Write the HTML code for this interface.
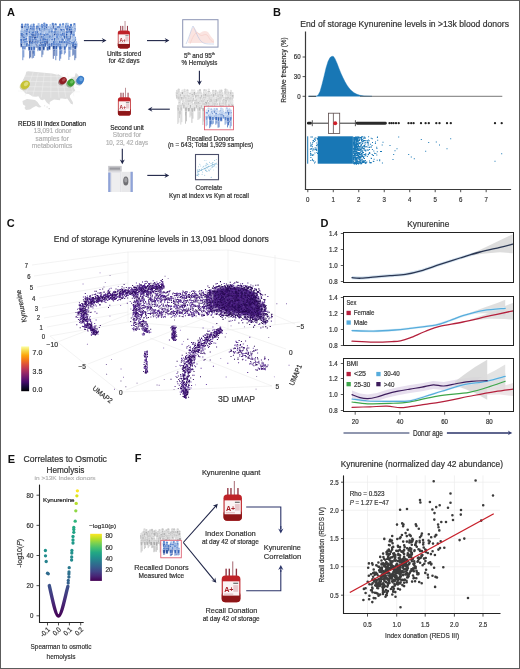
<!DOCTYPE html>
<html><head><meta charset="utf-8"><style>
html,body{margin:0;padding:0;background:#fff;}
svg{display:block;font-family:"Liberation Sans", sans-serif;will-change:transform;}
</style></head><body>
<svg width="520" height="669" viewBox="0 0 520 669">
<rect x="0" y="0" width="520" height="669" fill="#fff"/>
<text x="6.90" y="15.80" font-size="11" fill="#111" font-weight="bold">A</text>
<path d="M20.8 25.8h2.7l-0.3 4.2h-2.1zM24.3 25.8h2.7l-0.3 4.2h-2.1zM32.3 25.8h2.7l-0.3 4.2h-2.1zM51.5 25.1h2.7l-0.3 4.2h-2.1zM73.0 25.2h2.7l-0.3 4.2h-2.1z" fill="#1f4598" stroke="#fff" stroke-width="0.35"/>
<path d="M26.4 25.9h2.7l-0.3 4.2h-2.1zM40.5 26.1h2.7l-0.3 4.2h-2.1zM42.9 24.8h2.7l-0.3 4.2h-2.1zM58.8 25.8h2.7l-0.3 4.2h-2.1zM61.7 25.4h2.7l-0.3 4.2h-2.1z" fill="#2f5fb5" stroke="#fff" stroke-width="0.35"/>
<path d="M30.2 26.0h2.7l-0.3 4.2h-2.1zM37.2 25.2h2.7l-0.3 4.2h-2.1zM49.2 26.1h2.7l-0.3 4.2h-2.1zM64.9 25.0h2.7l-0.3 4.2h-2.1zM66.4 24.9h2.7l-0.3 4.2h-2.1z" fill="#3a68bd" stroke="#fff" stroke-width="0.35"/>
<path d="M45.3 26.1h2.7l-0.3 4.2h-2.1zM54.3 25.6h2.7l-0.3 4.2h-2.1zM69.6 26.1h2.7l-0.3 4.2h-2.1z" fill="#2550a5" stroke="#fff" stroke-width="0.35"/>
<path d="M22.1 24.8h0M25.7 24.8h0M33.6 24.8h0M52.8 24.0h0M74.4 24.1h0" stroke="#fff" stroke-width="2.75" stroke-linecap="round" opacity="0.6"/><path d="M22.1 24.8h0M25.7 24.8h0M33.6 24.8h0M52.8 24.0h0M74.4 24.1h0" stroke="#5b86cf" stroke-width="2.40" stroke-linecap="round"/>
<path d="M27.8 24.8h0M41.9 25.0h0M44.3 23.7h0M60.1 24.8h0M63.1 24.3h0" stroke="#fff" stroke-width="2.75" stroke-linecap="round" opacity="0.6"/><path d="M27.8 24.8h0M41.9 25.0h0M44.3 23.7h0M60.1 24.8h0M63.1 24.3h0" stroke="#6a92d6" stroke-width="2.40" stroke-linecap="round"/>
<path d="M31.5 25.0h0M38.6 24.1h0M50.5 25.1h0M67.7 23.9h0" stroke="#fff" stroke-width="2.75" stroke-linecap="round" opacity="0.6"/><path d="M31.5 25.0h0M38.6 24.1h0M50.5 25.1h0M67.7 23.9h0" stroke="#a9c3ea" stroke-width="2.40" stroke-linecap="round"/>
<path d="M46.6 25.0h0M55.6 24.5h0M71.0 25.0h0" stroke="#fff" stroke-width="2.75" stroke-linecap="round" opacity="0.6"/><path d="M46.6 25.0h0M55.6 24.5h0M71.0 25.0h0" stroke="#4f7cc8" stroke-width="2.40" stroke-linecap="round"/>
<path d="M66.3 24.0h0" stroke="#fff" stroke-width="2.75" stroke-linecap="round" opacity="0.6"/><path d="M66.3 24.0h0" stroke="#8fb0e0" stroke-width="2.40" stroke-linecap="round"/>
<path d="M23.6 27.7h2.7l-0.3 4.2h-2.1zM32.0 28.4h2.7l-0.3 4.2h-2.1zM35.6 27.8h2.7l-0.3 4.2h-2.1zM56.7 28.2h2.7l-0.3 4.2h-2.1zM66.3 27.6h2.7l-0.3 4.2h-2.1z" fill="#1f4598" stroke="#fff" stroke-width="0.35"/>
<path d="M25.6 28.3h2.7l-0.3 4.2h-2.1zM38.5 27.4h2.7l-0.3 4.2h-2.1zM47.2 28.4h2.7l-0.3 4.2h-2.1zM50.2 27.6h2.7l-0.3 4.2h-2.1zM54.1 27.8h2.7l-0.3 4.2h-2.1zM60.0 28.4h2.7l-0.3 4.2h-2.1zM62.3 28.5h2.7l-0.3 4.2h-2.1zM71.1 28.6h2.7l-0.3 4.2h-2.1zM73.1 27.9h2.7l-0.3 4.2h-2.1z" fill="#3a68bd" stroke="#fff" stroke-width="0.35"/>
<path d="M29.3 27.4h2.7l-0.3 4.2h-2.1zM43.4 27.6h2.7l-0.3 4.2h-2.1z" fill="#2f5fb5" stroke="#fff" stroke-width="0.35"/>
<path d="M40.8 28.2h2.7l-0.3 4.2h-2.1zM68.5 28.5h2.7l-0.3 4.2h-2.1z" fill="#2550a5" stroke="#fff" stroke-width="0.35"/>
<path d="M25.0 26.6h0M33.4 27.3h0M36.9 26.8h0M58.1 27.1h0M67.7 26.5h0" stroke="#fff" stroke-width="2.75" stroke-linecap="round" opacity="0.6"/><path d="M25.0 26.6h0M33.4 27.3h0M36.9 26.8h0M58.1 27.1h0M67.7 26.5h0" stroke="#5b86cf" stroke-width="2.40" stroke-linecap="round"/>
<path d="M26.9 27.2h0M72.5 27.6h0" stroke="#fff" stroke-width="2.75" stroke-linecap="round" opacity="0.6"/><path d="M26.9 27.2h0M72.5 27.6h0" stroke="#8fb0e0" stroke-width="2.40" stroke-linecap="round"/>
<path d="M30.7 26.4h0M44.8 26.5h0" stroke="#fff" stroke-width="2.75" stroke-linecap="round" opacity="0.6"/><path d="M30.7 26.4h0M44.8 26.5h0" stroke="#6a92d6" stroke-width="2.40" stroke-linecap="round"/>
<path d="M39.9 26.3h0M48.5 27.3h0M51.5 26.6h0M55.5 26.7h0M61.3 27.3h0M63.6 27.4h0M74.5 26.8h0" stroke="#fff" stroke-width="2.75" stroke-linecap="round" opacity="0.6"/><path d="M39.9 26.3h0M48.5 27.3h0M51.5 26.6h0M55.5 26.7h0M61.3 27.3h0M63.6 27.4h0M74.5 26.8h0" stroke="#a9c3ea" stroke-width="2.40" stroke-linecap="round"/>
<path d="M42.1 27.1h0M69.8 27.5h0" stroke="#fff" stroke-width="2.75" stroke-linecap="round" opacity="0.6"/><path d="M42.1 27.1h0M69.8 27.5h0" stroke="#4f7cc8" stroke-width="2.40" stroke-linecap="round"/>
<path d="M20.6 30.2h2.7l-0.3 4.2h-2.1zM23.4 30.1h2.7l-0.3 4.2h-2.1zM28.2 31.0h2.7l-0.3 4.2h-2.1zM36.0 30.9h2.7l-0.3 4.2h-2.1zM39.8 30.0h2.7l-0.3 4.2h-2.1zM41.8 30.3h2.7l-0.3 4.2h-2.1zM44.8 30.6h2.7l-0.3 4.2h-2.1zM48.1 30.8h2.7l-0.3 4.2h-2.1zM50.7 30.6h2.7l-0.3 4.2h-2.1zM57.1 30.2h2.7l-0.3 4.2h-2.1zM72.1 30.6h2.7l-0.3 4.2h-2.1z" fill="#3a68bd" stroke="#fff" stroke-width="0.35"/>
<path d="M31.5 29.9h2.7l-0.3 4.2h-2.1zM32.3 30.0h2.7l-0.3 4.2h-2.1zM62.6 31.0h2.7l-0.3 4.2h-2.1z" fill="#2f5fb5" stroke="#fff" stroke-width="0.35"/>
<path d="M54.5 30.4h2.7l-0.3 4.2h-2.1zM65.6 30.4h2.7l-0.3 4.2h-2.1z" fill="#2550a5" stroke="#fff" stroke-width="0.35"/>
<path d="M61.8 31.2h2.7l-0.3 4.2h-2.1zM69.8 30.5h2.7l-0.3 4.2h-2.1z" fill="#1f4598" stroke="#fff" stroke-width="0.35"/>
<path d="M21.9 29.1h0M24.8 29.0h0M58.4 29.2h0M73.5 29.6h0" stroke="#fff" stroke-width="2.75" stroke-linecap="round" opacity="0.6"/><path d="M21.9 29.1h0M24.8 29.0h0M58.4 29.2h0M73.5 29.6h0" stroke="#a9c3ea" stroke-width="2.40" stroke-linecap="round"/>
<path d="M29.5 29.9h0M37.3 29.8h0M41.2 28.9h0M43.1 29.2h0M46.1 29.5h0M49.5 29.7h0M52.1 29.5h0" stroke="#fff" stroke-width="2.75" stroke-linecap="round" opacity="0.6"/><path d="M29.5 29.9h0M37.3 29.8h0M41.2 28.9h0M43.1 29.2h0M46.1 29.5h0M49.5 29.7h0M52.1 29.5h0" stroke="#8fb0e0" stroke-width="2.40" stroke-linecap="round"/>
<path d="M32.9 28.8h0M33.7 28.9h0M63.9 29.9h0" stroke="#fff" stroke-width="2.75" stroke-linecap="round" opacity="0.6"/><path d="M32.9 28.8h0M33.7 28.9h0M63.9 29.9h0" stroke="#6a92d6" stroke-width="2.40" stroke-linecap="round"/>
<path d="M55.8 29.3h0M67.0 29.3h0" stroke="#fff" stroke-width="2.75" stroke-linecap="round" opacity="0.6"/><path d="M55.8 29.3h0M67.0 29.3h0" stroke="#4f7cc8" stroke-width="2.40" stroke-linecap="round"/>
<path d="M63.2 30.2h0M71.2 29.4h0" stroke="#fff" stroke-width="2.75" stroke-linecap="round" opacity="0.6"/><path d="M63.2 30.2h0M71.2 29.4h0" stroke="#5b86cf" stroke-width="2.40" stroke-linecap="round"/>
<path d="M20.3 32.5h2.7l-0.3 4.2h-2.1zM22.7 33.3h2.7l-0.3 4.2h-2.1zM29.8 32.8h2.7l-0.3 4.2h-2.1zM38.9 33.2h2.7l-0.3 4.2h-2.1zM42.2 33.6h2.7l-0.3 4.2h-2.1zM44.9 33.1h2.7l-0.3 4.2h-2.1zM46.8 33.1h2.7l-0.3 4.2h-2.1zM56.2 32.8h2.7l-0.3 4.2h-2.1zM59.0 33.3h2.7l-0.3 4.2h-2.1zM61.5 32.4h2.7l-0.3 4.2h-2.1zM72.4 33.6h2.7l-0.3 4.2h-2.1z" fill="#3a68bd" stroke="#fff" stroke-width="0.35"/>
<path d="M25.2 32.6h2.7l-0.3 4.2h-2.1zM34.4 33.0h2.7l-0.3 4.2h-2.1zM67.6 32.9h2.7l-0.3 4.2h-2.1z" fill="#2f5fb5" stroke="#fff" stroke-width="0.35"/>
<path d="M31.5 33.7h2.7l-0.3 4.2h-2.1zM65.4 33.5h2.7l-0.3 4.2h-2.1z" fill="#2550a5" stroke="#fff" stroke-width="0.35"/>
<path d="M50.3 32.6h2.7l-0.3 4.2h-2.1zM53.1 33.2h2.7l-0.3 4.2h-2.1z" fill="#1f4598" stroke="#fff" stroke-width="0.35"/>
<path d="M21.6 31.4h0M24.1 32.3h0M31.2 31.8h0M48.2 32.0h0M57.5 31.7h0M60.3 32.2h0M62.9 31.4h0M73.7 32.5h0" stroke="#fff" stroke-width="2.75" stroke-linecap="round" opacity="0.6"/><path d="M21.6 31.4h0M24.1 32.3h0M31.2 31.8h0M48.2 32.0h0M57.5 31.7h0M60.3 32.2h0M62.9 31.4h0M73.7 32.5h0" stroke="#8fb0e0" stroke-width="2.40" stroke-linecap="round"/>
<path d="M26.6 31.5h0M35.7 31.9h0M68.9 31.8h0" stroke="#fff" stroke-width="2.75" stroke-linecap="round" opacity="0.6"/><path d="M26.6 31.5h0M35.7 31.9h0M68.9 31.8h0" stroke="#6a92d6" stroke-width="2.40" stroke-linecap="round"/>
<path d="M32.8 32.6h0M66.8 32.5h0" stroke="#fff" stroke-width="2.75" stroke-linecap="round" opacity="0.6"/><path d="M32.8 32.6h0M66.8 32.5h0" stroke="#4f7cc8" stroke-width="2.40" stroke-linecap="round"/>
<path d="M40.2 32.1h0M43.5 32.5h0M46.2 32.0h0" stroke="#fff" stroke-width="2.75" stroke-linecap="round" opacity="0.6"/><path d="M40.2 32.1h0M43.5 32.5h0M46.2 32.0h0" stroke="#a9c3ea" stroke-width="2.40" stroke-linecap="round"/>
<path d="M51.7 31.5h0M54.5 32.2h0" stroke="#fff" stroke-width="2.75" stroke-linecap="round" opacity="0.6"/><path d="M51.7 31.5h0M54.5 32.2h0" stroke="#5b86cf" stroke-width="2.40" stroke-linecap="round"/>
<path d="M20.5 35.0h2.7l-0.3 4.2h-2.1zM29.5 35.4h2.7l-0.3 4.2h-2.1zM43.3 36.2h2.7l-0.3 4.2h-2.1zM68.9 35.5h2.7l-0.3 4.2h-2.1z" fill="#2550a5" stroke="#fff" stroke-width="0.35"/>
<path d="M23.7 36.2h2.7l-0.3 4.2h-2.1zM28.3 35.8h2.7l-0.3 4.2h-2.1zM48.7 35.1h2.7l-0.3 4.2h-2.1zM51.1 35.1h2.7l-0.3 4.2h-2.1zM67.5 35.2h2.7l-0.3 4.2h-2.1z" fill="#3a68bd" stroke="#fff" stroke-width="0.35"/>
<path d="M33.7 36.2h2.7l-0.3 4.2h-2.1zM39.3 35.4h2.7l-0.3 4.2h-2.1zM45.9 35.4h2.7l-0.3 4.2h-2.1zM55.7 35.7h2.7l-0.3 4.2h-2.1z" fill="#1f4598" stroke="#fff" stroke-width="0.35"/>
<path d="M36.6 35.1h2.7l-0.3 4.2h-2.1zM56.7 36.2h2.7l-0.3 4.2h-2.1zM59.5 36.1h2.7l-0.3 4.2h-2.1zM62.8 35.1h2.7l-0.3 4.2h-2.1zM72.0 35.9h2.7l-0.3 4.2h-2.1z" fill="#2f5fb5" stroke="#fff" stroke-width="0.35"/>
<path d="M21.8 33.9h0M30.9 34.4h0M44.6 35.1h0M70.2 34.5h0" stroke="#fff" stroke-width="2.75" stroke-linecap="round" opacity="0.6"/><path d="M21.8 33.9h0M30.9 34.4h0M44.6 35.1h0M70.2 34.5h0" stroke="#4f7cc8" stroke-width="2.40" stroke-linecap="round"/>
<path d="M25.1 35.2h0M29.6 34.7h0M52.4 34.0h0" stroke="#fff" stroke-width="2.75" stroke-linecap="round" opacity="0.6"/><path d="M25.1 35.2h0M29.6 34.7h0M52.4 34.0h0" stroke="#8fb0e0" stroke-width="2.40" stroke-linecap="round"/>
<path d="M35.1 35.1h0M40.7 34.3h0M47.2 34.4h0M57.0 34.7h0" stroke="#fff" stroke-width="2.75" stroke-linecap="round" opacity="0.6"/><path d="M35.1 35.1h0M40.7 34.3h0M47.2 34.4h0M57.0 34.7h0" stroke="#5b86cf" stroke-width="2.40" stroke-linecap="round"/>
<path d="M38.0 34.1h0M58.1 35.1h0M60.9 35.0h0M64.2 34.0h0M73.3 34.8h0" stroke="#fff" stroke-width="2.75" stroke-linecap="round" opacity="0.6"/><path d="M38.0 34.1h0M58.1 35.1h0M60.9 35.0h0M64.2 34.0h0M73.3 34.8h0" stroke="#6a92d6" stroke-width="2.40" stroke-linecap="round"/>
<path d="M50.1 34.0h0M68.8 34.1h0" stroke="#fff" stroke-width="2.75" stroke-linecap="round" opacity="0.6"/><path d="M50.1 34.0h0M68.8 34.1h0" stroke="#a9c3ea" stroke-width="2.40" stroke-linecap="round"/>
<path d="M29.6 42.0v16.4M30.6 42.0v15.4" stroke="#1f4598" stroke-width="0.70"/>
<path d="M54.3 41.7v9.0M55.3 41.7v8.0" stroke="#3a68bd" stroke-width="0.70"/>
<path d="M20.0 38.6h2.7l-0.3 4.2h-2.1zM24.7 37.6h2.7l-0.3 4.2h-2.1zM38.1 37.9h2.7l-0.3 4.2h-2.1zM44.4 38.1h2.7l-0.3 4.2h-2.1zM46.6 38.1h2.7l-0.3 4.2h-2.1zM50.3 38.6h2.7l-0.3 4.2h-2.1zM53.4 37.6h2.7l-0.3 4.2h-2.1zM58.0 37.5h2.7l-0.3 4.2h-2.1zM61.4 38.7h2.7l-0.3 4.2h-2.1zM67.4 37.7h2.7l-0.3 4.2h-2.1zM72.1 38.5h2.7l-0.3 4.2h-2.1z" fill="#3a68bd" stroke="#fff" stroke-width="0.35"/>
<path d="M22.4 38.5h2.7l-0.3 4.2h-2.1zM31.0 38.9h2.7l-0.3 4.2h-2.1zM65.3 38.0h2.7l-0.3 4.2h-2.1z" fill="#2550a5" stroke="#fff" stroke-width="0.35"/>
<path d="M28.7 38.0h2.7l-0.3 4.2h-2.1zM35.9 38.6h2.7l-0.3 4.2h-2.1z" fill="#1f4598" stroke="#fff" stroke-width="0.35"/>
<path d="M41.8 38.0h2.7l-0.3 4.2h-2.1zM55.6 38.1h2.7l-0.3 4.2h-2.1zM73.5 38.8h2.7l-0.3 4.2h-2.1z" fill="#2f5fb5" stroke="#fff" stroke-width="0.35"/>
<path d="M21.3 37.6h0M26.1 36.5h0M39.5 36.8h0M45.8 37.1h0M48.0 37.0h0M51.7 37.5h0M59.4 36.5h0M68.8 36.6h0" stroke="#fff" stroke-width="2.75" stroke-linecap="round" opacity="0.6"/><path d="M21.3 37.6h0M26.1 36.5h0M39.5 36.8h0M45.8 37.1h0M48.0 37.0h0M51.7 37.5h0M59.4 36.5h0M68.8 36.6h0" stroke="#8fb0e0" stroke-width="2.40" stroke-linecap="round"/>
<path d="M23.8 37.4h0M32.4 37.8h0M66.6 36.9h0" stroke="#fff" stroke-width="2.75" stroke-linecap="round" opacity="0.6"/><path d="M23.8 37.4h0M32.4 37.8h0M66.6 36.9h0" stroke="#4f7cc8" stroke-width="2.40" stroke-linecap="round"/>
<path d="M30.0 36.9h0M37.3 37.5h0" stroke="#fff" stroke-width="2.75" stroke-linecap="round" opacity="0.6"/><path d="M30.0 36.9h0M37.3 37.5h0" stroke="#5b86cf" stroke-width="2.40" stroke-linecap="round"/>
<path d="M43.2 36.9h0M57.0 37.0h0M74.8 37.7h0" stroke="#fff" stroke-width="2.75" stroke-linecap="round" opacity="0.6"/><path d="M43.2 36.9h0M57.0 37.0h0M74.8 37.7h0" stroke="#6a92d6" stroke-width="2.40" stroke-linecap="round"/>
<path d="M54.8 36.6h0M62.7 37.6h0M73.5 37.4h0" stroke="#fff" stroke-width="2.75" stroke-linecap="round" opacity="0.6"/><path d="M54.8 36.6h0M62.7 37.6h0M73.5 37.4h0" stroke="#a9c3ea" stroke-width="2.40" stroke-linecap="round"/>
<path d="M32.2 44.8v13.6M33.2 44.8v8.9" stroke="#1f4598" stroke-width="0.70"/>
<path d="M37.9 44.1v7.1M38.9 44.1v4.9" stroke="#3a68bd" stroke-width="0.70"/>
<path d="M22.6 41.4h2.7l-0.3 4.2h-2.1zM23.6 40.7h2.7l-0.3 4.2h-2.1zM42.5 40.2h2.7l-0.3 4.2h-2.1zM60.7 40.6h2.7l-0.3 4.2h-2.1z" fill="#2550a5" stroke="#fff" stroke-width="0.35"/>
<path d="M28.6 40.1h2.7l-0.3 4.2h-2.1zM31.3 40.8h2.7l-0.3 4.2h-2.1zM34.2 40.7h2.7l-0.3 4.2h-2.1zM39.3 41.2h2.7l-0.3 4.2h-2.1zM45.9 40.7h2.7l-0.3 4.2h-2.1zM51.0 40.7h2.7l-0.3 4.2h-2.1z" fill="#1f4598" stroke="#fff" stroke-width="0.35"/>
<path d="M37.0 40.1h2.7l-0.3 4.2h-2.1zM47.9 40.9h2.7l-0.3 4.2h-2.1zM55.2 40.9h2.7l-0.3 4.2h-2.1zM58.7 40.4h2.7l-0.3 4.2h-2.1zM64.6 41.0h2.7l-0.3 4.2h-2.1zM70.9 41.3h2.7l-0.3 4.2h-2.1zM72.6 40.3h2.7l-0.3 4.2h-2.1z" fill="#3a68bd" stroke="#fff" stroke-width="0.35"/>
<path d="M66.7 41.0h2.7l-0.3 4.2h-2.1z" fill="#2f5fb5" stroke="#fff" stroke-width="0.35"/>
<path d="M23.9 40.3h0M24.9 39.6h0M43.9 39.1h0M62.1 39.5h0" stroke="#fff" stroke-width="2.75" stroke-linecap="round" opacity="0.6"/><path d="M23.9 40.3h0M24.9 39.6h0M43.9 39.1h0M62.1 39.5h0" stroke="#4f7cc8" stroke-width="2.40" stroke-linecap="round"/>
<path d="M29.9 39.1h0M32.7 39.7h0M35.5 39.6h0M40.6 40.1h0M47.3 39.7h0M52.3 39.6h0" stroke="#fff" stroke-width="2.75" stroke-linecap="round" opacity="0.6"/><path d="M29.9 39.1h0M32.7 39.7h0M35.5 39.6h0M40.6 40.1h0M47.3 39.7h0M52.3 39.6h0" stroke="#5b86cf" stroke-width="2.40" stroke-linecap="round"/>
<path d="M38.3 39.0h0M60.1 39.3h0M72.3 40.2h0M74.0 39.2h0" stroke="#fff" stroke-width="2.75" stroke-linecap="round" opacity="0.6"/><path d="M38.3 39.0h0M60.1 39.3h0M72.3 40.2h0M74.0 39.2h0" stroke="#a9c3ea" stroke-width="2.40" stroke-linecap="round"/>
<path d="M49.3 39.9h0M56.6 39.8h0M65.9 39.9h0" stroke="#fff" stroke-width="2.75" stroke-linecap="round" opacity="0.6"/><path d="M49.3 39.9h0M56.6 39.8h0M65.9 39.9h0" stroke="#8fb0e0" stroke-width="2.40" stroke-linecap="round"/>
<path d="M68.0 40.0h0" stroke="#fff" stroke-width="2.75" stroke-linecap="round" opacity="0.6"/><path d="M68.0 40.0h0" stroke="#6a92d6" stroke-width="2.40" stroke-linecap="round"/>
<path d="M41.9 47.5v9.7M42.9 47.5v7.2M72.8 48.0v7.7M73.8 48.0v6.8" stroke="#2550a5" stroke-width="0.70"/>
<path d="M20.2 43.1h2.7l-0.3 4.2h-2.1zM36.1 43.9h2.7l-0.3 4.2h-2.1z" fill="#1f4598" stroke="#fff" stroke-width="0.35"/>
<path d="M23.4 42.8h2.7l-0.3 4.2h-2.1zM25.3 42.7h2.7l-0.3 4.2h-2.1zM33.1 43.5h2.7l-0.3 4.2h-2.1zM64.7 43.1h2.7l-0.3 4.2h-2.1zM68.5 42.6h2.7l-0.3 4.2h-2.1z" fill="#2f5fb5" stroke="#fff" stroke-width="0.35"/>
<path d="M30.1 43.9h2.7l-0.3 4.2h-2.1zM41.0 43.5h2.7l-0.3 4.2h-2.1zM43.6 42.8h2.7l-0.3 4.2h-2.1zM52.4 43.0h2.7l-0.3 4.2h-2.1zM60.1 43.2h2.7l-0.3 4.2h-2.1zM63.1 43.3h2.7l-0.3 4.2h-2.1zM71.9 43.9h2.7l-0.3 4.2h-2.1z" fill="#2550a5" stroke="#fff" stroke-width="0.35"/>
<path d="M37.8 43.9h2.7l-0.3 4.2h-2.1zM48.2 43.4h2.7l-0.3 4.2h-2.1zM50.4 42.6h2.7l-0.3 4.2h-2.1zM56.4 43.0h2.7l-0.3 4.2h-2.1zM74.8 43.2h2.7l-0.3 4.2h-2.1z" fill="#3a68bd" stroke="#fff" stroke-width="0.35"/>
<path d="M21.5 42.1h0M37.5 42.8h0" stroke="#fff" stroke-width="2.75" stroke-linecap="round" opacity="0.6"/><path d="M21.5 42.1h0M37.5 42.8h0" stroke="#5b86cf" stroke-width="2.40" stroke-linecap="round"/>
<path d="M24.8 41.7h0M26.7 41.6h0M34.4 42.4h0M66.1 42.0h0M69.8 41.5h0" stroke="#fff" stroke-width="2.75" stroke-linecap="round" opacity="0.6"/><path d="M24.8 41.7h0M26.7 41.6h0M34.4 42.4h0M66.1 42.0h0M69.8 41.5h0" stroke="#6a92d6" stroke-width="2.40" stroke-linecap="round"/>
<path d="M31.4 42.8h0M42.4 42.4h0M44.9 41.7h0M53.7 41.9h0M61.4 42.1h0M64.4 42.2h0M73.3 42.9h0" stroke="#fff" stroke-width="2.75" stroke-linecap="round" opacity="0.6"/><path d="M31.4 42.8h0M42.4 42.4h0M44.9 41.7h0M53.7 41.9h0M61.4 42.1h0M64.4 42.2h0M73.3 42.9h0" stroke="#4f7cc8" stroke-width="2.40" stroke-linecap="round"/>
<path d="M39.1 42.8h0M57.7 41.9h0" stroke="#fff" stroke-width="2.75" stroke-linecap="round" opacity="0.6"/><path d="M39.1 42.8h0M57.7 41.9h0" stroke="#8fb0e0" stroke-width="2.40" stroke-linecap="round"/>
<path d="M49.6 42.3h0M51.8 41.5h0M76.1 42.1h0" stroke="#fff" stroke-width="2.75" stroke-linecap="round" opacity="0.6"/><path d="M49.6 42.3h0M51.8 41.5h0M76.1 42.1h0" stroke="#a9c3ea" stroke-width="2.40" stroke-linecap="round"/>
<path d="M22.8 49.6v10.6M23.8 49.6v7.8M33.6 50.1v7.8M34.6 50.1v5.8M60.9 49.5v5.0M61.9 49.5v4.5M64.3 49.9v4.6M65.3 49.9v3.3M68.9 50.2v9.8M69.9 50.2v6.7" stroke="#3a68bd" stroke-width="0.70"/>
<path d="M53.3 49.4v9.4M54.3 49.4v6.5" stroke="#1f4598" stroke-width="0.70"/>
<path d="M55.8 49.3v10.9M56.8 49.3v6.6M59.7 49.9v10.8M60.7 49.9v8.8" stroke="#2f5fb5" stroke-width="0.70"/>
<path d="M74.8 49.5v10.7M75.8 49.5v8.7" stroke="#2550a5" stroke-width="0.70"/>
<path d="M21.9 45.6h2.7l-0.3 4.2h-2.1zM23.2 45.4h2.7l-0.3 4.2h-2.1zM30.2 46.3h2.7l-0.3 4.2h-2.1zM32.7 46.1h2.7l-0.3 4.2h-2.1zM37.4 45.7h2.7l-0.3 4.2h-2.1zM60.0 45.4h2.7l-0.3 4.2h-2.1zM63.4 45.9h2.7l-0.3 4.2h-2.1zM68.0 46.2h2.7l-0.3 4.2h-2.1zM69.0 45.9h2.7l-0.3 4.2h-2.1z" fill="#3a68bd" stroke="#fff" stroke-width="0.35"/>
<path d="M28.0 46.2h2.7l-0.3 4.2h-2.1zM38.5 46.5h2.7l-0.3 4.2h-2.1zM42.3 46.0h2.7l-0.3 4.2h-2.1zM73.9 45.4h2.7l-0.3 4.2h-2.1z" fill="#2550a5" stroke="#fff" stroke-width="0.35"/>
<path d="M46.4 46.2h2.7l-0.3 4.2h-2.1zM54.9 45.3h2.7l-0.3 4.2h-2.1zM58.8 45.8h2.7l-0.3 4.2h-2.1z" fill="#2f5fb5" stroke="#fff" stroke-width="0.35"/>
<path d="M48.0 45.6h2.7l-0.3 4.2h-2.1zM52.4 45.4h2.7l-0.3 4.2h-2.1z" fill="#1f4598" stroke="#fff" stroke-width="0.35"/>
<path d="M23.3 44.5h0M34.1 45.0h0M38.7 44.6h0M64.8 44.8h0M69.3 45.1h0" stroke="#fff" stroke-width="2.75" stroke-linecap="round" opacity="0.6"/><path d="M23.3 44.5h0M34.1 45.0h0M38.7 44.6h0M64.8 44.8h0M69.3 45.1h0" stroke="#a9c3ea" stroke-width="2.40" stroke-linecap="round"/>
<path d="M24.6 44.3h0M31.6 45.2h0M61.4 44.4h0M70.4 44.8h0" stroke="#fff" stroke-width="2.75" stroke-linecap="round" opacity="0.6"/><path d="M24.6 44.3h0M31.6 45.2h0M61.4 44.4h0M70.4 44.8h0" stroke="#8fb0e0" stroke-width="2.40" stroke-linecap="round"/>
<path d="M29.3 45.1h0M39.8 45.4h0M43.7 44.9h0M75.3 44.4h0" stroke="#fff" stroke-width="2.75" stroke-linecap="round" opacity="0.6"/><path d="M29.3 45.1h0M39.8 45.4h0M43.7 44.9h0M75.3 44.4h0" stroke="#4f7cc8" stroke-width="2.40" stroke-linecap="round"/>
<path d="M47.8 45.2h0M56.2 44.2h0M60.1 44.8h0" stroke="#fff" stroke-width="2.75" stroke-linecap="round" opacity="0.6"/><path d="M47.8 45.2h0M56.2 44.2h0M60.1 44.8h0" stroke="#6a92d6" stroke-width="2.40" stroke-linecap="round"/>
<path d="M49.4 44.5h0M53.8 44.3h0" stroke="#fff" stroke-width="2.75" stroke-linecap="round" opacity="0.6"/><path d="M49.4 44.5h0M53.8 44.3h0" stroke="#5b86cf" stroke-width="2.40" stroke-linecap="round"/>
<line x1="83.90" y1="40.60" x2="103.62" y2="40.60" stroke="#1d2346" stroke-width="1.1"/>
<polygon points="106.50,40.60 101.70,43.10 103.38,40.60 101.70,38.10" fill="#1d2346"/>
<rect x="124.63" y="20.99" width="0.80" height="9.77" fill="#b07880"/>
<rect x="120.24" y="25.88" width="0.96" height="4.89" fill="#8c2c3a"/>
<rect x="122.31" y="25.88" width="0.96" height="4.89" fill="#8c2c3a"/>
<rect x="126.95" y="25.88" width="0.96" height="4.89" fill="#8c2c3a"/>
<rect x="117.80" y="30.40" width="12.20" height="18.10" rx="2.44" fill="#bf2228"/>
<rect x="117.80" y="41.26" width="12.20" height="7.24" rx="2.44" fill="#8e1618"/>
<rect x="118.53" y="34.38" width="10.74" height="9.59" fill="#fbf4f4"/>
<text x="119.39" y="41.80" font-size="4.89" font-weight="bold" fill="#a81e26">A+</text>
<rect x="125.36" y="35.29" width="3.17" height="0.91" fill="#777"/>
<rect x="125.36" y="36.92" width="3.17" height="4.53" fill="#e8c8cc"/>
<rect x="119.26" y="42.71" width="6.10" height="0.54" fill="#d8a0a8"/>
<text x="124.10" y="56.20" font-size="6.4" fill="#333" stroke="#333" stroke-width="0.2" text-anchor="middle" textLength="34.40" lengthAdjust="spacingAndGlyphs">Units stored</text>
<text x="124.10" y="63.00" font-size="6.4" fill="#333" stroke="#333" stroke-width="0.2" text-anchor="middle" textLength="30.90" lengthAdjust="spacingAndGlyphs">for 42 days</text>
<line x1="147.00" y1="40.60" x2="166.52" y2="40.60" stroke="#1d2346" stroke-width="1.1"/>
<polygon points="169.40,40.60 164.60,43.10 166.28,40.60 164.60,38.10" fill="#1d2346"/>
<rect x="182.7" y="19.7" width="35.3" height="27.4" fill="#fff" stroke="#8a93b3" stroke-width="1"/>
<path d="M189,38 C191,30 192,28 194,27 C196,30 198,34 200,33 C203,31 205,30 208,32 C210,35 212,38 214,40 L214,43 L188,43 Z" fill="#f4c4bc" opacity="0.45"/>
<path d="M186,44 C189,38 191,30 193,26 C195,29 197,36 200,40 C203,44 206,44 214,44" fill="none" stroke="#b8c2e0" stroke-width="0.6"/>
<path d="M190,44 C193,36 196,30 199,34 C202,38 205,32 208,36 C210,40 212,42 214,42" fill="none" stroke="#f0b8b0" stroke-width="0.5" opacity="0.7"/>
<text x="199.40" y="57.70" font-size="6.4" fill="#333" stroke="#333" stroke-width="0.2" text-anchor="middle">5<tspan font-size="3.6" dy="-2.6">th</tspan><tspan dy="2.6"> and 95</tspan><tspan font-size="3.6" dy="-2.6">th</tspan></text>
<text x="199.40" y="64.90" font-size="6.4" fill="#333" stroke="#333" stroke-width="0.2" text-anchor="middle" textLength="35.80" lengthAdjust="spacingAndGlyphs">% Hemolysis</text>
<line x1="199.40" y1="70.80" x2="199.40" y2="82.32" stroke="#1d2346" stroke-width="1.1"/>
<polygon points="199.40,85.20 196.90,80.40 199.40,82.08 201.90,80.40" fill="#1d2346"/>
<path d="M175.7 92.0h2.7l-0.3 4.2h-2.1zM183.1 91.0h2.7l-0.3 4.2h-2.1zM204.5 91.5h2.7l-0.3 4.2h-2.1z" fill="#bdbdbd" stroke="#fff" stroke-width="0.35"/>
<path d="M177.4 90.8h2.7l-0.3 4.2h-2.1zM203.1 91.3h2.7l-0.3 4.2h-2.1zM211.7 92.1h2.7l-0.3 4.2h-2.1z" fill="#c6c6c6" stroke="#fff" stroke-width="0.35"/>
<path d="M181.2 91.7h2.7l-0.3 4.2h-2.1zM190.7 91.6h2.7l-0.3 4.2h-2.1zM192.8 91.4h2.7l-0.3 4.2h-2.1zM196.9 91.9h2.7l-0.3 4.2h-2.1zM207.4 90.9h2.7l-0.3 4.2h-2.1zM218.4 91.7h2.7l-0.3 4.2h-2.1zM225.9 91.6h2.7l-0.3 4.2h-2.1zM229.6 92.0h2.7l-0.3 4.2h-2.1z" fill="#b2b2b2" stroke="#fff" stroke-width="0.35"/>
<path d="M186.0 91.5h2.7l-0.3 4.2h-2.1zM198.6 91.3h2.7l-0.3 4.2h-2.1zM214.2 92.1h2.7l-0.3 4.2h-2.1zM220.1 91.8h2.7l-0.3 4.2h-2.1zM224.1 90.9h2.7l-0.3 4.2h-2.1z" fill="#c2c2c2" stroke="#fff" stroke-width="0.35"/>
<path d="M177.1 90.9h0M184.5 90.0h0M205.9 90.4h0" stroke="#fff" stroke-width="2.75" stroke-linecap="round" opacity="0.6"/><path d="M177.1 90.9h0M184.5 90.0h0M205.9 90.4h0" stroke="#dcdcdc" stroke-width="2.40" stroke-linecap="round"/>
<path d="M178.7 89.7h0M204.4 90.2h0M213.1 91.0h0" stroke="#fff" stroke-width="2.75" stroke-linecap="round" opacity="0.6"/><path d="M178.7 89.7h0M204.4 90.2h0M213.1 91.0h0" stroke="#d4d4d4" stroke-width="2.40" stroke-linecap="round"/>
<path d="M182.5 90.6h0M192.0 90.5h0M194.2 90.4h0M198.3 90.9h0M208.8 89.8h0M219.7 90.6h0M227.3 90.5h0M230.9 90.9h0" stroke="#fff" stroke-width="2.75" stroke-linecap="round" opacity="0.6"/><path d="M182.5 90.6h0M192.0 90.5h0M194.2 90.4h0M198.3 90.9h0M208.8 89.8h0M219.7 90.6h0M227.3 90.5h0M230.9 90.9h0" stroke="#e4e4e4" stroke-width="2.40" stroke-linecap="round"/>
<path d="M187.4 90.4h0M200.0 90.3h0M215.6 91.0h0M221.4 90.7h0M225.5 89.8h0" stroke="#fff" stroke-width="2.75" stroke-linecap="round" opacity="0.6"/><path d="M187.4 90.4h0M200.0 90.3h0M215.6 91.0h0M221.4 90.7h0M225.5 89.8h0" stroke="#cfcfcf" stroke-width="2.40" stroke-linecap="round"/>
<path d="M175.8 94.6h2.7l-0.3 4.2h-2.1zM188.9 94.7h2.7l-0.3 4.2h-2.1z" fill="#c2c2c2" stroke="#fff" stroke-width="0.35"/>
<path d="M178.5 94.0h2.7l-0.3 4.2h-2.1zM183.1 94.5h2.7l-0.3 4.2h-2.1zM185.3 94.4h2.7l-0.3 4.2h-2.1zM190.7 93.8h2.7l-0.3 4.2h-2.1zM204.0 93.4h2.7l-0.3 4.2h-2.1zM208.9 94.4h2.7l-0.3 4.2h-2.1z" fill="#b2b2b2" stroke="#fff" stroke-width="0.35"/>
<path d="M194.8 94.6h2.7l-0.3 4.2h-2.1zM197.2 94.4h2.7l-0.3 4.2h-2.1zM199.8 94.6h2.7l-0.3 4.2h-2.1zM207.1 94.2h2.7l-0.3 4.2h-2.1zM212.1 93.7h2.7l-0.3 4.2h-2.1zM216.4 93.9h2.7l-0.3 4.2h-2.1zM220.9 94.3h2.7l-0.3 4.2h-2.1zM225.6 93.4h2.7l-0.3 4.2h-2.1zM231.2 94.4h2.7l-0.3 4.2h-2.1z" fill="#bdbdbd" stroke="#fff" stroke-width="0.35"/>
<path d="M218.6 93.4h2.7l-0.3 4.2h-2.1zM227.2 93.9h2.7l-0.3 4.2h-2.1z" fill="#c6c6c6" stroke="#fff" stroke-width="0.35"/>
<path d="M177.2 93.5h0M190.2 93.6h0" stroke="#fff" stroke-width="2.75" stroke-linecap="round" opacity="0.6"/><path d="M177.2 93.5h0M190.2 93.6h0" stroke="#cfcfcf" stroke-width="2.40" stroke-linecap="round"/>
<path d="M179.9 92.9h0M184.4 93.4h0M186.6 93.3h0M192.1 92.7h0M205.4 92.3h0M210.2 93.3h0" stroke="#fff" stroke-width="2.75" stroke-linecap="round" opacity="0.6"/><path d="M179.9 92.9h0M184.4 93.4h0M186.6 93.3h0M192.1 92.7h0M205.4 92.3h0M210.2 93.3h0" stroke="#e4e4e4" stroke-width="2.40" stroke-linecap="round"/>
<path d="M196.1 93.6h0M198.5 93.3h0M201.2 93.5h0M208.5 93.1h0M213.5 92.6h0M217.7 92.8h0M222.3 93.2h0M226.9 92.3h0M232.5 93.3h0" stroke="#fff" stroke-width="2.75" stroke-linecap="round" opacity="0.6"/><path d="M196.1 93.6h0M198.5 93.3h0M201.2 93.5h0M208.5 93.1h0M213.5 92.6h0M217.7 92.8h0M222.3 93.2h0M226.9 92.3h0M232.5 93.3h0" stroke="#dcdcdc" stroke-width="2.40" stroke-linecap="round"/>
<path d="M219.9 92.3h0M228.5 92.8h0" stroke="#fff" stroke-width="2.75" stroke-linecap="round" opacity="0.6"/><path d="M219.9 92.3h0M228.5 92.8h0" stroke="#d4d4d4" stroke-width="2.40" stroke-linecap="round"/>
<path d="M177.3 96.0h2.7l-0.3 4.2h-2.1zM184.5 96.6h2.7l-0.3 4.2h-2.1zM215.5 96.7h2.7l-0.3 4.2h-2.1zM226.4 96.3h2.7l-0.3 4.2h-2.1z" fill="#bdbdbd" stroke="#fff" stroke-width="0.35"/>
<path d="M180.7 96.4h2.7l-0.3 4.2h-2.1zM189.2 96.6h2.7l-0.3 4.2h-2.1zM198.2 96.7h2.7l-0.3 4.2h-2.1zM224.2 96.9h2.7l-0.3 4.2h-2.1z" fill="#b2b2b2" stroke="#fff" stroke-width="0.35"/>
<path d="M187.5 97.2h2.7l-0.3 4.2h-2.1zM191.8 97.2h2.7l-0.3 4.2h-2.1zM205.7 96.9h2.7l-0.3 4.2h-2.1zM207.6 96.9h2.7l-0.3 4.2h-2.1zM210.3 96.2h2.7l-0.3 4.2h-2.1zM219.4 96.1h2.7l-0.3 4.2h-2.1zM229.3 96.2h2.7l-0.3 4.2h-2.1z" fill="#c6c6c6" stroke="#fff" stroke-width="0.35"/>
<path d="M196.7 96.7h2.7l-0.3 4.2h-2.1zM202.4 96.3h2.7l-0.3 4.2h-2.1zM216.7 97.4h2.7l-0.3 4.2h-2.1z" fill="#c2c2c2" stroke="#fff" stroke-width="0.35"/>
<path d="M178.7 95.0h0M185.8 95.5h0M216.9 95.6h0M227.7 95.3h0" stroke="#fff" stroke-width="2.75" stroke-linecap="round" opacity="0.6"/><path d="M178.7 95.0h0M185.8 95.5h0M216.9 95.6h0M227.7 95.3h0" stroke="#dcdcdc" stroke-width="2.40" stroke-linecap="round"/>
<path d="M182.1 95.3h0M190.6 95.6h0M199.6 95.6h0M225.6 95.8h0" stroke="#fff" stroke-width="2.75" stroke-linecap="round" opacity="0.6"/><path d="M182.1 95.3h0M190.6 95.6h0M199.6 95.6h0M225.6 95.8h0" stroke="#e4e4e4" stroke-width="2.40" stroke-linecap="round"/>
<path d="M188.8 96.2h0M193.2 96.1h0M207.0 95.8h0M209.0 95.8h0M211.6 95.1h0M220.8 95.0h0M230.7 95.1h0" stroke="#fff" stroke-width="2.75" stroke-linecap="round" opacity="0.6"/><path d="M188.8 96.2h0M193.2 96.1h0M207.0 95.8h0M209.0 95.8h0M211.6 95.1h0M220.8 95.0h0M230.7 95.1h0" stroke="#d4d4d4" stroke-width="2.40" stroke-linecap="round"/>
<path d="M198.1 95.6h0M203.7 95.3h0M218.1 96.3h0" stroke="#fff" stroke-width="2.75" stroke-linecap="round" opacity="0.6"/><path d="M198.1 95.6h0M203.7 95.3h0M218.1 96.3h0" stroke="#cfcfcf" stroke-width="2.40" stroke-linecap="round"/>
<path d="M179.5 102.9v15.1M180.5 102.9v11.5" stroke="#c6c6c6" stroke-width="0.70"/>
<path d="M206.6 103.5v10.5M207.6 103.5v9.0" stroke="#b2b2b2" stroke-width="0.70"/>
<path d="M225.6 103.3v11.4M226.6 103.3v8.8" stroke="#c2c2c2" stroke-width="0.70"/>
<path d="M178.6 98.9h2.7l-0.3 4.2h-2.1zM182.0 99.4h2.7l-0.3 4.2h-2.1zM218.6 99.1h2.7l-0.3 4.2h-2.1zM230.6 99.8h2.7l-0.3 4.2h-2.1z" fill="#c6c6c6" stroke="#fff" stroke-width="0.35"/>
<path d="M185.4 99.2h2.7l-0.3 4.2h-2.1zM188.6 99.9h2.7l-0.3 4.2h-2.1zM190.3 99.3h2.7l-0.3 4.2h-2.1zM197.3 99.9h2.7l-0.3 4.2h-2.1zM201.0 99.8h2.7l-0.3 4.2h-2.1zM209.7 98.9h2.7l-0.3 4.2h-2.1zM214.9 98.8h2.7l-0.3 4.2h-2.1zM222.4 98.7h2.7l-0.3 4.2h-2.1z" fill="#bdbdbd" stroke="#fff" stroke-width="0.35"/>
<path d="M195.7 99.0h2.7l-0.3 4.2h-2.1zM205.7 99.5h2.7l-0.3 4.2h-2.1zM212.7 99.2h2.7l-0.3 4.2h-2.1z" fill="#b2b2b2" stroke="#fff" stroke-width="0.35"/>
<path d="M204.0 98.7h2.7l-0.3 4.2h-2.1zM224.7 99.3h2.7l-0.3 4.2h-2.1zM228.6 99.8h2.7l-0.3 4.2h-2.1z" fill="#c2c2c2" stroke="#fff" stroke-width="0.35"/>
<path d="M179.9 97.8h0M183.3 98.3h0M220.0 98.0h0M232.0 98.7h0" stroke="#fff" stroke-width="2.75" stroke-linecap="round" opacity="0.6"/><path d="M179.9 97.8h0M183.3 98.3h0M220.0 98.0h0M232.0 98.7h0" stroke="#d4d4d4" stroke-width="2.40" stroke-linecap="round"/>
<path d="M186.7 98.2h0M189.9 98.9h0M191.6 98.2h0M198.7 98.8h0M202.4 98.7h0M211.1 97.9h0M216.3 97.7h0M223.7 97.6h0" stroke="#fff" stroke-width="2.75" stroke-linecap="round" opacity="0.6"/><path d="M186.7 98.2h0M189.9 98.9h0M191.6 98.2h0M198.7 98.8h0M202.4 98.7h0M211.1 97.9h0M216.3 97.7h0M223.7 97.6h0" stroke="#dcdcdc" stroke-width="2.40" stroke-linecap="round"/>
<path d="M197.0 98.0h0M207.0 98.4h0M214.1 98.1h0" stroke="#fff" stroke-width="2.75" stroke-linecap="round" opacity="0.6"/><path d="M197.0 98.0h0M207.0 98.4h0M214.1 98.1h0" stroke="#e4e4e4" stroke-width="2.40" stroke-linecap="round"/>
<path d="M205.3 97.6h0M226.0 98.2h0M230.0 98.8h0" stroke="#fff" stroke-width="2.75" stroke-linecap="round" opacity="0.6"/><path d="M205.3 97.6h0M226.0 98.2h0M230.0 98.8h0" stroke="#cfcfcf" stroke-width="2.40" stroke-linecap="round"/>
<path d="M179.2 105.4v8.3M180.2 105.4v6.5M185.5 106.3v9.2M186.5 106.3v6.2" stroke="#bdbdbd" stroke-width="0.70"/>
<path d="M190.0 105.7v11.7M191.0 105.7v10.0" stroke="#c2c2c2" stroke-width="0.70"/>
<path d="M178.3 101.4h2.7l-0.3 4.2h-2.1zM181.7 102.4h2.7l-0.3 4.2h-2.1zM184.6 102.2h2.7l-0.3 4.2h-2.1zM211.8 102.0h2.7l-0.3 4.2h-2.1zM218.6 102.2h2.7l-0.3 4.2h-2.1zM227.5 102.1h2.7l-0.3 4.2h-2.1z" fill="#bdbdbd" stroke="#fff" stroke-width="0.35"/>
<path d="M187.3 102.2h2.7l-0.3 4.2h-2.1zM189.1 101.7h2.7l-0.3 4.2h-2.1zM193.9 101.6h2.7l-0.3 4.2h-2.1zM198.2 102.1h2.7l-0.3 4.2h-2.1zM208.7 102.6h2.7l-0.3 4.2h-2.1zM221.4 102.0h2.7l-0.3 4.2h-2.1z" fill="#c2c2c2" stroke="#fff" stroke-width="0.35"/>
<path d="M196.9 101.6h2.7l-0.3 4.2h-2.1zM204.6 101.4h2.7l-0.3 4.2h-2.1zM230.3 102.1h2.7l-0.3 4.2h-2.1z" fill="#b2b2b2" stroke="#fff" stroke-width="0.35"/>
<path d="M201.8 102.4h2.7l-0.3 4.2h-2.1zM213.7 102.5h2.7l-0.3 4.2h-2.1zM222.3 102.4h2.7l-0.3 4.2h-2.1z" fill="#c6c6c6" stroke="#fff" stroke-width="0.35"/>
<path d="M179.6 100.3h0M183.1 101.3h0M185.9 101.2h0M213.2 101.0h0M219.9 101.1h0M228.9 101.0h0" stroke="#fff" stroke-width="2.75" stroke-linecap="round" opacity="0.6"/><path d="M179.6 100.3h0M183.1 101.3h0M185.9 101.2h0M213.2 101.0h0M219.9 101.1h0M228.9 101.0h0" stroke="#dcdcdc" stroke-width="2.40" stroke-linecap="round"/>
<path d="M188.7 101.1h0M190.4 100.6h0M195.3 100.6h0M199.6 101.0h0M210.1 101.5h0M222.8 100.9h0" stroke="#fff" stroke-width="2.75" stroke-linecap="round" opacity="0.6"/><path d="M188.7 101.1h0M190.4 100.6h0M195.3 100.6h0M199.6 101.0h0M210.1 101.5h0M222.8 100.9h0" stroke="#cfcfcf" stroke-width="2.40" stroke-linecap="round"/>
<path d="M198.3 100.5h0M206.0 100.3h0M231.7 101.0h0" stroke="#fff" stroke-width="2.75" stroke-linecap="round" opacity="0.6"/><path d="M198.3 100.5h0M206.0 100.3h0M231.7 101.0h0" stroke="#e4e4e4" stroke-width="2.40" stroke-linecap="round"/>
<path d="M203.2 101.3h0M215.0 101.4h0M223.7 101.3h0" stroke="#fff" stroke-width="2.75" stroke-linecap="round" opacity="0.6"/><path d="M203.2 101.3h0M215.0 101.4h0M223.7 101.3h0" stroke="#d4d4d4" stroke-width="2.40" stroke-linecap="round"/>
<path d="M199.3 108.8v9.8M200.3 108.8v9.3" stroke="#c6c6c6" stroke-width="0.70"/>
<path d="M210.7 108.6v12.9M211.7 108.6v9.1" stroke="#b2b2b2" stroke-width="0.70"/>
<path d="M179.1 104.8h2.7l-0.3 4.2h-2.1zM188.8 104.6h2.7l-0.3 4.2h-2.1zM199.8 104.9h2.7l-0.3 4.2h-2.1zM209.8 104.6h2.7l-0.3 4.2h-2.1zM227.7 104.2h2.7l-0.3 4.2h-2.1zM231.0 104.2h2.7l-0.3 4.2h-2.1z" fill="#b2b2b2" stroke="#fff" stroke-width="0.35"/>
<path d="M182.8 104.2h2.7l-0.3 4.2h-2.1zM185.4 105.2h2.7l-0.3 4.2h-2.1zM191.3 105.2h2.7l-0.3 4.2h-2.1zM219.8 104.7h2.7l-0.3 4.2h-2.1z" fill="#bdbdbd" stroke="#fff" stroke-width="0.35"/>
<path d="M195.1 104.4h2.7l-0.3 4.2h-2.1zM203.3 105.3h2.7l-0.3 4.2h-2.1zM207.1 104.2h2.7l-0.3 4.2h-2.1zM213.5 104.8h2.7l-0.3 4.2h-2.1zM224.1 104.0h2.7l-0.3 4.2h-2.1z" fill="#c2c2c2" stroke="#fff" stroke-width="0.35"/>
<path d="M198.4 104.8h2.7l-0.3 4.2h-2.1zM215.9 105.2h2.7l-0.3 4.2h-2.1zM221.9 104.3h2.7l-0.3 4.2h-2.1z" fill="#c6c6c6" stroke="#fff" stroke-width="0.35"/>
<path d="M180.4 103.7h0M190.2 103.5h0M201.1 103.8h0M211.2 103.5h0M229.1 103.1h0M232.3 103.1h0" stroke="#fff" stroke-width="2.75" stroke-linecap="round" opacity="0.6"/><path d="M180.4 103.7h0M190.2 103.5h0M201.1 103.8h0M211.2 103.5h0M229.1 103.1h0M232.3 103.1h0" stroke="#e4e4e4" stroke-width="2.40" stroke-linecap="round"/>
<path d="M184.2 103.1h0M186.8 104.1h0M192.7 104.1h0M221.1 103.6h0" stroke="#fff" stroke-width="2.75" stroke-linecap="round" opacity="0.6"/><path d="M184.2 103.1h0M186.8 104.1h0M192.7 104.1h0M221.1 103.6h0" stroke="#dcdcdc" stroke-width="2.40" stroke-linecap="round"/>
<path d="M196.5 103.3h0M204.7 104.2h0M208.5 103.1h0M214.9 103.8h0M225.4 102.9h0" stroke="#fff" stroke-width="2.75" stroke-linecap="round" opacity="0.6"/><path d="M196.5 103.3h0M204.7 104.2h0M208.5 103.1h0M214.9 103.8h0M225.4 102.9h0" stroke="#cfcfcf" stroke-width="2.40" stroke-linecap="round"/>
<path d="M199.7 103.7h0M217.2 104.1h0M223.2 103.2h0" stroke="#fff" stroke-width="2.75" stroke-linecap="round" opacity="0.6"/><path d="M199.7 103.7h0M217.2 104.1h0M223.2 103.2h0" stroke="#d4d4d4" stroke-width="2.40" stroke-linecap="round"/>
<path d="M177.8 111.0v13.0M178.8 111.0v11.6M180.8 110.9v13.7M181.8 110.9v11.3M197.9 111.3v8.7M198.9 111.3v8.2M206.4 111.0v6.9M207.4 111.0v5.4M211.6 111.1v12.0M212.6 111.1v9.9M230.4 111.8v14.1M231.4 111.8v10.9" stroke="#c6c6c6" stroke-width="0.70"/>
<path d="M185.5 111.2v12.5M186.5 111.2v10.1M191.9 111.8v11.1M192.9 111.8v6.9M202.9 111.7v13.3M203.9 111.7v9.8M209.8 112.0v8.8M210.8 112.0v6.0" stroke="#b2b2b2" stroke-width="0.70"/>
<path d="M217.4 111.7v12.6M218.4 111.7v10.2M224.5 111.8v10.1M225.5 111.8v9.5" stroke="#bdbdbd" stroke-width="0.70"/>
<path d="M228.3 112.0v8.4M229.3 112.0v6.4" stroke="#c2c2c2" stroke-width="0.70"/>
<path d="M176.9 107.0h2.7l-0.3 4.2h-2.1zM179.9 106.8h2.7l-0.3 4.2h-2.1zM197.0 107.2h2.7l-0.3 4.2h-2.1zM205.5 107.0h2.7l-0.3 4.2h-2.1zM210.7 107.1h2.7l-0.3 4.2h-2.1zM215.2 107.4h2.7l-0.3 4.2h-2.1zM229.5 107.8h2.7l-0.3 4.2h-2.1z" fill="#c6c6c6" stroke="#fff" stroke-width="0.35"/>
<path d="M184.6 107.1h2.7l-0.3 4.2h-2.1zM187.4 107.4h2.7l-0.3 4.2h-2.1zM191.0 107.8h2.7l-0.3 4.2h-2.1zM192.9 107.0h2.7l-0.3 4.2h-2.1zM202.0 107.6h2.7l-0.3 4.2h-2.1zM208.9 107.9h2.7l-0.3 4.2h-2.1z" fill="#b2b2b2" stroke="#fff" stroke-width="0.35"/>
<path d="M198.3 106.7h2.7l-0.3 4.2h-2.1zM216.5 107.7h2.7l-0.3 4.2h-2.1zM223.6 107.8h2.7l-0.3 4.2h-2.1z" fill="#bdbdbd" stroke="#fff" stroke-width="0.35"/>
<path d="M221.7 107.1h2.7l-0.3 4.2h-2.1zM227.4 108.0h2.7l-0.3 4.2h-2.1z" fill="#c2c2c2" stroke="#fff" stroke-width="0.35"/>
<path d="M178.2 105.9h0M181.2 105.8h0M198.3 106.2h0M206.9 105.9h0M212.0 106.0h0M216.6 106.4h0M230.8 106.7h0" stroke="#fff" stroke-width="2.75" stroke-linecap="round" opacity="0.6"/><path d="M178.2 105.9h0M181.2 105.8h0M198.3 106.2h0M206.9 105.9h0M212.0 106.0h0M216.6 106.4h0M230.8 106.7h0" stroke="#d4d4d4" stroke-width="2.40" stroke-linecap="round"/>
<path d="M185.9 106.1h0M188.8 106.3h0M192.3 106.7h0M194.3 105.9h0M203.3 106.6h0M210.3 106.9h0" stroke="#fff" stroke-width="2.75" stroke-linecap="round" opacity="0.6"/><path d="M185.9 106.1h0M188.8 106.3h0M192.3 106.7h0M194.3 105.9h0M203.3 106.6h0M210.3 106.9h0" stroke="#e4e4e4" stroke-width="2.40" stroke-linecap="round"/>
<path d="M199.6 105.6h0M217.8 106.6h0M225.0 106.7h0" stroke="#fff" stroke-width="2.75" stroke-linecap="round" opacity="0.6"/><path d="M199.6 105.6h0M217.8 106.6h0M225.0 106.7h0" stroke="#dcdcdc" stroke-width="2.40" stroke-linecap="round"/>
<path d="M223.0 106.1h0M228.7 106.9h0" stroke="#fff" stroke-width="2.75" stroke-linecap="round" opacity="0.6"/><path d="M223.0 106.1h0M228.7 106.9h0" stroke="#cfcfcf" stroke-width="2.40" stroke-linecap="round"/>
<rect x="204.5" y="106.3" width="29" height="23.5" fill="#fff"/>
<path d="M207.2 109.7h2.7l-0.3 4.2h-2.1zM219.8 109.9h2.7l-0.3 4.2h-2.1zM221.1 110.5h2.7l-0.3 4.2h-2.1z" fill="#5a86cf" stroke="#fff" stroke-width="0.35"/>
<path d="M210.0 110.5h2.7l-0.3 4.2h-2.1zM215.5 110.4h2.7l-0.3 4.2h-2.1z" fill="#3a68bd" stroke="#fff" stroke-width="0.35"/>
<path d="M213.2 110.2h2.7l-0.3 4.2h-2.1zM225.5 109.6h2.7l-0.3 4.2h-2.1zM228.0 110.5h2.7l-0.3 4.2h-2.1z" fill="#2f5fb5" stroke="#fff" stroke-width="0.35"/>
<path d="M208.6 108.6h0M221.1 108.8h0M222.5 109.4h0" stroke="#fff" stroke-width="2.75" stroke-linecap="round" opacity="0.6"/><path d="M208.6 108.6h0M221.1 108.8h0M222.5 109.4h0" stroke="#c4d6f0" stroke-width="2.40" stroke-linecap="round"/>
<path d="M211.3 109.4h0M216.8 109.3h0" stroke="#fff" stroke-width="2.75" stroke-linecap="round" opacity="0.6"/><path d="M211.3 109.4h0M216.8 109.3h0" stroke="#a9c3ea" stroke-width="2.40" stroke-linecap="round"/>
<path d="M214.5 109.1h0M226.8 108.5h0M229.4 109.4h0" stroke="#fff" stroke-width="2.75" stroke-linecap="round" opacity="0.6"/><path d="M214.5 109.1h0M226.8 108.5h0M229.4 109.4h0" stroke="#b7cdef" stroke-width="2.40" stroke-linecap="round"/>
<path d="M228.5 115.6v9.2M229.5 115.6v6.8" stroke="#2f5fb5" stroke-width="0.70"/>
<path d="M205.5 111.5h2.7l-0.3 4.2h-2.1zM208.8 112.1h2.7l-0.3 4.2h-2.1zM224.5 111.8h2.7l-0.3 4.2h-2.1z" fill="#7aa0dc" stroke="#fff" stroke-width="0.35"/>
<path d="M211.7 112.6h2.7l-0.3 4.2h-2.1zM227.6 111.5h2.7l-0.3 4.2h-2.1zM229.3 111.7h2.7l-0.3 4.2h-2.1z" fill="#2f5fb5" stroke="#fff" stroke-width="0.35"/>
<path d="M215.0 112.7h2.7l-0.3 4.2h-2.1zM220.8 111.9h2.7l-0.3 4.2h-2.1z" fill="#5a86cf" stroke="#fff" stroke-width="0.35"/>
<path d="M218.1 112.8h2.7l-0.3 4.2h-2.1z" fill="#3a68bd" stroke="#fff" stroke-width="0.35"/>
<path d="M206.8 110.4h0M210.2 111.0h0M225.9 110.7h0" stroke="#fff" stroke-width="2.75" stroke-linecap="round" opacity="0.6"/><path d="M206.8 110.4h0M210.2 111.0h0M225.9 110.7h0" stroke="#dbe6f6" stroke-width="2.40" stroke-linecap="round"/>
<path d="M213.1 111.5h0M229.0 110.5h0M230.7 110.6h0" stroke="#fff" stroke-width="2.75" stroke-linecap="round" opacity="0.6"/><path d="M213.1 111.5h0M229.0 110.5h0M230.7 110.6h0" stroke="#b7cdef" stroke-width="2.40" stroke-linecap="round"/>
<path d="M216.4 111.6h0M222.1 110.8h0" stroke="#fff" stroke-width="2.75" stroke-linecap="round" opacity="0.6"/><path d="M216.4 111.6h0M222.1 110.8h0" stroke="#c4d6f0" stroke-width="2.40" stroke-linecap="round"/>
<path d="M219.4 111.8h0" stroke="#fff" stroke-width="2.75" stroke-linecap="round" opacity="0.6"/><path d="M219.4 111.8h0" stroke="#a9c3ea" stroke-width="2.40" stroke-linecap="round"/>
<path d="M210.5 119.1v5.4M211.5 119.1v5.1" stroke="#5a86cf" stroke-width="0.70"/>
<path d="M207.9 114.2h2.7l-0.3 4.2h-2.1zM212.6 115.1h2.7l-0.3 4.2h-2.1zM217.0 113.8h2.7l-0.3 4.2h-2.1z" fill="#7aa0dc" stroke="#fff" stroke-width="0.35"/>
<path d="M209.6 115.1h2.7l-0.3 4.2h-2.1zM222.6 114.5h2.7l-0.3 4.2h-2.1z" fill="#5a86cf" stroke="#fff" stroke-width="0.35"/>
<path d="M220.1 113.9h2.7l-0.3 4.2h-2.1zM225.3 115.0h2.7l-0.3 4.2h-2.1zM229.4 114.7h2.7l-0.3 4.2h-2.1z" fill="#2f5fb5" stroke="#fff" stroke-width="0.35"/>
<path d="M209.3 113.1h0M213.9 114.0h0M218.4 112.7h0" stroke="#fff" stroke-width="2.75" stroke-linecap="round" opacity="0.6"/><path d="M209.3 113.1h0M213.9 114.0h0M218.4 112.7h0" stroke="#dbe6f6" stroke-width="2.40" stroke-linecap="round"/>
<path d="M210.9 114.0h0M223.9 113.4h0" stroke="#fff" stroke-width="2.75" stroke-linecap="round" opacity="0.6"/><path d="M210.9 114.0h0M223.9 113.4h0" stroke="#c4d6f0" stroke-width="2.40" stroke-linecap="round"/>
<path d="M221.4 112.8h0M226.6 114.0h0M230.7 113.7h0" stroke="#fff" stroke-width="2.75" stroke-linecap="round" opacity="0.6"/><path d="M221.4 112.8h0M226.6 114.0h0M230.7 113.7h0" stroke="#b7cdef" stroke-width="2.40" stroke-linecap="round"/>
<path d="M206.2 120.0v6.3M207.2 120.0v5.2" stroke="#7aa0dc" stroke-width="0.70"/>
<path d="M209.7 120.1v8.1M210.7 120.1v6.6M218.1 120.9v6.8M219.1 120.9v6.4" stroke="#2f5fb5" stroke-width="0.70"/>
<path d="M212.4 120.4v4.0M213.4 120.4v3.3M225.1 120.5v4.3M226.1 120.5v3.1M230.2 120.8v7.6M231.2 120.8v5.4" stroke="#5a86cf" stroke-width="0.70"/>
<path d="M215.8 120.4v4.3M216.8 120.4v3.1M227.5 121.2v6.2M228.5 121.2v4.2" stroke="#3a68bd" stroke-width="0.70"/>
<path d="M205.3 116.0h2.7l-0.3 4.2h-2.1z" fill="#7aa0dc" stroke="#fff" stroke-width="0.35"/>
<path d="M208.8 116.1h2.7l-0.3 4.2h-2.1zM217.2 116.8h2.7l-0.3 4.2h-2.1z" fill="#2f5fb5" stroke="#fff" stroke-width="0.35"/>
<path d="M211.5 116.4h2.7l-0.3 4.2h-2.1zM224.2 116.5h2.7l-0.3 4.2h-2.1zM229.3 116.8h2.7l-0.3 4.2h-2.1z" fill="#5a86cf" stroke="#fff" stroke-width="0.35"/>
<path d="M214.9 116.4h2.7l-0.3 4.2h-2.1zM219.8 117.0h2.7l-0.3 4.2h-2.1zM226.6 117.2h2.7l-0.3 4.2h-2.1z" fill="#3a68bd" stroke="#fff" stroke-width="0.35"/>
<path d="M206.6 114.9h0" stroke="#fff" stroke-width="2.75" stroke-linecap="round" opacity="0.6"/><path d="M206.6 114.9h0" stroke="#dbe6f6" stroke-width="2.40" stroke-linecap="round"/>
<path d="M210.2 115.0h0M218.5 115.8h0" stroke="#fff" stroke-width="2.75" stroke-linecap="round" opacity="0.6"/><path d="M210.2 115.0h0M218.5 115.8h0" stroke="#b7cdef" stroke-width="2.40" stroke-linecap="round"/>
<path d="M212.9 115.3h0M225.5 115.4h0M230.6 115.7h0" stroke="#fff" stroke-width="2.75" stroke-linecap="round" opacity="0.6"/><path d="M212.9 115.3h0M225.5 115.4h0M230.6 115.7h0" stroke="#c4d6f0" stroke-width="2.40" stroke-linecap="round"/>
<path d="M216.2 115.3h0M221.1 115.9h0M228.0 116.1h0" stroke="#fff" stroke-width="2.75" stroke-linecap="round" opacity="0.6"/><path d="M216.2 115.3h0M221.1 115.9h0M228.0 116.1h0" stroke="#a9c3ea" stroke-width="2.40" stroke-linecap="round"/>
<rect x="204.5" y="106.3" width="29" height="23.5" fill="none" stroke="#dc5a6c" stroke-width="0.85"/>
<text x="210.60" y="140.60" font-size="6.4" fill="#333" stroke="#333" stroke-width="0.2" text-anchor="middle" textLength="47.10" lengthAdjust="spacingAndGlyphs">Recalled Donors</text>
<text x="210.60" y="147.30" font-size="6.4" fill="#333" stroke="#333" stroke-width="0.2" text-anchor="middle" textLength="85.20" lengthAdjust="spacingAndGlyphs">(n = 643; Total 1,929 samples)</text>
<line x1="169.80" y1="109.20" x2="150.58" y2="109.20" stroke="#1d2346" stroke-width="1.1"/>
<polygon points="147.70,109.20 152.50,106.70 150.82,109.20 152.50,111.70" fill="#1d2346"/>
<rect x="125.12" y="87.78" width="0.80" height="9.88" fill="#b07880"/>
<rect x="120.48" y="92.72" width="0.96" height="4.94" fill="#8c2c3a"/>
<rect x="122.67" y="92.72" width="0.96" height="4.94" fill="#8c2c3a"/>
<rect x="127.58" y="92.72" width="0.96" height="4.94" fill="#8c2c3a"/>
<rect x="117.90" y="97.30" width="12.90" height="18.30" rx="2.58" fill="#bf2228"/>
<rect x="117.90" y="108.28" width="12.90" height="7.32" rx="2.58" fill="#8e1618"/>
<rect x="118.67" y="101.33" width="11.35" height="9.70" fill="#fbf4f4"/>
<text x="119.58" y="108.83" font-size="4.94" font-weight="bold" fill="#a81e26">A+</text>
<rect x="125.90" y="102.24" width="3.35" height="0.92" fill="#777"/>
<rect x="125.90" y="103.89" width="3.35" height="4.58" fill="#e8c8cc"/>
<rect x="119.45" y="109.74" width="6.45" height="0.55" fill="#d8a0a8"/>
<text x="127.00" y="129.60" font-size="6.4" fill="#222" text-anchor="middle" textLength="33.70" lengthAdjust="spacingAndGlyphs" stroke="#222" stroke-width="0.15">Second unit</text>
<text x="127.00" y="137.30" font-size="6.4" fill="#b2b2b2" stroke="#b2b2b2" stroke-width="0.2" text-anchor="middle" textLength="28.30" lengthAdjust="spacingAndGlyphs">Stored for</text>
<text x="127.00" y="144.50" font-size="6.4" fill="#b2b2b2" stroke="#b2b2b2" stroke-width="0.2" text-anchor="middle" textLength="42.10" lengthAdjust="spacingAndGlyphs">10, 23, 42 days</text>
<line x1="122.30" y1="148.70" x2="122.30" y2="161.32" stroke="#1d2346" stroke-width="1.1"/>
<polygon points="122.30,164.20 119.80,159.40 122.30,161.08 124.80,159.40" fill="#1d2346"/>
<rect x="108.2" y="165.9" width="13.4" height="26.1" fill="#e4e4e8"/>
<rect x="108.2" y="165.9" width="13.4" height="5.5" fill="#c8c8cc"/>
<rect x="109.5" y="167.5" width="10.5" height="2.2" fill="#9a9aa0"/>
<rect x="108.2" y="172.5" width="2.3" height="19.5" fill="#8fa3d8"/>
<rect x="112" y="173" width="8" height="19" fill="#eeeeef"/>
<rect x="121.6" y="171.8" width="11.2" height="20.2" fill="#e8e8ea"/>
<rect x="130.5" y="171.8" width="2.3" height="20.2" fill="#8fa3d8"/>
<ellipse cx="125.8" cy="181" rx="2.6" ry="4.5" fill="#707074"/>
<ellipse cx="125.8" cy="180" rx="1.6" ry="2.5" fill="#a0a0a4"/>
<line x1="147.30" y1="175.40" x2="166.32" y2="175.40" stroke="#1d2346" stroke-width="1.1"/>
<polygon points="169.20,175.40 164.40,177.90 166.08,175.40 164.40,172.90" fill="#1d2346"/>
<rect x="195.5" y="154.5" width="23" height="25.2" fill="#fff" stroke="#4a4e6a" stroke-width="1.1"/>
<circle cx="206.0" cy="160.6" r="0.5" fill="#c0dcec"/><circle cx="206.0" cy="165.1" r="0.5" fill="#a9d0e6"/><circle cx="200.7" cy="166.0" r="0.5" fill="#a9d0e6"/><circle cx="198.9" cy="171.6" r="0.5" fill="#6aa8cc"/><circle cx="199.8" cy="164.3" r="0.5" fill="#8ec0dc"/><circle cx="208.9" cy="164.7" r="0.5" fill="#c0dcec"/><circle cx="216.3" cy="159.6" r="0.5" fill="#a9d0e6"/><circle cx="209.5" cy="162.2" r="0.5" fill="#8ec0dc"/><circle cx="198.2" cy="173.3" r="0.5" fill="#8ec0dc"/><circle cx="212.6" cy="166.9" r="0.5" fill="#6aa8cc"/><circle cx="205.8" cy="170.5" r="0.5" fill="#6aa8cc"/><circle cx="207.0" cy="164.0" r="0.5" fill="#8ec0dc"/><circle cx="206.1" cy="165.8" r="0.5" fill="#8ec0dc"/><circle cx="211.2" cy="177.2" r="0.5" fill="#6aa8cc"/><circle cx="212.2" cy="163.8" r="0.5" fill="#8ec0dc"/><circle cx="205.0" cy="168.5" r="0.5" fill="#6aa8cc"/><circle cx="204.7" cy="175.3" r="0.5" fill="#8ec0dc"/><circle cx="201.3" cy="168.9" r="0.5" fill="#8ec0dc"/><circle cx="206.4" cy="171.3" r="0.5" fill="#8ec0dc"/><circle cx="208.3" cy="166.3" r="0.5" fill="#a9d0e6"/><circle cx="212.6" cy="164.3" r="0.5" fill="#6aa8cc"/><circle cx="197.3" cy="174.3" r="0.5" fill="#c0dcec"/><circle cx="212.2" cy="166.6" r="0.5" fill="#8ec0dc"/><circle cx="197.2" cy="174.7" r="0.5" fill="#c0dcec"/><circle cx="212.9" cy="166.2" r="0.5" fill="#c0dcec"/><circle cx="207.2" cy="171.4" r="0.5" fill="#a9d0e6"/><circle cx="205.4" cy="165.8" r="0.5" fill="#a9d0e6"/><circle cx="197.0" cy="175.3" r="0.5" fill="#6aa8cc"/><circle cx="217.0" cy="164.3" r="0.5" fill="#8ec0dc"/><circle cx="197.8" cy="172.8" r="0.5" fill="#a9d0e6"/><circle cx="201.3" cy="170.3" r="0.5" fill="#6aa8cc"/><circle cx="213.6" cy="169.9" r="0.5" fill="#c0dcec"/><circle cx="198.5" cy="176.1" r="0.5" fill="#a9d0e6"/><circle cx="197.3" cy="175.3" r="0.5" fill="#6aa8cc"/><circle cx="204.4" cy="160.4" r="0.5" fill="#c0dcec"/><circle cx="213.6" cy="166.4" r="0.5" fill="#a9d0e6"/><circle cx="214.3" cy="164.3" r="0.5" fill="#a9d0e6"/><circle cx="213.4" cy="165.9" r="0.5" fill="#a9d0e6"/><circle cx="211.5" cy="167.7" r="0.5" fill="#a9d0e6"/><circle cx="210.7" cy="169.6" r="0.5" fill="#c0dcec"/><circle cx="214.6" cy="160.4" r="0.5" fill="#8ec0dc"/><circle cx="199.2" cy="169.6" r="0.5" fill="#6aa8cc"/><circle cx="201.8" cy="169.6" r="0.5" fill="#c0dcec"/><circle cx="202.9" cy="167.2" r="0.5" fill="#a9d0e6"/><circle cx="215.6" cy="164.6" r="0.5" fill="#c0dcec"/><circle cx="208.2" cy="166.6" r="0.5" fill="#8ec0dc"/><circle cx="202.6" cy="172.0" r="0.5" fill="#8ec0dc"/><circle cx="198.4" cy="171.1" r="0.5" fill="#c0dcec"/><circle cx="205.9" cy="170.1" r="0.5" fill="#6aa8cc"/><circle cx="207.6" cy="168.0" r="0.5" fill="#a9d0e6"/><circle cx="198.8" cy="174.5" r="0.5" fill="#6aa8cc"/><circle cx="210.1" cy="168.7" r="0.5" fill="#a9d0e6"/><circle cx="208.8" cy="170.0" r="0.5" fill="#6aa8cc"/><circle cx="211.0" cy="163.5" r="0.5" fill="#8ec0dc"/><circle cx="197.4" cy="170.1" r="0.5" fill="#6aa8cc"/><circle cx="203.4" cy="166.5" r="0.5" fill="#8ec0dc"/><circle cx="198.5" cy="166.7" r="0.5" fill="#a9d0e6"/><circle cx="212.9" cy="162.6" r="0.5" fill="#6aa8cc"/><circle cx="204.0" cy="166.1" r="0.5" fill="#c0dcec"/><circle cx="197.6" cy="172.1" r="0.5" fill="#c0dcec"/><circle cx="204.6" cy="168.8" r="0.5" fill="#8ec0dc"/><circle cx="209.2" cy="170.7" r="0.5" fill="#6aa8cc"/><circle cx="214.6" cy="165.7" r="0.5" fill="#6aa8cc"/><circle cx="204.8" cy="168.3" r="0.5" fill="#c0dcec"/><circle cx="206.3" cy="163.3" r="0.5" fill="#8ec0dc"/><circle cx="207.4" cy="164.3" r="0.5" fill="#8ec0dc"/><circle cx="206.6" cy="167.4" r="0.5" fill="#a9d0e6"/><circle cx="216.1" cy="167.1" r="0.5" fill="#c0dcec"/><circle cx="202.1" cy="174.2" r="0.5" fill="#8ec0dc"/>
<line x1="197" y1="172" x2="217" y2="163" stroke="#6aa8cc" stroke-width="0.6"/>
<text x="209.00" y="189.80" font-size="6.4" fill="#333" stroke="#333" stroke-width="0.2" text-anchor="middle" textLength="26.90" lengthAdjust="spacingAndGlyphs">Correlate</text>
<text x="209.00" y="197.60" font-size="6.4" fill="#333" stroke="#333" stroke-width="0.2" text-anchor="middle" textLength="79.80" lengthAdjust="spacingAndGlyphs">Kyn at index vs Kyn at recall</text>
<path d="M26.3,71.7 L25.6,74.5 L23.6,78.7 L22.8,80.1 L22.0,82.9 L22.0,86.6 L22.6,90.3 L25.7,93.8 L28.6,94.0 L32.7,96.4 L36.1,96.7 L38.4,96.2 L40.4,99.4 L42.2,100.3 L44.5,99.3 L46.7,102.5 L49.5,104.7 L49.8,102.1 L51.4,101.1 L54.0,99.6 L57.9,100.1 L60.0,100.3 L60.3,98.5 L62.3,98.4 L65.6,99.1 L67.2,98.6 L69.0,101.0 L70.9,103.7 L72.9,104.4 L72.9,102.2 L71.6,100.1 L69.9,97.2 L70.0,95.6 L71.7,93.6 L73.0,92.5 L75.3,90.4 L74.0,88.2 L73.6,86.9 L74.2,85.5 L74.5,83.1 L76.3,82.1 L78.0,81.0 L76.8,79.6 L76.6,78.3 L79.0,76.2 L76.9,73.4 L75.5,73.3 L74.7,76.8 L71.6,77.4 L70.5,78.8 L68.3,80.2 L64.7,82.3 L64.2,77.6 L62.1,76.5 L58.5,74.3 L57.2,74.8 L52.1,73.5 L28.1,71.2 Z" fill="#dddddd"/>
<path d="M33.2,72.1 L25.1,95.8 M38.3,72.8 L32.6,96.8 M44.4,73.3 L41.3,97.5 M51.0,73.5 L50.8,97.8 M56.7,73.4 L59.0,97.7 M61.5,73.1 L65.9,97.2 M67.1,72.5 L74.0,96.3 M24.9,76.2 L74.3,76.9 M22.5,81.3 L76.3,82.1 M20.2,86.5 L78.3,87.3 M18.1,91.0 L80.1,91.9" stroke="#f2f2f2" stroke-width="0.45" fill="none"/>
<path d="M22.5,101 L27,99 L31,99.5 L35,100 L37.5,102 L39.5,105 L41.5,107 L39,107.5 L36,106 L33,107.5 L30,109.5 L26,110 L24.5,108 L25.5,106 L23,104.5 Z" fill="#dddddd"/>
<path d="M44,105.5 h1.2v0.8h-1.2z M46.5,106.5 h1.2v1h-1.2z M48.5,108 h1.5v1.3h-1.5z" fill="#dddddd"/>
<ellipse cx="24.3" cy="86.0" rx="5.0" ry="3.9" fill="#b0ae60" opacity="0.5" transform="rotate(-35 24.3 86.0)"/>
<ellipse cx="25.3" cy="84.8" rx="5.0" ry="3.9" fill="#c6c232" transform="rotate(-35 25.3 84.8)"/>
<ellipse cx="26.1" cy="84.0" rx="2.5" ry="1.8" fill="#dedc78" transform="rotate(-35 26.1 84.0)"/>
<ellipse cx="62.0" cy="81.8" rx="4.0" ry="3.2" fill="#6a3a3a" opacity="0.5" transform="rotate(-35 62.0 81.8)"/>
<ellipse cx="63.0" cy="80.6" rx="4.0" ry="3.2" fill="#8e1c22" transform="rotate(-35 63.0 80.6)"/>
<ellipse cx="63.8" cy="79.8" rx="2.0" ry="1.4" fill="#b04a4e" transform="rotate(-35 63.8 79.8)"/>
<ellipse cx="70.0" cy="83.8" rx="3.8" ry="3.4" fill="#4a7a40" opacity="0.5" transform="rotate(-40 70.0 83.8)"/>
<ellipse cx="71.0" cy="82.6" rx="3.8" ry="3.4" fill="#3c9c30" transform="rotate(-40 71.0 82.6)"/>
<ellipse cx="71.8" cy="81.8" rx="1.9" ry="1.5" fill="#6cc060" transform="rotate(-40 71.8 81.8)"/>
<ellipse cx="79.3" cy="81.2" rx="3.6" ry="4.3" fill="#4a6a90" opacity="0.5" transform="rotate(25 79.3 81.2)"/>
<ellipse cx="80.3" cy="80.0" rx="3.6" ry="4.3" fill="#3a7cc8" transform="rotate(25 80.3 80.0)"/>
<ellipse cx="81.1" cy="79.2" rx="1.8" ry="1.9" fill="#6aa4e0" transform="rotate(25 81.1 79.2)"/>
<text x="52.00" y="126.00" font-size="6.4" fill="#222" stroke="#222" stroke-width="0.2" text-anchor="middle" textLength="67.80" lengthAdjust="spacingAndGlyphs">REDS III Index Donation</text>
<text x="52.50" y="133.40" font-size="6.4" fill="#b2b2b2" stroke="#b2b2b2" stroke-width="0.2" text-anchor="middle" textLength="37.60" lengthAdjust="spacingAndGlyphs">13,091 donor</text>
<text x="52.20" y="140.70" font-size="6.4" fill="#b2b2b2" stroke="#b2b2b2" stroke-width="0.2" text-anchor="middle" textLength="33.20" lengthAdjust="spacingAndGlyphs">samples for</text>
<text x="52.00" y="148.00" font-size="6.4" fill="#b2b2b2" stroke="#b2b2b2" stroke-width="0.2" text-anchor="middle" textLength="40.40" lengthAdjust="spacingAndGlyphs">metabolomics</text>
<text x="273.00" y="16.20" font-size="11" fill="#111" font-weight="bold">B</text>
<text x="300.30" y="26.50" font-size="8.6" fill="#333" stroke="#333" stroke-width="0.2" textLength="208.70" lengthAdjust="spacingAndGlyphs">End of storage Kynurenine levels in &gt;13k blood donors</text>
<line x1="305.50" y1="31.50" x2="305.50" y2="189.90" stroke="#3a3a3a" stroke-width="1.2"/>
<line x1="304.90" y1="189.50" x2="511.10" y2="189.50" stroke="#3a3a3a" stroke-width="1.2"/>
<line x1="302.60" y1="57.00" x2="305.50" y2="57.00" stroke="#3a3a3a" stroke-width="0.9"/>
<text x="300.60" y="59.40" font-size="7.0" fill="#333" stroke="#333" stroke-width="0.2" text-anchor="end" textLength="6.85" lengthAdjust="spacingAndGlyphs">60</text>
<line x1="302.60" y1="76.60" x2="305.50" y2="76.60" stroke="#3a3a3a" stroke-width="0.9"/>
<text x="300.60" y="79.00" font-size="7.0" fill="#333" stroke="#333" stroke-width="0.2" text-anchor="end" textLength="6.85" lengthAdjust="spacingAndGlyphs">30</text>
<line x1="302.60" y1="96.30" x2="305.50" y2="96.30" stroke="#3a3a3a" stroke-width="0.9"/>
<text x="300.60" y="98.70" font-size="7.0" fill="#333" stroke="#333" stroke-width="0.2" text-anchor="end" textLength="3.43" lengthAdjust="spacingAndGlyphs">0</text>
<text x="286.00" y="70.00" font-size="7.2" fill="#333" stroke="#333" stroke-width="0.2" text-anchor="middle" textLength="65.40" lengthAdjust="spacingAndGlyphs" transform="rotate(-90 286.00 70.00)">Relative frequency (%)</text>
<line x1="307.80" y1="189.50" x2="307.80" y2="192.20" stroke="#3a3a3a" stroke-width="0.9"/>
<text x="307.80" y="201.50" font-size="7.0" fill="#333" stroke="#333" stroke-width="0.2" text-anchor="middle" textLength="3.43" lengthAdjust="spacingAndGlyphs">0</text>
<line x1="333.28" y1="189.50" x2="333.28" y2="192.20" stroke="#3a3a3a" stroke-width="0.9"/>
<text x="333.28" y="201.50" font-size="7.0" fill="#333" stroke="#333" stroke-width="0.2" text-anchor="middle" textLength="3.43" lengthAdjust="spacingAndGlyphs">1</text>
<line x1="358.76" y1="189.50" x2="358.76" y2="192.20" stroke="#3a3a3a" stroke-width="0.9"/>
<text x="358.76" y="201.50" font-size="7.0" fill="#333" stroke="#333" stroke-width="0.2" text-anchor="middle" textLength="3.43" lengthAdjust="spacingAndGlyphs">2</text>
<line x1="384.24" y1="189.50" x2="384.24" y2="192.20" stroke="#3a3a3a" stroke-width="0.9"/>
<text x="384.24" y="201.50" font-size="7.0" fill="#333" stroke="#333" stroke-width="0.2" text-anchor="middle" textLength="3.43" lengthAdjust="spacingAndGlyphs">3</text>
<line x1="409.72" y1="189.50" x2="409.72" y2="192.20" stroke="#3a3a3a" stroke-width="0.9"/>
<text x="409.72" y="201.50" font-size="7.0" fill="#333" stroke="#333" stroke-width="0.2" text-anchor="middle" textLength="3.43" lengthAdjust="spacingAndGlyphs">4</text>
<line x1="435.20" y1="189.50" x2="435.20" y2="192.20" stroke="#3a3a3a" stroke-width="0.9"/>
<text x="435.20" y="201.50" font-size="7.0" fill="#333" stroke="#333" stroke-width="0.2" text-anchor="middle" textLength="3.43" lengthAdjust="spacingAndGlyphs">5</text>
<line x1="460.68" y1="189.50" x2="460.68" y2="192.20" stroke="#3a3a3a" stroke-width="0.9"/>
<text x="460.68" y="201.50" font-size="7.0" fill="#333" stroke="#333" stroke-width="0.2" text-anchor="middle" textLength="3.43" lengthAdjust="spacingAndGlyphs">6</text>
<line x1="486.16" y1="189.50" x2="486.16" y2="192.20" stroke="#3a3a3a" stroke-width="0.9"/>
<text x="486.16" y="201.50" font-size="7.0" fill="#333" stroke="#333" stroke-width="0.2" text-anchor="middle" textLength="3.43" lengthAdjust="spacingAndGlyphs">7</text>
<path d="M308.5,96.3 L316,96.3 L318,95.2 L320,91.5 L322,84.5 L324,76.5 L326,68 L328,61.5 L330,57.6 L332,56.2 L333.5,56.5 L335,58.7 L337,63.2 L339,68.5 L341,73.4 L343,77.8 L345,81.8 L347,85.2 L349,88.0 L351,90.3 L354,92.7 L357,94.3 L360,95.3 L364,95.9 L372,96.3 Z" fill="#1877b5" stroke="#1877b5" stroke-width="0.4"/>
<line x1="308.50" y1="96.30" x2="316.00" y2="96.30" stroke="#333" stroke-width="0.9"/>
<line x1="360.00" y1="96.30" x2="502.30" y2="96.30" stroke="#555" stroke-width="0.8"/>
<line x1="312.30" y1="123.20" x2="328.50" y2="123.20" stroke="#333" stroke-width="1.0"/>
<line x1="339.70" y1="123.20" x2="355.40" y2="123.20" stroke="#333" stroke-width="1.0"/>
<line x1="312.30" y1="120.20" x2="312.30" y2="126.20" stroke="#444" stroke-width="0.9"/>
<line x1="355.40" y1="120.20" x2="355.40" y2="126.20" stroke="#444" stroke-width="0.9"/>
<rect x="328.5" y="113.2" width="11.2" height="20.2" fill="#fff" stroke="#5a4a4a" stroke-width="0.8"/>
<line x1="333.40" y1="113.20" x2="333.40" y2="133.40" stroke="#5a4a4a" stroke-width="0.8"/>
<circle cx="335.2" cy="123.2" r="2.0" fill="#d0202a"/>
<rect x="307" y="121.8" width="4.8" height="2.8" rx="1.3" fill="#222"/>
<rect x="355.8" y="121.7" width="31" height="3.0" rx="1.4" fill="#2a2a2a"/>
<circle cx="389.5" cy="123.2" r="1.15" fill="#222"/><circle cx="391.5" cy="123.2" r="1.15" fill="#222"/><circle cx="393.5" cy="123.2" r="1.15" fill="#222"/><circle cx="396" cy="123.2" r="1.15" fill="#222"/><circle cx="398.7" cy="123.2" r="1.15" fill="#222"/><circle cx="408.5" cy="123.2" r="1.15" fill="#222"/><circle cx="411.2" cy="123.2" r="1.15" fill="#222"/><circle cx="413.6" cy="123.2" r="1.15" fill="#222"/><circle cx="421" cy="123.2" r="1.15" fill="#222"/><circle cx="425.6" cy="123.2" r="1.15" fill="#222"/><circle cx="428.8" cy="123.2" r="1.15" fill="#222"/><circle cx="436.3" cy="123.2" r="1.15" fill="#222"/><circle cx="439.5" cy="123.2" r="1.15" fill="#222"/><circle cx="447" cy="123.2" r="1.15" fill="#222"/><circle cx="450.8" cy="123.2" r="1.15" fill="#222"/><circle cx="495" cy="123.2" r="1.15" fill="#222"/><circle cx="501.7" cy="123.2" r="1.15" fill="#222"/>
<rect x="307.2" y="136.3" width="1.0" height="27.4" fill="#1877b5"/>
<rect x="317.7" y="136.3" width="35.2" height="27.4" fill="#1877b5"/>
<path d="M359.2 156.6h1v1h-1zM363.2 162.1h1v1h-1zM361.7 161.6h1v1h-1zM353.1 149.1h1v1h-1zM371.6 154.1h1v1h-1zM367.9 139.4h1v1h-1zM357.0 143.1h1v1h-1zM358.0 152.0h1v1h-1zM353.0 142.2h1v1h-1zM355.0 161.4h1v1h-1zM362.3 140.7h1v1h-1zM363.3 140.1h1v1h-1zM359.1 139.8h1v1h-1zM352.9 160.2h1v1h-1zM354.4 142.2h1v1h-1zM379.2 160.2h1v1h-1zM355.1 162.6h1v1h-1zM357.9 154.9h1v1h-1zM354.4 162.1h1v1h-1zM360.5 162.8h1v1h-1zM367.5 144.5h1v1h-1zM355.8 140.8h1v1h-1zM353.9 138.1h1v1h-1zM355.2 152.8h1v1h-1zM352.9 154.9h1v1h-1zM355.6 144.8h1v1h-1zM364.0 149.5h1v1h-1zM355.4 149.5h1v1h-1zM360.8 137.9h1v1h-1zM376.9 136.9h1v1h-1zM361.9 159.4h1v1h-1zM353.0 157.9h1v1h-1zM355.9 152.2h1v1h-1zM353.0 137.6h1v1h-1zM354.2 162.5h1v1h-1zM354.3 157.0h1v1h-1zM370.2 162.1h1v1h-1zM355.6 146.0h1v1h-1zM357.7 157.6h1v1h-1zM353.6 156.8h1v1h-1zM363.3 159.9h1v1h-1zM353.1 162.2h1v1h-1zM353.5 145.6h1v1h-1zM359.0 161.5h1v1h-1zM355.6 161.6h1v1h-1zM358.0 144.9h1v1h-1zM355.4 141.2h1v1h-1zM353.4 140.4h1v1h-1zM360.5 163.6h1v1h-1zM354.0 137.6h1v1h-1zM381.0 150.9h1v1h-1zM356.3 142.8h1v1h-1zM358.8 158.9h1v1h-1zM356.9 147.9h1v1h-1zM353.3 161.4h1v1h-1zM353.1 149.8h1v1h-1zM364.7 139.9h1v1h-1zM361.5 162.3h1v1h-1zM359.4 157.9h1v1h-1zM353.6 148.2h1v1h-1zM354.0 159.4h1v1h-1zM355.2 148.7h1v1h-1zM365.3 163.0h1v1h-1zM356.8 149.7h1v1h-1zM361.4 149.4h1v1h-1zM355.1 147.4h1v1h-1zM353.9 146.6h1v1h-1zM381.9 162.6h1v1h-1zM359.3 150.0h1v1h-1zM355.6 138.7h1v1h-1zM355.0 157.7h1v1h-1zM366.0 146.2h1v1h-1zM362.9 157.5h1v1h-1zM360.6 154.5h1v1h-1zM362.2 146.3h1v1h-1zM360.8 144.0h1v1h-1zM357.2 157.4h1v1h-1zM360.5 144.4h1v1h-1zM371.8 154.1h1v1h-1zM358.5 136.6h1v1h-1zM358.0 143.2h1v1h-1zM360.1 149.0h1v1h-1zM363.9 154.0h1v1h-1zM363.3 145.8h1v1h-1zM359.6 156.5h1v1h-1zM364.3 145.9h1v1h-1zM364.9 160.1h1v1h-1zM360.5 163.0h1v1h-1zM373.3 150.5h1v1h-1zM357.8 140.9h1v1h-1zM364.7 162.0h1v1h-1zM357.1 155.2h1v1h-1zM361.2 156.3h1v1h-1zM354.1 157.7h1v1h-1zM358.6 154.5h1v1h-1zM356.4 153.4h1v1h-1zM362.6 153.8h1v1h-1zM361.2 137.1h1v1h-1zM354.0 148.4h1v1h-1zM359.7 142.3h1v1h-1zM360.4 153.6h1v1h-1zM353.2 149.2h1v1h-1zM354.6 137.8h1v1h-1zM353.8 145.0h1v1h-1zM354.2 141.6h1v1h-1zM353.1 149.1h1v1h-1zM356.0 153.1h1v1h-1zM358.7 142.8h1v1h-1zM368.1 136.3h1v1h-1zM356.3 143.9h1v1h-1zM356.3 139.5h1v1h-1zM364.5 146.5h1v1h-1zM353.1 153.1h1v1h-1zM353.5 151.2h1v1h-1zM355.6 152.2h1v1h-1zM373.6 158.7h1v1h-1zM356.4 158.6h1v1h-1zM359.6 146.4h1v1h-1zM353.9 152.6h1v1h-1zM358.3 162.5h1v1h-1zM375.3 153.0h1v1h-1zM355.7 160.8h1v1h-1zM352.9 139.3h1v1h-1zM358.3 153.2h1v1h-1zM353.9 153.5h1v1h-1zM367.3 146.6h1v1h-1zM356.6 142.5h1v1h-1zM355.1 162.9h1v1h-1zM356.0 162.6h1v1h-1zM368.8 152.6h1v1h-1zM354.9 163.2h1v1h-1zM357.4 147.7h1v1h-1zM355.4 163.3h1v1h-1zM357.3 144.1h1v1h-1zM357.1 139.6h1v1h-1zM359.2 148.5h1v1h-1zM355.2 157.7h1v1h-1zM364.3 136.7h1v1h-1zM357.8 143.8h1v1h-1zM370.7 157.7h1v1h-1zM354.7 143.6h1v1h-1zM354.0 163.4h1v1h-1zM355.2 153.0h1v1h-1zM357.1 154.0h1v1h-1zM358.9 156.7h1v1h-1zM353.7 157.1h1v1h-1zM355.2 150.9h1v1h-1zM355.6 144.4h1v1h-1zM357.8 149.0h1v1h-1zM355.8 156.7h1v1h-1zM358.7 137.3h1v1h-1zM354.8 148.8h1v1h-1zM369.0 160.6h1v1h-1zM358.0 136.7h1v1h-1zM362.7 148.0h1v1h-1zM358.5 155.7h1v1h-1zM359.4 149.5h1v1h-1zM368.7 146.9h1v1h-1zM356.1 159.6h1v1h-1zM354.3 144.4h1v1h-1zM364.4 138.1h1v1h-1zM364.7 155.3h1v1h-1zM356.6 144.1h1v1h-1zM362.8 161.3h1v1h-1zM353.9 149.4h1v1h-1zM358.1 149.9h1v1h-1zM355.5 140.5h1v1h-1zM358.6 158.5h1v1h-1zM353.4 142.6h1v1h-1zM364.0 158.0h1v1h-1zM360.0 137.0h1v1h-1zM361.2 163.1h1v1h-1zM360.8 137.6h1v1h-1zM364.9 142.3h1v1h-1zM359.6 162.4h1v1h-1zM361.0 140.0h1v1h-1zM355.1 161.5h1v1h-1zM354.0 153.0h1v1h-1zM356.4 140.7h1v1h-1zM359.2 137.5h1v1h-1zM353.6 146.7h1v1h-1zM353.4 137.9h1v1h-1zM358.5 156.6h1v1h-1zM366.6 140.0h1v1h-1zM356.6 144.9h1v1h-1zM358.9 149.7h1v1h-1zM371.0 146.6h1v1h-1zM353.3 155.4h1v1h-1zM354.0 153.6h1v1h-1zM357.5 161.2h1v1h-1zM358.2 153.3h1v1h-1zM354.9 151.4h1v1h-1zM354.8 156.9h1v1h-1zM357.6 140.0h1v1h-1zM354.6 146.5h1v1h-1zM361.6 141.2h1v1h-1zM361.0 154.2h1v1h-1zM353.5 154.6h1v1h-1zM353.5 139.7h1v1h-1zM358.8 142.8h1v1h-1zM366.5 149.5h1v1h-1zM355.4 158.1h1v1h-1zM353.1 156.2h1v1h-1zM353.3 140.4h1v1h-1zM372.6 155.0h1v1h-1zM354.5 139.5h1v1h-1zM376.3 154.5h1v1h-1zM364.1 140.1h1v1h-1zM359.3 146.0h1v1h-1zM354.6 145.4h1v1h-1zM359.1 145.9h1v1h-1zM356.1 140.0h1v1h-1zM364.5 154.1h1v1h-1zM363.5 148.2h1v1h-1zM365.3 150.5h1v1h-1zM358.7 152.0h1v1h-1zM361.7 147.1h1v1h-1zM353.6 137.2h1v1h-1zM354.4 137.4h1v1h-1zM367.2 149.5h1v1h-1zM362.2 136.3h1v1h-1zM357.0 160.7h1v1h-1zM359.2 148.0h1v1h-1zM357.0 139.0h1v1h-1zM354.0 140.7h1v1h-1zM356.0 146.9h1v1h-1zM366.7 140.5h1v1h-1zM354.8 143.9h1v1h-1zM354.0 144.2h1v1h-1zM354.6 149.5h1v1h-1zM353.1 161.6h1v1h-1zM355.9 162.0h1v1h-1zM360.5 154.8h1v1h-1zM357.0 162.2h1v1h-1zM353.7 154.6h1v1h-1zM355.1 154.8h1v1h-1zM361.4 140.8h1v1h-1zM354.4 137.0h1v1h-1zM354.6 138.4h1v1h-1zM356.2 163.0h1v1h-1zM355.8 144.8h1v1h-1zM357.0 144.1h1v1h-1zM361.5 156.0h1v1h-1zM354.1 142.9h1v1h-1zM360.1 162.1h1v1h-1zM359.6 148.1h1v1h-1zM377.0 136.5h1v1h-1zM353.3 157.7h1v1h-1zM356.3 137.5h1v1h-1zM358.1 163.4h1v1h-1zM357.7 145.9h1v1h-1zM353.5 138.3h1v1h-1zM367.8 149.8h1v1h-1zM370.7 137.8h1v1h-1zM354.7 137.7h1v1h-1zM356.2 137.9h1v1h-1zM354.8 147.5h1v1h-1zM355.3 137.7h1v1h-1zM353.1 162.9h1v1h-1zM354.2 150.2h1v1h-1zM356.2 150.9h1v1h-1zM353.5 144.9h1v1h-1zM353.6 151.1h1v1h-1zM369.4 152.7h1v1h-1zM365.5 142.2h1v1h-1zM353.0 151.1h1v1h-1zM357.2 152.0h1v1h-1zM356.0 153.4h1v1h-1zM361.3 161.3h1v1h-1zM355.3 148.6h1v1h-1zM364.3 142.4h1v1h-1zM353.7 144.8h1v1h-1zM353.5 157.5h1v1h-1zM364.0 144.9h1v1h-1zM353.8 138.5h1v1h-1zM354.7 138.6h1v1h-1zM356.5 152.1h1v1h-1zM354.7 138.0h1v1h-1zM360.7 137.6h1v1h-1zM354.3 144.1h1v1h-1zM355.9 139.0h1v1h-1zM356.4 144.9h1v1h-1zM362.0 151.5h1v1h-1zM367.6 154.2h1v1h-1zM362.2 152.0h1v1h-1zM356.7 158.7h1v1h-1zM359.8 162.5h1v1h-1zM361.4 155.5h1v1h-1zM354.9 158.6h1v1h-1zM356.0 139.9h1v1h-1zM353.3 140.9h1v1h-1zM354.9 154.8h1v1h-1zM355.1 138.0h1v1h-1zM362.3 151.6h1v1h-1zM353.1 137.7h1v1h-1zM353.8 146.1h1v1h-1zM365.7 162.3h1v1h-1zM359.1 142.6h1v1h-1zM356.5 146.2h1v1h-1zM355.5 136.6h1v1h-1zM358.6 159.0h1v1h-1zM361.3 138.9h1v1h-1zM357.8 141.0h1v1h-1zM360.9 148.5h1v1h-1zM371.0 158.1h1v1h-1zM353.7 145.0h1v1h-1zM368.9 148.9h1v1h-1zM356.6 148.4h1v1h-1zM362.4 162.0h1v1h-1zM357.8 162.9h1v1h-1zM358.8 139.1h1v1h-1zM363.8 147.8h1v1h-1zM353.2 163.1h1v1h-1zM353.1 152.1h1v1h-1zM357.2 160.5h1v1h-1zM356.1 142.2h1v1h-1zM355.0 141.8h1v1h-1zM358.3 146.1h1v1h-1zM361.9 142.9h1v1h-1zM355.7 143.1h1v1h-1zM379.2 159.3h1v1h-1zM365.2 153.2h1v1h-1zM356.2 140.2h1v1h-1zM364.5 149.7h1v1h-1zM353.2 140.9h1v1h-1zM353.6 156.0h1v1h-1zM367.9 141.8h1v1h-1zM363.3 145.2h1v1h-1zM360.4 159.9h1v1h-1zM359.2 158.2h1v1h-1zM356.0 136.6h1v1h-1zM357.6 152.4h1v1h-1zM354.2 147.0h1v1h-1zM355.4 137.0h1v1h-1zM355.3 146.8h1v1h-1zM357.1 155.6h1v1h-1zM356.2 163.2h1v1h-1zM363.9 161.6h1v1h-1zM360.6 154.7h1v1h-1zM357.9 158.2h1v1h-1zM355.8 152.6h1v1h-1zM360.3 150.6h1v1h-1zM355.1 138.4h1v1h-1zM353.5 146.1h1v1h-1zM358.5 157.1h1v1h-1zM361.0 144.7h1v1h-1zM370.1 143.8h1v1h-1zM361.1 138.3h1v1h-1zM362.0 154.7h1v1h-1zM373.3 160.9h1v1h-1zM360.5 159.3h1v1h-1zM361.6 153.0h1v1h-1zM354.4 150.5h1v1h-1zM367.6 142.9h1v1h-1zM376.8 151.2h1v1h-1zM356.1 136.4h1v1h-1zM356.1 141.2h1v1h-1zM359.8 160.9h1v1h-1zM368.6 153.1h1v1h-1zM356.1 139.3h1v1h-1zM360.5 151.5h1v1h-1zM361.1 146.5h1v1h-1zM367.1 142.1h1v1h-1zM355.3 143.6h1v1h-1zM359.2 160.9h1v1h-1zM354.1 153.6h1v1h-1zM362.4 142.5h1v1h-1zM353.3 151.8h1v1h-1zM364.4 160.4h1v1h-1zM361.4 147.7h1v1h-1zM356.5 150.8h1v1h-1zM368.2 144.6h1v1h-1zM355.0 152.9h1v1h-1zM375.0 141.4h1v1h-1zM353.1 139.5h1v1h-1zM358.3 152.8h1v1h-1zM354.2 141.5h1v1h-1zM358.8 154.0h1v1h-1zM360.5 156.3h1v1h-1zM353.3 149.6h1v1h-1zM364.6 162.5h1v1h-1zM355.4 159.6h1v1h-1zM359.6 161.7h1v1h-1zM354.6 155.4h1v1h-1zM364.8 149.4h1v1h-1zM353.6 141.6h1v1h-1zM354.0 138.8h1v1h-1zM354.0 153.2h1v1h-1zM353.6 157.1h1v1h-1zM361.6 158.7h1v1h-1zM363.5 155.8h1v1h-1zM369.7 162.5h1v1h-1zM359.3 162.7h1v1h-1zM353.6 139.1h1v1h-1zM353.3 142.0h1v1h-1zM355.9 148.9h1v1h-1zM360.3 156.7h1v1h-1zM353.5 147.3h1v1h-1zM358.0 146.6h1v1h-1zM353.7 152.7h1v1h-1zM355.9 155.0h1v1h-1zM357.3 162.7h1v1h-1zM371.8 138.3h1v1h-1zM362.2 156.1h1v1h-1zM355.2 139.5h1v1h-1zM357.1 146.0h1v1h-1zM361.6 161.5h1v1h-1zM356.0 144.3h1v1h-1zM357.4 155.4h1v1h-1zM363.0 152.1h1v1h-1zM355.2 145.5h1v1h-1zM365.1 150.5h1v1h-1zM353.2 147.8h1v1h-1zM354.7 154.6h1v1h-1zM353.4 143.7h1v1h-1zM353.6 149.4h1v1h-1zM380.0 151.1h1v1h-1zM356.1 161.9h1v1h-1zM353.5 146.0h1v1h-1zM363.7 136.4h1v1h-1zM362.3 146.2h1v1h-1zM353.0 143.2h1v1h-1zM356.9 146.8h1v1h-1zM357.6 137.8h1v1h-1zM354.5 163.0h1v1h-1zM356.7 149.2h1v1h-1zM353.5 143.9h1v1h-1zM373.0 155.1h1v1h-1zM357.5 137.8h1v1h-1zM356.1 157.6h1v1h-1zM356.6 152.6h1v1h-1zM368.0 154.0h1v1h-1zM359.5 137.3h1v1h-1zM353.1 157.4h1v1h-1zM356.4 160.3h1v1h-1zM364.3 161.4h1v1h-1zM356.0 163.7h1v1h-1zM362.1 160.7h1v1h-1zM353.9 157.7h1v1h-1zM356.5 162.9h1v1h-1zM354.5 147.8h1v1h-1zM355.0 149.2h1v1h-1zM355.1 154.6h1v1h-1zM353.8 140.9h1v1h-1zM356.9 138.3h1v1h-1zM356.0 160.9h1v1h-1zM367.0 141.7h1v1h-1zM353.0 159.0h1v1h-1zM374.0 152.7h1v1h-1zM353.9 142.8h1v1h-1zM369.3 162.0h1v1h-1zM353.1 141.4h1v1h-1zM356.5 143.6h1v1h-1zM362.0 146.5h1v1h-1zM362.6 140.5h1v1h-1zM357.6 163.0h1v1h-1zM360.8 138.8h1v1h-1zM353.7 153.9h1v1h-1zM356.0 146.4h1v1h-1zM357.1 152.2h1v1h-1zM374.9 142.9h1v1h-1zM358.4 143.5h1v1h-1zM358.0 156.3h1v1h-1zM353.8 149.5h1v1h-1zM360.9 136.5h1v1h-1zM362.5 147.8h1v1h-1zM357.5 153.0h1v1h-1zM363.1 137.8h1v1h-1zM357.4 137.3h1v1h-1zM356.1 145.8h1v1h-1zM353.0 144.5h1v1h-1zM356.8 154.2h1v1h-1zM369.7 146.5h1v1h-1zM357.8 155.8h1v1h-1zM370.9 162.3h1v1h-1zM381.7 144.6h1v1h-1zM354.1 161.8h1v1h-1zM353.4 148.6h1v1h-1zM361.6 150.8h1v1h-1zM356.1 161.6h1v1h-1zM355.2 151.4h1v1h-1zM364.4 140.1h1v1h-1zM355.7 149.8h1v1h-1zM358.3 142.0h1v1h-1zM356.8 137.9h1v1h-1zM353.5 145.7h1v1h-1zM353.9 162.8h1v1h-1zM354.9 143.9h1v1h-1zM362.9 156.6h1v1h-1zM354.9 159.0h1v1h-1zM359.3 146.9h1v1h-1zM359.3 143.0h1v1h-1zM354.9 160.3h1v1h-1zM356.7 160.9h1v1h-1zM354.2 140.1h1v1h-1zM353.2 156.6h1v1h-1zM358.3 136.6h1v1h-1zM353.2 158.9h1v1h-1zM357.3 160.2h1v1h-1zM353.2 152.4h1v1h-1zM353.7 156.1h1v1h-1zM359.0 153.1h1v1h-1zM354.5 162.3h1v1h-1zM353.7 138.1h1v1h-1zM360.4 138.8h1v1h-1zM353.3 148.9h1v1h-1zM359.7 160.7h1v1h-1zM361.2 138.2h1v1h-1zM359.6 159.4h1v1h-1zM353.7 157.0h1v1h-1zM354.8 144.5h1v1h-1zM352.9 157.1h1v1h-1zM357.6 161.0h1v1h-1zM357.0 140.6h1v1h-1zM354.5 143.5h1v1h-1zM372.0 141.9h1v1h-1zM353.5 146.0h1v1h-1zM353.4 148.0h1v1h-1zM359.2 154.1h1v1h-1zM354.1 140.1h1v1h-1zM357.3 155.1h1v1h-1zM356.8 152.0h1v1h-1zM368.7 140.3h1v1h-1zM354.9 149.8h1v1h-1zM357.9 161.0h1v1h-1zM358.2 154.4h1v1h-1zM356.4 157.8h1v1h-1zM364.6 144.3h1v1h-1zM353.6 143.4h1v1h-1zM355.8 160.7h1v1h-1zM354.9 153.5h1v1h-1zM359.6 162.5h1v1h-1zM353.7 157.4h1v1h-1zM355.6 139.1h1v1h-1zM359.4 159.4h1v1h-1zM358.6 137.7h1v1h-1zM376.2 146.8h1v1h-1zM359.5 156.1h1v1h-1zM354.9 147.5h1v1h-1zM355.5 138.9h1v1h-1zM353.3 155.9h1v1h-1zM356.3 160.1h1v1h-1zM353.3 144.6h1v1h-1zM354.2 162.1h1v1h-1zM363.1 160.9h1v1h-1zM357.5 139.2h1v1h-1zM356.4 142.5h1v1h-1zM353.1 151.8h1v1h-1zM355.1 139.3h1v1h-1zM357.6 161.9h1v1h-1zM371.9 149.1h1v1h-1zM353.6 157.4h1v1h-1zM353.7 151.0h1v1h-1zM353.5 163.3h1v1h-1zM358.0 148.3h1v1h-1zM355.0 151.4h1v1h-1zM376.4 148.0h1v1h-1zM354.4 150.4h1v1h-1zM369.2 146.8h1v1h-1zM359.4 161.5h1v1h-1zM355.5 158.5h1v1h-1zM357.8 140.1h1v1h-1zM353.3 162.0h1v1h-1zM357.0 148.4h1v1h-1zM369.1 152.0h1v1h-1zM357.4 144.1h1v1h-1zM361.8 143.3h1v1h-1zM357.0 157.1h1v1h-1zM358.9 140.0h1v1h-1zM354.4 155.3h1v1h-1zM361.4 139.1h1v1h-1zM353.8 140.9h1v1h-1zM353.5 148.5h1v1h-1zM359.2 159.8h1v1h-1zM354.1 155.4h1v1h-1zM353.6 152.2h1v1h-1zM354.8 146.1h1v1h-1zM353.3 156.0h1v1h-1zM353.7 157.2h1v1h-1zM355.6 152.5h1v1h-1zM359.5 149.7h1v1h-1zM366.3 161.5h1v1h-1zM355.1 145.4h1v1h-1zM366.5 139.9h1v1h-1zM356.4 147.7h1v1h-1zM377.2 139.8h1v1h-1zM359.8 157.0h1v1h-1zM361.4 136.3h1v1h-1zM371.6 144.9h1v1h-1zM365.4 154.4h1v1h-1zM356.4 159.3h1v1h-1zM360.2 145.6h1v1h-1zM361.5 150.1h1v1h-1zM361.0 153.1h1v1h-1zM363.2 140.7h1v1h-1zM357.3 136.3h1v1h-1zM363.1 157.4h1v1h-1zM364.7 137.5h1v1h-1zM357.9 149.4h1v1h-1zM353.7 141.9h1v1h-1zM376.7 159.7h1v1h-1zM354.7 159.0h1v1h-1zM359.7 146.8h1v1h-1zM359.6 142.6h1v1h-1zM355.0 136.6h1v1h-1zM359.8 152.2h1v1h-1zM361.7 150.1h1v1h-1zM356.6 144.7h1v1h-1zM361.5 146.5h1v1h-1zM358.8 157.1h1v1h-1zM356.7 155.1h1v1h-1zM353.3 143.4h1v1h-1zM364.8 140.3h1v1h-1zM353.3 136.7h1v1h-1zM362.3 139.2h1v1h-1zM356.9 148.3h1v1h-1zM363.5 149.4h1v1h-1zM357.7 137.0h1v1h-1zM363.2 157.3h1v1h-1zM359.2 159.2h1v1h-1zM359.1 155.9h1v1h-1zM365.3 153.2h1v1h-1zM353.0 160.5h1v1h-1zM382.5 141.8h1v1h-1zM353.3 145.6h1v1h-1zM353.6 146.4h1v1h-1zM353.5 142.3h1v1h-1zM352.9 148.0h1v1h-1zM355.2 156.3h1v1h-1zM356.1 140.8h1v1h-1zM372.8 160.8h1v1h-1zM360.5 142.2h1v1h-1zM356.2 148.7h1v1h-1zM356.3 137.0h1v1h-1zM356.9 157.3h1v1h-1zM360.6 159.9h1v1h-1zM360.4 157.2h1v1h-1zM366.2 161.4h1v1h-1zM363.1 147.7h1v1h-1zM359.9 154.3h1v1h-1zM366.8 155.9h1v1h-1zM356.7 141.5h1v1h-1zM355.5 143.2h1v1h-1zM360.3 157.4h1v1h-1zM354.3 150.9h1v1h-1zM364.8 146.3h1v1h-1zM310.3 152.9h1v1h-1zM312.5 140.2h1v1h-1zM311.9 136.5h1v1h-1zM310.7 148.0h1v1h-1zM310.4 136.5h1v1h-1zM314.0 162.5h1v1h-1zM316.3 145.2h1v1h-1zM317.1 138.5h1v1h-1zM310.7 136.5h1v1h-1zM310.0 152.8h1v1h-1zM315.7 149.4h1v1h-1zM316.1 148.7h1v1h-1zM317.0 153.0h1v1h-1zM313.9 141.0h1v1h-1zM313.0 148.4h1v1h-1zM316.2 142.6h1v1h-1zM311.9 158.7h1v1h-1zM310.1 151.0h1v1h-1zM311.3 154.5h1v1h-1zM314.4 138.9h1v1h-1zM315.5 147.5h1v1h-1zM312.1 159.8h1v1h-1zM315.9 144.8h1v1h-1zM315.1 139.7h1v1h-1zM313.8 138.6h1v1h-1zM314.8 161.4h1v1h-1zM314.7 137.4h1v1h-1zM313.7 149.2h1v1h-1zM313.1 140.4h1v1h-1zM311.8 148.6h1v1h-1zM310.1 154.8h1v1h-1zM311.5 144.3h1v1h-1zM310.2 144.6h1v1h-1zM317.1 144.3h1v1h-1zM310.3 145.8h1v1h-1zM317.2 138.7h1v1h-1zM312.3 142.0h1v1h-1zM315.1 148.9h1v1h-1zM310.3 159.9h1v1h-1zM312.2 155.1h1v1h-1zM313.2 160.2h1v1h-1zM310.0 142.5h1v1h-1zM311.8 143.5h1v1h-1zM316.2 150.1h1v1h-1zM312.3 150.2h1v1h-1zM316.4 151.9h1v1h-1zM313.2 154.3h1v1h-1zM314.5 147.4h1v1h-1zM313.0 139.9h1v1h-1zM313.1 160.4h1v1h-1zM312.0 146.3h1v1h-1zM314.4 152.5h1v1h-1zM310.9 148.5h1v1h-1zM315.5 137.4h1v1h-1zM310.4 157.0h1v1h-1zM316.9 138.1h1v1h-1zM310.2 153.5h1v1h-1zM311.8 154.3h1v1h-1zM309.8 148.8h1v1h-1zM310.8 145.4h1v1h-1zM398.2 136.5h1v1h-1zM389.5 145.0h1v1h-1zM396.5 148.2h1v1h-1zM394.5 150.2h1v1h-1zM393.2 154.0h1v1h-1zM392.5 159.0h1v1h-1zM408.2 154.0h1v1h-1zM410.8 156.5h1v1h-1zM413.8 158.2h1v1h-1zM420.8 139.0h1v1h-1zM425.2 150.8h1v1h-1zM428.2 142.0h1v1h-1zM435.8 141.5h1v1h-1zM439.0 144.5h1v1h-1zM446.5 148.2h1v1h-1zM450.2 138.2h1v1h-1zM494.5 160.8h1v1h-1zM501.2 153.2h1v1h-1z" fill="#1877b5"/>
<text x="6.70" y="227.30" font-size="11" fill="#111" font-weight="bold">C</text>
<text x="53.80" y="242.20" font-size="8.6" fill="#333" stroke="#333" stroke-width="0.2" textLength="215.00" lengthAdjust="spacingAndGlyphs">End of storage Kynurenine levels in 13,091 blood donors</text>
<line x1="32.00" y1="265.00" x2="128.00" y2="252.00" stroke="#e6e6e6" stroke-width="0.5"/>
<line x1="34.00" y1="276.00" x2="128.00" y2="262.00" stroke="#e6e6e6" stroke-width="0.5"/>
<line x1="37.00" y1="287.00" x2="128.00" y2="272.00" stroke="#e6e6e6" stroke-width="0.5"/>
<line x1="39.00" y1="298.00" x2="128.00" y2="283.00" stroke="#e6e6e6" stroke-width="0.5"/>
<line x1="42.00" y1="308.00" x2="128.00" y2="293.00" stroke="#e6e6e6" stroke-width="0.5"/>
<line x1="44.00" y1="318.00" x2="128.00" y2="303.00" stroke="#e6e6e6" stroke-width="0.5"/>
<line x1="47.00" y1="327.00" x2="128.00" y2="312.00" stroke="#e6e6e6" stroke-width="0.5"/>
<line x1="50.00" y1="336.00" x2="128.00" y2="322.00" stroke="#e6e6e6" stroke-width="0.5"/>
<line x1="128.00" y1="252.00" x2="228.00" y2="250.00" stroke="#e6e6e6" stroke-width="0.5"/>
<line x1="128.00" y1="322.00" x2="228.00" y2="330.00" stroke="#e6e6e6" stroke-width="0.5"/>
<line x1="228.00" y1="250.00" x2="300.00" y2="262.00" stroke="#e6e6e6" stroke-width="0.5"/>
<line x1="228.00" y1="330.00" x2="300.00" y2="322.00" stroke="#e6e6e6" stroke-width="0.5"/>
<line x1="128.00" y1="252.00" x2="128.00" y2="322.00" stroke="#e6e6e6" stroke-width="0.5"/>
<line x1="228.00" y1="250.00" x2="228.00" y2="330.00" stroke="#e6e6e6" stroke-width="0.5"/>
<line x1="275.00" y1="255.00" x2="275.00" y2="325.00" stroke="#e6e6e6" stroke-width="0.5"/>
<line x1="50.00" y1="336.00" x2="120.00" y2="392.00" stroke="#e6e6e6" stroke-width="0.5"/>
<line x1="55.00" y1="343.00" x2="165.00" y2="300.00" stroke="#e6e6e6" stroke-width="0.5"/>
<line x1="88.00" y1="364.00" x2="205.00" y2="318.00" stroke="#e6e6e6" stroke-width="0.5"/>
<line x1="126.00" y1="390.00" x2="245.00" y2="343.00" stroke="#e6e6e6" stroke-width="0.5"/>
<line x1="160.00" y1="305.00" x2="286.00" y2="349.00" stroke="#e6e6e6" stroke-width="0.5"/>
<line x1="150.00" y1="338.00" x2="272.00" y2="386.00" stroke="#e6e6e6" stroke-width="0.5"/>
<line x1="230.00" y1="296.00" x2="295.00" y2="324.00" stroke="#e6e6e6" stroke-width="0.5"/>
<line x1="120.00" y1="392.00" x2="272.00" y2="386.00" stroke="#e6e6e6" stroke-width="0.5"/>
<text x="26.40" y="268.10" font-size="6.6" fill="#333" stroke="#333" stroke-width="0.2" text-anchor="middle" textLength="3.30" lengthAdjust="spacingAndGlyphs">7</text>
<text x="28.80" y="278.80" font-size="6.6" fill="#333" stroke="#333" stroke-width="0.2" text-anchor="middle" textLength="3.30" lengthAdjust="spacingAndGlyphs">6</text>
<text x="31.30" y="289.60" font-size="6.6" fill="#333" stroke="#333" stroke-width="0.2" text-anchor="middle" textLength="3.30" lengthAdjust="spacingAndGlyphs">5</text>
<text x="33.70" y="300.60" font-size="6.6" fill="#333" stroke="#333" stroke-width="0.2" text-anchor="middle" textLength="3.30" lengthAdjust="spacingAndGlyphs">4</text>
<text x="36.40" y="310.90" font-size="6.6" fill="#333" stroke="#333" stroke-width="0.2" text-anchor="middle" textLength="3.30" lengthAdjust="spacingAndGlyphs">3</text>
<text x="38.50" y="320.30" font-size="6.6" fill="#333" stroke="#333" stroke-width="0.2" text-anchor="middle" textLength="3.30" lengthAdjust="spacingAndGlyphs">2</text>
<text x="41.20" y="330.00" font-size="6.6" fill="#333" stroke="#333" stroke-width="0.2" text-anchor="middle" textLength="3.30" lengthAdjust="spacingAndGlyphs">1</text>
<text x="43.40" y="338.70" font-size="6.6" fill="#333" stroke="#333" stroke-width="0.2" text-anchor="middle" textLength="3.30" lengthAdjust="spacingAndGlyphs">0</text>
<text x="23.60" y="305.50" font-size="7.0" fill="#333" stroke="#333" stroke-width="0.2" text-anchor="middle" textLength="33.00" lengthAdjust="spacingAndGlyphs" transform="rotate(-101 23.60 305.50)">Kynurenine</text>
<path d="M82.0 320.1h1v1h-1zM134.0 291.3h1v1h-1zM124.7 291.0h1v1h-1zM87.5 321.0h1v1h-1zM83.9 309.9h1v1h-1zM93.7 298.2h1v1h-1zM114.2 290.7h1v1h-1zM134.0 292.1h1v1h-1zM153.8 286.5h1v1h-1zM120.4 292.9h1v1h-1zM97.5 295.3h1v1h-1zM127.4 294.4h1v1h-1zM152.7 280.2h1v1h-1zM141.3 289.6h1v1h-1zM85.1 318.9h1v1h-1zM138.6 286.2h1v1h-1zM105.4 296.8h1v1h-1zM117.0 289.4h1v1h-1zM86.9 295.5h1v1h-1zM148.6 288.5h1v1h-1zM125.3 292.5h1v1h-1zM89.7 315.9h1v1h-1zM131.9 291.1h1v1h-1zM85.6 320.8h1v1h-1zM95.6 319.6h1v1h-1zM110.8 297.4h1v1h-1zM84.0 309.8h1v1h-1zM98.1 295.8h1v1h-1zM94.9 328.4h1v1h-1zM156.0 284.2h1v1h-1zM85.6 312.0h1v1h-1zM155.4 284.5h1v1h-1zM142.7 285.5h1v1h-1zM145.1 291.7h1v1h-1zM97.3 292.4h1v1h-1zM92.7 332.3h1v1h-1zM81.6 321.7h1v1h-1zM106.1 294.1h1v1h-1zM86.5 321.0h1v1h-1zM81.4 318.2h1v1h-1zM82.2 304.7h1v1h-1zM83.6 311.5h1v1h-1zM88.8 326.8h1v1h-1zM114.5 295.3h1v1h-1zM95.9 300.6h1v1h-1zM138.1 288.1h1v1h-1zM90.1 295.5h1v1h-1zM141.8 291.0h1v1h-1zM85.4 299.7h1v1h-1zM159.0 285.9h1v1h-1zM93.1 329.4h1v1h-1zM92.0 302.9h1v1h-1zM161.1 285.5h1v1h-1zM142.3 287.0h1v1h-1zM105.0 293.7h1v1h-1zM108.8 296.0h1v1h-1zM140.3 292.3h1v1h-1zM106.6 296.6h1v1h-1zM125.0 290.9h1v1h-1zM90.5 328.4h1v1h-1zM139.0 288.6h1v1h-1zM81.6 322.0h1v1h-1zM162.5 286.0h1v1h-1zM119.1 293.6h1v1h-1zM149.2 288.8h1v1h-1zM80.1 304.1h1v1h-1zM154.9 288.6h1v1h-1zM82.8 320.2h1v1h-1zM88.2 318.4h1v1h-1zM87.7 314.3h1v1h-1zM94.3 330.0h1v1h-1zM102.1 300.2h1v1h-1zM81.8 308.3h1v1h-1zM79.8 306.5h1v1h-1zM152.6 284.6h1v1h-1zM122.5 293.3h1v1h-1zM128.7 291.5h1v1h-1zM112.2 298.7h1v1h-1zM110.9 295.5h1v1h-1zM99.4 297.3h1v1h-1zM93.0 332.3h1v1h-1zM91.7 331.3h1v1h-1zM123.2 290.6h1v1h-1zM143.5 289.3h1v1h-1zM79.3 307.3h1v1h-1zM150.8 287.6h1v1h-1zM84.3 306.0h1v1h-1zM114.7 294.4h1v1h-1zM105.9 295.6h1v1h-1zM137.4 286.5h1v1h-1zM93.8 298.0h1v1h-1zM96.3 330.6h1v1h-1zM139.0 287.4h1v1h-1zM87.4 308.7h1v1h-1zM162.1 287.8h1v1h-1zM79.6 319.5h1v1h-1zM125.6 292.0h1v1h-1zM86.8 309.8h1v1h-1zM137.5 285.0h1v1h-1zM84.1 314.2h1v1h-1zM101.3 296.0h1v1h-1zM91.9 327.7h1v1h-1zM83.1 310.7h1v1h-1zM150.0 289.3h1v1h-1zM90.5 324.8h1v1h-1zM124.5 289.8h1v1h-1zM157.0 286.3h1v1h-1zM142.8 291.6h1v1h-1zM159.7 291.7h1v1h-1zM97.3 331.4h1v1h-1zM138.1 290.9h1v1h-1zM78.2 312.2h1v1h-1zM129.3 291.5h1v1h-1zM98.1 300.1h1v1h-1zM126.9 295.1h1v1h-1zM95.2 301.6h1v1h-1zM92.5 307.6h1v1h-1zM95.9 333.3h1v1h-1zM82.1 316.5h1v1h-1zM103.3 300.8h1v1h-1zM90.9 334.9h1v1h-1zM148.2 284.9h1v1h-1zM139.8 289.6h1v1h-1zM109.8 294.5h1v1h-1zM87.6 328.1h1v1h-1zM148.5 287.2h1v1h-1zM121.9 290.2h1v1h-1zM90.6 329.6h1v1h-1zM130.6 292.4h1v1h-1zM95.5 325.2h1v1h-1zM138.9 283.3h1v1h-1zM99.8 298.5h1v1h-1zM115.9 294.7h1v1h-1zM110.1 293.7h1v1h-1zM77.5 312.9h1v1h-1zM84.6 326.8h1v1h-1zM91.4 303.0h1v1h-1zM144.1 292.2h1v1h-1zM90.2 298.1h1v1h-1zM103.8 298.5h1v1h-1zM144.9 290.1h1v1h-1zM161.8 287.7h1v1h-1zM96.4 299.5h1v1h-1zM140.4 285.7h1v1h-1zM87.1 323.1h1v1h-1zM93.6 302.2h1v1h-1zM79.3 307.7h1v1h-1zM134.1 290.9h1v1h-1zM79.4 304.0h1v1h-1zM82.7 317.1h1v1h-1zM80.7 308.3h1v1h-1zM137.2 289.1h1v1h-1zM93.0 330.7h1v1h-1zM119.1 294.7h1v1h-1zM135.9 282.4h1v1h-1zM80.9 315.1h1v1h-1zM90.9 300.6h1v1h-1zM96.5 328.4h1v1h-1zM150.7 290.4h1v1h-1zM135.7 289.3h1v1h-1zM81.7 306.4h1v1h-1zM91.0 324.8h1v1h-1zM91.3 325.6h1v1h-1zM104.1 299.2h1v1h-1zM128.6 293.0h1v1h-1zM78.9 304.8h1v1h-1zM84.3 323.7h1v1h-1zM100.1 294.5h1v1h-1zM154.5 286.9h1v1h-1zM148.5 290.5h1v1h-1zM129.7 301.1h1v1h-1zM84.6 308.1h1v1h-1zM114.2 293.5h1v1h-1zM143.4 286.4h1v1h-1zM83.8 317.3h1v1h-1zM130.1 292.6h1v1h-1zM83.9 301.0h1v1h-1zM107.9 296.0h1v1h-1zM84.9 320.7h1v1h-1zM161.0 283.6h1v1h-1zM89.2 323.6h1v1h-1zM160.4 283.8h1v1h-1zM91.4 330.2h1v1h-1zM162.3 284.6h1v1h-1zM162.5 283.7h1v1h-1zM156.2 286.0h1v1h-1zM97.3 298.9h1v1h-1zM134.9 289.1h1v1h-1zM121.6 296.6h1v1h-1zM141.7 291.7h1v1h-1zM116.1 296.3h1v1h-1zM135.7 285.4h1v1h-1zM89.6 319.2h1v1h-1zM108.9 288.6h1v1h-1zM109.5 295.2h1v1h-1zM145.9 287.3h1v1h-1zM126.9 291.4h1v1h-1zM90.5 305.5h1v1h-1zM97.9 298.8h1v1h-1zM108.7 294.8h1v1h-1zM84.7 296.5h1v1h-1z" fill="#6a40a8"/>
<path d="M158.5 290.0h1v1h-1zM90.0 299.4h1v1h-1zM89.0 298.1h1v1h-1zM84.5 319.5h1v1h-1zM134.5 293.2h1v1h-1zM89.7 302.7h1v1h-1zM119.9 293.8h1v1h-1zM84.5 303.8h1v1h-1zM87.2 299.0h1v1h-1zM147.1 285.3h1v1h-1zM89.4 301.9h1v1h-1zM154.5 282.5h1v1h-1zM79.3 312.3h1v1h-1zM96.2 300.1h1v1h-1zM86.2 318.4h1v1h-1zM134.5 287.1h1v1h-1zM104.9 298.4h1v1h-1zM91.8 297.0h1v1h-1zM150.2 288.3h1v1h-1zM136.2 289.5h1v1h-1zM85.4 302.8h1v1h-1zM119.2 292.4h1v1h-1zM131.8 297.7h1v1h-1zM83.4 310.2h1v1h-1zM123.6 284.1h1v1h-1zM146.2 287.2h1v1h-1zM144.7 287.0h1v1h-1zM94.5 298.1h1v1h-1zM86.6 316.3h1v1h-1zM145.4 289.7h1v1h-1zM120.0 289.1h1v1h-1zM89.1 298.9h1v1h-1zM86.5 319.1h1v1h-1zM111.2 298.8h1v1h-1zM97.0 297.7h1v1h-1zM111.9 294.8h1v1h-1zM135.4 287.8h1v1h-1zM85.7 303.0h1v1h-1zM90.1 319.4h1v1h-1zM114.5 297.4h1v1h-1zM87.1 321.4h1v1h-1zM86.2 298.7h1v1h-1zM79.8 316.7h1v1h-1zM99.6 296.6h1v1h-1zM135.4 290.6h1v1h-1zM150.6 287.4h1v1h-1zM84.9 324.6h1v1h-1zM163.2 285.8h1v1h-1zM114.9 295.0h1v1h-1zM144.4 290.6h1v1h-1zM107.2 296.7h1v1h-1zM145.4 286.1h1v1h-1zM119.2 296.8h1v1h-1zM80.4 308.6h1v1h-1zM82.2 304.0h1v1h-1zM114.1 297.4h1v1h-1zM95.4 328.3h1v1h-1zM93.7 333.2h1v1h-1zM83.2 319.2h1v1h-1zM138.4 290.9h1v1h-1zM156.9 288.7h1v1h-1zM98.7 298.8h1v1h-1zM155.7 285.5h1v1h-1zM151.5 284.8h1v1h-1zM114.8 294.3h1v1h-1zM83.4 315.8h1v1h-1zM91.1 324.8h1v1h-1zM121.6 286.2h1v1h-1zM90.4 300.9h1v1h-1zM83.3 305.2h1v1h-1zM147.0 281.5h1v1h-1zM120.2 294.2h1v1h-1zM148.6 286.9h1v1h-1zM91.0 323.2h1v1h-1zM98.0 301.1h1v1h-1zM131.9 293.0h1v1h-1zM115.6 294.5h1v1h-1zM107.4 290.7h1v1h-1zM81.6 311.3h1v1h-1zM163.3 287.7h1v1h-1zM143.8 286.3h1v1h-1zM94.1 300.4h1v1h-1zM91.4 326.9h1v1h-1zM92.4 299.3h1v1h-1zM87.5 327.4h1v1h-1zM153.7 283.4h1v1h-1zM92.7 329.2h1v1h-1zM84.8 298.9h1v1h-1zM152.7 283.2h1v1h-1zM99.1 297.2h1v1h-1zM104.0 297.4h1v1h-1zM113.6 293.7h1v1h-1zM83.6 319.2h1v1h-1zM115.2 298.5h1v1h-1zM137.1 285.5h1v1h-1zM122.3 292.8h1v1h-1zM87.5 330.6h1v1h-1zM91.2 301.2h1v1h-1zM114.9 295.0h1v1h-1zM88.1 324.7h1v1h-1zM84.8 301.2h1v1h-1zM116.7 291.6h1v1h-1zM121.7 292.3h1v1h-1zM141.3 288.9h1v1h-1zM93.2 330.8h1v1h-1zM102.4 296.0h1v1h-1zM127.7 290.0h1v1h-1zM107.7 295.4h1v1h-1zM146.3 291.0h1v1h-1zM145.7 286.7h1v1h-1zM129.5 292.7h1v1h-1zM133.0 290.9h1v1h-1zM163.1 286.5h1v1h-1zM157.5 287.3h1v1h-1zM126.7 293.0h1v1h-1zM97.7 298.2h1v1h-1zM119.4 293.5h1v1h-1zM96.5 333.4h1v1h-1zM88.2 302.6h1v1h-1zM114.9 292.0h1v1h-1zM87.7 307.2h1v1h-1zM98.5 298.1h1v1h-1zM141.7 291.2h1v1h-1zM103.5 291.8h1v1h-1zM77.7 312.3h1v1h-1zM85.7 314.5h1v1h-1zM93.1 300.3h1v1h-1zM87.3 311.4h1v1h-1zM150.2 285.1h1v1h-1zM124.2 298.1h1v1h-1zM129.7 293.8h1v1h-1zM132.7 292.1h1v1h-1zM81.3 309.0h1v1h-1zM82.5 304.1h1v1h-1zM107.4 295.2h1v1h-1zM156.0 291.1h1v1h-1zM135.7 291.6h1v1h-1zM113.1 297.0h1v1h-1zM88.7 327.4h1v1h-1zM125.8 287.1h1v1h-1zM90.4 305.3h1v1h-1zM114.3 299.0h1v1h-1zM134.9 294.1h1v1h-1zM107.8 295.9h1v1h-1zM145.7 290.3h1v1h-1zM126.1 294.9h1v1h-1zM80.7 318.3h1v1h-1zM140.9 284.5h1v1h-1zM152.2 288.1h1v1h-1zM121.9 297.9h1v1h-1zM85.9 301.3h1v1h-1zM96.3 333.0h1v1h-1zM121.2 288.6h1v1h-1zM161.3 287.0h1v1h-1zM150.9 288.1h1v1h-1zM95.7 299.2h1v1h-1zM104.3 299.6h1v1h-1zM134.1 288.7h1v1h-1zM143.3 292.8h1v1h-1zM133.9 294.7h1v1h-1zM98.1 297.0h1v1h-1zM117.3 291.0h1v1h-1zM81.8 320.6h1v1h-1zM156.3 288.0h1v1h-1zM94.3 298.8h1v1h-1zM94.3 300.6h1v1h-1zM83.6 310.3h1v1h-1zM82.7 315.4h1v1h-1zM145.1 288.0h1v1h-1zM81.3 302.9h1v1h-1zM101.1 294.6h1v1h-1zM96.0 297.5h1v1h-1zM147.3 289.6h1v1h-1zM84.9 311.5h1v1h-1zM89.7 326.2h1v1h-1zM158.6 287.3h1v1h-1zM84.1 324.7h1v1h-1zM144.3 290.6h1v1h-1zM152.7 284.9h1v1h-1zM160.3 287.6h1v1h-1zM91.2 321.7h1v1h-1zM108.1 296.9h1v1h-1zM84.7 311.5h1v1h-1zM162.3 281.2h1v1h-1zM92.8 304.5h1v1h-1zM151.4 287.6h1v1h-1zM132.7 290.5h1v1h-1zM94.0 333.5h1v1h-1zM86.7 323.7h1v1h-1zM98.4 299.0h1v1h-1zM85.7 326.3h1v1h-1zM130.0 291.4h1v1h-1zM108.2 291.7h1v1h-1zM112.7 298.2h1v1h-1zM127.2 297.4h1v1h-1zM84.6 298.0h1v1h-1zM87.4 297.9h1v1h-1zM148.8 284.3h1v1h-1z" fill="#2e0a5e"/>
<path d="M98.4 299.4h1v1h-1zM95.8 305.6h1v1h-1zM124.1 291.3h1v1h-1zM84.2 323.5h1v1h-1zM86.7 324.6h1v1h-1zM121.3 292.9h1v1h-1zM94.2 323.0h1v1h-1zM131.7 295.0h1v1h-1zM79.2 322.0h1v1h-1zM81.7 314.2h1v1h-1zM133.4 293.3h1v1h-1zM93.3 330.5h1v1h-1zM94.8 330.1h1v1h-1zM163.4 285.3h1v1h-1zM148.6 284.1h1v1h-1zM154.5 286.1h1v1h-1zM113.2 293.9h1v1h-1zM142.6 285.6h1v1h-1zM140.0 288.1h1v1h-1zM159.0 288.8h1v1h-1zM151.5 286.2h1v1h-1zM94.5 311.2h1v1h-1zM107.4 298.2h1v1h-1zM127.7 291.7h1v1h-1zM113.3 291.4h1v1h-1zM85.7 305.7h1v1h-1zM100.0 295.7h1v1h-1zM110.3 294.3h1v1h-1zM156.0 286.6h1v1h-1zM107.3 299.9h1v1h-1zM144.6 280.9h1v1h-1zM93.3 330.6h1v1h-1zM90.0 329.3h1v1h-1zM118.7 298.8h1v1h-1zM122.2 293.7h1v1h-1zM104.1 301.3h1v1h-1zM133.1 293.9h1v1h-1zM89.8 321.3h1v1h-1zM101.8 297.1h1v1h-1zM84.4 304.2h1v1h-1zM87.3 296.9h1v1h-1zM120.0 295.6h1v1h-1zM89.8 328.1h1v1h-1zM149.0 288.2h1v1h-1zM78.3 311.6h1v1h-1zM80.9 305.6h1v1h-1zM87.5 325.1h1v1h-1zM81.9 325.8h1v1h-1zM134.1 289.7h1v1h-1zM133.5 292.0h1v1h-1zM144.6 289.1h1v1h-1zM95.9 330.6h1v1h-1zM143.9 284.9h1v1h-1zM104.2 294.9h1v1h-1zM138.1 291.2h1v1h-1zM122.0 296.4h1v1h-1zM137.7 293.8h1v1h-1zM141.7 286.1h1v1h-1zM94.5 331.6h1v1h-1zM124.5 294.5h1v1h-1zM142.2 293.3h1v1h-1zM82.9 296.5h1v1h-1zM89.6 327.5h1v1h-1zM109.7 297.3h1v1h-1zM111.7 296.9h1v1h-1zM84.5 312.1h1v1h-1zM91.4 327.8h1v1h-1zM97.7 296.6h1v1h-1zM139.3 286.5h1v1h-1zM122.5 294.3h1v1h-1zM93.7 332.8h1v1h-1zM148.1 291.4h1v1h-1zM98.6 300.5h1v1h-1zM99.6 298.0h1v1h-1zM92.4 328.5h1v1h-1zM144.4 289.2h1v1h-1zM92.2 300.6h1v1h-1zM91.1 326.3h1v1h-1zM88.4 326.9h1v1h-1zM91.7 300.6h1v1h-1zM128.7 291.5h1v1h-1zM77.1 308.8h1v1h-1zM106.6 299.8h1v1h-1zM110.0 297.8h1v1h-1zM134.3 291.8h1v1h-1zM90.3 325.0h1v1h-1zM100.6 294.3h1v1h-1zM85.0 301.7h1v1h-1zM87.3 315.6h1v1h-1zM91.4 323.7h1v1h-1zM157.3 286.0h1v1h-1zM101.3 301.3h1v1h-1zM115.4 296.8h1v1h-1zM124.4 289.7h1v1h-1zM123.7 290.4h1v1h-1zM142.6 286.3h1v1h-1zM158.5 288.6h1v1h-1zM86.8 297.5h1v1h-1zM81.2 310.6h1v1h-1zM94.1 333.3h1v1h-1zM90.3 327.5h1v1h-1zM123.2 296.3h1v1h-1zM161.5 285.1h1v1h-1zM138.2 286.9h1v1h-1zM127.3 291.3h1v1h-1zM87.6 298.0h1v1h-1zM94.8 298.4h1v1h-1zM130.7 290.8h1v1h-1zM144.1 284.3h1v1h-1zM126.2 294.8h1v1h-1zM96.8 332.5h1v1h-1zM86.2 302.2h1v1h-1zM120.1 294.1h1v1h-1zM84.4 318.7h1v1h-1zM90.5 299.9h1v1h-1zM94.8 295.7h1v1h-1zM152.6 286.3h1v1h-1zM90.4 299.7h1v1h-1zM91.4 298.4h1v1h-1zM82.8 310.3h1v1h-1zM82.1 317.8h1v1h-1zM82.4 322.3h1v1h-1zM107.3 295.0h1v1h-1zM85.3 304.2h1v1h-1zM109.1 297.7h1v1h-1zM135.0 291.5h1v1h-1zM88.8 327.7h1v1h-1zM90.5 299.5h1v1h-1zM85.4 325.0h1v1h-1zM91.5 297.3h1v1h-1zM156.4 281.6h1v1h-1zM119.4 294.2h1v1h-1zM126.1 292.8h1v1h-1zM94.8 304.2h1v1h-1zM127.8 287.7h1v1h-1zM93.9 331.0h1v1h-1zM86.0 326.9h1v1h-1zM153.7 285.7h1v1h-1zM89.8 304.3h1v1h-1zM134.2 288.7h1v1h-1zM162.0 283.8h1v1h-1zM118.5 299.0h1v1h-1zM116.7 296.4h1v1h-1zM162.1 291.7h1v1h-1zM82.3 305.6h1v1h-1zM79.8 312.9h1v1h-1zM111.2 298.4h1v1h-1zM125.1 290.0h1v1h-1zM123.1 292.7h1v1h-1zM145.6 291.1h1v1h-1zM97.8 298.5h1v1h-1zM121.4 293.9h1v1h-1zM97.3 332.0h1v1h-1zM140.8 292.8h1v1h-1zM90.4 323.6h1v1h-1zM116.6 294.2h1v1h-1zM119.7 296.7h1v1h-1zM98.9 298.2h1v1h-1zM131.9 291.5h1v1h-1zM90.0 321.0h1v1h-1zM88.2 299.3h1v1h-1zM91.3 327.4h1v1h-1zM112.1 295.9h1v1h-1zM152.6 287.8h1v1h-1zM103.1 296.0h1v1h-1zM87.2 304.2h1v1h-1zM110.0 298.0h1v1h-1zM143.4 287.3h1v1h-1zM120.0 296.7h1v1h-1zM79.7 314.8h1v1h-1zM143.6 286.2h1v1h-1zM156.2 285.5h1v1h-1zM121.9 291.9h1v1h-1zM114.5 294.4h1v1h-1zM91.3 298.1h1v1h-1zM86.7 304.8h1v1h-1zM147.8 290.6h1v1h-1zM139.9 288.6h1v1h-1zM140.2 287.1h1v1h-1zM131.3 288.2h1v1h-1zM100.1 292.1h1v1h-1zM94.1 331.0h1v1h-1zM89.3 327.2h1v1h-1zM160.3 290.7h1v1h-1zM104.8 300.3h1v1h-1zM139.0 288.9h1v1h-1zM148.7 283.1h1v1h-1zM77.3 316.9h1v1h-1zM91.1 299.2h1v1h-1zM80.0 319.0h1v1h-1zM143.2 291.9h1v1h-1zM152.6 287.3h1v1h-1zM117.4 289.7h1v1h-1zM83.0 311.1h1v1h-1zM148.7 286.5h1v1h-1zM108.8 298.0h1v1h-1zM148.1 287.8h1v1h-1zM120.1 289.1h1v1h-1zM134.8 290.7h1v1h-1zM133.0 286.8h1v1h-1zM129.0 287.7h1v1h-1zM93.1 332.3h1v1h-1zM144.3 291.8h1v1h-1zM85.2 312.5h1v1h-1zM101.2 298.4h1v1h-1zM92.9 330.3h1v1h-1zM93.1 333.5h1v1h-1zM146.1 290.3h1v1h-1zM90.2 321.0h1v1h-1zM96.4 301.3h1v1h-1zM102.5 296.4h1v1h-1zM154.5 290.2h1v1h-1zM161.0 290.4h1v1h-1zM143.0 288.9h1v1h-1zM100.2 299.4h1v1h-1zM142.2 292.5h1v1h-1zM88.4 323.9h1v1h-1zM135.3 291.8h1v1h-1zM159.6 286.8h1v1h-1zM84.4 313.0h1v1h-1zM93.1 297.0h1v1h-1zM140.0 288.1h1v1h-1zM88.3 300.8h1v1h-1z" fill="#5a2c98"/>
<path d="M93.1 332.7h1v1h-1zM132.7 289.3h1v1h-1zM111.3 294.7h1v1h-1zM110.6 294.6h1v1h-1zM76.3 324.2h1v1h-1zM95.2 293.9h1v1h-1zM79.1 311.4h1v1h-1zM82.3 303.5h1v1h-1zM162.6 286.4h1v1h-1zM159.2 288.0h1v1h-1zM114.3 293.7h1v1h-1zM107.5 292.9h1v1h-1zM124.9 292.7h1v1h-1zM93.9 328.7h1v1h-1zM86.8 297.5h1v1h-1zM135.9 290.2h1v1h-1zM153.1 290.9h1v1h-1zM82.0 320.2h1v1h-1zM149.3 283.6h1v1h-1zM134.3 291.3h1v1h-1zM88.0 304.4h1v1h-1zM141.8 289.8h1v1h-1zM95.4 330.5h1v1h-1zM83.3 311.0h1v1h-1zM91.7 300.5h1v1h-1zM139.7 284.6h1v1h-1zM104.4 296.9h1v1h-1zM92.3 299.8h1v1h-1zM96.2 295.3h1v1h-1zM119.1 291.9h1v1h-1zM94.5 326.2h1v1h-1zM103.1 299.0h1v1h-1zM119.7 291.2h1v1h-1zM101.9 296.7h1v1h-1zM123.3 294.0h1v1h-1zM131.1 289.2h1v1h-1zM99.1 304.3h1v1h-1zM99.5 297.5h1v1h-1zM154.7 284.2h1v1h-1zM77.6 311.4h1v1h-1zM91.3 301.8h1v1h-1zM128.7 292.9h1v1h-1zM82.1 305.3h1v1h-1zM75.8 316.3h1v1h-1zM136.7 288.7h1v1h-1zM85.9 306.3h1v1h-1zM99.0 299.4h1v1h-1zM90.7 325.2h1v1h-1zM102.1 299.5h1v1h-1zM143.9 289.4h1v1h-1zM85.2 303.9h1v1h-1zM89.1 317.6h1v1h-1zM146.2 287.1h1v1h-1zM115.2 294.8h1v1h-1zM149.0 291.6h1v1h-1zM96.3 301.5h1v1h-1zM85.2 311.9h1v1h-1zM102.2 297.1h1v1h-1zM85.0 296.4h1v1h-1zM92.2 303.7h1v1h-1zM84.7 324.4h1v1h-1zM114.6 291.4h1v1h-1zM92.2 301.1h1v1h-1zM112.0 294.2h1v1h-1zM131.7 292.7h1v1h-1zM106.0 295.5h1v1h-1zM86.2 309.5h1v1h-1zM80.7 315.7h1v1h-1zM122.1 289.9h1v1h-1zM134.7 292.7h1v1h-1zM137.0 289.8h1v1h-1zM80.9 318.4h1v1h-1zM83.4 325.9h1v1h-1zM92.1 297.1h1v1h-1zM119.8 291.6h1v1h-1zM80.0 309.2h1v1h-1zM99.4 304.6h1v1h-1zM152.2 290.5h1v1h-1zM136.0 294.6h1v1h-1zM155.0 286.0h1v1h-1zM90.3 324.8h1v1h-1zM95.9 332.6h1v1h-1zM96.4 301.8h1v1h-1zM139.2 287.0h1v1h-1zM96.0 332.7h1v1h-1zM121.5 297.3h1v1h-1zM82.8 315.4h1v1h-1zM137.5 288.8h1v1h-1zM91.3 301.5h1v1h-1zM90.8 333.8h1v1h-1zM96.0 331.5h1v1h-1zM92.3 298.3h1v1h-1zM85.8 299.8h1v1h-1zM112.3 298.8h1v1h-1zM82.5 312.1h1v1h-1zM113.8 298.7h1v1h-1zM83.4 313.6h1v1h-1zM116.9 293.2h1v1h-1zM114.3 295.4h1v1h-1zM155.4 287.3h1v1h-1zM91.8 294.4h1v1h-1zM162.0 281.5h1v1h-1zM117.6 293.3h1v1h-1zM88.8 327.4h1v1h-1zM102.4 297.0h1v1h-1zM147.4 284.9h1v1h-1zM94.7 334.6h1v1h-1zM160.4 289.0h1v1h-1zM79.6 321.4h1v1h-1zM111.4 297.5h1v1h-1zM86.9 325.0h1v1h-1zM123.5 287.5h1v1h-1zM91.0 302.6h1v1h-1zM92.8 332.2h1v1h-1zM93.6 301.0h1v1h-1zM94.6 326.7h1v1h-1zM136.1 289.5h1v1h-1zM123.2 291.2h1v1h-1zM91.7 328.8h1v1h-1zM83.9 322.6h1v1h-1zM109.2 299.0h1v1h-1zM95.7 332.3h1v1h-1zM88.3 323.5h1v1h-1zM141.9 287.9h1v1h-1zM82.7 317.2h1v1h-1zM112.7 298.4h1v1h-1zM83.4 309.2h1v1h-1zM90.2 302.7h1v1h-1zM108.2 298.8h1v1h-1zM157.3 291.3h1v1h-1zM98.5 299.2h1v1h-1zM125.2 289.2h1v1h-1zM130.2 289.3h1v1h-1zM97.8 302.6h1v1h-1zM87.6 323.1h1v1h-1zM85.1 329.1h1v1h-1zM150.9 289.3h1v1h-1zM85.7 324.8h1v1h-1zM115.8 297.9h1v1h-1zM90.7 301.3h1v1h-1zM149.2 286.1h1v1h-1zM151.2 288.9h1v1h-1zM123.0 291.1h1v1h-1zM140.3 287.9h1v1h-1zM97.0 332.1h1v1h-1zM134.4 295.5h1v1h-1zM84.5 327.0h1v1h-1zM79.6 307.9h1v1h-1zM151.0 287.9h1v1h-1zM119.3 295.2h1v1h-1zM103.6 291.4h1v1h-1zM89.5 327.2h1v1h-1zM86.5 301.1h1v1h-1zM78.4 313.8h1v1h-1zM94.1 327.6h1v1h-1zM101.1 296.4h1v1h-1zM99.0 299.2h1v1h-1zM80.9 313.5h1v1h-1zM103.9 296.8h1v1h-1zM80.6 308.7h1v1h-1zM112.6 299.9h1v1h-1zM91.7 306.2h1v1h-1zM159.4 282.1h1v1h-1zM99.6 293.1h1v1h-1zM162.8 284.4h1v1h-1zM75.5 311.9h1v1h-1zM107.5 295.3h1v1h-1zM103.5 294.3h1v1h-1zM100.8 300.6h1v1h-1zM85.0 319.9h1v1h-1zM153.6 287.6h1v1h-1zM127.8 289.2h1v1h-1zM107.0 296.2h1v1h-1zM106.3 296.4h1v1h-1zM120.7 298.3h1v1h-1zM82.9 308.2h1v1h-1zM90.6 329.7h1v1h-1zM100.8 296.6h1v1h-1zM91.7 326.6h1v1h-1zM97.6 298.0h1v1h-1zM88.0 302.5h1v1h-1zM141.7 288.6h1v1h-1zM112.5 292.7h1v1h-1zM147.7 288.3h1v1h-1zM93.7 331.9h1v1h-1zM111.4 293.9h1v1h-1zM114.2 295.4h1v1h-1zM87.0 322.4h1v1h-1zM123.9 291.5h1v1h-1zM94.4 290.8h1v1h-1zM139.5 292.6h1v1h-1zM135.0 291.7h1v1h-1zM111.8 293.3h1v1h-1zM138.9 284.6h1v1h-1zM78.2 311.7h1v1h-1zM146.9 290.8h1v1h-1zM84.8 324.4h1v1h-1zM86.1 327.1h1v1h-1zM151.3 286.2h1v1h-1zM88.4 326.0h1v1h-1zM110.1 294.4h1v1h-1zM158.0 284.5h1v1h-1zM82.2 303.0h1v1h-1zM112.3 294.6h1v1h-1zM140.1 294.6h1v1h-1zM132.8 294.4h1v1h-1zM136.2 287.6h1v1h-1zM81.8 321.5h1v1h-1zM87.7 305.8h1v1h-1zM140.5 288.1h1v1h-1zM100.1 299.9h1v1h-1zM83.6 315.0h1v1h-1zM160.7 280.3h1v1h-1zM151.7 285.3h1v1h-1zM90.9 325.6h1v1h-1zM82.2 303.7h1v1h-1zM81.4 315.4h1v1h-1zM84.8 293.0h1v1h-1zM84.6 303.8h1v1h-1zM132.0 288.8h1v1h-1zM93.3 330.4h1v1h-1zM86.1 324.9h1v1h-1zM120.7 291.2h1v1h-1zM86.9 304.0h1v1h-1z" fill="#3c1273"/>
<path d="M90.1 326.2h1v1h-1zM93.2 330.8h1v1h-1zM140.0 295.8h1v1h-1zM121.4 288.6h1v1h-1zM150.0 289.0h1v1h-1zM96.8 300.6h1v1h-1zM158.2 287.0h1v1h-1zM101.3 301.3h1v1h-1zM118.9 296.3h1v1h-1zM130.0 293.9h1v1h-1zM91.0 329.6h1v1h-1zM84.5 319.2h1v1h-1zM140.4 289.6h1v1h-1zM160.9 283.4h1v1h-1zM114.4 298.7h1v1h-1zM81.6 309.0h1v1h-1zM89.5 295.9h1v1h-1zM124.1 290.9h1v1h-1zM86.4 321.1h1v1h-1zM143.0 289.5h1v1h-1zM146.5 285.9h1v1h-1zM92.7 299.0h1v1h-1zM131.4 293.9h1v1h-1zM120.8 292.5h1v1h-1zM89.7 305.5h1v1h-1zM140.9 291.2h1v1h-1zM131.3 290.3h1v1h-1zM103.5 297.0h1v1h-1zM146.1 293.1h1v1h-1zM146.2 291.1h1v1h-1zM119.5 296.3h1v1h-1zM146.7 292.5h1v1h-1zM81.2 311.2h1v1h-1zM156.0 288.5h1v1h-1zM87.6 319.6h1v1h-1zM135.2 291.2h1v1h-1zM95.0 334.2h1v1h-1zM88.4 319.5h1v1h-1zM144.2 284.6h1v1h-1zM141.2 290.5h1v1h-1zM90.8 301.8h1v1h-1zM110.0 295.1h1v1h-1zM136.1 295.7h1v1h-1zM89.6 295.0h1v1h-1zM90.4 327.1h1v1h-1zM145.6 283.1h1v1h-1zM147.9 295.2h1v1h-1zM136.0 287.3h1v1h-1zM119.9 291.5h1v1h-1zM82.3 318.4h1v1h-1zM126.0 295.3h1v1h-1zM79.6 310.3h1v1h-1zM140.0 290.1h1v1h-1zM91.9 332.8h1v1h-1zM140.5 287.2h1v1h-1zM82.9 315.2h1v1h-1zM81.1 313.0h1v1h-1zM85.5 326.7h1v1h-1zM85.1 309.3h1v1h-1zM156.6 290.3h1v1h-1zM85.4 310.8h1v1h-1zM131.5 291.3h1v1h-1zM122.1 290.4h1v1h-1zM80.4 309.0h1v1h-1zM120.3 293.0h1v1h-1zM105.6 297.9h1v1h-1zM84.6 318.5h1v1h-1zM90.5 299.0h1v1h-1zM158.2 284.4h1v1h-1zM144.9 286.3h1v1h-1zM158.6 286.1h1v1h-1zM81.0 316.0h1v1h-1zM90.9 328.3h1v1h-1zM85.5 303.0h1v1h-1zM128.5 286.9h1v1h-1zM151.4 288.6h1v1h-1zM135.0 288.9h1v1h-1zM161.9 288.4h1v1h-1zM94.4 325.5h1v1h-1zM104.4 294.6h1v1h-1zM95.3 332.1h1v1h-1zM136.9 294.6h1v1h-1zM119.3 293.1h1v1h-1zM75.6 316.4h1v1h-1zM88.5 301.5h1v1h-1zM79.6 305.1h1v1h-1zM163.9 286.5h1v1h-1zM83.1 326.2h1v1h-1zM159.7 287.4h1v1h-1zM150.2 290.8h1v1h-1zM89.0 324.2h1v1h-1zM124.9 289.8h1v1h-1zM146.4 288.4h1v1h-1zM110.6 297.0h1v1h-1zM89.1 323.4h1v1h-1zM92.2 330.2h1v1h-1zM160.5 280.0h1v1h-1zM123.9 294.8h1v1h-1zM142.0 281.5h1v1h-1zM144.3 286.8h1v1h-1zM154.0 287.8h1v1h-1zM99.2 299.7h1v1h-1zM108.4 295.7h1v1h-1zM148.3 283.0h1v1h-1zM143.4 290.7h1v1h-1zM107.7 297.1h1v1h-1zM92.4 300.4h1v1h-1zM91.8 330.1h1v1h-1zM128.2 291.7h1v1h-1zM107.6 293.6h1v1h-1zM85.8 310.9h1v1h-1zM84.9 308.4h1v1h-1zM105.4 302.1h1v1h-1zM157.8 287.6h1v1h-1zM136.5 289.8h1v1h-1zM86.2 324.9h1v1h-1zM79.4 312.6h1v1h-1zM108.7 291.6h1v1h-1zM158.0 290.8h1v1h-1zM93.0 298.3h1v1h-1zM130.6 292.4h1v1h-1zM97.2 301.5h1v1h-1zM83.2 320.7h1v1h-1zM93.6 302.8h1v1h-1zM98.7 297.8h1v1h-1zM86.6 301.4h1v1h-1zM97.7 296.9h1v1h-1zM89.7 296.7h1v1h-1zM125.7 292.8h1v1h-1zM78.6 304.4h1v1h-1zM86.4 303.8h1v1h-1zM114.0 291.7h1v1h-1zM142.7 291.4h1v1h-1zM142.9 285.1h1v1h-1zM84.4 300.7h1v1h-1zM150.9 289.6h1v1h-1zM92.6 299.4h1v1h-1zM83.1 311.3h1v1h-1zM76.8 314.6h1v1h-1zM82.2 316.4h1v1h-1zM102.1 298.1h1v1h-1zM126.1 289.4h1v1h-1zM88.0 303.0h1v1h-1zM144.9 286.8h1v1h-1zM78.9 302.2h1v1h-1zM117.3 300.0h1v1h-1zM89.8 299.6h1v1h-1zM153.9 281.9h1v1h-1zM122.4 291.3h1v1h-1zM151.8 289.4h1v1h-1zM142.7 288.4h1v1h-1zM160.8 286.8h1v1h-1zM85.9 319.7h1v1h-1zM128.9 291.0h1v1h-1zM86.6 316.1h1v1h-1zM102.9 295.5h1v1h-1zM89.6 324.8h1v1h-1zM141.4 285.1h1v1h-1zM150.3 287.1h1v1h-1zM161.3 286.4h1v1h-1zM150.3 285.4h1v1h-1zM138.7 287.7h1v1h-1zM119.7 294.6h1v1h-1zM93.3 305.3h1v1h-1zM157.2 288.1h1v1h-1zM77.3 312.2h1v1h-1zM82.6 313.9h1v1h-1zM84.2 311.9h1v1h-1zM146.3 287.5h1v1h-1zM80.6 322.7h1v1h-1zM90.5 306.5h1v1h-1zM85.3 303.1h1v1h-1zM86.6 313.5h1v1h-1zM85.0 313.0h1v1h-1zM162.9 285.5h1v1h-1zM84.7 313.8h1v1h-1zM86.5 323.4h1v1h-1zM161.6 284.7h1v1h-1zM94.0 331.2h1v1h-1zM125.6 291.9h1v1h-1zM94.1 329.6h1v1h-1zM107.9 289.8h1v1h-1zM132.8 289.8h1v1h-1zM82.7 306.6h1v1h-1zM141.9 289.9h1v1h-1zM135.9 292.2h1v1h-1zM86.8 318.2h1v1h-1zM106.2 296.1h1v1h-1zM80.0 304.9h1v1h-1zM111.7 294.9h1v1h-1zM160.0 289.6h1v1h-1zM126.9 292.6h1v1h-1zM140.7 291.4h1v1h-1zM90.3 330.3h1v1h-1zM92.2 299.4h1v1h-1zM82.8 307.6h1v1h-1zM120.5 290.7h1v1h-1zM145.7 280.8h1v1h-1zM77.9 319.1h1v1h-1zM111.9 298.1h1v1h-1zM144.7 287.0h1v1h-1zM156.4 286.3h1v1h-1zM98.0 296.3h1v1h-1zM155.5 285.9h1v1h-1zM84.7 319.6h1v1h-1zM143.3 288.1h1v1h-1zM81.6 310.0h1v1h-1zM82.6 313.1h1v1h-1z" fill="#3a1070"/>
<path d="M93.1 301.9h1v1h-1zM116.4 293.7h1v1h-1zM139.9 290.2h1v1h-1zM154.7 292.9h1v1h-1zM139.3 291.2h1v1h-1zM130.5 287.0h1v1h-1zM154.9 283.4h1v1h-1zM123.4 289.2h1v1h-1zM87.1 326.5h1v1h-1zM78.2 314.6h1v1h-1zM105.0 295.5h1v1h-1zM80.9 309.8h1v1h-1zM93.4 329.3h1v1h-1zM117.6 296.1h1v1h-1zM122.5 293.1h1v1h-1zM104.5 295.0h1v1h-1zM133.8 288.9h1v1h-1zM85.1 306.5h1v1h-1zM151.3 288.9h1v1h-1zM158.3 283.6h1v1h-1zM82.3 326.0h1v1h-1zM155.3 288.3h1v1h-1zM83.7 320.2h1v1h-1zM125.5 296.1h1v1h-1zM122.9 297.2h1v1h-1zM137.2 288.7h1v1h-1zM86.1 324.8h1v1h-1zM87.1 321.8h1v1h-1zM143.8 285.7h1v1h-1zM81.5 310.3h1v1h-1zM83.8 303.2h1v1h-1zM161.3 280.9h1v1h-1zM99.8 300.7h1v1h-1zM139.6 290.3h1v1h-1zM154.9 287.6h1v1h-1zM158.5 287.4h1v1h-1zM133.6 288.5h1v1h-1zM123.1 292.0h1v1h-1zM138.9 290.4h1v1h-1zM85.6 316.9h1v1h-1zM125.6 290.1h1v1h-1zM87.0 326.4h1v1h-1zM84.5 315.8h1v1h-1zM162.6 282.7h1v1h-1zM80.2 310.5h1v1h-1zM106.8 295.5h1v1h-1zM84.6 315.4h1v1h-1zM126.7 293.8h1v1h-1zM114.5 296.1h1v1h-1zM87.0 329.5h1v1h-1zM86.6 320.8h1v1h-1zM84.7 302.0h1v1h-1zM103.7 298.9h1v1h-1zM83.7 306.0h1v1h-1zM158.3 283.0h1v1h-1zM87.3 324.9h1v1h-1zM92.6 303.6h1v1h-1zM124.5 291.3h1v1h-1zM112.1 298.6h1v1h-1zM159.1 286.7h1v1h-1zM140.7 288.5h1v1h-1zM108.7 293.1h1v1h-1zM92.6 297.6h1v1h-1zM82.3 305.8h1v1h-1zM109.1 295.2h1v1h-1zM158.3 285.1h1v1h-1zM116.9 296.5h1v1h-1zM85.7 326.1h1v1h-1zM125.4 291.1h1v1h-1zM84.3 326.1h1v1h-1zM144.1 290.4h1v1h-1zM140.4 295.7h1v1h-1zM112.5 295.2h1v1h-1zM91.1 332.0h1v1h-1zM78.6 308.1h1v1h-1zM113.6 296.7h1v1h-1zM91.5 329.4h1v1h-1zM86.0 312.7h1v1h-1zM95.1 293.4h1v1h-1zM117.8 289.7h1v1h-1zM88.7 302.9h1v1h-1zM111.0 295.7h1v1h-1zM118.8 296.6h1v1h-1zM151.5 286.1h1v1h-1zM121.6 295.0h1v1h-1zM158.9 284.9h1v1h-1zM115.0 298.2h1v1h-1zM86.5 320.2h1v1h-1zM106.8 295.5h1v1h-1zM156.5 284.6h1v1h-1zM134.6 292.5h1v1h-1zM127.9 294.7h1v1h-1zM119.6 289.3h1v1h-1zM135.1 291.8h1v1h-1zM88.8 304.5h1v1h-1zM89.7 311.9h1v1h-1zM153.7 290.0h1v1h-1zM145.0 285.7h1v1h-1zM94.8 330.4h1v1h-1zM147.0 285.2h1v1h-1zM116.7 294.1h1v1h-1zM161.3 287.2h1v1h-1zM84.6 317.1h1v1h-1zM97.3 296.1h1v1h-1zM88.1 300.7h1v1h-1zM135.1 286.7h1v1h-1zM91.1 302.9h1v1h-1zM91.4 325.5h1v1h-1zM89.7 324.2h1v1h-1zM91.6 298.6h1v1h-1zM114.7 295.9h1v1h-1zM88.9 298.2h1v1h-1zM97.4 301.2h1v1h-1zM80.7 307.5h1v1h-1zM87.8 311.4h1v1h-1zM98.7 300.7h1v1h-1zM85.1 317.1h1v1h-1zM132.1 290.3h1v1h-1zM129.3 294.1h1v1h-1zM152.1 284.9h1v1h-1zM81.0 311.1h1v1h-1zM109.9 297.4h1v1h-1zM147.2 291.8h1v1h-1zM92.0 328.4h1v1h-1zM137.7 292.0h1v1h-1zM118.5 297.1h1v1h-1zM94.7 301.1h1v1h-1zM96.0 301.9h1v1h-1zM137.7 291.7h1v1h-1zM81.1 316.6h1v1h-1zM82.7 322.2h1v1h-1zM140.5 289.0h1v1h-1zM83.1 311.5h1v1h-1zM92.9 328.3h1v1h-1zM84.3 328.8h1v1h-1zM82.0 317.7h1v1h-1zM152.0 288.7h1v1h-1zM86.5 320.0h1v1h-1zM88.8 297.9h1v1h-1zM89.9 328.7h1v1h-1zM156.7 284.3h1v1h-1zM134.8 292.9h1v1h-1zM152.5 286.8h1v1h-1zM88.0 300.8h1v1h-1zM148.4 289.1h1v1h-1zM109.3 304.7h1v1h-1zM155.5 285.2h1v1h-1zM79.8 317.6h1v1h-1zM133.2 289.4h1v1h-1zM110.2 297.6h1v1h-1zM114.8 294.4h1v1h-1zM86.7 317.4h1v1h-1zM128.3 289.8h1v1h-1zM161.8 282.5h1v1h-1zM89.2 319.6h1v1h-1zM157.1 283.0h1v1h-1zM153.7 288.1h1v1h-1zM97.3 331.6h1v1h-1zM160.6 284.1h1v1h-1zM92.2 302.3h1v1h-1zM89.8 300.6h1v1h-1zM161.5 288.3h1v1h-1zM103.0 295.2h1v1h-1zM113.1 300.4h1v1h-1zM82.0 308.0h1v1h-1zM92.3 333.9h1v1h-1zM85.6 301.7h1v1h-1zM87.1 300.1h1v1h-1zM119.2 296.8h1v1h-1zM80.7 305.4h1v1h-1zM152.3 287.7h1v1h-1zM112.9 291.6h1v1h-1zM89.3 328.1h1v1h-1zM100.5 298.2h1v1h-1zM82.2 315.0h1v1h-1zM109.3 292.8h1v1h-1zM143.9 290.1h1v1h-1zM140.7 284.6h1v1h-1zM141.2 286.8h1v1h-1zM84.9 298.0h1v1h-1zM141.0 286.8h1v1h-1zM85.6 309.1h1v1h-1zM85.5 324.3h1v1h-1zM111.9 292.7h1v1h-1zM135.9 287.9h1v1h-1zM159.0 285.6h1v1h-1zM129.5 289.9h1v1h-1zM125.4 294.0h1v1h-1zM107.9 290.3h1v1h-1zM108.4 292.7h1v1h-1zM94.9 332.3h1v1h-1zM83.3 316.4h1v1h-1zM153.7 285.4h1v1h-1zM134.8 292.9h1v1h-1zM107.9 292.9h1v1h-1zM158.6 287.3h1v1h-1zM137.7 300.7h1v1h-1zM137.8 291.4h1v1h-1zM131.2 288.3h1v1h-1zM114.4 298.1h1v1h-1zM118.5 291.5h1v1h-1zM80.9 313.9h1v1h-1zM93.3 326.5h1v1h-1zM110.6 287.7h1v1h-1zM113.3 297.3h1v1h-1zM80.3 320.9h1v1h-1zM83.1 318.4h1v1h-1zM94.9 296.0h1v1h-1zM138.8 289.0h1v1h-1zM160.2 289.5h1v1h-1zM126.7 293.0h1v1h-1zM94.8 297.9h1v1h-1zM158.2 286.3h1v1h-1zM79.1 311.3h1v1h-1zM126.8 302.7h1v1h-1zM99.5 289.0h1v1h-1zM155.7 285.7h1v1h-1zM155.8 286.2h1v1h-1zM98.8 327.1h1v1h-1zM85.9 315.5h1v1h-1zM96.8 299.7h1v1h-1zM82.4 305.4h1v1h-1zM129.2 291.2h1v1h-1zM147.3 284.9h1v1h-1zM151.9 290.4h1v1h-1zM98.1 299.8h1v1h-1zM81.8 309.3h1v1h-1zM89.7 325.7h1v1h-1zM140.7 288.0h1v1h-1zM89.7 319.6h1v1h-1zM144.6 283.1h1v1h-1zM110.6 295.3h1v1h-1zM83.9 318.5h1v1h-1zM136.0 293.0h1v1h-1zM155.8 283.7h1v1h-1zM148.7 284.2h1v1h-1zM157.0 284.6h1v1h-1zM96.4 312.8h1v1h-1z" fill="#4a1b86"/>
<path d="M151.8 291.3h1v1h-1zM126.6 292.1h1v1h-1zM104.8 296.3h1v1h-1zM92.9 296.9h1v1h-1zM87.3 325.6h1v1h-1zM88.3 310.6h1v1h-1zM86.2 318.9h1v1h-1zM140.9 288.9h1v1h-1zM94.5 330.7h1v1h-1zM83.3 318.4h1v1h-1zM121.9 294.5h1v1h-1zM90.6 311.7h1v1h-1zM138.2 289.8h1v1h-1zM91.1 301.3h1v1h-1zM149.7 285.8h1v1h-1zM122.0 288.9h1v1h-1zM134.8 287.0h1v1h-1zM113.3 291.8h1v1h-1zM141.8 297.3h1v1h-1zM93.4 333.8h1v1h-1zM150.4 282.7h1v1h-1zM99.8 295.6h1v1h-1zM101.4 297.1h1v1h-1zM143.7 290.8h1v1h-1zM83.4 314.1h1v1h-1zM98.7 292.5h1v1h-1zM82.9 299.3h1v1h-1zM83.3 318.2h1v1h-1zM84.4 302.4h1v1h-1zM102.4 297.9h1v1h-1zM99.6 304.2h1v1h-1zM83.8 318.8h1v1h-1zM130.9 293.1h1v1h-1zM126.1 292.4h1v1h-1zM90.3 326.5h1v1h-1zM86.1 313.6h1v1h-1zM133.8 287.1h1v1h-1zM82.6 310.7h1v1h-1zM113.4 294.8h1v1h-1zM160.7 286.1h1v1h-1zM95.2 296.9h1v1h-1zM99.8 325.1h1v1h-1zM97.4 299.0h1v1h-1zM87.3 323.9h1v1h-1zM104.8 296.7h1v1h-1zM142.0 286.6h1v1h-1zM142.9 291.4h1v1h-1zM143.5 294.7h1v1h-1zM108.0 307.0h1v1h-1zM160.6 288.3h1v1h-1zM78.0 312.7h1v1h-1zM83.0 314.0h1v1h-1zM140.9 289.5h1v1h-1zM109.8 293.3h1v1h-1zM93.4 329.1h1v1h-1zM90.2 301.8h1v1h-1zM92.6 297.8h1v1h-1zM148.3 291.4h1v1h-1zM131.8 292.1h1v1h-1zM159.7 287.0h1v1h-1zM83.2 320.9h1v1h-1zM127.6 291.5h1v1h-1zM85.2 309.7h1v1h-1zM153.1 287.4h1v1h-1zM107.2 293.9h1v1h-1zM141.3 287.4h1v1h-1zM101.3 300.1h1v1h-1zM140.7 288.9h1v1h-1zM122.5 292.0h1v1h-1zM94.9 334.1h1v1h-1zM83.9 313.1h1v1h-1zM91.7 329.9h1v1h-1zM127.1 289.7h1v1h-1zM133.6 286.3h1v1h-1zM136.4 287.6h1v1h-1zM139.1 297.5h1v1h-1zM133.9 291.5h1v1h-1zM132.1 285.1h1v1h-1zM115.9 294.3h1v1h-1zM147.0 286.0h1v1h-1zM151.0 288.1h1v1h-1zM101.2 292.6h1v1h-1zM91.5 330.2h1v1h-1zM88.9 323.8h1v1h-1zM92.6 329.1h1v1h-1zM110.0 297.3h1v1h-1zM90.9 325.3h1v1h-1zM102.4 298.2h1v1h-1zM96.9 300.6h1v1h-1zM115.4 292.2h1v1h-1zM79.9 309.6h1v1h-1zM104.7 294.2h1v1h-1zM154.7 290.8h1v1h-1zM106.8 292.6h1v1h-1zM79.3 309.1h1v1h-1zM93.5 301.3h1v1h-1zM127.8 290.9h1v1h-1zM93.9 301.9h1v1h-1zM84.0 309.7h1v1h-1zM86.5 314.1h1v1h-1zM91.8 329.2h1v1h-1zM119.9 290.7h1v1h-1zM96.6 328.4h1v1h-1zM161.1 284.7h1v1h-1zM89.2 296.2h1v1h-1zM147.0 289.7h1v1h-1zM82.7 318.9h1v1h-1zM95.6 297.8h1v1h-1zM82.4 311.4h1v1h-1zM85.2 302.1h1v1h-1zM116.0 297.7h1v1h-1zM96.0 331.5h1v1h-1zM158.7 285.0h1v1h-1zM86.0 297.5h1v1h-1zM155.7 288.8h1v1h-1zM90.2 324.0h1v1h-1zM121.4 290.0h1v1h-1zM152.2 285.3h1v1h-1zM90.4 302.5h1v1h-1zM82.4 307.7h1v1h-1zM84.3 328.7h1v1h-1zM102.2 288.5h1v1h-1zM95.8 290.8h1v1h-1zM92.5 329.3h1v1h-1zM81.7 321.5h1v1h-1zM138.8 285.7h1v1h-1zM148.1 288.4h1v1h-1zM85.2 304.3h1v1h-1zM84.3 308.0h1v1h-1zM86.2 305.0h1v1h-1zM144.4 291.6h1v1h-1zM148.3 286.3h1v1h-1zM156.6 287.8h1v1h-1zM85.2 301.1h1v1h-1zM120.0 299.2h1v1h-1zM90.8 304.0h1v1h-1zM97.0 295.0h1v1h-1zM109.4 290.7h1v1h-1zM97.3 297.5h1v1h-1zM84.6 307.1h1v1h-1zM97.9 330.8h1v1h-1zM160.8 286.6h1v1h-1zM157.6 288.7h1v1h-1zM162.1 284.4h1v1h-1zM159.5 286.4h1v1h-1zM80.1 311.1h1v1h-1zM83.5 300.8h1v1h-1zM125.2 296.2h1v1h-1zM152.4 287.2h1v1h-1zM96.3 331.7h1v1h-1zM90.0 327.7h1v1h-1zM112.2 295.8h1v1h-1zM147.9 288.8h1v1h-1zM93.7 294.1h1v1h-1zM101.9 297.0h1v1h-1zM119.0 293.5h1v1h-1zM134.1 292.3h1v1h-1zM112.5 296.5h1v1h-1zM121.1 297.6h1v1h-1zM101.3 301.3h1v1h-1zM115.5 288.4h1v1h-1zM113.9 297.0h1v1h-1zM83.3 318.8h1v1h-1zM156.2 287.1h1v1h-1zM100.6 295.8h1v1h-1zM160.4 286.0h1v1h-1zM84.0 305.9h1v1h-1zM79.7 327.3h1v1h-1zM83.0 316.7h1v1h-1zM83.8 317.9h1v1h-1zM95.4 333.7h1v1h-1zM118.8 289.6h1v1h-1zM155.1 288.9h1v1h-1zM86.7 322.8h1v1h-1zM144.9 290.0h1v1h-1zM79.2 319.7h1v1h-1zM122.3 291.5h1v1h-1zM84.8 309.7h1v1h-1zM112.2 294.8h1v1h-1zM108.9 292.1h1v1h-1zM140.8 289.7h1v1h-1zM86.9 317.2h1v1h-1zM79.4 305.6h1v1h-1zM88.2 307.4h1v1h-1zM106.0 298.8h1v1h-1zM132.4 293.5h1v1h-1zM82.5 310.1h1v1h-1zM81.5 312.2h1v1h-1zM118.6 295.1h1v1h-1zM159.0 290.4h1v1h-1zM143.4 287.8h1v1h-1zM104.3 298.1h1v1h-1zM142.7 292.8h1v1h-1zM159.5 286.2h1v1h-1zM123.9 290.2h1v1h-1zM95.5 332.2h1v1h-1zM115.2 291.1h1v1h-1zM83.5 305.9h1v1h-1zM150.1 291.9h1v1h-1zM139.8 284.6h1v1h-1zM161.9 278.9h1v1h-1zM93.1 332.1h1v1h-1zM144.5 290.4h1v1h-1zM92.4 298.0h1v1h-1zM156.4 286.0h1v1h-1zM152.1 288.4h1v1h-1zM134.7 289.5h1v1h-1zM156.8 286.4h1v1h-1z" fill="#2a0852"/>
<path d="M208.7 293.8h1v1h-1zM153.9 301.2h1v1h-1zM194.1 304.7h1v1h-1zM157.7 316.0h1v1h-1zM173.0 301.1h1v1h-1zM162.7 305.4h1v1h-1zM142.6 312.7h1v1h-1zM174.4 316.5h1v1h-1zM200.8 291.4h1v1h-1zM203.3 292.9h1v1h-1zM205.2 301.6h1v1h-1zM150.2 307.7h1v1h-1zM149.4 303.8h1v1h-1zM170.6 298.0h1v1h-1zM178.6 299.7h1v1h-1zM206.2 313.3h1v1h-1zM211.4 312.1h1v1h-1zM185.0 311.8h1v1h-1zM143.6 316.9h1v1h-1zM186.9 304.3h1v1h-1zM141.8 293.6h1v1h-1zM173.0 299.8h1v1h-1zM136.9 294.0h1v1h-1zM158.3 310.2h1v1h-1zM146.0 293.9h1v1h-1zM203.8 306.2h1v1h-1zM195.6 311.0h1v1h-1zM168.5 302.1h1v1h-1zM135.9 303.8h1v1h-1zM182.9 304.8h1v1h-1zM177.2 309.9h1v1h-1zM163.5 292.1h1v1h-1zM176.6 302.3h1v1h-1zM171.0 302.1h1v1h-1zM191.1 296.3h1v1h-1zM165.8 298.2h1v1h-1zM173.8 313.0h1v1h-1zM169.3 300.0h1v1h-1zM155.7 312.2h1v1h-1zM158.8 292.2h1v1h-1zM182.3 304.9h1v1h-1zM168.0 305.0h1v1h-1zM203.2 310.9h1v1h-1zM186.0 296.9h1v1h-1zM147.2 293.9h1v1h-1zM193.9 295.7h1v1h-1zM182.0 302.1h1v1h-1zM205.6 308.5h1v1h-1zM140.8 315.0h1v1h-1zM160.2 293.9h1v1h-1zM184.9 315.3h1v1h-1zM197.8 312.5h1v1h-1zM179.8 292.9h1v1h-1zM156.6 294.0h1v1h-1zM194.9 295.3h1v1h-1zM160.2 296.2h1v1h-1zM136.2 308.9h1v1h-1zM201.6 310.3h1v1h-1zM167.2 294.8h1v1h-1zM171.7 312.4h1v1h-1zM155.4 295.6h1v1h-1zM184.2 305.9h1v1h-1zM139.3 300.4h1v1h-1zM196.8 295.3h1v1h-1zM171.3 301.7h1v1h-1zM191.1 312.5h1v1h-1zM153.6 311.5h1v1h-1zM178.3 300.1h1v1h-1zM185.8 292.9h1v1h-1zM150.4 313.1h1v1h-1zM165.5 309.2h1v1h-1zM207.4 300.4h1v1h-1zM141.1 307.9h1v1h-1zM167.0 312.8h1v1h-1zM194.9 305.9h1v1h-1zM175.9 310.4h1v1h-1zM152.5 314.8h1v1h-1zM173.7 306.6h1v1h-1zM185.8 300.2h1v1h-1zM180.0 293.8h1v1h-1zM185.3 292.5h1v1h-1zM168.3 293.6h1v1h-1zM165.4 304.6h1v1h-1zM209.5 305.2h1v1h-1zM134.8 309.7h1v1h-1zM136.5 306.1h1v1h-1zM150.2 295.2h1v1h-1zM136.4 312.3h1v1h-1zM139.7 310.8h1v1h-1zM136.1 316.9h1v1h-1zM158.7 311.5h1v1h-1zM137.4 315.7h1v1h-1zM174.7 297.5h1v1h-1zM167.6 307.4h1v1h-1zM204.6 305.8h1v1h-1zM186.7 300.6h1v1h-1zM144.9 312.7h1v1h-1zM145.9 294.2h1v1h-1zM193.9 310.8h1v1h-1zM147.0 290.8h1v1h-1zM190.7 295.6h1v1h-1zM174.3 311.3h1v1h-1zM200.2 309.7h1v1h-1zM155.6 298.1h1v1h-1zM183.7 298.7h1v1h-1zM133.4 297.3h1v1h-1zM195.4 301.0h1v1h-1zM181.2 311.9h1v1h-1zM141.0 299.4h1v1h-1zM180.6 309.0h1v1h-1zM168.2 313.3h1v1h-1zM198.5 291.2h1v1h-1zM208.3 311.1h1v1h-1zM186.2 310.7h1v1h-1zM160.9 316.8h1v1h-1zM208.4 312.5h1v1h-1zM168.6 313.5h1v1h-1zM206.5 312.8h1v1h-1zM194.2 295.6h1v1h-1zM175.4 308.1h1v1h-1zM210.4 302.1h1v1h-1zM148.8 313.0h1v1h-1zM192.3 316.0h1v1h-1zM171.5 311.5h1v1h-1zM154.3 296.6h1v1h-1zM167.5 299.0h1v1h-1zM184.6 301.5h1v1h-1zM178.7 300.6h1v1h-1zM190.7 314.0h1v1h-1zM192.9 300.6h1v1h-1zM175.5 292.9h1v1h-1zM191.3 294.0h1v1h-1zM151.4 300.4h1v1h-1zM189.2 303.5h1v1h-1zM201.8 306.3h1v1h-1zM170.7 298.1h1v1h-1zM192.9 308.3h1v1h-1zM164.4 299.2h1v1h-1zM143.4 306.9h1v1h-1zM208.7 307.9h1v1h-1zM156.9 304.8h1v1h-1zM139.8 300.5h1v1h-1zM151.6 305.5h1v1h-1zM182.7 316.2h1v1h-1zM134.0 306.3h1v1h-1zM149.6 305.9h1v1h-1zM158.7 294.6h1v1h-1zM183.9 295.4h1v1h-1zM208.2 305.0h1v1h-1zM137.5 316.0h1v1h-1zM178.4 311.7h1v1h-1zM149.9 292.8h1v1h-1zM137.6 305.3h1v1h-1zM147.1 306.1h1v1h-1zM157.5 297.8h1v1h-1zM199.1 297.9h1v1h-1zM138.7 310.3h1v1h-1zM147.6 307.5h1v1h-1zM134.5 301.7h1v1h-1zM152.6 301.1h1v1h-1zM176.9 298.8h1v1h-1zM204.6 300.3h1v1h-1zM152.4 298.7h1v1h-1zM191.3 314.5h1v1h-1zM200.5 299.7h1v1h-1zM167.7 297.8h1v1h-1zM141.7 314.3h1v1h-1zM178.4 300.9h1v1h-1zM154.2 311.3h1v1h-1zM141.1 316.0h1v1h-1zM191.8 306.6h1v1h-1zM198.0 296.4h1v1h-1zM208.9 310.8h1v1h-1zM139.2 291.0h1v1h-1zM151.8 296.2h1v1h-1zM156.3 297.7h1v1h-1zM198.0 306.2h1v1h-1zM186.6 309.8h1v1h-1zM174.0 301.4h1v1h-1zM150.7 292.2h1v1h-1zM204.8 311.3h1v1h-1zM193.2 311.6h1v1h-1zM153.9 309.8h1v1h-1zM176.9 299.0h1v1h-1zM173.1 303.0h1v1h-1z" fill="#3a1070"/>
<path d="M142.5 300.1h1v1h-1zM173.7 305.5h1v1h-1zM160.8 298.3h1v1h-1zM200.1 300.0h1v1h-1zM185.6 308.7h1v1h-1zM133.0 295.6h1v1h-1zM133.3 296.1h1v1h-1zM200.3 300.0h1v1h-1zM142.1 311.1h1v1h-1zM192.1 307.7h1v1h-1zM176.5 307.4h1v1h-1zM164.3 307.8h1v1h-1zM180.2 297.0h1v1h-1zM135.2 296.7h1v1h-1zM147.4 293.8h1v1h-1zM170.8 300.0h1v1h-1zM143.5 298.5h1v1h-1zM158.4 297.4h1v1h-1zM136.6 296.3h1v1h-1zM157.2 300.6h1v1h-1zM193.6 296.9h1v1h-1zM152.2 304.0h1v1h-1zM192.4 309.9h1v1h-1zM171.2 311.1h1v1h-1zM161.2 307.4h1v1h-1zM136.0 299.5h1v1h-1zM156.1 294.9h1v1h-1zM190.8 296.6h1v1h-1zM210.1 309.7h1v1h-1zM167.3 309.3h1v1h-1zM172.8 292.4h1v1h-1zM143.5 302.7h1v1h-1zM143.3 295.0h1v1h-1zM153.8 306.0h1v1h-1zM149.2 301.5h1v1h-1zM145.3 315.8h1v1h-1zM192.3 303.9h1v1h-1zM196.7 299.8h1v1h-1zM174.4 304.0h1v1h-1zM184.8 299.9h1v1h-1zM151.6 308.2h1v1h-1zM146.5 306.3h1v1h-1zM161.7 314.2h1v1h-1zM183.3 300.4h1v1h-1zM179.7 305.9h1v1h-1zM183.0 294.7h1v1h-1zM182.4 290.5h1v1h-1zM135.2 293.8h1v1h-1zM181.6 312.0h1v1h-1zM193.2 291.0h1v1h-1zM188.2 307.8h1v1h-1zM135.5 316.1h1v1h-1zM177.4 295.0h1v1h-1zM145.0 311.4h1v1h-1zM134.4 307.3h1v1h-1zM149.9 291.5h1v1h-1zM145.8 296.1h1v1h-1zM182.2 306.0h1v1h-1zM202.3 292.0h1v1h-1zM190.2 297.7h1v1h-1zM157.2 296.8h1v1h-1zM198.8 296.3h1v1h-1zM205.0 294.0h1v1h-1zM136.9 312.3h1v1h-1zM210.7 307.4h1v1h-1zM198.1 308.0h1v1h-1zM148.0 301.5h1v1h-1zM167.9 306.0h1v1h-1zM198.6 302.7h1v1h-1zM153.2 313.5h1v1h-1zM159.3 312.2h1v1h-1zM190.4 305.9h1v1h-1zM146.3 317.6h1v1h-1zM146.4 291.9h1v1h-1zM181.8 310.1h1v1h-1zM203.2 315.0h1v1h-1zM149.5 308.5h1v1h-1zM183.2 301.3h1v1h-1zM195.4 305.3h1v1h-1zM173.2 311.6h1v1h-1zM197.4 296.8h1v1h-1zM184.6 294.7h1v1h-1zM158.0 314.8h1v1h-1zM176.0 300.6h1v1h-1zM135.5 309.2h1v1h-1zM182.2 310.8h1v1h-1zM194.4 296.3h1v1h-1zM191.1 304.2h1v1h-1zM135.9 312.9h1v1h-1zM163.4 292.2h1v1h-1zM138.0 297.8h1v1h-1zM165.1 305.3h1v1h-1zM163.6 310.5h1v1h-1zM164.3 296.3h1v1h-1zM168.6 290.8h1v1h-1zM136.3 299.7h1v1h-1zM157.9 310.3h1v1h-1zM136.6 299.6h1v1h-1zM206.2 306.0h1v1h-1zM198.4 302.5h1v1h-1zM206.1 298.8h1v1h-1zM203.9 293.9h1v1h-1zM160.9 292.4h1v1h-1zM194.4 305.5h1v1h-1zM208.5 311.3h1v1h-1zM147.7 292.6h1v1h-1zM194.1 314.5h1v1h-1zM208.8 294.8h1v1h-1zM140.2 313.9h1v1h-1zM165.2 295.7h1v1h-1zM136.7 312.6h1v1h-1zM176.0 311.9h1v1h-1zM174.9 301.5h1v1h-1zM146.7 306.0h1v1h-1zM145.3 301.7h1v1h-1zM205.4 294.1h1v1h-1zM170.2 309.0h1v1h-1zM202.8 306.8h1v1h-1zM145.3 312.3h1v1h-1zM205.3 298.9h1v1h-1zM154.6 300.0h1v1h-1zM159.2 315.3h1v1h-1zM153.2 300.9h1v1h-1zM154.1 297.5h1v1h-1zM182.4 296.7h1v1h-1zM176.7 293.6h1v1h-1zM204.2 307.7h1v1h-1zM211.9 310.6h1v1h-1zM157.8 310.0h1v1h-1zM152.9 316.2h1v1h-1zM207.1 313.1h1v1h-1zM176.4 293.1h1v1h-1zM202.7 315.3h1v1h-1zM193.0 295.9h1v1h-1zM185.1 303.6h1v1h-1zM155.7 305.5h1v1h-1zM203.3 303.7h1v1h-1zM187.8 314.9h1v1h-1zM160.1 313.5h1v1h-1zM196.6 294.5h1v1h-1zM193.8 314.8h1v1h-1zM192.3 313.7h1v1h-1zM143.5 292.5h1v1h-1zM159.6 307.8h1v1h-1zM196.6 297.5h1v1h-1zM145.3 313.4h1v1h-1zM150.0 296.8h1v1h-1zM161.1 311.3h1v1h-1zM136.9 299.6h1v1h-1zM199.3 290.2h1v1h-1zM183.8 296.9h1v1h-1zM186.2 291.2h1v1h-1zM173.1 313.0h1v1h-1zM194.0 292.3h1v1h-1zM161.9 295.1h1v1h-1zM170.4 305.5h1v1h-1zM170.7 296.7h1v1h-1zM211.0 302.2h1v1h-1zM153.3 292.2h1v1h-1zM134.1 308.6h1v1h-1zM188.0 294.1h1v1h-1zM179.5 311.8h1v1h-1zM149.9 307.4h1v1h-1zM205.1 294.0h1v1h-1zM136.3 297.6h1v1h-1zM168.5 310.2h1v1h-1zM162.6 305.5h1v1h-1zM185.0 309.7h1v1h-1zM167.2 291.8h1v1h-1zM177.7 296.4h1v1h-1zM193.7 290.6h1v1h-1zM179.3 315.4h1v1h-1zM139.1 298.6h1v1h-1z" fill="#2e0a5e"/>
<path d="M151.3 299.2h1v1h-1zM188.9 293.9h1v1h-1zM194.7 296.8h1v1h-1zM151.9 312.7h1v1h-1zM160.9 312.3h1v1h-1zM153.5 300.2h1v1h-1zM147.3 294.6h1v1h-1zM170.1 308.4h1v1h-1zM177.7 307.7h1v1h-1zM209.7 307.9h1v1h-1zM174.5 311.1h1v1h-1zM145.1 314.0h1v1h-1zM197.2 301.5h1v1h-1zM208.8 293.8h1v1h-1zM142.0 312.4h1v1h-1zM196.0 294.3h1v1h-1zM133.7 308.0h1v1h-1zM200.8 294.9h1v1h-1zM196.4 295.2h1v1h-1zM185.0 305.0h1v1h-1zM204.0 303.4h1v1h-1zM137.4 297.3h1v1h-1zM162.6 303.4h1v1h-1zM141.9 308.5h1v1h-1zM190.5 308.5h1v1h-1zM161.5 314.5h1v1h-1zM186.3 311.2h1v1h-1zM195.0 294.4h1v1h-1zM178.5 309.8h1v1h-1zM166.1 312.3h1v1h-1zM163.2 311.0h1v1h-1zM204.4 295.6h1v1h-1zM135.6 311.9h1v1h-1zM159.0 294.4h1v1h-1zM197.8 312.6h1v1h-1zM201.2 293.4h1v1h-1zM181.7 306.9h1v1h-1zM179.4 307.2h1v1h-1zM133.1 303.9h1v1h-1zM199.2 308.9h1v1h-1zM184.3 309.3h1v1h-1zM144.1 291.4h1v1h-1zM141.2 293.8h1v1h-1zM143.6 311.2h1v1h-1zM191.7 303.3h1v1h-1zM135.0 292.8h1v1h-1zM168.1 297.4h1v1h-1zM202.7 293.3h1v1h-1zM170.8 308.3h1v1h-1zM137.9 308.9h1v1h-1zM133.3 305.1h1v1h-1zM165.4 292.8h1v1h-1zM196.4 306.0h1v1h-1zM201.5 296.5h1v1h-1zM184.4 303.2h1v1h-1zM162.4 308.0h1v1h-1zM178.1 302.8h1v1h-1zM176.7 304.4h1v1h-1zM178.3 298.9h1v1h-1zM160.5 299.6h1v1h-1zM181.8 313.3h1v1h-1zM182.0 297.0h1v1h-1zM189.4 296.8h1v1h-1zM184.6 297.4h1v1h-1zM139.9 312.1h1v1h-1zM140.1 300.3h1v1h-1zM152.0 294.7h1v1h-1zM170.5 311.8h1v1h-1zM180.5 304.4h1v1h-1zM135.3 296.2h1v1h-1zM203.1 294.9h1v1h-1zM180.8 296.3h1v1h-1zM165.9 298.5h1v1h-1zM161.3 314.8h1v1h-1zM182.4 304.4h1v1h-1zM158.1 295.9h1v1h-1zM175.3 304.1h1v1h-1zM137.5 313.8h1v1h-1zM137.7 303.5h1v1h-1zM199.7 302.8h1v1h-1zM148.4 303.4h1v1h-1zM155.8 314.5h1v1h-1zM185.8 298.1h1v1h-1zM136.7 309.7h1v1h-1zM201.2 314.8h1v1h-1zM151.7 300.9h1v1h-1zM204.8 296.1h1v1h-1zM204.5 302.5h1v1h-1zM199.3 309.8h1v1h-1zM204.7 296.6h1v1h-1zM137.6 314.4h1v1h-1zM177.0 311.6h1v1h-1zM151.0 307.0h1v1h-1zM159.2 311.9h1v1h-1zM185.5 293.6h1v1h-1zM181.7 316.0h1v1h-1zM185.8 302.0h1v1h-1zM184.1 305.4h1v1h-1zM193.3 313.6h1v1h-1zM155.4 303.8h1v1h-1zM195.2 309.2h1v1h-1zM165.1 312.3h1v1h-1zM137.1 292.0h1v1h-1zM158.4 309.4h1v1h-1zM194.0 314.9h1v1h-1zM167.0 291.3h1v1h-1zM193.7 295.5h1v1h-1zM166.2 295.5h1v1h-1zM202.1 306.1h1v1h-1zM162.6 295.1h1v1h-1zM185.9 296.1h1v1h-1zM169.0 305.4h1v1h-1zM148.9 303.4h1v1h-1zM172.4 297.6h1v1h-1zM188.9 295.8h1v1h-1zM189.2 314.6h1v1h-1zM183.8 310.5h1v1h-1zM169.3 299.1h1v1h-1zM134.7 308.9h1v1h-1zM143.3 317.6h1v1h-1zM206.5 312.4h1v1h-1zM144.7 305.7h1v1h-1zM201.6 299.9h1v1h-1zM187.0 299.8h1v1h-1zM196.8 310.9h1v1h-1zM170.7 316.7h1v1h-1zM205.7 311.9h1v1h-1zM165.3 298.8h1v1h-1zM195.4 309.7h1v1h-1zM204.0 301.2h1v1h-1zM157.3 292.9h1v1h-1zM147.8 293.6h1v1h-1zM188.5 313.8h1v1h-1zM210.6 291.8h1v1h-1zM134.3 301.2h1v1h-1zM198.5 313.4h1v1h-1zM185.1 291.3h1v1h-1zM136.1 307.9h1v1h-1zM204.0 314.9h1v1h-1zM142.4 297.6h1v1h-1zM206.8 314.4h1v1h-1zM138.7 297.7h1v1h-1zM169.5 290.3h1v1h-1zM203.0 309.8h1v1h-1zM187.7 308.9h1v1h-1zM193.4 293.2h1v1h-1zM146.8 307.7h1v1h-1zM147.5 296.8h1v1h-1zM143.3 306.8h1v1h-1zM168.0 310.8h1v1h-1zM182.0 293.4h1v1h-1zM163.4 290.9h1v1h-1zM198.2 314.0h1v1h-1zM156.3 295.3h1v1h-1zM193.5 300.7h1v1h-1zM209.1 299.2h1v1h-1zM171.3 296.0h1v1h-1zM194.6 298.2h1v1h-1zM142.8 296.4h1v1h-1zM164.2 296.3h1v1h-1zM153.8 303.9h1v1h-1zM148.7 298.9h1v1h-1zM202.9 307.9h1v1h-1zM141.4 314.3h1v1h-1zM148.0 317.0h1v1h-1zM183.7 304.8h1v1h-1zM208.5 305.7h1v1h-1zM164.5 299.1h1v1h-1zM151.1 299.6h1v1h-1zM149.6 307.1h1v1h-1zM188.7 299.8h1v1h-1zM138.4 299.0h1v1h-1zM169.4 313.2h1v1h-1zM164.8 316.6h1v1h-1zM134.0 297.8h1v1h-1zM176.5 299.1h1v1h-1zM197.7 309.6h1v1h-1zM189.0 297.0h1v1h-1zM178.7 313.0h1v1h-1zM148.7 297.4h1v1h-1zM182.1 304.5h1v1h-1z" fill="#2a0852"/>
<path d="M147.2 310.4h1v1h-1zM158.8 298.4h1v1h-1zM206.0 305.2h1v1h-1zM179.0 312.2h1v1h-1zM140.0 300.4h1v1h-1zM184.8 297.9h1v1h-1zM160.7 296.1h1v1h-1zM148.0 292.4h1v1h-1zM172.9 314.4h1v1h-1zM159.6 300.4h1v1h-1zM156.0 299.1h1v1h-1zM160.7 315.2h1v1h-1zM189.8 310.7h1v1h-1zM141.8 314.3h1v1h-1zM137.4 313.0h1v1h-1zM209.8 310.4h1v1h-1zM181.1 305.0h1v1h-1zM180.1 300.6h1v1h-1zM190.1 299.8h1v1h-1zM212.0 305.3h1v1h-1zM162.8 296.3h1v1h-1zM175.0 313.9h1v1h-1zM140.0 299.6h1v1h-1zM159.9 297.5h1v1h-1zM183.1 291.2h1v1h-1zM162.4 295.1h1v1h-1zM209.5 302.3h1v1h-1zM204.1 310.3h1v1h-1zM164.2 295.9h1v1h-1zM142.1 299.4h1v1h-1zM157.7 316.7h1v1h-1zM170.7 296.5h1v1h-1zM191.5 290.7h1v1h-1zM134.3 314.8h1v1h-1zM199.1 293.4h1v1h-1zM196.1 297.0h1v1h-1zM202.4 307.1h1v1h-1zM146.2 290.8h1v1h-1zM142.6 301.5h1v1h-1zM158.9 313.3h1v1h-1zM189.4 292.2h1v1h-1zM209.8 293.9h1v1h-1zM160.3 295.7h1v1h-1zM170.3 296.4h1v1h-1zM180.0 299.2h1v1h-1zM184.5 299.9h1v1h-1zM158.9 305.7h1v1h-1zM191.0 294.4h1v1h-1zM187.9 294.6h1v1h-1zM137.9 313.6h1v1h-1zM156.5 298.3h1v1h-1zM147.8 307.1h1v1h-1zM160.0 305.3h1v1h-1zM192.8 304.5h1v1h-1zM194.2 296.2h1v1h-1zM133.6 309.4h1v1h-1zM174.1 293.0h1v1h-1zM205.3 305.3h1v1h-1zM157.3 310.4h1v1h-1zM160.5 301.0h1v1h-1zM135.8 310.5h1v1h-1zM150.1 297.8h1v1h-1zM183.2 302.5h1v1h-1zM171.1 305.9h1v1h-1zM147.1 295.3h1v1h-1zM143.8 305.1h1v1h-1zM187.0 291.5h1v1h-1zM206.6 307.9h1v1h-1zM151.6 311.7h1v1h-1zM149.1 304.1h1v1h-1zM161.4 309.2h1v1h-1zM143.8 298.8h1v1h-1zM185.3 305.7h1v1h-1zM179.3 306.2h1v1h-1zM135.9 310.8h1v1h-1zM180.4 301.7h1v1h-1zM211.6 313.4h1v1h-1zM155.0 311.9h1v1h-1zM154.5 309.4h1v1h-1zM158.1 311.0h1v1h-1zM137.4 315.2h1v1h-1zM183.4 309.4h1v1h-1zM184.0 313.1h1v1h-1zM157.4 314.4h1v1h-1zM150.0 308.8h1v1h-1zM161.0 313.6h1v1h-1zM164.1 294.9h1v1h-1zM140.9 316.6h1v1h-1zM136.2 298.7h1v1h-1zM175.6 294.3h1v1h-1zM145.9 294.2h1v1h-1zM181.4 306.3h1v1h-1zM201.7 295.0h1v1h-1zM141.3 312.4h1v1h-1zM199.8 308.1h1v1h-1zM193.5 306.2h1v1h-1zM162.1 312.1h1v1h-1zM189.9 309.0h1v1h-1zM200.6 308.5h1v1h-1zM186.9 312.6h1v1h-1zM185.3 305.7h1v1h-1zM134.6 304.4h1v1h-1zM138.6 308.9h1v1h-1zM170.9 298.8h1v1h-1zM188.4 314.5h1v1h-1zM183.0 302.7h1v1h-1zM152.5 311.6h1v1h-1zM187.0 305.1h1v1h-1zM146.5 308.8h1v1h-1zM187.2 304.4h1v1h-1zM146.4 303.3h1v1h-1zM160.5 296.7h1v1h-1zM199.8 306.3h1v1h-1zM181.9 292.2h1v1h-1zM198.4 306.7h1v1h-1zM195.6 295.1h1v1h-1zM185.2 292.4h1v1h-1zM153.5 312.2h1v1h-1zM166.9 311.1h1v1h-1zM141.3 305.3h1v1h-1zM206.5 302.3h1v1h-1zM155.4 310.2h1v1h-1zM164.8 314.3h1v1h-1zM166.0 306.3h1v1h-1zM206.2 296.1h1v1h-1zM209.0 299.5h1v1h-1zM151.7 299.3h1v1h-1zM175.7 305.7h1v1h-1zM195.4 299.0h1v1h-1zM190.4 299.5h1v1h-1zM210.7 302.6h1v1h-1zM179.9 296.1h1v1h-1zM179.2 312.7h1v1h-1zM156.0 298.0h1v1h-1zM149.6 298.6h1v1h-1zM141.7 295.8h1v1h-1zM210.9 308.8h1v1h-1zM211.1 295.2h1v1h-1zM198.9 297.1h1v1h-1zM154.8 303.8h1v1h-1zM207.1 314.0h1v1h-1zM136.0 305.4h1v1h-1zM177.4 294.0h1v1h-1zM151.3 308.3h1v1h-1zM198.2 312.5h1v1h-1zM207.4 314.2h1v1h-1zM140.7 300.2h1v1h-1zM203.5 306.1h1v1h-1zM203.5 294.1h1v1h-1zM139.3 307.5h1v1h-1zM153.6 299.9h1v1h-1zM179.7 311.3h1v1h-1zM178.8 315.6h1v1h-1zM162.3 293.5h1v1h-1zM206.8 298.6h1v1h-1zM208.9 293.7h1v1h-1zM193.3 315.2h1v1h-1zM156.6 299.8h1v1h-1zM175.9 315.6h1v1h-1zM193.5 313.6h1v1h-1zM180.2 312.7h1v1h-1zM177.4 308.7h1v1h-1zM163.0 316.8h1v1h-1zM185.4 293.8h1v1h-1zM210.0 297.4h1v1h-1zM142.5 313.0h1v1h-1zM158.9 297.8h1v1h-1zM167.6 314.2h1v1h-1zM206.0 295.1h1v1h-1zM162.7 310.4h1v1h-1zM201.5 300.4h1v1h-1zM172.1 315.8h1v1h-1zM188.8 309.7h1v1h-1zM184.3 312.8h1v1h-1zM162.3 297.2h1v1h-1zM156.4 306.1h1v1h-1zM143.5 308.1h1v1h-1zM180.0 294.1h1v1h-1zM140.6 312.4h1v1h-1zM158.1 300.3h1v1h-1zM177.0 307.0h1v1h-1zM195.7 312.4h1v1h-1zM135.3 295.2h1v1h-1zM137.5 293.2h1v1h-1zM170.8 305.4h1v1h-1zM164.7 299.9h1v1h-1zM203.8 306.5h1v1h-1zM161.6 299.2h1v1h-1zM173.3 306.3h1v1h-1zM144.1 311.3h1v1h-1zM139.5 302.7h1v1h-1zM191.1 290.9h1v1h-1zM203.9 307.0h1v1h-1z" fill="#5a2c98"/>
<path d="M160.1 301.7h1v1h-1zM155.1 309.3h1v1h-1zM183.6 307.1h1v1h-1zM200.0 294.6h1v1h-1zM138.1 315.7h1v1h-1zM178.4 304.7h1v1h-1zM196.3 298.2h1v1h-1zM175.7 306.8h1v1h-1zM160.2 294.4h1v1h-1zM181.4 294.5h1v1h-1zM155.1 300.1h1v1h-1zM144.2 302.9h1v1h-1zM141.8 306.9h1v1h-1zM166.9 299.5h1v1h-1zM206.6 292.5h1v1h-1zM161.0 303.8h1v1h-1zM149.8 294.4h1v1h-1zM158.7 305.4h1v1h-1zM141.6 310.4h1v1h-1zM139.1 314.1h1v1h-1zM159.5 312.9h1v1h-1zM151.3 292.2h1v1h-1zM154.6 297.3h1v1h-1zM164.8 297.0h1v1h-1zM142.8 301.2h1v1h-1zM145.3 311.6h1v1h-1zM183.6 303.5h1v1h-1zM190.9 312.4h1v1h-1zM201.0 289.9h1v1h-1zM140.5 293.6h1v1h-1zM174.4 299.5h1v1h-1zM142.0 291.4h1v1h-1zM168.5 291.0h1v1h-1zM150.8 292.8h1v1h-1zM184.0 292.4h1v1h-1zM173.9 311.2h1v1h-1zM161.6 295.5h1v1h-1zM161.1 295.0h1v1h-1zM185.3 311.4h1v1h-1zM143.6 311.6h1v1h-1zM164.1 300.4h1v1h-1zM153.8 302.5h1v1h-1zM176.5 292.4h1v1h-1zM178.8 301.3h1v1h-1zM210.7 314.9h1v1h-1zM161.3 313.2h1v1h-1zM147.7 296.5h1v1h-1zM167.2 302.1h1v1h-1zM154.7 305.3h1v1h-1zM149.5 305.4h1v1h-1zM158.2 306.7h1v1h-1zM194.8 299.9h1v1h-1zM173.5 300.9h1v1h-1zM137.9 312.7h1v1h-1zM177.2 310.1h1v1h-1zM190.3 311.6h1v1h-1zM207.8 306.9h1v1h-1zM210.5 309.8h1v1h-1zM198.7 306.7h1v1h-1zM207.7 299.4h1v1h-1zM164.5 297.7h1v1h-1zM203.9 296.5h1v1h-1zM179.5 297.1h1v1h-1zM202.7 314.5h1v1h-1zM176.7 311.0h1v1h-1zM201.8 299.5h1v1h-1zM149.5 298.5h1v1h-1zM136.1 311.4h1v1h-1zM180.7 312.9h1v1h-1zM200.0 299.4h1v1h-1zM150.2 298.9h1v1h-1zM161.6 308.9h1v1h-1zM165.7 299.0h1v1h-1zM201.5 315.8h1v1h-1zM206.3 301.8h1v1h-1zM203.0 292.2h1v1h-1zM160.3 295.9h1v1h-1zM182.0 294.8h1v1h-1zM172.9 311.4h1v1h-1zM142.1 295.9h1v1h-1zM165.2 308.4h1v1h-1zM141.0 313.9h1v1h-1zM173.8 295.3h1v1h-1zM203.6 313.8h1v1h-1zM155.0 301.3h1v1h-1zM149.5 298.2h1v1h-1zM186.2 300.4h1v1h-1zM156.5 311.9h1v1h-1zM153.1 292.1h1v1h-1zM135.3 306.8h1v1h-1zM150.2 311.5h1v1h-1zM161.1 300.1h1v1h-1zM179.3 308.5h1v1h-1zM199.1 292.9h1v1h-1zM163.0 304.6h1v1h-1zM191.0 300.3h1v1h-1zM174.4 310.9h1v1h-1zM136.9 296.9h1v1h-1zM135.8 311.6h1v1h-1zM197.1 311.5h1v1h-1zM150.0 292.5h1v1h-1zM177.8 301.5h1v1h-1zM167.0 303.8h1v1h-1zM208.7 310.5h1v1h-1zM178.7 311.3h1v1h-1zM146.3 317.6h1v1h-1zM195.6 315.4h1v1h-1zM194.7 301.6h1v1h-1zM182.6 297.8h1v1h-1zM135.8 301.0h1v1h-1zM159.9 298.7h1v1h-1zM153.4 309.6h1v1h-1zM184.0 304.8h1v1h-1zM134.9 314.1h1v1h-1zM175.5 299.3h1v1h-1zM143.3 294.1h1v1h-1zM209.7 306.6h1v1h-1zM144.5 306.6h1v1h-1zM140.0 293.6h1v1h-1zM195.2 293.1h1v1h-1zM134.4 305.7h1v1h-1zM156.4 314.4h1v1h-1zM197.4 305.1h1v1h-1zM173.9 295.0h1v1h-1zM137.3 304.2h1v1h-1zM170.1 296.1h1v1h-1zM207.8 310.9h1v1h-1zM138.8 308.8h1v1h-1zM209.0 300.2h1v1h-1zM148.2 302.8h1v1h-1zM161.4 316.3h1v1h-1zM186.9 311.0h1v1h-1zM159.5 312.7h1v1h-1zM149.7 313.2h1v1h-1zM191.6 297.0h1v1h-1zM133.5 295.6h1v1h-1zM203.3 299.1h1v1h-1zM167.3 309.3h1v1h-1zM157.8 315.8h1v1h-1zM154.6 315.4h1v1h-1zM195.7 300.3h1v1h-1zM205.2 294.8h1v1h-1zM167.9 294.5h1v1h-1zM145.3 291.3h1v1h-1zM190.1 302.2h1v1h-1zM192.9 305.4h1v1h-1zM182.3 309.8h1v1h-1zM148.0 312.9h1v1h-1zM148.8 293.4h1v1h-1zM163.9 292.1h1v1h-1zM193.8 294.8h1v1h-1zM169.0 291.3h1v1h-1zM142.1 304.9h1v1h-1zM138.7 317.8h1v1h-1zM140.4 301.3h1v1h-1zM203.7 299.3h1v1h-1zM180.4 301.4h1v1h-1zM208.1 313.9h1v1h-1zM192.6 303.7h1v1h-1zM148.6 293.0h1v1h-1zM133.2 313.4h1v1h-1zM205.2 305.8h1v1h-1zM150.4 316.5h1v1h-1zM201.9 300.1h1v1h-1zM169.2 297.8h1v1h-1zM134.8 294.2h1v1h-1zM144.5 306.8h1v1h-1zM150.8 309.7h1v1h-1zM192.5 311.9h1v1h-1zM186.5 296.4h1v1h-1zM145.0 301.1h1v1h-1zM170.1 313.6h1v1h-1zM136.7 312.2h1v1h-1zM199.2 292.7h1v1h-1z" fill="#4a1b86"/>
<path d="M148.1 300.6h1v1h-1zM188.3 297.0h1v1h-1zM192.3 302.1h1v1h-1zM209.7 308.5h1v1h-1zM159.2 311.7h1v1h-1zM157.5 294.9h1v1h-1zM162.8 295.9h1v1h-1zM143.0 310.0h1v1h-1zM162.0 309.3h1v1h-1zM198.5 305.6h1v1h-1zM164.0 295.7h1v1h-1zM192.3 300.1h1v1h-1zM201.6 312.3h1v1h-1zM163.2 311.5h1v1h-1zM145.2 306.6h1v1h-1zM142.9 305.1h1v1h-1zM183.4 309.0h1v1h-1zM171.4 313.4h1v1h-1zM206.6 295.3h1v1h-1zM148.1 299.5h1v1h-1zM167.2 297.6h1v1h-1zM152.5 309.9h1v1h-1zM188.2 294.6h1v1h-1zM139.1 306.3h1v1h-1zM142.3 311.7h1v1h-1zM139.6 308.6h1v1h-1zM166.6 291.5h1v1h-1zM166.3 305.3h1v1h-1zM138.1 304.4h1v1h-1zM155.5 293.3h1v1h-1zM148.7 309.6h1v1h-1zM173.7 315.3h1v1h-1zM190.0 308.8h1v1h-1zM133.2 302.0h1v1h-1zM159.1 313.2h1v1h-1zM133.0 311.7h1v1h-1zM148.0 307.6h1v1h-1zM183.4 309.8h1v1h-1zM167.0 301.4h1v1h-1zM195.3 311.4h1v1h-1zM205.9 299.9h1v1h-1zM210.2 304.6h1v1h-1zM163.4 298.7h1v1h-1zM197.5 294.7h1v1h-1zM201.5 314.1h1v1h-1zM179.7 306.5h1v1h-1zM188.2 295.9h1v1h-1zM191.8 315.4h1v1h-1zM140.8 311.5h1v1h-1zM157.1 304.6h1v1h-1zM201.8 302.5h1v1h-1zM148.2 306.5h1v1h-1zM210.1 311.0h1v1h-1zM137.3 296.0h1v1h-1zM175.3 294.9h1v1h-1zM167.7 305.1h1v1h-1zM179.3 293.2h1v1h-1zM179.4 312.1h1v1h-1zM150.1 300.0h1v1h-1zM147.2 307.6h1v1h-1zM135.0 301.5h1v1h-1zM176.0 295.3h1v1h-1zM145.8 315.0h1v1h-1zM186.8 310.3h1v1h-1zM163.1 296.8h1v1h-1zM202.2 297.6h1v1h-1zM172.6 298.1h1v1h-1zM169.4 298.2h1v1h-1zM195.9 298.3h1v1h-1zM159.7 311.6h1v1h-1zM160.2 291.3h1v1h-1zM142.3 298.2h1v1h-1zM209.2 298.8h1v1h-1zM165.5 311.6h1v1h-1zM189.7 295.1h1v1h-1zM192.4 309.3h1v1h-1zM190.0 311.3h1v1h-1zM162.2 299.5h1v1h-1zM163.7 316.1h1v1h-1zM208.9 312.3h1v1h-1zM135.1 305.5h1v1h-1zM166.3 297.8h1v1h-1zM180.9 296.0h1v1h-1zM179.7 293.5h1v1h-1zM168.1 299.3h1v1h-1zM160.8 301.6h1v1h-1zM210.3 306.3h1v1h-1zM198.0 312.6h1v1h-1zM210.6 300.2h1v1h-1zM170.1 312.4h1v1h-1zM182.9 308.4h1v1h-1zM203.7 300.8h1v1h-1zM176.8 301.3h1v1h-1zM148.3 291.6h1v1h-1zM172.1 293.5h1v1h-1zM153.5 311.3h1v1h-1zM141.3 297.7h1v1h-1zM165.6 291.9h1v1h-1zM207.3 294.7h1v1h-1zM150.4 312.9h1v1h-1zM180.3 299.9h1v1h-1zM166.8 310.2h1v1h-1zM161.4 295.3h1v1h-1zM143.0 301.5h1v1h-1zM150.0 298.3h1v1h-1zM189.6 305.0h1v1h-1zM173.4 301.5h1v1h-1zM150.4 293.7h1v1h-1zM174.5 292.9h1v1h-1zM197.8 299.7h1v1h-1zM180.8 300.5h1v1h-1zM162.8 295.1h1v1h-1zM154.7 300.3h1v1h-1zM151.7 291.2h1v1h-1zM139.6 307.0h1v1h-1zM152.5 309.1h1v1h-1zM150.0 313.8h1v1h-1zM206.7 299.4h1v1h-1zM209.6 302.0h1v1h-1zM199.0 304.6h1v1h-1zM189.3 298.9h1v1h-1zM175.2 314.2h1v1h-1zM138.8 311.0h1v1h-1zM204.7 305.8h1v1h-1zM182.2 307.2h1v1h-1zM209.0 289.9h1v1h-1zM178.0 304.7h1v1h-1zM176.9 312.4h1v1h-1zM155.0 291.2h1v1h-1zM134.3 300.2h1v1h-1zM165.3 296.6h1v1h-1zM154.5 301.2h1v1h-1zM151.7 300.7h1v1h-1zM135.3 291.8h1v1h-1zM133.8 315.8h1v1h-1zM181.5 298.2h1v1h-1zM208.3 302.0h1v1h-1zM141.0 293.6h1v1h-1zM174.4 302.9h1v1h-1zM206.0 307.4h1v1h-1zM176.3 294.3h1v1h-1zM186.6 296.5h1v1h-1zM193.6 301.4h1v1h-1zM192.0 293.1h1v1h-1zM187.2 312.7h1v1h-1zM210.6 309.0h1v1h-1zM201.1 310.9h1v1h-1zM188.2 301.7h1v1h-1zM187.9 310.2h1v1h-1zM139.8 295.7h1v1h-1zM153.5 313.0h1v1h-1zM191.7 295.0h1v1h-1zM163.4 308.5h1v1h-1zM207.4 306.3h1v1h-1zM151.5 302.3h1v1h-1zM183.7 291.9h1v1h-1zM196.2 310.0h1v1h-1zM155.1 312.8h1v1h-1zM199.0 306.7h1v1h-1zM173.0 300.3h1v1h-1zM156.0 293.7h1v1h-1zM201.3 303.1h1v1h-1zM154.0 298.7h1v1h-1z" fill="#3c1273"/>
<path d="M198.9 314.2h1v1h-1zM193.5 312.6h1v1h-1zM185.2 312.9h1v1h-1zM137.0 301.7h1v1h-1zM207.9 310.7h1v1h-1zM207.0 311.4h1v1h-1zM150.2 300.3h1v1h-1zM175.6 313.1h1v1h-1zM142.9 295.1h1v1h-1zM157.0 300.2h1v1h-1zM177.0 297.1h1v1h-1zM172.6 310.7h1v1h-1zM208.2 292.0h1v1h-1zM212.0 312.5h1v1h-1zM192.6 296.4h1v1h-1zM155.2 302.2h1v1h-1zM155.7 295.2h1v1h-1zM191.8 316.2h1v1h-1zM146.7 308.3h1v1h-1zM191.4 315.8h1v1h-1zM191.0 304.7h1v1h-1zM182.9 300.4h1v1h-1zM199.3 313.4h1v1h-1zM164.0 301.4h1v1h-1zM183.4 296.8h1v1h-1zM172.2 311.5h1v1h-1zM174.0 315.0h1v1h-1zM177.4 307.5h1v1h-1zM210.8 314.0h1v1h-1zM134.5 306.5h1v1h-1zM188.1 314.0h1v1h-1zM158.7 310.5h1v1h-1zM143.3 299.2h1v1h-1zM193.3 313.6h1v1h-1zM194.1 293.2h1v1h-1zM183.8 297.8h1v1h-1zM147.2 292.6h1v1h-1zM193.3 312.6h1v1h-1zM171.3 308.3h1v1h-1zM207.2 308.1h1v1h-1zM178.0 300.2h1v1h-1zM139.9 303.8h1v1h-1zM190.6 304.7h1v1h-1zM136.5 293.0h1v1h-1zM176.5 305.9h1v1h-1zM195.2 291.3h1v1h-1zM182.1 296.4h1v1h-1zM168.1 306.1h1v1h-1zM194.5 304.5h1v1h-1zM147.3 312.9h1v1h-1zM151.2 296.5h1v1h-1zM154.9 293.6h1v1h-1zM203.4 308.6h1v1h-1zM167.1 311.2h1v1h-1zM184.1 297.2h1v1h-1zM201.3 296.9h1v1h-1zM177.1 313.8h1v1h-1zM147.1 306.2h1v1h-1zM143.2 298.9h1v1h-1zM191.1 304.1h1v1h-1zM211.3 300.4h1v1h-1zM159.8 293.3h1v1h-1zM143.1 304.3h1v1h-1zM201.3 306.8h1v1h-1zM169.0 298.5h1v1h-1zM206.9 293.8h1v1h-1zM176.1 305.1h1v1h-1zM177.6 302.1h1v1h-1zM146.5 304.3h1v1h-1zM192.0 296.6h1v1h-1zM140.2 308.5h1v1h-1zM211.1 301.2h1v1h-1zM157.0 313.0h1v1h-1zM157.7 295.1h1v1h-1zM144.2 292.1h1v1h-1zM199.0 306.7h1v1h-1zM177.9 293.1h1v1h-1zM207.3 301.8h1v1h-1zM186.8 294.7h1v1h-1zM164.3 301.7h1v1h-1zM145.1 306.8h1v1h-1zM170.5 298.0h1v1h-1zM138.8 304.9h1v1h-1zM155.9 317.2h1v1h-1zM157.3 309.9h1v1h-1zM174.7 305.2h1v1h-1zM190.7 302.1h1v1h-1zM141.3 297.5h1v1h-1zM147.9 305.4h1v1h-1zM163.5 305.7h1v1h-1zM188.7 313.4h1v1h-1zM134.4 306.5h1v1h-1zM150.8 298.0h1v1h-1zM200.8 296.9h1v1h-1zM199.6 299.7h1v1h-1zM158.3 302.5h1v1h-1zM200.5 296.0h1v1h-1zM159.9 291.5h1v1h-1zM199.8 300.6h1v1h-1zM150.3 305.7h1v1h-1zM209.6 294.7h1v1h-1zM150.9 303.5h1v1h-1zM163.1 294.9h1v1h-1zM206.0 309.3h1v1h-1zM190.6 302.3h1v1h-1zM186.3 307.7h1v1h-1zM171.1 297.8h1v1h-1zM175.6 308.7h1v1h-1zM185.6 294.9h1v1h-1zM196.2 296.8h1v1h-1zM157.1 310.9h1v1h-1zM176.5 313.1h1v1h-1zM152.4 300.9h1v1h-1zM170.0 306.4h1v1h-1zM164.7 309.4h1v1h-1zM209.8 306.7h1v1h-1zM210.5 304.8h1v1h-1zM144.9 295.8h1v1h-1zM166.6 310.3h1v1h-1zM205.2 291.5h1v1h-1zM190.4 307.2h1v1h-1zM204.5 303.7h1v1h-1zM203.0 304.8h1v1h-1zM164.5 309.3h1v1h-1zM190.2 306.2h1v1h-1zM142.9 312.6h1v1h-1zM148.0 299.9h1v1h-1zM160.9 311.2h1v1h-1zM189.3 315.1h1v1h-1zM156.6 293.7h1v1h-1zM160.2 296.2h1v1h-1zM175.4 305.5h1v1h-1zM207.7 290.2h1v1h-1zM209.5 297.0h1v1h-1zM210.9 289.5h1v1h-1zM197.2 306.6h1v1h-1zM156.4 298.5h1v1h-1zM184.2 295.6h1v1h-1zM183.0 314.2h1v1h-1zM179.4 292.8h1v1h-1zM177.2 305.4h1v1h-1zM206.4 307.3h1v1h-1zM207.0 312.4h1v1h-1zM178.7 299.8h1v1h-1zM160.2 296.3h1v1h-1zM140.4 312.1h1v1h-1zM192.6 290.1h1v1h-1zM195.7 301.5h1v1h-1zM203.7 306.6h1v1h-1zM172.9 310.0h1v1h-1zM209.5 301.9h1v1h-1zM207.1 306.5h1v1h-1zM138.2 301.4h1v1h-1zM174.0 306.4h1v1h-1zM162.4 313.4h1v1h-1zM134.5 298.3h1v1h-1zM195.7 293.6h1v1h-1zM195.6 312.2h1v1h-1zM202.7 291.3h1v1h-1zM206.7 290.5h1v1h-1zM137.7 294.7h1v1h-1zM141.3 293.1h1v1h-1zM158.6 313.2h1v1h-1zM164.5 315.9h1v1h-1zM155.7 295.0h1v1h-1zM180.9 306.1h1v1h-1zM191.1 301.7h1v1h-1zM205.8 301.3h1v1h-1zM155.0 312.1h1v1h-1zM210.4 295.1h1v1h-1zM191.7 312.4h1v1h-1zM181.6 310.8h1v1h-1zM143.9 300.0h1v1h-1zM209.9 293.6h1v1h-1zM198.3 304.5h1v1h-1zM138.4 299.8h1v1h-1zM139.9 308.4h1v1h-1zM193.3 295.1h1v1h-1zM202.9 292.4h1v1h-1zM170.1 306.1h1v1h-1zM179.1 294.9h1v1h-1z" fill="#6a40a8"/>
<path d="M131.9 328.3h1v1h-1zM136.6 315.0h1v1h-1zM138.5 311.0h1v1h-1zM135.0 315.4h1v1h-1zM137.7 304.0h1v1h-1zM136.3 309.0h1v1h-1zM136.9 305.8h1v1h-1zM137.4 310.0h1v1h-1zM133.0 306.0h1v1h-1zM137.5 317.4h1v1h-1zM133.0 324.8h1v1h-1zM138.4 328.4h1v1h-1zM133.0 313.7h1v1h-1zM133.2 319.1h1v1h-1zM135.4 314.2h1v1h-1zM132.8 305.0h1v1h-1zM134.6 303.5h1v1h-1zM135.2 314.4h1v1h-1zM135.4 324.1h1v1h-1zM135.6 302.3h1v1h-1zM138.6 323.3h1v1h-1zM135.1 320.2h1v1h-1zM139.6 318.6h1v1h-1zM135.4 306.0h1v1h-1z" fill="#5a2c98"/>
<path d="M134.1 312.0h1v1h-1zM139.2 308.0h1v1h-1zM133.5 325.0h1v1h-1zM139.0 322.2h1v1h-1zM133.6 322.2h1v1h-1zM136.5 316.9h1v1h-1zM134.5 313.0h1v1h-1zM135.2 306.1h1v1h-1zM137.1 318.4h1v1h-1zM138.1 309.0h1v1h-1zM132.2 314.5h1v1h-1zM136.5 300.3h1v1h-1zM139.9 318.9h1v1h-1zM137.2 305.2h1v1h-1zM132.3 310.0h1v1h-1zM140.4 305.4h1v1h-1zM131.3 325.0h1v1h-1zM135.4 312.6h1v1h-1z" fill="#4a1b86"/>
<path d="M136.1 313.5h1v1h-1zM134.3 305.4h1v1h-1zM137.6 302.5h1v1h-1zM136.3 326.5h1v1h-1zM138.1 323.3h1v1h-1zM137.8 326.4h1v1h-1zM137.5 300.7h1v1h-1zM136.4 312.9h1v1h-1zM134.1 318.2h1v1h-1zM133.3 311.6h1v1h-1zM139.0 303.5h1v1h-1zM131.1 302.8h1v1h-1zM132.6 304.2h1v1h-1zM138.6 318.5h1v1h-1zM134.6 313.3h1v1h-1zM130.2 321.1h1v1h-1zM140.5 303.3h1v1h-1zM136.0 319.4h1v1h-1zM135.3 329.0h1v1h-1zM135.3 326.0h1v1h-1zM140.5 321.6h1v1h-1zM139.7 315.0h1v1h-1z" fill="#3a1070"/>
<path d="M132.8 310.1h1v1h-1zM133.1 317.7h1v1h-1zM133.9 322.3h1v1h-1zM135.6 330.0h1v1h-1zM135.3 324.0h1v1h-1zM134.2 318.4h1v1h-1zM136.2 323.4h1v1h-1zM136.5 317.9h1v1h-1zM135.8 309.7h1v1h-1zM136.1 327.8h1v1h-1zM137.1 328.4h1v1h-1zM134.8 328.4h1v1h-1zM135.1 313.8h1v1h-1zM137.1 303.1h1v1h-1zM135.6 314.2h1v1h-1z" fill="#2a0852"/>
<path d="M137.7 305.8h1v1h-1zM133.2 327.3h1v1h-1zM137.1 300.8h1v1h-1zM137.8 313.4h1v1h-1zM133.4 330.3h1v1h-1zM136.9 327.5h1v1h-1zM133.0 307.7h1v1h-1zM138.3 320.4h1v1h-1zM135.7 319.8h1v1h-1zM133.3 306.7h1v1h-1zM133.4 312.6h1v1h-1zM135.7 329.3h1v1h-1zM135.5 317.3h1v1h-1zM134.9 311.9h1v1h-1zM138.6 323.0h1v1h-1zM138.5 319.8h1v1h-1zM132.2 316.6h1v1h-1zM137.3 308.1h1v1h-1zM139.1 316.3h1v1h-1zM138.4 302.1h1v1h-1zM133.9 309.7h1v1h-1zM138.1 307.2h1v1h-1zM136.6 301.7h1v1h-1z" fill="#6a40a8"/>
<path d="M135.8 318.9h1v1h-1zM134.7 315.9h1v1h-1zM133.6 307.5h1v1h-1zM135.2 305.0h1v1h-1zM137.5 303.4h1v1h-1zM133.7 322.4h1v1h-1zM135.1 306.9h1v1h-1zM132.7 318.9h1v1h-1zM133.7 300.7h1v1h-1zM133.1 329.0h1v1h-1zM137.7 306.8h1v1h-1zM135.8 316.5h1v1h-1zM138.8 304.6h1v1h-1zM140.2 300.9h1v1h-1zM134.6 307.7h1v1h-1zM133.1 323.4h1v1h-1zM135.0 322.2h1v1h-1zM134.7 311.0h1v1h-1zM134.0 320.5h1v1h-1zM135.3 328.6h1v1h-1zM132.9 309.1h1v1h-1zM138.4 325.7h1v1h-1zM140.3 317.2h1v1h-1z" fill="#3c1273"/>
<path d="M140.4 310.5h1v1h-1zM134.7 328.9h1v1h-1zM136.4 299.9h1v1h-1zM133.4 327.8h1v1h-1zM137.7 324.5h1v1h-1zM135.3 321.9h1v1h-1zM134.6 329.0h1v1h-1zM130.8 317.6h1v1h-1zM138.9 328.7h1v1h-1zM138.7 304.6h1v1h-1zM135.8 312.2h1v1h-1zM135.5 312.7h1v1h-1zM134.1 325.2h1v1h-1zM133.2 320.2h1v1h-1zM132.5 312.5h1v1h-1z" fill="#2e0a5e"/>
<path d="M144.4 329.8h1v1h-1zM144.8 328.0h1v1h-1zM139.0 322.0h1v1h-1zM146.4 331.8h1v1h-1zM145.9 330.2h1v1h-1zM142.5 322.7h1v1h-1zM141.6 327.7h1v1h-1zM141.3 323.9h1v1h-1zM143.2 327.7h1v1h-1zM148.7 332.3h1v1h-1zM144.8 327.4h1v1h-1zM145.0 328.5h1v1h-1zM141.5 328.1h1v1h-1zM142.1 325.5h1v1h-1zM145.5 330.1h1v1h-1z" fill="#3a1070"/>
<path d="M144.6 327.1h1v1h-1zM146.2 330.0h1v1h-1zM137.5 322.8h1v1h-1zM142.9 320.4h1v1h-1zM140.6 321.1h1v1h-1zM147.5 331.0h1v1h-1zM143.0 332.6h1v1h-1zM145.2 328.0h1v1h-1zM140.0 321.4h1v1h-1zM145.9 327.9h1v1h-1zM145.2 327.4h1v1h-1zM143.3 326.5h1v1h-1zM145.7 329.0h1v1h-1zM146.5 325.7h1v1h-1zM144.0 329.2h1v1h-1zM144.1 325.0h1v1h-1zM143.6 333.7h1v1h-1zM144.9 330.8h1v1h-1zM145.8 329.8h1v1h-1zM150.3 331.8h1v1h-1zM142.3 334.4h1v1h-1zM139.9 322.0h1v1h-1z" fill="#6a40a8"/>
<path d="M146.3 331.4h1v1h-1zM146.4 331.3h1v1h-1zM142.6 320.5h1v1h-1zM146.8 324.0h1v1h-1zM145.5 324.4h1v1h-1zM142.4 329.7h1v1h-1zM138.6 321.7h1v1h-1zM144.8 329.6h1v1h-1zM143.4 322.2h1v1h-1zM141.5 323.8h1v1h-1zM145.6 331.6h1v1h-1zM146.0 328.8h1v1h-1zM143.7 320.7h1v1h-1zM147.6 329.8h1v1h-1zM141.8 333.4h1v1h-1zM139.6 322.9h1v1h-1zM143.8 326.2h1v1h-1zM147.4 331.1h1v1h-1zM144.1 329.4h1v1h-1zM141.7 328.7h1v1h-1z" fill="#4a1b86"/>
<path d="M143.5 328.2h1v1h-1zM141.9 323.3h1v1h-1zM139.6 323.6h1v1h-1zM142.7 326.3h1v1h-1zM140.6 323.5h1v1h-1zM144.8 321.4h1v1h-1zM146.6 323.6h1v1h-1zM141.9 323.5h1v1h-1z" fill="#2a0852"/>
<path d="M145.6 329.6h1v1h-1zM143.1 329.5h1v1h-1zM145.6 322.0h1v1h-1zM144.1 331.0h1v1h-1zM147.4 326.6h1v1h-1zM146.7 325.5h1v1h-1zM142.0 321.1h1v1h-1zM143.7 330.7h1v1h-1zM144.1 322.8h1v1h-1z" fill="#5a2c98"/>
<path d="M138.4 320.7h1v1h-1zM145.6 323.0h1v1h-1zM142.7 321.1h1v1h-1zM140.5 326.0h1v1h-1zM150.2 328.7h1v1h-1zM142.3 319.5h1v1h-1zM146.5 328.7h1v1h-1zM142.1 325.6h1v1h-1zM143.8 333.5h1v1h-1zM143.8 329.5h1v1h-1zM145.1 329.7h1v1h-1zM145.0 330.3h1v1h-1zM141.4 321.3h1v1h-1zM141.1 325.4h1v1h-1zM141.8 323.9h1v1h-1zM141.7 324.7h1v1h-1zM145.8 327.8h1v1h-1z" fill="#2e0a5e"/>
<path d="M143.4 332.9h1v1h-1zM146.5 330.3h1v1h-1zM147.2 331.9h1v1h-1zM146.5 330.2h1v1h-1zM148.6 330.0h1v1h-1zM145.4 324.6h1v1h-1zM145.5 321.1h1v1h-1zM147.1 327.9h1v1h-1zM144.8 330.6h1v1h-1zM139.6 325.0h1v1h-1zM147.4 325.4h1v1h-1zM147.2 331.9h1v1h-1zM143.4 334.6h1v1h-1zM145.9 330.6h1v1h-1zM143.0 320.0h1v1h-1zM142.8 324.2h1v1h-1zM143.4 321.0h1v1h-1zM149.0 331.4h1v1h-1zM141.5 321.0h1v1h-1z" fill="#3c1273"/>
<path d="M209,292 L216,288 L230,286.5 L244,287.5 L253,291 L259,297 L263,306 L265,316 L263,321 L254,319 L240,315 L226,314 L214,311 L208,305 L207,297 Z" fill="#4a1a84" opacity="0.5"/>
<path d="M214,291 L228,287.5 L245,288.5 L254,293 L258,303 L262,315 L252,316 L238,312 L222,310 L213,305 Z" fill="#3a0e70" opacity="0.85"/>
<path d="M242.4 286.0h1.1v1.1h-1.1zM208.5 302.0h1.1v1.1h-1.1zM224.7 286.5h1.1v1.1h-1.1zM210.5 309.7h1.1v1.1h-1.1zM265.1 310.8h1.1v1.1h-1.1zM223.7 283.0h1.1v1.1h-1.1zM216.8 288.8h1.1v1.1h-1.1zM271.1 315.8h1.1v1.1h-1.1zM224.9 290.6h1.1v1.1h-1.1zM210.3 293.2h1.1v1.1h-1.1zM226.3 287.6h1.1v1.1h-1.1zM221.2 295.0h1.1v1.1h-1.1zM237.9 316.1h1.1v1.1h-1.1zM209.1 294.7h1.1v1.1h-1.1zM261.4 305.1h1.1v1.1h-1.1zM237.9 290.8h1.1v1.1h-1.1zM234.0 312.2h1.1v1.1h-1.1zM219.0 308.4h1.1v1.1h-1.1zM250.4 287.2h1.1v1.1h-1.1zM253.9 289.5h1.1v1.1h-1.1zM233.3 285.7h1.1v1.1h-1.1zM255.0 292.8h1.1v1.1h-1.1zM232.6 289.9h1.1v1.1h-1.1zM220.5 288.7h1.1v1.1h-1.1zM230.9 309.9h1.1v1.1h-1.1zM249.5 308.4h1.1v1.1h-1.1zM240.9 302.6h1.1v1.1h-1.1zM210.5 310.4h1.1v1.1h-1.1zM228.3 307.9h1.1v1.1h-1.1zM251.2 320.3h1.1v1.1h-1.1zM242.9 297.5h1.1v1.1h-1.1zM206.9 299.3h1.1v1.1h-1.1zM206.5 296.8h1.1v1.1h-1.1zM233.9 289.7h1.1v1.1h-1.1zM248.9 319.8h1.1v1.1h-1.1zM247.8 314.7h1.1v1.1h-1.1zM249.9 301.5h1.1v1.1h-1.1zM238.4 294.0h1.1v1.1h-1.1zM208.9 296.8h1.1v1.1h-1.1zM208.0 290.0h1.1v1.1h-1.1zM210.2 291.8h1.1v1.1h-1.1zM226.1 290.5h1.1v1.1h-1.1zM233.1 287.0h1.1v1.1h-1.1zM250.4 308.8h1.1v1.1h-1.1zM255.2 322.0h1.1v1.1h-1.1zM229.1 314.6h1.1v1.1h-1.1zM260.2 301.4h1.1v1.1h-1.1zM268.1 315.7h1.1v1.1h-1.1zM220.9 314.9h1.1v1.1h-1.1zM263.2 316.6h1.1v1.1h-1.1zM220.4 311.6h1.1v1.1h-1.1zM256.3 308.1h1.1v1.1h-1.1zM247.4 287.1h1.1v1.1h-1.1zM225.8 292.7h1.1v1.1h-1.1zM219.1 298.1h1.1v1.1h-1.1zM213.9 311.1h1.1v1.1h-1.1zM230.3 301.6h1.1v1.1h-1.1zM206.4 294.4h1.1v1.1h-1.1zM255.0 292.5h1.1v1.1h-1.1zM260.1 304.5h1.1v1.1h-1.1zM243.7 293.5h1.1v1.1h-1.1zM215.9 304.3h1.1v1.1h-1.1zM236.5 302.0h1.1v1.1h-1.1zM219.8 313.8h1.1v1.1h-1.1zM208.5 295.0h1.1v1.1h-1.1zM214.8 304.4h1.1v1.1h-1.1zM249.4 295.4h1.1v1.1h-1.1zM256.5 296.7h1.1v1.1h-1.1zM238.2 287.4h1.1v1.1h-1.1zM256.9 291.7h1.1v1.1h-1.1zM210.5 309.8h1.1v1.1h-1.1zM241.6 303.6h1.1v1.1h-1.1zM254.7 302.0h1.1v1.1h-1.1zM259.1 300.9h1.1v1.1h-1.1zM229.0 311.4h1.1v1.1h-1.1zM209.2 297.4h1.1v1.1h-1.1zM218.7 308.2h1.1v1.1h-1.1zM262.6 306.3h1.1v1.1h-1.1zM258.0 314.9h1.1v1.1h-1.1zM228.3 302.9h1.1v1.1h-1.1zM229.4 311.3h1.1v1.1h-1.1zM264.1 304.8h1.1v1.1h-1.1zM243.0 293.6h1.1v1.1h-1.1zM230.3 320.4h1.1v1.1h-1.1zM230.6 296.9h1.1v1.1h-1.1zM228.0 314.9h1.1v1.1h-1.1zM265.3 321.5h1.1v1.1h-1.1zM226.9 311.6h1.1v1.1h-1.1zM223.9 293.7h1.1v1.1h-1.1zM211.5 306.2h1.1v1.1h-1.1zM222.0 297.3h1.1v1.1h-1.1zM220.3 297.1h1.1v1.1h-1.1zM242.3 309.4h1.1v1.1h-1.1zM255.4 317.9h1.1v1.1h-1.1zM252.9 296.1h1.1v1.1h-1.1zM224.7 285.3h1.1v1.1h-1.1zM237.5 284.8h1.1v1.1h-1.1zM245.6 294.1h1.1v1.1h-1.1zM262.2 317.9h1.1v1.1h-1.1zM239.8 289.7h1.1v1.1h-1.1zM259.5 290.5h1.1v1.1h-1.1zM227.0 307.6h1.1v1.1h-1.1zM252.6 311.2h1.1v1.1h-1.1zM208.6 307.0h1.1v1.1h-1.1zM263.9 300.6h1.1v1.1h-1.1zM261.1 310.7h1.1v1.1h-1.1zM256.5 293.5h1.1v1.1h-1.1zM223.3 304.1h1.1v1.1h-1.1zM260.6 306.8h1.1v1.1h-1.1zM248.1 290.1h1.1v1.1h-1.1zM230.8 299.6h1.1v1.1h-1.1zM258.3 323.9h1.1v1.1h-1.1zM253.3 315.7h1.1v1.1h-1.1zM236.2 289.6h1.1v1.1h-1.1zM214.2 300.1h1.1v1.1h-1.1zM246.9 291.8h1.1v1.1h-1.1zM262.2 320.8h1.1v1.1h-1.1zM250.5 319.9h1.1v1.1h-1.1zM239.7 294.0h1.1v1.1h-1.1zM211.2 299.0h1.1v1.1h-1.1zM240.2 288.4h1.1v1.1h-1.1zM228.6 306.3h1.1v1.1h-1.1zM256.4 302.2h1.1v1.1h-1.1zM245.6 290.5h1.1v1.1h-1.1zM213.0 292.4h1.1v1.1h-1.1zM244.5 293.5h1.1v1.1h-1.1zM218.6 289.0h1.1v1.1h-1.1zM250.4 321.9h1.1v1.1h-1.1zM234.9 317.2h1.1v1.1h-1.1zM251.3 291.6h1.1v1.1h-1.1zM239.2 295.1h1.1v1.1h-1.1zM208.3 304.1h1.1v1.1h-1.1zM233.3 304.7h1.1v1.1h-1.1zM255.3 318.0h1.1v1.1h-1.1zM224.9 306.6h1.1v1.1h-1.1zM214.3 292.0h1.1v1.1h-1.1zM245.9 319.0h1.1v1.1h-1.1zM237.6 313.7h1.1v1.1h-1.1zM230.6 297.1h1.1v1.1h-1.1zM249.6 287.5h1.1v1.1h-1.1zM252.0 296.1h1.1v1.1h-1.1zM259.2 316.0h1.1v1.1h-1.1zM239.1 315.6h1.1v1.1h-1.1zM209.1 304.0h1.1v1.1h-1.1zM259.2 292.3h1.1v1.1h-1.1zM258.3 306.2h1.1v1.1h-1.1zM213.4 290.8h1.1v1.1h-1.1zM241.1 319.8h1.1v1.1h-1.1zM222.8 314.8h1.1v1.1h-1.1zM213.5 302.1h1.1v1.1h-1.1zM233.9 306.5h1.1v1.1h-1.1zM230.3 299.0h1.1v1.1h-1.1zM225.2 299.8h1.1v1.1h-1.1zM244.3 315.4h1.1v1.1h-1.1zM251.4 315.9h1.1v1.1h-1.1zM224.1 308.5h1.1v1.1h-1.1zM239.6 313.4h1.1v1.1h-1.1zM233.0 306.2h1.1v1.1h-1.1zM235.6 314.5h1.1v1.1h-1.1zM243.6 308.7h1.1v1.1h-1.1zM213.8 302.4h1.1v1.1h-1.1zM235.0 289.3h1.1v1.1h-1.1zM213.7 292.8h1.1v1.1h-1.1zM232.1 289.2h1.1v1.1h-1.1zM247.6 296.6h1.1v1.1h-1.1zM239.8 298.2h1.1v1.1h-1.1zM215.2 306.6h1.1v1.1h-1.1zM221.0 315.5h1.1v1.1h-1.1zM262.3 311.4h1.1v1.1h-1.1zM223.5 300.0h1.1v1.1h-1.1zM236.5 299.6h1.1v1.1h-1.1zM217.5 289.2h1.1v1.1h-1.1zM223.2 289.8h1.1v1.1h-1.1zM249.4 310.5h1.1v1.1h-1.1zM247.4 307.0h1.1v1.1h-1.1zM223.3 307.8h1.1v1.1h-1.1zM205.7 301.7h1.1v1.1h-1.1zM263.6 309.4h1.1v1.1h-1.1zM263.2 323.5h1.1v1.1h-1.1zM265.9 310.7h1.1v1.1h-1.1zM211.1 308.5h1.1v1.1h-1.1zM207.7 297.3h1.1v1.1h-1.1zM233.2 312.3h1.1v1.1h-1.1zM224.5 310.2h1.1v1.1h-1.1zM253.0 304.6h1.1v1.1h-1.1zM254.2 306.0h1.1v1.1h-1.1zM214.4 305.0h1.1v1.1h-1.1zM248.2 297.5h1.1v1.1h-1.1zM245.7 312.5h1.1v1.1h-1.1z" fill="#5a2c98"/>
<path d="M213.6 287.7h1.1v1.1h-1.1zM249.1 301.5h1.1v1.1h-1.1zM250.8 310.6h1.1v1.1h-1.1zM258.8 289.7h1.1v1.1h-1.1zM263.3 306.2h1.1v1.1h-1.1zM249.4 320.4h1.1v1.1h-1.1zM238.5 300.7h1.1v1.1h-1.1zM247.4 295.1h1.1v1.1h-1.1zM260.2 294.3h1.1v1.1h-1.1zM256.4 301.1h1.1v1.1h-1.1zM248.0 292.6h1.1v1.1h-1.1zM250.7 306.7h1.1v1.1h-1.1zM257.3 298.1h1.1v1.1h-1.1zM233.8 296.7h1.1v1.1h-1.1zM226.7 291.2h1.1v1.1h-1.1zM255.4 288.6h1.1v1.1h-1.1zM217.1 289.6h1.1v1.1h-1.1zM222.8 287.7h1.1v1.1h-1.1zM239.1 308.3h1.1v1.1h-1.1zM225.8 308.6h1.1v1.1h-1.1zM237.5 285.1h1.1v1.1h-1.1zM248.4 303.0h1.1v1.1h-1.1zM227.6 310.9h1.1v1.1h-1.1zM244.5 289.2h1.1v1.1h-1.1zM212.5 291.2h1.1v1.1h-1.1zM254.1 324.8h1.1v1.1h-1.1zM258.5 316.9h1.1v1.1h-1.1zM214.0 287.1h1.1v1.1h-1.1zM254.3 315.7h1.1v1.1h-1.1zM256.3 319.9h1.1v1.1h-1.1zM248.9 298.0h1.1v1.1h-1.1zM222.5 297.6h1.1v1.1h-1.1zM216.7 282.9h1.1v1.1h-1.1zM243.1 311.0h1.1v1.1h-1.1zM220.6 296.9h1.1v1.1h-1.1zM264.4 307.9h1.1v1.1h-1.1zM235.4 295.2h1.1v1.1h-1.1zM217.2 294.7h1.1v1.1h-1.1zM224.0 312.0h1.1v1.1h-1.1zM249.8 300.7h1.1v1.1h-1.1zM264.3 299.3h1.1v1.1h-1.1zM264.3 306.6h1.1v1.1h-1.1zM256.7 309.0h1.1v1.1h-1.1zM260.8 293.9h1.1v1.1h-1.1zM232.4 317.0h1.1v1.1h-1.1zM208.6 308.1h1.1v1.1h-1.1zM220.2 292.7h1.1v1.1h-1.1zM244.6 297.2h1.1v1.1h-1.1zM229.1 309.1h1.1v1.1h-1.1zM256.7 302.0h1.1v1.1h-1.1zM238.3 293.9h1.1v1.1h-1.1zM242.5 305.5h1.1v1.1h-1.1zM260.6 314.5h1.1v1.1h-1.1zM215.4 304.6h1.1v1.1h-1.1zM215.4 283.5h1.1v1.1h-1.1zM215.9 313.2h1.1v1.1h-1.1zM234.2 282.3h1.1v1.1h-1.1zM220.9 296.8h1.1v1.1h-1.1zM250.7 301.6h1.1v1.1h-1.1zM244.8 294.7h1.1v1.1h-1.1zM230.7 290.7h1.1v1.1h-1.1zM237.4 311.8h1.1v1.1h-1.1zM216.5 299.2h1.1v1.1h-1.1zM245.3 318.3h1.1v1.1h-1.1zM243.3 288.5h1.1v1.1h-1.1zM235.8 295.6h1.1v1.1h-1.1zM255.1 306.7h1.1v1.1h-1.1zM232.9 314.4h1.1v1.1h-1.1zM247.5 299.9h1.1v1.1h-1.1zM255.0 317.5h1.1v1.1h-1.1zM235.6 306.8h1.1v1.1h-1.1zM265.4 308.4h1.1v1.1h-1.1zM255.6 297.1h1.1v1.1h-1.1zM213.4 309.9h1.1v1.1h-1.1zM218.3 301.8h1.1v1.1h-1.1zM260.6 308.9h1.1v1.1h-1.1zM251.6 298.4h1.1v1.1h-1.1zM223.7 293.8h1.1v1.1h-1.1zM258.9 312.0h1.1v1.1h-1.1zM218.3 288.3h1.1v1.1h-1.1zM251.7 313.8h1.1v1.1h-1.1zM225.0 293.2h1.1v1.1h-1.1zM227.7 303.0h1.1v1.1h-1.1zM212.9 291.4h1.1v1.1h-1.1zM258.8 308.4h1.1v1.1h-1.1zM248.7 286.6h1.1v1.1h-1.1zM222.4 302.6h1.1v1.1h-1.1zM234.3 314.3h1.1v1.1h-1.1zM243.8 287.3h1.1v1.1h-1.1zM225.6 296.7h1.1v1.1h-1.1zM249.3 300.8h1.1v1.1h-1.1zM229.5 286.6h1.1v1.1h-1.1zM215.0 294.5h1.1v1.1h-1.1zM224.9 293.4h1.1v1.1h-1.1zM217.9 286.0h1.1v1.1h-1.1zM259.2 323.3h1.1v1.1h-1.1zM213.1 297.5h1.1v1.1h-1.1zM214.6 309.6h1.1v1.1h-1.1zM238.2 307.1h1.1v1.1h-1.1zM227.1 298.7h1.1v1.1h-1.1zM253.5 302.6h1.1v1.1h-1.1zM239.6 292.5h1.1v1.1h-1.1zM257.6 291.7h1.1v1.1h-1.1zM239.6 315.8h1.1v1.1h-1.1zM240.6 292.3h1.1v1.1h-1.1zM227.2 300.0h1.1v1.1h-1.1zM223.3 301.4h1.1v1.1h-1.1zM261.2 306.0h1.1v1.1h-1.1zM230.9 293.2h1.1v1.1h-1.1zM218.7 309.2h1.1v1.1h-1.1zM211.6 292.4h1.1v1.1h-1.1zM248.7 310.6h1.1v1.1h-1.1zM216.6 294.1h1.1v1.1h-1.1zM234.3 319.6h1.1v1.1h-1.1zM230.2 306.1h1.1v1.1h-1.1zM231.7 314.7h1.1v1.1h-1.1zM209.6 292.4h1.1v1.1h-1.1zM253.5 309.0h1.1v1.1h-1.1zM229.1 302.3h1.1v1.1h-1.1zM246.6 285.6h1.1v1.1h-1.1zM218.2 292.9h1.1v1.1h-1.1zM222.3 308.9h1.1v1.1h-1.1zM230.8 305.3h1.1v1.1h-1.1zM248.1 286.3h1.1v1.1h-1.1zM215.8 304.3h1.1v1.1h-1.1zM248.1 319.4h1.1v1.1h-1.1zM238.6 288.4h1.1v1.1h-1.1zM240.9 305.2h1.1v1.1h-1.1zM236.3 304.3h1.1v1.1h-1.1zM219.5 310.8h1.1v1.1h-1.1zM231.3 286.2h1.1v1.1h-1.1zM267.3 312.2h1.1v1.1h-1.1zM264.1 310.1h1.1v1.1h-1.1zM252.9 315.7h1.1v1.1h-1.1zM236.3 294.1h1.1v1.1h-1.1zM228.4 314.0h1.1v1.1h-1.1zM236.5 313.7h1.1v1.1h-1.1zM219.1 290.7h1.1v1.1h-1.1zM257.6 300.5h1.1v1.1h-1.1zM206.2 295.1h1.1v1.1h-1.1zM221.5 286.7h1.1v1.1h-1.1zM255.3 296.2h1.1v1.1h-1.1zM209.4 304.6h1.1v1.1h-1.1zM238.2 285.1h1.1v1.1h-1.1zM228.4 296.0h1.1v1.1h-1.1zM229.7 285.2h1.1v1.1h-1.1zM247.4 302.9h1.1v1.1h-1.1zM249.3 312.8h1.1v1.1h-1.1zM210.7 310.5h1.1v1.1h-1.1zM241.3 308.2h1.1v1.1h-1.1zM241.0 286.0h1.1v1.1h-1.1zM227.0 309.9h1.1v1.1h-1.1zM240.7 306.3h1.1v1.1h-1.1zM243.4 285.0h1.1v1.1h-1.1zM256.9 309.2h1.1v1.1h-1.1zM232.3 302.7h1.1v1.1h-1.1zM254.2 296.5h1.1v1.1h-1.1zM263.2 302.3h1.1v1.1h-1.1zM215.9 313.6h1.1v1.1h-1.1zM238.9 294.9h1.1v1.1h-1.1zM251.9 309.0h1.1v1.1h-1.1zM258.1 315.6h1.1v1.1h-1.1zM225.1 309.9h1.1v1.1h-1.1zM260.0 293.0h1.1v1.1h-1.1zM264.7 309.2h1.1v1.1h-1.1zM248.0 319.5h1.1v1.1h-1.1zM224.0 313.1h1.1v1.1h-1.1zM264.3 310.8h1.1v1.1h-1.1zM256.8 315.3h1.1v1.1h-1.1zM265.7 313.7h1.1v1.1h-1.1zM246.0 289.3h1.1v1.1h-1.1zM246.9 317.5h1.1v1.1h-1.1zM214.9 306.7h1.1v1.1h-1.1zM220.2 297.6h1.1v1.1h-1.1zM217.7 301.7h1.1v1.1h-1.1zM242.4 309.7h1.1v1.1h-1.1zM211.4 306.1h1.1v1.1h-1.1zM258.7 316.7h1.1v1.1h-1.1zM213.2 306.8h1.1v1.1h-1.1zM239.3 285.4h1.1v1.1h-1.1zM248.2 294.0h1.1v1.1h-1.1zM221.2 299.4h1.1v1.1h-1.1zM218.5 306.4h1.1v1.1h-1.1zM229.3 298.6h1.1v1.1h-1.1zM220.0 300.4h1.1v1.1h-1.1zM244.1 317.2h1.1v1.1h-1.1zM251.4 310.9h1.1v1.1h-1.1zM261.1 297.8h1.1v1.1h-1.1zM207.3 285.4h1.1v1.1h-1.1zM224.5 301.1h1.1v1.1h-1.1zM268.2 318.4h1.1v1.1h-1.1zM256.8 293.7h1.1v1.1h-1.1zM241.7 298.1h1.1v1.1h-1.1zM220.2 300.9h1.1v1.1h-1.1zM270.6 317.2h1.1v1.1h-1.1zM218.5 298.8h1.1v1.1h-1.1zM222.6 288.2h1.1v1.1h-1.1zM242.2 302.0h1.1v1.1h-1.1z" fill="#3c1273"/>
<path d="M262.0 301.5h1.1v1.1h-1.1zM212.0 307.4h1.1v1.1h-1.1zM226.6 297.4h1.1v1.1h-1.1zM238.1 293.3h1.1v1.1h-1.1zM242.9 306.0h1.1v1.1h-1.1zM250.3 284.4h1.1v1.1h-1.1zM236.1 314.8h1.1v1.1h-1.1zM264.4 322.2h1.1v1.1h-1.1zM239.5 295.4h1.1v1.1h-1.1zM246.6 303.5h1.1v1.1h-1.1zM227.3 294.6h1.1v1.1h-1.1zM253.9 295.5h1.1v1.1h-1.1zM239.0 288.6h1.1v1.1h-1.1zM264.7 317.5h1.1v1.1h-1.1zM237.9 287.3h1.1v1.1h-1.1zM227.8 287.0h1.1v1.1h-1.1zM231.8 286.0h1.1v1.1h-1.1zM247.3 313.2h1.1v1.1h-1.1zM231.1 303.1h1.1v1.1h-1.1zM211.8 290.4h1.1v1.1h-1.1zM200.5 297.2h1.1v1.1h-1.1zM254.2 288.1h1.1v1.1h-1.1zM240.4 310.3h1.1v1.1h-1.1zM219.6 305.7h1.1v1.1h-1.1zM252.1 308.5h1.1v1.1h-1.1zM231.7 314.6h1.1v1.1h-1.1zM202.1 300.6h1.1v1.1h-1.1zM233.3 300.0h1.1v1.1h-1.1zM221.3 294.0h1.1v1.1h-1.1zM244.9 299.4h1.1v1.1h-1.1zM226.1 308.1h1.1v1.1h-1.1zM231.6 284.0h1.1v1.1h-1.1zM212.5 311.7h1.1v1.1h-1.1zM245.8 302.8h1.1v1.1h-1.1zM252.3 305.0h1.1v1.1h-1.1zM222.8 286.4h1.1v1.1h-1.1zM256.7 291.8h1.1v1.1h-1.1zM230.2 316.1h1.1v1.1h-1.1zM242.0 283.1h1.1v1.1h-1.1zM266.1 320.2h1.1v1.1h-1.1zM218.2 294.3h1.1v1.1h-1.1zM216.6 310.6h1.1v1.1h-1.1zM258.2 310.3h1.1v1.1h-1.1zM224.9 317.5h1.1v1.1h-1.1zM229.1 305.0h1.1v1.1h-1.1zM243.3 292.0h1.1v1.1h-1.1zM263.3 320.8h1.1v1.1h-1.1zM206.2 300.0h1.1v1.1h-1.1zM216.4 292.8h1.1v1.1h-1.1zM210.0 295.1h1.1v1.1h-1.1zM252.9 296.5h1.1v1.1h-1.1zM215.6 300.6h1.1v1.1h-1.1zM214.9 297.6h1.1v1.1h-1.1zM235.6 285.7h1.1v1.1h-1.1zM246.7 313.9h1.1v1.1h-1.1zM243.3 299.7h1.1v1.1h-1.1zM226.1 315.1h1.1v1.1h-1.1zM225.8 300.8h1.1v1.1h-1.1zM241.5 311.6h1.1v1.1h-1.1zM253.1 290.6h1.1v1.1h-1.1zM261.5 303.6h1.1v1.1h-1.1zM218.5 314.1h1.1v1.1h-1.1zM253.2 306.3h1.1v1.1h-1.1zM243.2 292.2h1.1v1.1h-1.1zM241.4 290.0h1.1v1.1h-1.1zM215.2 302.0h1.1v1.1h-1.1zM228.5 306.4h1.1v1.1h-1.1zM264.5 319.1h1.1v1.1h-1.1zM247.3 282.5h1.1v1.1h-1.1zM256.7 314.2h1.1v1.1h-1.1zM252.2 304.9h1.1v1.1h-1.1zM245.9 286.5h1.1v1.1h-1.1zM211.1 304.0h1.1v1.1h-1.1zM246.4 317.5h1.1v1.1h-1.1zM264.9 323.4h1.1v1.1h-1.1zM240.3 315.2h1.1v1.1h-1.1zM217.8 292.7h1.1v1.1h-1.1zM247.0 302.4h1.1v1.1h-1.1zM259.3 307.5h1.1v1.1h-1.1zM226.6 284.5h1.1v1.1h-1.1zM239.0 295.5h1.1v1.1h-1.1zM266.7 315.7h1.1v1.1h-1.1zM251.3 300.6h1.1v1.1h-1.1zM217.4 309.8h1.1v1.1h-1.1zM206.4 304.3h1.1v1.1h-1.1zM256.2 318.4h1.1v1.1h-1.1zM209.4 302.5h1.1v1.1h-1.1zM218.2 295.4h1.1v1.1h-1.1zM215.0 305.2h1.1v1.1h-1.1zM238.8 305.4h1.1v1.1h-1.1zM238.1 303.5h1.1v1.1h-1.1zM229.8 291.8h1.1v1.1h-1.1zM259.3 316.1h1.1v1.1h-1.1zM247.7 292.6h1.1v1.1h-1.1zM230.4 315.9h1.1v1.1h-1.1zM248.9 313.7h1.1v1.1h-1.1zM207.3 296.2h1.1v1.1h-1.1zM258.1 300.8h1.1v1.1h-1.1zM222.7 311.0h1.1v1.1h-1.1zM252.3 297.1h1.1v1.1h-1.1zM223.8 296.8h1.1v1.1h-1.1zM262.5 314.8h1.1v1.1h-1.1zM229.2 305.2h1.1v1.1h-1.1zM213.9 306.5h1.1v1.1h-1.1zM234.5 291.4h1.1v1.1h-1.1zM239.1 292.2h1.1v1.1h-1.1zM241.4 294.7h1.1v1.1h-1.1zM260.3 327.3h1.1v1.1h-1.1zM220.5 295.9h1.1v1.1h-1.1zM228.7 304.1h1.1v1.1h-1.1zM222.6 286.1h1.1v1.1h-1.1zM214.0 296.5h1.1v1.1h-1.1zM256.3 292.5h1.1v1.1h-1.1zM212.2 300.8h1.1v1.1h-1.1zM234.2 288.1h1.1v1.1h-1.1zM218.2 300.0h1.1v1.1h-1.1zM254.6 292.8h1.1v1.1h-1.1zM257.4 292.0h1.1v1.1h-1.1zM231.6 309.9h1.1v1.1h-1.1zM250.7 309.9h1.1v1.1h-1.1zM243.1 301.7h1.1v1.1h-1.1zM250.1 294.4h1.1v1.1h-1.1zM252.7 317.0h1.1v1.1h-1.1zM226.3 296.3h1.1v1.1h-1.1zM233.5 305.9h1.1v1.1h-1.1zM252.6 321.6h1.1v1.1h-1.1zM239.7 296.9h1.1v1.1h-1.1zM227.3 313.3h1.1v1.1h-1.1zM236.1 298.0h1.1v1.1h-1.1zM249.1 298.7h1.1v1.1h-1.1zM249.3 315.0h1.1v1.1h-1.1zM265.4 322.2h1.1v1.1h-1.1zM209.1 307.7h1.1v1.1h-1.1zM246.0 289.2h1.1v1.1h-1.1zM239.5 290.3h1.1v1.1h-1.1zM231.1 284.8h1.1v1.1h-1.1zM241.3 314.3h1.1v1.1h-1.1zM264.5 306.1h1.1v1.1h-1.1zM239.2 308.9h1.1v1.1h-1.1zM209.7 292.9h1.1v1.1h-1.1zM260.7 295.9h1.1v1.1h-1.1zM224.7 300.0h1.1v1.1h-1.1zM228.3 312.1h1.1v1.1h-1.1zM230.9 284.9h1.1v1.1h-1.1zM262.3 303.3h1.1v1.1h-1.1zM232.0 298.8h1.1v1.1h-1.1zM249.2 313.9h1.1v1.1h-1.1zM228.5 288.9h1.1v1.1h-1.1zM214.1 311.4h1.1v1.1h-1.1zM245.8 318.7h1.1v1.1h-1.1zM239.0 317.5h1.1v1.1h-1.1zM228.2 290.9h1.1v1.1h-1.1zM248.1 295.3h1.1v1.1h-1.1zM253.9 305.9h1.1v1.1h-1.1zM242.4 292.3h1.1v1.1h-1.1zM206.3 296.0h1.1v1.1h-1.1zM214.5 304.8h1.1v1.1h-1.1zM250.7 320.5h1.1v1.1h-1.1zM270.8 320.6h1.1v1.1h-1.1zM247.4 287.5h1.1v1.1h-1.1zM232.3 295.1h1.1v1.1h-1.1zM234.5 316.3h1.1v1.1h-1.1zM243.3 291.0h1.1v1.1h-1.1zM229.1 311.7h1.1v1.1h-1.1zM247.9 297.2h1.1v1.1h-1.1zM237.3 306.8h1.1v1.1h-1.1zM256.2 307.3h1.1v1.1h-1.1zM240.0 307.4h1.1v1.1h-1.1zM245.1 297.7h1.1v1.1h-1.1zM230.5 300.9h1.1v1.1h-1.1zM251.9 291.8h1.1v1.1h-1.1zM227.1 310.0h1.1v1.1h-1.1zM237.4 295.3h1.1v1.1h-1.1zM216.1 296.0h1.1v1.1h-1.1zM221.9 287.9h1.1v1.1h-1.1zM221.5 291.9h1.1v1.1h-1.1zM233.1 285.1h1.1v1.1h-1.1zM261.9 308.6h1.1v1.1h-1.1zM234.3 312.1h1.1v1.1h-1.1zM260.1 312.9h1.1v1.1h-1.1zM220.2 296.5h1.1v1.1h-1.1zM214.8 288.1h1.1v1.1h-1.1zM217.9 302.6h1.1v1.1h-1.1zM259.0 306.8h1.1v1.1h-1.1zM261.9 302.8h1.1v1.1h-1.1zM229.4 296.6h1.1v1.1h-1.1zM221.4 306.1h1.1v1.1h-1.1zM235.7 301.4h1.1v1.1h-1.1zM205.8 297.5h1.1v1.1h-1.1zM245.4 308.7h1.1v1.1h-1.1zM265.3 322.7h1.1v1.1h-1.1zM242.7 313.9h1.1v1.1h-1.1zM206.7 304.7h1.1v1.1h-1.1zM241.7 288.0h1.1v1.1h-1.1zM247.0 305.1h1.1v1.1h-1.1zM256.2 303.3h1.1v1.1h-1.1zM243.2 291.4h1.1v1.1h-1.1zM241.9 302.3h1.1v1.1h-1.1zM254.8 299.2h1.1v1.1h-1.1zM213.9 311.4h1.1v1.1h-1.1z" fill="#5a3a90"/>
<path d="M209.0 291.2h1.1v1.1h-1.1zM228.4 295.0h1.1v1.1h-1.1zM240.7 304.9h1.1v1.1h-1.1zM240.1 283.4h1.1v1.1h-1.1zM241.2 313.0h1.1v1.1h-1.1zM209.9 308.3h1.1v1.1h-1.1zM238.4 317.1h1.1v1.1h-1.1zM215.4 291.8h1.1v1.1h-1.1zM228.5 312.2h1.1v1.1h-1.1zM259.1 313.6h1.1v1.1h-1.1zM229.8 284.1h1.1v1.1h-1.1zM216.3 296.5h1.1v1.1h-1.1zM238.4 292.8h1.1v1.1h-1.1zM238.0 311.9h1.1v1.1h-1.1zM253.4 319.2h1.1v1.1h-1.1zM214.2 294.2h1.1v1.1h-1.1zM253.4 301.2h1.1v1.1h-1.1zM231.5 296.5h1.1v1.1h-1.1zM231.3 302.2h1.1v1.1h-1.1zM254.7 320.2h1.1v1.1h-1.1zM245.2 285.1h1.1v1.1h-1.1zM256.5 319.7h1.1v1.1h-1.1zM250.4 309.7h1.1v1.1h-1.1zM266.2 314.4h1.1v1.1h-1.1zM214.6 313.4h1.1v1.1h-1.1zM235.9 287.3h1.1v1.1h-1.1zM263.9 312.8h1.1v1.1h-1.1zM233.2 283.2h1.1v1.1h-1.1zM240.8 285.1h1.1v1.1h-1.1zM225.7 291.9h1.1v1.1h-1.1zM232.9 293.0h1.1v1.1h-1.1zM251.6 302.7h1.1v1.1h-1.1zM251.9 317.6h1.1v1.1h-1.1zM221.4 311.6h1.1v1.1h-1.1zM221.0 313.6h1.1v1.1h-1.1zM232.6 310.8h1.1v1.1h-1.1zM259.1 312.2h1.1v1.1h-1.1zM240.1 296.5h1.1v1.1h-1.1zM217.9 293.4h1.1v1.1h-1.1zM218.3 308.2h1.1v1.1h-1.1zM263.2 304.1h1.1v1.1h-1.1zM260.4 310.4h1.1v1.1h-1.1zM222.1 286.4h1.1v1.1h-1.1zM266.7 320.3h1.1v1.1h-1.1zM239.4 287.3h1.1v1.1h-1.1zM236.2 295.8h1.1v1.1h-1.1zM257.0 294.6h1.1v1.1h-1.1zM249.6 318.1h1.1v1.1h-1.1zM240.7 310.6h1.1v1.1h-1.1zM209.7 306.2h1.1v1.1h-1.1zM255.2 313.3h1.1v1.1h-1.1zM219.3 301.1h1.1v1.1h-1.1zM216.4 298.1h1.1v1.1h-1.1zM215.1 297.4h1.1v1.1h-1.1zM258.1 296.3h1.1v1.1h-1.1zM259.7 315.5h1.1v1.1h-1.1zM250.7 293.4h1.1v1.1h-1.1zM245.8 310.8h1.1v1.1h-1.1zM219.4 287.3h1.1v1.1h-1.1zM250.5 293.1h1.1v1.1h-1.1zM227.5 286.1h1.1v1.1h-1.1zM253.5 312.6h1.1v1.1h-1.1zM249.4 307.2h1.1v1.1h-1.1zM262.3 302.3h1.1v1.1h-1.1zM238.0 310.8h1.1v1.1h-1.1zM250.7 298.3h1.1v1.1h-1.1zM241.8 312.6h1.1v1.1h-1.1zM211.4 309.5h1.1v1.1h-1.1zM207.3 296.6h1.1v1.1h-1.1zM233.2 313.3h1.1v1.1h-1.1zM244.6 316.5h1.1v1.1h-1.1zM219.4 300.9h1.1v1.1h-1.1zM249.9 316.3h1.1v1.1h-1.1zM235.7 301.5h1.1v1.1h-1.1zM254.5 300.5h1.1v1.1h-1.1zM256.6 303.9h1.1v1.1h-1.1zM214.8 287.3h1.1v1.1h-1.1zM221.6 294.4h1.1v1.1h-1.1zM215.2 286.6h1.1v1.1h-1.1zM267.2 320.7h1.1v1.1h-1.1zM232.9 292.8h1.1v1.1h-1.1zM235.9 297.2h1.1v1.1h-1.1zM231.5 285.2h1.1v1.1h-1.1zM239.2 296.5h1.1v1.1h-1.1zM218.5 285.6h1.1v1.1h-1.1zM238.4 310.2h1.1v1.1h-1.1zM243.4 295.8h1.1v1.1h-1.1zM227.8 298.5h1.1v1.1h-1.1zM247.9 295.5h1.1v1.1h-1.1zM219.8 295.8h1.1v1.1h-1.1zM234.2 294.0h1.1v1.1h-1.1zM247.7 309.4h1.1v1.1h-1.1zM252.1 303.3h1.1v1.1h-1.1zM252.3 316.3h1.1v1.1h-1.1zM264.9 310.3h1.1v1.1h-1.1zM238.8 300.7h1.1v1.1h-1.1zM211.0 305.1h1.1v1.1h-1.1zM255.1 318.8h1.1v1.1h-1.1zM251.7 297.4h1.1v1.1h-1.1zM210.1 291.0h1.1v1.1h-1.1zM210.2 292.6h1.1v1.1h-1.1zM238.1 297.3h1.1v1.1h-1.1zM242.8 313.3h1.1v1.1h-1.1zM240.7 290.5h1.1v1.1h-1.1zM224.4 306.6h1.1v1.1h-1.1zM257.3 307.7h1.1v1.1h-1.1zM227.2 310.4h1.1v1.1h-1.1zM256.4 314.5h1.1v1.1h-1.1zM241.2 291.6h1.1v1.1h-1.1zM243.4 318.8h1.1v1.1h-1.1zM222.3 313.7h1.1v1.1h-1.1zM217.6 291.8h1.1v1.1h-1.1zM233.8 304.1h1.1v1.1h-1.1zM244.2 302.3h1.1v1.1h-1.1zM234.3 304.3h1.1v1.1h-1.1zM257.8 312.4h1.1v1.1h-1.1zM267.3 310.7h1.1v1.1h-1.1zM240.0 314.3h1.1v1.1h-1.1zM226.7 291.3h1.1v1.1h-1.1zM262.9 317.0h1.1v1.1h-1.1zM228.0 287.6h1.1v1.1h-1.1zM256.9 305.6h1.1v1.1h-1.1zM208.9 300.0h1.1v1.1h-1.1zM253.7 317.5h1.1v1.1h-1.1zM227.9 312.4h1.1v1.1h-1.1zM246.7 308.7h1.1v1.1h-1.1zM226.1 303.7h1.1v1.1h-1.1zM248.1 294.7h1.1v1.1h-1.1zM215.4 296.7h1.1v1.1h-1.1zM237.2 309.8h1.1v1.1h-1.1zM265.3 313.0h1.1v1.1h-1.1zM232.5 312.3h1.1v1.1h-1.1zM238.6 314.3h1.1v1.1h-1.1zM253.0 295.8h1.1v1.1h-1.1zM244.0 313.7h1.1v1.1h-1.1zM229.1 313.4h1.1v1.1h-1.1zM209.8 297.8h1.1v1.1h-1.1zM264.1 301.7h1.1v1.1h-1.1zM252.0 293.0h1.1v1.1h-1.1zM245.0 298.5h1.1v1.1h-1.1zM244.7 316.8h1.1v1.1h-1.1zM225.4 288.9h1.1v1.1h-1.1zM238.2 316.0h1.1v1.1h-1.1zM235.7 299.7h1.1v1.1h-1.1zM234.1 310.8h1.1v1.1h-1.1zM252.8 295.8h1.1v1.1h-1.1zM244.8 300.1h1.1v1.1h-1.1zM216.4 286.1h1.1v1.1h-1.1zM243.8 310.6h1.1v1.1h-1.1zM267.3 295.9h1.1v1.1h-1.1zM210.0 290.2h1.1v1.1h-1.1zM209.4 301.8h1.1v1.1h-1.1zM232.9 316.0h1.1v1.1h-1.1zM216.7 312.8h1.1v1.1h-1.1zM260.9 304.2h1.1v1.1h-1.1zM246.7 303.3h1.1v1.1h-1.1zM246.4 312.7h1.1v1.1h-1.1zM260.4 316.1h1.1v1.1h-1.1zM241.3 285.5h1.1v1.1h-1.1zM252.4 285.5h1.1v1.1h-1.1zM239.4 306.2h1.1v1.1h-1.1zM210.5 303.0h1.1v1.1h-1.1z" fill="#4a1b86"/>
<path d="M265.7 307.5h1.1v1.1h-1.1zM234.6 288.6h1.1v1.1h-1.1zM256.9 291.1h1.1v1.1h-1.1zM208.6 286.9h1.1v1.1h-1.1zM247.4 287.8h1.1v1.1h-1.1zM222.7 307.0h1.1v1.1h-1.1zM231.2 308.4h1.1v1.1h-1.1zM234.8 295.4h1.1v1.1h-1.1zM244.2 314.0h1.1v1.1h-1.1zM250.7 296.5h1.1v1.1h-1.1zM246.2 304.4h1.1v1.1h-1.1zM223.7 300.4h1.1v1.1h-1.1zM230.5 300.0h1.1v1.1h-1.1zM227.0 286.1h1.1v1.1h-1.1zM208.9 290.5h1.1v1.1h-1.1zM222.6 292.0h1.1v1.1h-1.1zM241.3 292.7h1.1v1.1h-1.1zM258.2 313.4h1.1v1.1h-1.1zM247.3 294.6h1.1v1.1h-1.1zM216.1 311.1h1.1v1.1h-1.1zM228.0 295.1h1.1v1.1h-1.1zM226.2 310.0h1.1v1.1h-1.1zM258.3 288.3h1.1v1.1h-1.1zM242.5 302.7h1.1v1.1h-1.1zM262.5 326.5h1.1v1.1h-1.1zM265.6 318.3h1.1v1.1h-1.1zM216.7 305.1h1.1v1.1h-1.1zM268.7 311.7h1.1v1.1h-1.1zM230.5 313.3h1.1v1.1h-1.1zM246.4 300.0h1.1v1.1h-1.1zM256.3 314.3h1.1v1.1h-1.1zM225.3 286.8h1.1v1.1h-1.1zM239.8 316.6h1.1v1.1h-1.1zM255.3 297.2h1.1v1.1h-1.1zM247.1 315.9h1.1v1.1h-1.1zM219.8 301.2h1.1v1.1h-1.1zM247.9 316.7h1.1v1.1h-1.1zM263.4 318.1h1.1v1.1h-1.1zM228.6 314.2h1.1v1.1h-1.1zM250.4 320.5h1.1v1.1h-1.1zM226.2 306.0h1.1v1.1h-1.1zM252.5 293.5h1.1v1.1h-1.1zM227.6 307.4h1.1v1.1h-1.1zM263.0 319.4h1.1v1.1h-1.1zM221.9 291.1h1.1v1.1h-1.1zM220.6 301.8h1.1v1.1h-1.1zM243.8 308.9h1.1v1.1h-1.1zM265.2 326.1h1.1v1.1h-1.1zM229.3 313.1h1.1v1.1h-1.1zM218.5 285.6h1.1v1.1h-1.1zM226.7 294.4h1.1v1.1h-1.1zM263.3 303.7h1.1v1.1h-1.1zM251.9 319.0h1.1v1.1h-1.1zM253.3 296.2h1.1v1.1h-1.1zM226.8 304.4h1.1v1.1h-1.1zM210.8 306.0h1.1v1.1h-1.1zM252.1 294.7h1.1v1.1h-1.1zM253.5 290.1h1.1v1.1h-1.1zM213.0 291.1h1.1v1.1h-1.1zM212.7 287.7h1.1v1.1h-1.1zM209.8 300.5h1.1v1.1h-1.1zM212.9 285.6h1.1v1.1h-1.1zM225.5 290.0h1.1v1.1h-1.1zM221.6 317.0h1.1v1.1h-1.1zM225.8 310.4h1.1v1.1h-1.1zM237.9 310.6h1.1v1.1h-1.1zM264.7 313.4h1.1v1.1h-1.1zM253.7 303.4h1.1v1.1h-1.1zM254.0 300.9h1.1v1.1h-1.1zM226.9 289.2h1.1v1.1h-1.1zM251.4 317.2h1.1v1.1h-1.1zM264.4 321.1h1.1v1.1h-1.1zM227.3 288.8h1.1v1.1h-1.1zM256.5 308.0h1.1v1.1h-1.1zM257.2 304.5h1.1v1.1h-1.1zM254.5 301.9h1.1v1.1h-1.1zM220.8 286.2h1.1v1.1h-1.1zM228.7 301.8h1.1v1.1h-1.1zM246.7 289.5h1.1v1.1h-1.1zM216.6 303.9h1.1v1.1h-1.1zM265.2 314.2h1.1v1.1h-1.1zM210.2 309.1h1.1v1.1h-1.1zM249.7 315.4h1.1v1.1h-1.1zM251.7 287.4h1.1v1.1h-1.1zM234.7 299.5h1.1v1.1h-1.1zM242.8 289.6h1.1v1.1h-1.1zM237.7 294.7h1.1v1.1h-1.1zM243.5 287.1h1.1v1.1h-1.1zM255.7 294.9h1.1v1.1h-1.1zM255.2 295.7h1.1v1.1h-1.1zM260.8 319.9h1.1v1.1h-1.1zM244.6 304.4h1.1v1.1h-1.1zM260.9 322.2h1.1v1.1h-1.1zM245.0 293.2h1.1v1.1h-1.1zM249.5 288.9h1.1v1.1h-1.1zM238.1 313.1h1.1v1.1h-1.1zM222.0 307.1h1.1v1.1h-1.1zM234.1 287.0h1.1v1.1h-1.1zM225.7 314.5h1.1v1.1h-1.1zM262.6 314.4h1.1v1.1h-1.1zM257.8 291.0h1.1v1.1h-1.1zM243.3 311.1h1.1v1.1h-1.1zM210.4 305.9h1.1v1.1h-1.1zM245.2 310.1h1.1v1.1h-1.1zM216.9 303.7h1.1v1.1h-1.1zM247.5 301.5h1.1v1.1h-1.1zM263.6 304.3h1.1v1.1h-1.1zM269.7 326.0h1.1v1.1h-1.1zM250.4 313.5h1.1v1.1h-1.1zM210.3 293.6h1.1v1.1h-1.1zM207.6 299.0h1.1v1.1h-1.1zM222.7 296.7h1.1v1.1h-1.1zM229.9 301.4h1.1v1.1h-1.1zM209.4 303.9h1.1v1.1h-1.1zM219.4 299.0h1.1v1.1h-1.1zM258.3 308.4h1.1v1.1h-1.1zM236.1 299.6h1.1v1.1h-1.1zM236.2 291.8h1.1v1.1h-1.1zM236.1 297.0h1.1v1.1h-1.1zM251.0 311.7h1.1v1.1h-1.1zM255.9 300.4h1.1v1.1h-1.1zM240.5 295.1h1.1v1.1h-1.1zM271.6 316.1h1.1v1.1h-1.1zM260.6 309.0h1.1v1.1h-1.1zM255.7 293.1h1.1v1.1h-1.1zM230.3 311.8h1.1v1.1h-1.1zM231.4 285.6h1.1v1.1h-1.1zM220.4 313.0h1.1v1.1h-1.1zM210.5 295.4h1.1v1.1h-1.1zM231.8 299.9h1.1v1.1h-1.1zM222.0 306.7h1.1v1.1h-1.1zM235.3 317.2h1.1v1.1h-1.1zM226.8 314.9h1.1v1.1h-1.1zM248.8 295.8h1.1v1.1h-1.1zM244.0 311.0h1.1v1.1h-1.1zM229.1 285.8h1.1v1.1h-1.1zM253.1 296.8h1.1v1.1h-1.1zM230.6 300.6h1.1v1.1h-1.1zM257.3 312.5h1.1v1.1h-1.1zM249.5 285.9h1.1v1.1h-1.1zM257.0 306.1h1.1v1.1h-1.1zM244.9 311.2h1.1v1.1h-1.1zM236.1 291.4h1.1v1.1h-1.1zM258.1 302.7h1.1v1.1h-1.1zM239.8 311.6h1.1v1.1h-1.1zM216.3 314.0h1.1v1.1h-1.1zM221.0 310.2h1.1v1.1h-1.1zM234.0 306.4h1.1v1.1h-1.1zM258.1 313.4h1.1v1.1h-1.1zM223.9 307.8h1.1v1.1h-1.1zM237.7 299.3h1.1v1.1h-1.1zM250.8 320.4h1.1v1.1h-1.1zM209.5 302.2h1.1v1.1h-1.1zM245.5 286.2h1.1v1.1h-1.1zM250.5 295.0h1.1v1.1h-1.1zM251.0 289.5h1.1v1.1h-1.1zM254.1 299.5h1.1v1.1h-1.1zM231.9 313.5h1.1v1.1h-1.1zM219.7 313.5h1.1v1.1h-1.1zM223.8 312.7h1.1v1.1h-1.1zM222.6 304.0h1.1v1.1h-1.1zM212.6 300.3h1.1v1.1h-1.1zM257.6 292.0h1.1v1.1h-1.1zM223.8 307.0h1.1v1.1h-1.1zM241.2 311.4h1.1v1.1h-1.1zM238.2 290.3h1.1v1.1h-1.1zM236.7 309.7h1.1v1.1h-1.1zM225.5 311.9h1.1v1.1h-1.1zM244.2 303.9h1.1v1.1h-1.1zM253.8 318.5h1.1v1.1h-1.1zM238.8 310.1h1.1v1.1h-1.1zM215.5 309.6h1.1v1.1h-1.1zM231.0 315.6h1.1v1.1h-1.1zM265.0 306.1h1.1v1.1h-1.1zM237.5 303.6h1.1v1.1h-1.1zM212.5 316.7h1.1v1.1h-1.1zM214.7 299.3h1.1v1.1h-1.1zM244.1 287.2h1.1v1.1h-1.1zM244.5 304.7h1.1v1.1h-1.1zM240.8 316.7h1.1v1.1h-1.1zM254.0 303.7h1.1v1.1h-1.1zM238.4 299.8h1.1v1.1h-1.1zM228.2 305.5h1.1v1.1h-1.1zM218.2 296.4h1.1v1.1h-1.1zM226.7 315.6h1.1v1.1h-1.1zM258.8 307.2h1.1v1.1h-1.1zM215.3 293.0h1.1v1.1h-1.1zM245.9 301.9h1.1v1.1h-1.1zM253.2 299.4h1.1v1.1h-1.1zM255.8 307.6h1.1v1.1h-1.1zM253.0 319.0h1.1v1.1h-1.1zM262.5 313.1h1.1v1.1h-1.1zM224.3 293.0h1.1v1.1h-1.1zM249.5 303.0h1.1v1.1h-1.1zM231.5 306.2h1.1v1.1h-1.1zM245.1 310.8h1.1v1.1h-1.1zM248.4 311.6h1.1v1.1h-1.1zM257.7 307.8h1.1v1.1h-1.1zM221.6 304.8h1.1v1.1h-1.1z" fill="#2a0852"/>
<path d="M237.1 315.6h1.1v1.1h-1.1zM220.4 293.1h1.1v1.1h-1.1zM217.0 301.6h1.1v1.1h-1.1zM224.8 302.8h1.1v1.1h-1.1zM256.4 295.2h1.1v1.1h-1.1zM264.3 306.3h1.1v1.1h-1.1zM228.5 289.9h1.1v1.1h-1.1zM248.0 310.3h1.1v1.1h-1.1zM234.9 308.9h1.1v1.1h-1.1zM260.6 297.5h1.1v1.1h-1.1zM215.3 304.3h1.1v1.1h-1.1zM220.5 298.0h1.1v1.1h-1.1zM231.6 305.2h1.1v1.1h-1.1zM214.8 301.8h1.1v1.1h-1.1zM234.2 302.8h1.1v1.1h-1.1zM229.4 306.1h1.1v1.1h-1.1zM217.3 301.4h1.1v1.1h-1.1zM245.8 308.3h1.1v1.1h-1.1zM213.3 304.9h1.1v1.1h-1.1zM229.7 281.7h1.1v1.1h-1.1zM229.2 286.4h1.1v1.1h-1.1zM220.2 309.9h1.1v1.1h-1.1zM259.5 303.5h1.1v1.1h-1.1zM247.7 306.5h1.1v1.1h-1.1zM234.2 300.4h1.1v1.1h-1.1zM215.5 306.7h1.1v1.1h-1.1zM255.6 305.1h1.1v1.1h-1.1zM233.3 293.0h1.1v1.1h-1.1zM208.4 308.3h1.1v1.1h-1.1zM260.6 311.0h1.1v1.1h-1.1zM225.1 305.2h1.1v1.1h-1.1zM251.5 307.2h1.1v1.1h-1.1zM221.6 304.6h1.1v1.1h-1.1zM263.5 321.9h1.1v1.1h-1.1zM207.2 293.3h1.1v1.1h-1.1zM240.9 296.7h1.1v1.1h-1.1zM245.9 286.5h1.1v1.1h-1.1zM254.0 310.8h1.1v1.1h-1.1zM260.5 316.1h1.1v1.1h-1.1zM257.5 315.2h1.1v1.1h-1.1zM250.1 299.0h1.1v1.1h-1.1zM227.7 304.6h1.1v1.1h-1.1zM236.3 295.9h1.1v1.1h-1.1zM228.9 303.5h1.1v1.1h-1.1zM251.0 287.7h1.1v1.1h-1.1zM251.9 288.1h1.1v1.1h-1.1zM249.6 317.2h1.1v1.1h-1.1zM257.9 307.4h1.1v1.1h-1.1zM271.3 313.8h1.1v1.1h-1.1zM208.9 304.7h1.1v1.1h-1.1zM215.6 306.0h1.1v1.1h-1.1zM209.1 301.6h1.1v1.1h-1.1zM221.0 301.9h1.1v1.1h-1.1zM217.6 303.8h1.1v1.1h-1.1zM212.2 307.9h1.1v1.1h-1.1zM207.3 309.7h1.1v1.1h-1.1zM240.7 309.0h1.1v1.1h-1.1zM255.9 297.1h1.1v1.1h-1.1zM221.0 295.1h1.1v1.1h-1.1zM234.2 302.8h1.1v1.1h-1.1zM222.1 314.9h1.1v1.1h-1.1zM248.2 321.2h1.1v1.1h-1.1zM245.7 288.8h1.1v1.1h-1.1zM239.8 296.7h1.1v1.1h-1.1zM229.0 290.6h1.1v1.1h-1.1zM247.0 287.7h1.1v1.1h-1.1zM250.4 289.2h1.1v1.1h-1.1zM238.8 316.9h1.1v1.1h-1.1zM232.0 288.4h1.1v1.1h-1.1zM214.3 310.2h1.1v1.1h-1.1zM246.9 300.7h1.1v1.1h-1.1zM223.0 293.6h1.1v1.1h-1.1zM258.0 298.1h1.1v1.1h-1.1zM256.8 316.7h1.1v1.1h-1.1zM254.8 297.3h1.1v1.1h-1.1zM233.5 306.2h1.1v1.1h-1.1zM242.2 318.1h1.1v1.1h-1.1zM226.4 291.7h1.1v1.1h-1.1zM219.0 314.4h1.1v1.1h-1.1zM250.5 306.9h1.1v1.1h-1.1zM245.6 290.0h1.1v1.1h-1.1zM262.1 294.4h1.1v1.1h-1.1zM209.0 307.6h1.1v1.1h-1.1zM229.6 301.2h1.1v1.1h-1.1zM236.9 286.6h1.1v1.1h-1.1zM239.3 306.4h1.1v1.1h-1.1zM240.5 286.2h1.1v1.1h-1.1zM226.8 290.3h1.1v1.1h-1.1zM246.4 310.2h1.1v1.1h-1.1zM214.0 295.4h1.1v1.1h-1.1zM233.5 303.2h1.1v1.1h-1.1zM222.0 292.5h1.1v1.1h-1.1zM252.0 317.3h1.1v1.1h-1.1zM228.9 298.9h1.1v1.1h-1.1zM207.6 302.0h1.1v1.1h-1.1zM238.1 299.8h1.1v1.1h-1.1zM211.7 299.7h1.1v1.1h-1.1zM264.1 310.3h1.1v1.1h-1.1zM222.4 296.3h1.1v1.1h-1.1zM225.9 302.0h1.1v1.1h-1.1zM216.9 286.2h1.1v1.1h-1.1zM234.8 307.6h1.1v1.1h-1.1zM242.2 287.8h1.1v1.1h-1.1zM245.1 294.9h1.1v1.1h-1.1zM236.0 292.7h1.1v1.1h-1.1zM244.0 303.6h1.1v1.1h-1.1zM212.3 309.4h1.1v1.1h-1.1zM260.9 297.2h1.1v1.1h-1.1zM229.3 303.0h1.1v1.1h-1.1zM233.6 287.4h1.1v1.1h-1.1zM234.4 311.3h1.1v1.1h-1.1zM233.2 295.1h1.1v1.1h-1.1zM237.5 308.1h1.1v1.1h-1.1zM227.4 289.1h1.1v1.1h-1.1zM218.0 294.1h1.1v1.1h-1.1zM249.6 292.5h1.1v1.1h-1.1zM230.2 288.2h1.1v1.1h-1.1zM264.8 321.1h1.1v1.1h-1.1zM231.6 303.9h1.1v1.1h-1.1zM250.4 317.5h1.1v1.1h-1.1zM224.7 286.0h1.1v1.1h-1.1zM261.7 304.3h1.1v1.1h-1.1zM236.6 311.9h1.1v1.1h-1.1zM206.7 300.6h1.1v1.1h-1.1zM264.5 304.7h1.1v1.1h-1.1zM250.9 322.0h1.1v1.1h-1.1zM250.6 302.2h1.1v1.1h-1.1zM262.6 311.1h1.1v1.1h-1.1zM242.2 322.2h1.1v1.1h-1.1zM200.4 293.6h1.1v1.1h-1.1zM244.2 304.9h1.1v1.1h-1.1zM251.2 321.7h1.1v1.1h-1.1zM227.3 293.9h1.1v1.1h-1.1zM229.3 292.5h1.1v1.1h-1.1zM242.8 298.0h1.1v1.1h-1.1zM227.7 314.5h1.1v1.1h-1.1zM241.3 291.3h1.1v1.1h-1.1zM221.8 293.3h1.1v1.1h-1.1zM237.3 281.8h1.1v1.1h-1.1zM212.7 310.5h1.1v1.1h-1.1zM255.9 315.6h1.1v1.1h-1.1zM219.7 293.8h1.1v1.1h-1.1zM224.5 290.6h1.1v1.1h-1.1zM260.0 293.1h1.1v1.1h-1.1zM238.0 306.4h1.1v1.1h-1.1zM247.9 297.9h1.1v1.1h-1.1zM241.7 304.7h1.1v1.1h-1.1zM245.9 304.6h1.1v1.1h-1.1zM235.4 289.1h1.1v1.1h-1.1zM229.0 301.8h1.1v1.1h-1.1zM207.4 304.9h1.1v1.1h-1.1zM249.1 299.0h1.1v1.1h-1.1zM251.3 316.7h1.1v1.1h-1.1zM247.0 301.4h1.1v1.1h-1.1zM250.3 300.3h1.1v1.1h-1.1zM234.1 307.2h1.1v1.1h-1.1zM245.5 306.6h1.1v1.1h-1.1zM224.5 314.8h1.1v1.1h-1.1zM245.9 308.3h1.1v1.1h-1.1zM235.8 312.2h1.1v1.1h-1.1zM215.8 286.7h1.1v1.1h-1.1zM219.2 309.7h1.1v1.1h-1.1zM228.6 304.8h1.1v1.1h-1.1zM253.0 291.5h1.1v1.1h-1.1zM217.6 311.3h1.1v1.1h-1.1zM237.3 293.2h1.1v1.1h-1.1zM227.6 287.8h1.1v1.1h-1.1z" fill="#2e0a5e"/>
<path d="M248.3 308.7h1.1v1.1h-1.1zM221.1 302.1h1.1v1.1h-1.1zM253.7 315.1h1.1v1.1h-1.1zM251.5 299.2h1.1v1.1h-1.1zM224.7 300.4h1.1v1.1h-1.1zM253.0 326.6h1.1v1.1h-1.1zM247.6 287.6h1.1v1.1h-1.1zM230.3 312.3h1.1v1.1h-1.1zM255.2 284.7h1.1v1.1h-1.1zM224.5 287.2h1.1v1.1h-1.1zM238.8 304.8h1.1v1.1h-1.1zM227.3 307.5h1.1v1.1h-1.1zM255.0 312.0h1.1v1.1h-1.1zM259.3 318.0h1.1v1.1h-1.1zM223.9 285.3h1.1v1.1h-1.1zM251.8 302.2h1.1v1.1h-1.1zM243.1 303.4h1.1v1.1h-1.1zM232.1 304.8h1.1v1.1h-1.1zM228.6 320.7h1.1v1.1h-1.1zM220.5 290.6h1.1v1.1h-1.1zM262.0 322.9h1.1v1.1h-1.1zM216.2 291.7h1.1v1.1h-1.1zM254.8 296.5h1.1v1.1h-1.1zM228.4 290.5h1.1v1.1h-1.1zM226.8 299.7h1.1v1.1h-1.1zM258.2 301.1h1.1v1.1h-1.1zM233.7 288.3h1.1v1.1h-1.1zM246.0 310.9h1.1v1.1h-1.1zM248.3 295.1h1.1v1.1h-1.1zM246.6 322.4h1.1v1.1h-1.1zM228.2 293.5h1.1v1.1h-1.1zM209.1 289.7h1.1v1.1h-1.1zM221.8 285.9h1.1v1.1h-1.1zM255.7 289.6h1.1v1.1h-1.1zM236.3 294.5h1.1v1.1h-1.1zM250.1 297.7h1.1v1.1h-1.1zM242.6 310.2h1.1v1.1h-1.1zM238.4 290.1h1.1v1.1h-1.1zM222.5 318.8h1.1v1.1h-1.1zM259.5 306.0h1.1v1.1h-1.1zM249.6 309.6h1.1v1.1h-1.1zM251.0 297.7h1.1v1.1h-1.1zM207.2 303.1h1.1v1.1h-1.1zM264.2 314.7h1.1v1.1h-1.1zM243.9 293.4h1.1v1.1h-1.1zM235.3 290.5h1.1v1.1h-1.1zM211.8 301.3h1.1v1.1h-1.1zM253.1 302.8h1.1v1.1h-1.1zM224.3 306.4h1.1v1.1h-1.1zM220.2 287.3h1.1v1.1h-1.1zM234.8 291.3h1.1v1.1h-1.1zM256.8 300.6h1.1v1.1h-1.1zM265.6 313.0h1.1v1.1h-1.1zM221.1 297.2h1.1v1.1h-1.1zM246.8 296.8h1.1v1.1h-1.1zM235.1 292.6h1.1v1.1h-1.1zM250.3 289.1h1.1v1.1h-1.1zM236.9 300.0h1.1v1.1h-1.1zM253.9 292.5h1.1v1.1h-1.1zM244.2 311.2h1.1v1.1h-1.1zM225.4 291.2h1.1v1.1h-1.1zM230.7 295.2h1.1v1.1h-1.1zM232.0 314.9h1.1v1.1h-1.1zM228.7 311.1h1.1v1.1h-1.1zM244.3 304.2h1.1v1.1h-1.1zM238.0 306.6h1.1v1.1h-1.1zM261.4 308.1h1.1v1.1h-1.1zM270.9 314.5h1.1v1.1h-1.1zM238.5 306.6h1.1v1.1h-1.1zM246.9 299.3h1.1v1.1h-1.1zM263.3 319.2h1.1v1.1h-1.1zM245.2 314.1h1.1v1.1h-1.1zM256.3 322.2h1.1v1.1h-1.1zM244.4 316.3h1.1v1.1h-1.1zM223.9 294.1h1.1v1.1h-1.1zM246.9 314.0h1.1v1.1h-1.1zM255.4 299.9h1.1v1.1h-1.1zM248.7 304.5h1.1v1.1h-1.1zM264.7 294.2h1.1v1.1h-1.1zM249.6 305.3h1.1v1.1h-1.1zM237.4 295.7h1.1v1.1h-1.1zM266.5 321.7h1.1v1.1h-1.1zM228.4 316.4h1.1v1.1h-1.1zM234.9 305.6h1.1v1.1h-1.1zM249.8 316.8h1.1v1.1h-1.1zM216.7 290.9h1.1v1.1h-1.1zM249.6 303.9h1.1v1.1h-1.1zM219.9 299.3h1.1v1.1h-1.1zM234.2 309.9h1.1v1.1h-1.1zM243.5 299.3h1.1v1.1h-1.1zM238.4 309.1h1.1v1.1h-1.1zM211.5 310.9h1.1v1.1h-1.1zM252.7 313.4h1.1v1.1h-1.1zM227.3 309.5h1.1v1.1h-1.1zM259.9 300.4h1.1v1.1h-1.1zM251.0 297.7h1.1v1.1h-1.1zM258.7 303.0h1.1v1.1h-1.1zM238.5 305.1h1.1v1.1h-1.1zM250.7 303.3h1.1v1.1h-1.1zM246.8 308.0h1.1v1.1h-1.1zM231.9 295.6h1.1v1.1h-1.1zM206.2 298.4h1.1v1.1h-1.1zM226.6 295.9h1.1v1.1h-1.1zM219.9 281.1h1.1v1.1h-1.1zM215.1 295.2h1.1v1.1h-1.1zM218.1 301.1h1.1v1.1h-1.1zM222.7 293.6h1.1v1.1h-1.1zM243.7 316.4h1.1v1.1h-1.1zM225.5 314.7h1.1v1.1h-1.1zM238.3 314.5h1.1v1.1h-1.1zM233.3 297.7h1.1v1.1h-1.1zM254.5 319.5h1.1v1.1h-1.1zM247.0 304.7h1.1v1.1h-1.1zM232.2 311.2h1.1v1.1h-1.1zM256.2 310.3h1.1v1.1h-1.1zM230.7 314.3h1.1v1.1h-1.1zM252.0 298.3h1.1v1.1h-1.1zM257.8 318.4h1.1v1.1h-1.1zM207.6 292.0h1.1v1.1h-1.1zM235.0 314.8h1.1v1.1h-1.1zM225.7 288.8h1.1v1.1h-1.1zM263.3 299.0h1.1v1.1h-1.1zM262.9 304.7h1.1v1.1h-1.1zM260.2 305.3h1.1v1.1h-1.1zM234.3 299.4h1.1v1.1h-1.1zM238.0 292.8h1.1v1.1h-1.1zM228.4 314.1h1.1v1.1h-1.1zM219.0 304.9h1.1v1.1h-1.1zM251.2 294.7h1.1v1.1h-1.1zM251.2 287.1h1.1v1.1h-1.1zM241.7 310.7h1.1v1.1h-1.1zM263.7 307.0h1.1v1.1h-1.1zM253.8 294.7h1.1v1.1h-1.1zM220.0 315.9h1.1v1.1h-1.1zM232.3 301.3h1.1v1.1h-1.1zM214.7 301.9h1.1v1.1h-1.1zM241.0 308.2h1.1v1.1h-1.1zM249.8 291.9h1.1v1.1h-1.1zM230.2 288.1h1.1v1.1h-1.1zM240.7 303.9h1.1v1.1h-1.1zM250.4 286.8h1.1v1.1h-1.1zM259.7 293.1h1.1v1.1h-1.1zM219.6 285.5h1.1v1.1h-1.1zM238.0 295.5h1.1v1.1h-1.1zM234.6 300.8h1.1v1.1h-1.1zM244.3 292.0h1.1v1.1h-1.1zM246.2 292.5h1.1v1.1h-1.1zM203.6 306.2h1.1v1.1h-1.1zM255.9 318.7h1.1v1.1h-1.1zM214.0 291.3h1.1v1.1h-1.1zM251.7 320.7h1.1v1.1h-1.1zM214.3 291.4h1.1v1.1h-1.1zM212.2 302.2h1.1v1.1h-1.1zM239.4 305.7h1.1v1.1h-1.1zM230.4 284.9h1.1v1.1h-1.1zM215.9 297.9h1.1v1.1h-1.1zM266.5 319.9h1.1v1.1h-1.1zM250.2 287.2h1.1v1.1h-1.1zM237.3 307.1h1.1v1.1h-1.1zM210.5 306.9h1.1v1.1h-1.1zM225.9 310.6h1.1v1.1h-1.1zM225.3 296.6h1.1v1.1h-1.1zM244.3 286.7h1.1v1.1h-1.1zM246.7 312.2h1.1v1.1h-1.1zM252.0 301.4h1.1v1.1h-1.1zM244.6 295.1h1.1v1.1h-1.1zM257.7 314.4h1.1v1.1h-1.1zM257.5 284.6h1.1v1.1h-1.1zM225.3 309.8h1.1v1.1h-1.1zM266.8 316.4h1.1v1.1h-1.1zM226.4 287.6h1.1v1.1h-1.1zM238.8 306.8h1.1v1.1h-1.1zM256.1 293.5h1.1v1.1h-1.1zM238.0 289.8h1.1v1.1h-1.1zM260.2 317.4h1.1v1.1h-1.1zM233.2 306.5h1.1v1.1h-1.1zM221.3 296.3h1.1v1.1h-1.1zM238.3 322.5h1.1v1.1h-1.1zM228.7 286.6h1.1v1.1h-1.1zM237.2 295.2h1.1v1.1h-1.1zM209.8 301.6h1.1v1.1h-1.1zM241.4 294.2h1.1v1.1h-1.1zM211.9 287.6h1.1v1.1h-1.1zM235.9 281.4h1.1v1.1h-1.1zM251.8 308.8h1.1v1.1h-1.1zM242.2 311.6h1.1v1.1h-1.1zM255.6 301.0h1.1v1.1h-1.1zM240.3 284.9h1.1v1.1h-1.1zM266.8 314.1h1.1v1.1h-1.1zM244.9 316.3h1.1v1.1h-1.1zM217.0 290.9h1.1v1.1h-1.1zM223.9 298.5h1.1v1.1h-1.1zM253.4 290.5h1.1v1.1h-1.1zM258.6 306.4h1.1v1.1h-1.1zM237.0 315.1h1.1v1.1h-1.1z" fill="#24084f"/>
<path d="M225.9 283.4h1.1v1.1h-1.1zM209.5 289.3h1.1v1.1h-1.1zM218.5 295.1h1.1v1.1h-1.1zM228.3 284.4h1.1v1.1h-1.1zM229.2 306.4h1.1v1.1h-1.1zM257.0 312.7h1.1v1.1h-1.1zM260.3 318.6h1.1v1.1h-1.1zM220.8 307.3h1.1v1.1h-1.1zM247.2 287.7h1.1v1.1h-1.1zM253.4 292.1h1.1v1.1h-1.1zM221.4 299.8h1.1v1.1h-1.1zM257.5 315.5h1.1v1.1h-1.1zM241.0 300.1h1.1v1.1h-1.1zM223.5 305.7h1.1v1.1h-1.1zM246.0 304.1h1.1v1.1h-1.1zM204.9 289.0h1.1v1.1h-1.1zM255.8 304.6h1.1v1.1h-1.1zM263.3 319.2h1.1v1.1h-1.1zM231.9 291.3h1.1v1.1h-1.1zM254.3 320.7h1.1v1.1h-1.1zM240.0 306.3h1.1v1.1h-1.1zM261.5 309.2h1.1v1.1h-1.1zM260.4 313.7h1.1v1.1h-1.1zM245.6 309.9h1.1v1.1h-1.1zM266.8 327.4h1.1v1.1h-1.1zM241.1 296.0h1.1v1.1h-1.1zM221.6 296.9h1.1v1.1h-1.1zM217.7 296.8h1.1v1.1h-1.1zM252.3 311.8h1.1v1.1h-1.1zM263.2 313.6h1.1v1.1h-1.1zM257.8 309.9h1.1v1.1h-1.1zM235.7 308.8h1.1v1.1h-1.1zM218.5 308.6h1.1v1.1h-1.1zM227.2 288.4h1.1v1.1h-1.1zM243.3 301.4h1.1v1.1h-1.1zM244.5 289.0h1.1v1.1h-1.1zM241.4 292.2h1.1v1.1h-1.1zM268.7 317.5h1.1v1.1h-1.1zM234.4 287.6h1.1v1.1h-1.1zM252.0 308.7h1.1v1.1h-1.1zM226.8 285.0h1.1v1.1h-1.1zM213.2 305.7h1.1v1.1h-1.1zM237.8 304.5h1.1v1.1h-1.1zM208.9 293.6h1.1v1.1h-1.1zM220.8 290.9h1.1v1.1h-1.1zM259.1 301.2h1.1v1.1h-1.1zM264.4 308.7h1.1v1.1h-1.1zM247.9 286.8h1.1v1.1h-1.1zM206.5 303.0h1.1v1.1h-1.1zM216.8 303.9h1.1v1.1h-1.1zM250.0 309.9h1.1v1.1h-1.1zM260.9 316.1h1.1v1.1h-1.1zM217.4 286.1h1.1v1.1h-1.1zM248.5 302.2h1.1v1.1h-1.1zM207.8 295.7h1.1v1.1h-1.1zM267.1 315.8h1.1v1.1h-1.1zM232.7 307.0h1.1v1.1h-1.1zM238.7 314.4h1.1v1.1h-1.1zM216.1 309.3h1.1v1.1h-1.1zM250.9 314.9h1.1v1.1h-1.1zM231.7 309.2h1.1v1.1h-1.1zM208.8 292.2h1.1v1.1h-1.1zM210.2 302.3h1.1v1.1h-1.1zM245.5 317.2h1.1v1.1h-1.1zM249.1 323.9h1.1v1.1h-1.1zM265.5 305.0h1.1v1.1h-1.1zM247.8 311.7h1.1v1.1h-1.1zM238.3 287.2h1.1v1.1h-1.1zM239.7 305.9h1.1v1.1h-1.1zM245.0 296.6h1.1v1.1h-1.1zM222.5 299.1h1.1v1.1h-1.1zM251.0 290.5h1.1v1.1h-1.1zM210.9 298.2h1.1v1.1h-1.1zM212.3 292.7h1.1v1.1h-1.1zM241.9 287.9h1.1v1.1h-1.1zM234.5 316.2h1.1v1.1h-1.1zM209.7 291.8h1.1v1.1h-1.1zM257.6 318.9h1.1v1.1h-1.1zM260.4 305.7h1.1v1.1h-1.1zM213.5 290.2h1.1v1.1h-1.1zM260.9 316.2h1.1v1.1h-1.1zM249.0 301.5h1.1v1.1h-1.1zM257.2 303.3h1.1v1.1h-1.1zM256.9 310.2h1.1v1.1h-1.1zM228.1 303.1h1.1v1.1h-1.1zM217.1 309.3h1.1v1.1h-1.1zM264.2 308.9h1.1v1.1h-1.1zM223.6 298.0h1.1v1.1h-1.1zM245.1 303.3h1.1v1.1h-1.1zM246.3 287.7h1.1v1.1h-1.1zM256.8 310.2h1.1v1.1h-1.1zM254.9 296.1h1.1v1.1h-1.1zM263.5 320.7h1.1v1.1h-1.1zM230.9 286.2h1.1v1.1h-1.1zM241.2 297.2h1.1v1.1h-1.1zM249.9 318.6h1.1v1.1h-1.1zM262.5 321.5h1.1v1.1h-1.1zM235.8 291.1h1.1v1.1h-1.1zM255.8 289.3h1.1v1.1h-1.1zM220.2 288.2h1.1v1.1h-1.1zM246.8 309.5h1.1v1.1h-1.1zM227.5 299.8h1.1v1.1h-1.1zM245.0 306.3h1.1v1.1h-1.1zM264.9 320.4h1.1v1.1h-1.1zM225.1 312.3h1.1v1.1h-1.1zM224.8 309.4h1.1v1.1h-1.1zM236.5 292.7h1.1v1.1h-1.1zM226.4 312.7h1.1v1.1h-1.1zM252.0 308.2h1.1v1.1h-1.1zM259.3 315.9h1.1v1.1h-1.1zM242.8 300.9h1.1v1.1h-1.1zM243.7 294.7h1.1v1.1h-1.1zM221.3 289.0h1.1v1.1h-1.1zM245.9 301.7h1.1v1.1h-1.1zM207.0 304.8h1.1v1.1h-1.1zM263.0 305.4h1.1v1.1h-1.1zM246.8 319.1h1.1v1.1h-1.1zM206.3 303.3h1.1v1.1h-1.1zM259.5 317.0h1.1v1.1h-1.1zM262.5 316.8h1.1v1.1h-1.1zM207.5 296.5h1.1v1.1h-1.1zM254.6 299.5h1.1v1.1h-1.1zM245.3 285.9h1.1v1.1h-1.1zM238.3 302.3h1.1v1.1h-1.1zM257.7 302.3h1.1v1.1h-1.1zM260.7 309.8h1.1v1.1h-1.1zM221.0 307.8h1.1v1.1h-1.1zM256.6 310.8h1.1v1.1h-1.1zM237.1 305.4h1.1v1.1h-1.1zM202.5 301.9h1.1v1.1h-1.1zM252.5 298.3h1.1v1.1h-1.1zM226.7 285.1h1.1v1.1h-1.1zM254.4 296.7h1.1v1.1h-1.1zM211.9 290.7h1.1v1.1h-1.1zM260.7 308.1h1.1v1.1h-1.1zM231.6 298.4h1.1v1.1h-1.1zM255.7 288.9h1.1v1.1h-1.1zM240.7 291.7h1.1v1.1h-1.1zM205.9 296.7h1.1v1.1h-1.1zM237.4 298.9h1.1v1.1h-1.1zM218.5 285.5h1.1v1.1h-1.1zM265.1 322.0h1.1v1.1h-1.1zM222.6 314.7h1.1v1.1h-1.1zM211.3 297.5h1.1v1.1h-1.1zM242.9 314.0h1.1v1.1h-1.1zM249.3 292.1h1.1v1.1h-1.1zM253.9 308.6h1.1v1.1h-1.1zM238.9 311.9h1.1v1.1h-1.1zM217.3 292.3h1.1v1.1h-1.1zM233.6 313.7h1.1v1.1h-1.1zM242.0 292.9h1.1v1.1h-1.1zM222.7 315.5h1.1v1.1h-1.1zM211.9 307.7h1.1v1.1h-1.1zM241.3 294.3h1.1v1.1h-1.1zM246.0 290.3h1.1v1.1h-1.1zM226.0 308.8h1.1v1.1h-1.1zM228.5 303.5h1.1v1.1h-1.1zM221.3 291.9h1.1v1.1h-1.1zM235.0 297.4h1.1v1.1h-1.1zM234.1 307.8h1.1v1.1h-1.1zM258.3 305.3h1.1v1.1h-1.1zM249.1 303.6h1.1v1.1h-1.1zM241.1 303.8h1.1v1.1h-1.1zM241.0 287.6h1.1v1.1h-1.1zM206.3 300.4h1.1v1.1h-1.1zM256.4 320.7h1.1v1.1h-1.1zM239.9 289.6h1.1v1.1h-1.1zM213.2 295.5h1.1v1.1h-1.1zM259.1 304.5h1.1v1.1h-1.1zM240.5 308.2h1.1v1.1h-1.1zM222.8 289.5h1.1v1.1h-1.1zM212.6 293.6h1.1v1.1h-1.1zM248.9 311.5h1.1v1.1h-1.1zM221.0 311.5h1.1v1.1h-1.1zM230.0 313.7h1.1v1.1h-1.1zM214.5 290.4h1.1v1.1h-1.1zM259.7 299.6h1.1v1.1h-1.1zM227.5 285.6h1.1v1.1h-1.1zM229.0 294.7h1.1v1.1h-1.1zM255.5 320.0h1.1v1.1h-1.1zM229.4 294.7h1.1v1.1h-1.1zM263.9 309.4h1.1v1.1h-1.1zM257.4 315.1h1.1v1.1h-1.1zM223.1 303.8h1.1v1.1h-1.1zM221.0 284.2h1.1v1.1h-1.1zM210.9 311.0h1.1v1.1h-1.1zM236.3 297.9h1.1v1.1h-1.1zM264.2 299.2h1.1v1.1h-1.1zM232.1 306.0h1.1v1.1h-1.1zM227.4 290.5h1.1v1.1h-1.1z" fill="#2a0d58"/>
<path d="M173.1 335.1h1v1h-1zM174.3 330.6h1v1h-1zM174.7 328.1h1v1h-1zM173.0 336.1h1v1h-1zM172.0 329.0h1v1h-1zM172.6 336.8h1v1h-1zM171.9 335.6h1v1h-1zM172.8 330.3h1v1h-1zM171.8 326.8h1v1h-1zM174.0 332.5h1v1h-1zM174.6 333.2h1v1h-1zM175.4 330.6h1v1h-1zM173.2 331.7h1v1h-1z" fill="#6a40a8"/>
<path d="M172.8 334.5h1v1h-1zM171.6 334.9h1v1h-1zM173.5 329.7h1v1h-1zM174.4 325.5h1v1h-1zM173.6 327.9h1v1h-1zM173.4 338.8h1v1h-1zM172.8 325.6h1v1h-1zM173.0 337.5h1v1h-1zM174.5 328.5h1v1h-1zM171.9 336.4h1v1h-1zM174.2 329.1h1v1h-1zM174.7 332.5h1v1h-1zM173.9 334.0h1v1h-1zM174.9 326.9h1v1h-1zM174.5 339.0h1v1h-1zM172.9 330.9h1v1h-1zM173.8 328.1h1v1h-1zM173.0 329.6h1v1h-1z" fill="#5a2c98"/>
<path d="M171.3 329.6h1v1h-1zM173.7 333.6h1v1h-1zM175.8 326.8h1v1h-1zM174.4 330.7h1v1h-1zM174.7 332.8h1v1h-1zM172.1 337.8h1v1h-1zM173.6 327.9h1v1h-1zM172.1 337.8h1v1h-1zM173.9 336.4h1v1h-1zM172.7 338.1h1v1h-1zM171.3 332.7h1v1h-1z" fill="#2a0852"/>
<path d="M174.3 337.6h1v1h-1zM172.8 338.7h1v1h-1zM173.6 326.8h1v1h-1zM172.3 334.3h1v1h-1zM172.5 326.6h1v1h-1zM173.9 334.4h1v1h-1zM174.8 328.2h1v1h-1zM173.7 332.0h1v1h-1zM173.2 335.1h1v1h-1zM171.2 336.5h1v1h-1zM171.3 326.3h1v1h-1zM174.0 333.5h1v1h-1zM175.2 340.1h1v1h-1zM173.8 336.0h1v1h-1zM174.5 337.7h1v1h-1zM172.7 332.1h1v1h-1zM174.4 333.4h1v1h-1zM172.8 329.7h1v1h-1zM174.5 339.9h1v1h-1zM173.2 339.8h1v1h-1z" fill="#3a1070"/>
<path d="M173.2 335.5h1v1h-1zM172.1 332.6h1v1h-1zM174.4 337.4h1v1h-1zM173.8 336.7h1v1h-1zM172.1 333.2h1v1h-1zM172.5 328.7h1v1h-1zM173.1 329.9h1v1h-1zM171.3 328.6h1v1h-1zM172.5 336.3h1v1h-1zM171.6 337.0h1v1h-1zM173.0 327.4h1v1h-1zM173.6 331.5h1v1h-1zM172.7 337.3h1v1h-1z" fill="#4a1b86"/>
<path d="M172.9 333.3h1v1h-1zM168.9 339.4h1v1h-1zM174.5 327.4h1v1h-1zM175.5 332.0h1v1h-1zM173.7 331.9h1v1h-1zM174.9 335.5h1v1h-1zM172.0 333.9h1v1h-1zM175.7 339.1h1v1h-1zM173.3 331.7h1v1h-1zM172.6 332.4h1v1h-1zM172.3 327.5h1v1h-1zM171.8 325.7h1v1h-1zM174.9 335.5h1v1h-1zM172.0 338.5h1v1h-1zM176.2 336.1h1v1h-1zM173.4 327.1h1v1h-1zM174.5 336.4h1v1h-1z" fill="#3c1273"/>
<path d="M170.7 327.3h1v1h-1zM171.2 337.6h1v1h-1zM172.5 327.7h1v1h-1zM172.0 328.1h1v1h-1zM173.3 339.8h1v1h-1zM174.1 336.7h1v1h-1zM171.2 334.2h1v1h-1zM174.1 336.3h1v1h-1zM174.3 333.7h1v1h-1zM175.8 334.4h1v1h-1zM174.6 331.0h1v1h-1zM174.8 335.4h1v1h-1zM170.3 327.3h1v1h-1zM172.5 330.9h1v1h-1zM172.5 330.3h1v1h-1zM173.6 335.1h1v1h-1zM172.6 336.8h1v1h-1zM176.1 334.6h1v1h-1z" fill="#2e0a5e"/>
<path d="M145.1 353.7h1v1h-1zM144.2 359.5h1v1h-1zM146.5 371.6h1v1h-1zM145.5 362.4h1v1h-1zM144.9 354.3h1v1h-1zM146.9 369.7h1v1h-1zM146.8 351.9h1v1h-1zM146.0 368.7h1v1h-1zM146.8 366.7h1v1h-1zM145.5 351.5h1v1h-1zM146.6 367.8h1v1h-1z" fill="#5a2c98"/>
<path d="M145.1 368.5h1v1h-1zM146.9 364.5h1v1h-1zM143.6 366.8h1v1h-1zM146.5 369.8h1v1h-1zM146.0 359.3h1v1h-1zM145.6 361.1h1v1h-1zM145.4 371.5h1v1h-1zM145.1 356.2h1v1h-1zM144.0 366.2h1v1h-1zM147.2 371.5h1v1h-1zM145.7 372.7h1v1h-1zM145.2 365.9h1v1h-1z" fill="#3c1273"/>
<path d="M145.3 370.3h1v1h-1zM146.2 362.9h1v1h-1zM145.5 371.8h1v1h-1zM144.6 366.0h1v1h-1zM147.0 354.1h1v1h-1zM143.1 370.9h1v1h-1zM145.0 365.3h1v1h-1zM145.0 365.4h1v1h-1zM145.2 370.8h1v1h-1zM146.6 354.0h1v1h-1zM144.0 352.8h1v1h-1zM147.0 356.0h1v1h-1z" fill="#2e0a5e"/>
<path d="M145.9 360.0h1v1h-1zM146.4 363.1h1v1h-1zM145.0 359.7h1v1h-1zM145.0 360.3h1v1h-1zM145.5 369.5h1v1h-1zM145.1 370.8h1v1h-1zM144.6 356.5h1v1h-1zM144.6 367.6h1v1h-1zM145.5 353.0h1v1h-1zM146.9 366.5h1v1h-1zM143.6 354.8h1v1h-1zM144.5 359.8h1v1h-1zM145.8 372.1h1v1h-1zM143.8 367.9h1v1h-1zM144.6 367.7h1v1h-1zM145.9 351.8h1v1h-1zM144.3 353.4h1v1h-1zM144.5 353.5h1v1h-1z" fill="#6a40a8"/>
<path d="M144.2 353.6h1v1h-1zM144.5 351.3h1v1h-1zM145.1 372.4h1v1h-1zM144.3 351.4h1v1h-1zM143.4 363.9h1v1h-1zM145.6 358.5h1v1h-1zM146.5 362.0h1v1h-1zM143.9 355.6h1v1h-1zM146.0 357.5h1v1h-1zM147.0 353.6h1v1h-1zM145.9 363.2h1v1h-1zM146.3 355.5h1v1h-1zM144.8 367.6h1v1h-1zM145.5 366.4h1v1h-1zM146.7 356.5h1v1h-1zM145.4 357.2h1v1h-1zM146.6 360.9h1v1h-1zM145.7 360.4h1v1h-1z" fill="#4a1b86"/>
<path d="M146.3 368.5h1v1h-1zM144.4 352.9h1v1h-1zM144.0 356.3h1v1h-1zM145.4 359.3h1v1h-1zM144.6 372.2h1v1h-1zM145.6 371.7h1v1h-1zM146.6 350.9h1v1h-1zM145.6 371.6h1v1h-1zM146.3 364.3h1v1h-1zM145.2 354.3h1v1h-1zM146.5 351.0h1v1h-1zM144.9 371.4h1v1h-1z" fill="#2a0852"/>
<path d="M145.5 365.9h1v1h-1zM146.7 350.5h1v1h-1zM143.8 361.7h1v1h-1zM144.3 364.3h1v1h-1zM144.8 355.5h1v1h-1zM147.0 371.0h1v1h-1zM145.1 369.4h1v1h-1z" fill="#3a1070"/>
<path d="M190.8 351.3h1v1h-1zM188.9 368.8h1v1h-1zM195.7 353.2h1v1h-1zM217.2 330.6h1v1h-1zM194.1 365.3h1v1h-1zM188.0 361.2h1v1h-1zM193.5 351.7h1v1h-1zM184.1 367.7h1v1h-1zM208.1 338.2h1v1h-1zM184.6 383.8h1v1h-1zM181.7 368.6h1v1h-1zM182.9 384.9h1v1h-1zM192.5 355.8h1v1h-1zM188.5 361.8h1v1h-1zM209.2 330.5h1v1h-1zM181.0 358.2h1v1h-1zM192.5 360.1h1v1h-1zM189.4 370.3h1v1h-1zM197.1 345.1h1v1h-1zM186.4 366.6h1v1h-1zM188.1 356.5h1v1h-1zM183.3 390.9h1v1h-1zM186.3 386.2h1v1h-1zM202.3 356.4h1v1h-1zM181.7 382.6h1v1h-1zM184.0 396.9h1v1h-1zM186.5 356.6h1v1h-1zM211.1 332.4h1v1h-1zM182.8 393.4h1v1h-1zM191.0 361.3h1v1h-1zM191.2 361.8h1v1h-1zM189.2 357.3h1v1h-1zM182.5 393.3h1v1h-1zM186.4 371.5h1v1h-1zM212.0 340.9h1v1h-1zM199.4 356.3h1v1h-1zM183.6 382.2h1v1h-1zM188.3 369.0h1v1h-1zM209.6 335.7h1v1h-1zM190.8 359.1h1v1h-1zM190.9 361.6h1v1h-1zM186.7 345.9h1v1h-1zM219.2 328.7h1v1h-1zM204.6 341.8h1v1h-1zM194.4 357.6h1v1h-1zM188.6 382.6h1v1h-1zM200.9 344.0h1v1h-1zM188.8 353.2h1v1h-1zM181.1 357.7h1v1h-1zM192.2 343.5h1v1h-1zM198.1 344.3h1v1h-1zM187.8 357.2h1v1h-1zM201.0 337.6h1v1h-1zM221.8 332.8h1v1h-1zM204.8 339.3h1v1h-1zM197.7 343.2h1v1h-1zM185.8 364.4h1v1h-1zM189.7 358.6h1v1h-1zM201.7 346.7h1v1h-1zM209.6 333.8h1v1h-1zM199.3 345.9h1v1h-1zM184.4 374.9h1v1h-1zM214.0 335.0h1v1h-1zM188.8 349.6h1v1h-1zM190.1 352.6h1v1h-1zM205.4 337.1h1v1h-1zM185.8 384.6h1v1h-1zM198.9 350.1h1v1h-1zM219.8 326.5h1v1h-1zM211.6 340.7h1v1h-1zM187.0 376.0h1v1h-1zM220.2 327.5h1v1h-1zM204.2 345.5h1v1h-1zM203.5 343.1h1v1h-1zM200.1 342.6h1v1h-1zM213.6 331.8h1v1h-1zM187.4 365.4h1v1h-1zM193.9 346.0h1v1h-1zM188.6 355.9h1v1h-1zM207.1 339.6h1v1h-1zM180.1 365.5h1v1h-1zM181.2 390.5h1v1h-1zM218.9 329.4h1v1h-1zM184.0 391.7h1v1h-1zM200.6 367.7h1v1h-1zM188.9 350.2h1v1h-1zM199.4 347.4h1v1h-1zM184.8 388.4h1v1h-1zM185.8 389.6h1v1h-1zM188.5 381.0h1v1h-1zM217.1 328.6h1v1h-1zM193.2 351.5h1v1h-1zM209.1 336.0h1v1h-1zM214.7 330.9h1v1h-1zM185.3 397.9h1v1h-1zM182.9 389.7h1v1h-1zM181.1 382.0h1v1h-1zM190.2 370.3h1v1h-1zM188.7 357.0h1v1h-1zM185.9 364.1h1v1h-1zM188.4 375.5h1v1h-1zM189.6 349.9h1v1h-1zM187.3 360.1h1v1h-1zM187.9 371.2h1v1h-1zM180.7 389.2h1v1h-1zM189.0 368.4h1v1h-1zM201.8 350.2h1v1h-1zM219.5 328.2h1v1h-1zM214.0 334.7h1v1h-1zM190.2 359.1h1v1h-1zM219.2 330.6h1v1h-1zM205.9 340.2h1v1h-1zM188.7 387.5h1v1h-1zM184.5 370.2h1v1h-1zM217.9 332.6h1v1h-1zM190.0 366.3h1v1h-1zM182.1 373.3h1v1h-1zM220.7 332.2h1v1h-1zM191.1 369.1h1v1h-1zM184.1 367.5h1v1h-1zM183.4 377.7h1v1h-1zM203.5 339.9h1v1h-1zM220.0 328.5h1v1h-1zM198.9 349.7h1v1h-1zM186.5 358.8h1v1h-1zM183.0 375.2h1v1h-1zM184.0 370.1h1v1h-1zM205.0 334.8h1v1h-1zM213.6 329.1h1v1h-1zM195.0 342.7h1v1h-1zM205.5 343.3h1v1h-1zM185.6 397.8h1v1h-1z" fill="#5a2c98"/>
<path d="M185.1 395.4h1v1h-1zM186.0 385.5h1v1h-1zM197.4 346.3h1v1h-1zM181.8 358.7h1v1h-1zM186.5 377.3h1v1h-1zM187.4 388.3h1v1h-1zM185.7 378.9h1v1h-1zM196.9 343.6h1v1h-1zM201.0 347.4h1v1h-1zM191.1 351.8h1v1h-1zM216.3 336.8h1v1h-1zM193.9 362.6h1v1h-1zM191.8 365.0h1v1h-1zM202.8 345.1h1v1h-1zM175.5 376.0h1v1h-1zM184.9 393.3h1v1h-1zM204.4 341.3h1v1h-1zM185.8 361.8h1v1h-1zM192.4 363.4h1v1h-1zM188.1 375.6h1v1h-1zM187.4 366.5h1v1h-1zM212.7 337.5h1v1h-1zM193.7 356.3h1v1h-1zM190.5 387.6h1v1h-1zM179.4 364.8h1v1h-1zM193.8 353.5h1v1h-1zM186.3 390.7h1v1h-1zM208.3 330.9h1v1h-1zM191.4 357.9h1v1h-1zM186.5 367.4h1v1h-1zM189.4 362.5h1v1h-1zM186.3 367.3h1v1h-1zM214.3 332.5h1v1h-1zM190.2 353.7h1v1h-1zM191.9 343.8h1v1h-1zM190.5 370.4h1v1h-1zM184.7 387.8h1v1h-1zM184.7 396.9h1v1h-1zM198.8 344.4h1v1h-1zM194.1 358.7h1v1h-1zM214.2 331.3h1v1h-1zM199.2 349.0h1v1h-1zM208.2 340.6h1v1h-1zM183.0 376.1h1v1h-1zM184.3 396.0h1v1h-1zM185.8 384.0h1v1h-1zM196.7 347.2h1v1h-1zM182.9 385.8h1v1h-1zM209.4 340.4h1v1h-1zM200.0 339.4h1v1h-1zM199.8 347.8h1v1h-1zM189.3 356.8h1v1h-1zM195.4 354.9h1v1h-1zM200.3 345.1h1v1h-1zM185.1 391.5h1v1h-1zM195.3 355.1h1v1h-1zM189.6 364.2h1v1h-1zM186.0 357.6h1v1h-1zM180.0 374.4h1v1h-1zM186.9 371.4h1v1h-1zM185.3 362.1h1v1h-1zM194.5 356.8h1v1h-1zM221.0 328.9h1v1h-1zM179.7 391.6h1v1h-1zM181.8 384.8h1v1h-1zM196.5 363.4h1v1h-1zM181.6 343.7h1v1h-1zM183.8 367.6h1v1h-1zM210.1 341.9h1v1h-1zM206.5 334.7h1v1h-1zM188.8 356.7h1v1h-1zM182.0 387.3h1v1h-1zM192.7 355.7h1v1h-1zM205.9 383.9h1v1h-1zM210.6 339.1h1v1h-1zM212.4 326.5h1v1h-1zM210.3 338.7h1v1h-1zM185.3 392.6h1v1h-1zM183.4 389.8h1v1h-1zM183.2 385.4h1v1h-1zM193.5 342.2h1v1h-1zM194.2 351.1h1v1h-1zM201.9 340.2h1v1h-1zM186.5 369.8h1v1h-1zM180.5 378.0h1v1h-1zM190.5 381.5h1v1h-1zM190.1 348.5h1v1h-1zM183.2 362.4h1v1h-1zM185.5 361.2h1v1h-1zM217.8 329.4h1v1h-1zM206.6 339.0h1v1h-1zM198.1 349.1h1v1h-1zM184.1 394.3h1v1h-1zM209.2 334.4h1v1h-1zM214.3 335.6h1v1h-1zM215.2 342.7h1v1h-1zM216.7 335.5h1v1h-1zM200.8 341.6h1v1h-1zM221.4 331.3h1v1h-1zM197.9 346.6h1v1h-1zM192.4 350.3h1v1h-1zM184.1 363.5h1v1h-1zM213.9 336.8h1v1h-1zM180.9 392.1h1v1h-1zM189.3 349.2h1v1h-1zM184.5 392.9h1v1h-1zM183.7 372.9h1v1h-1zM202.6 327.4h1v1h-1zM183.4 390.0h1v1h-1zM197.3 349.6h1v1h-1zM188.2 387.0h1v1h-1zM181.4 390.9h1v1h-1zM187.3 386.4h1v1h-1zM190.0 368.5h1v1h-1zM201.3 345.2h1v1h-1zM187.7 379.6h1v1h-1zM207.0 335.8h1v1h-1zM194.2 346.5h1v1h-1zM187.2 370.5h1v1h-1zM187.6 375.9h1v1h-1zM183.4 359.9h1v1h-1zM185.6 394.7h1v1h-1zM185.4 384.9h1v1h-1zM176.5 373.0h1v1h-1zM204.6 334.3h1v1h-1zM201.9 338.8h1v1h-1zM209.3 337.0h1v1h-1zM196.9 347.0h1v1h-1zM203.1 349.8h1v1h-1zM191.6 356.5h1v1h-1zM199.6 346.5h1v1h-1zM198.7 352.1h1v1h-1zM182.5 384.0h1v1h-1zM179.9 383.0h1v1h-1zM214.3 336.6h1v1h-1zM185.0 392.3h1v1h-1zM210.6 334.9h1v1h-1zM191.1 363.0h1v1h-1zM192.8 352.8h1v1h-1zM206.6 341.6h1v1h-1z" fill="#6a40a8"/>
<path d="M220.3 330.5h1v1h-1zM203.2 339.9h1v1h-1zM191.6 368.9h1v1h-1zM200.3 352.7h1v1h-1zM185.3 395.1h1v1h-1zM189.0 359.2h1v1h-1zM216.8 334.0h1v1h-1zM220.5 330.3h1v1h-1zM184.8 387.7h1v1h-1zM188.4 363.6h1v1h-1zM192.1 355.5h1v1h-1zM183.4 387.3h1v1h-1zM197.3 351.1h1v1h-1zM209.7 334.6h1v1h-1zM187.8 362.8h1v1h-1zM190.3 361.2h1v1h-1zM200.4 344.5h1v1h-1zM195.8 347.2h1v1h-1zM187.2 392.9h1v1h-1zM220.5 332.0h1v1h-1zM208.4 342.9h1v1h-1zM212.2 338.5h1v1h-1zM183.4 375.2h1v1h-1zM180.2 373.9h1v1h-1zM183.6 388.3h1v1h-1zM194.2 348.0h1v1h-1zM184.9 378.2h1v1h-1zM181.0 386.0h1v1h-1zM217.9 332.6h1v1h-1zM181.6 375.6h1v1h-1zM182.3 385.7h1v1h-1zM186.3 347.6h1v1h-1zM215.7 331.8h1v1h-1zM195.2 351.6h1v1h-1zM210.9 332.5h1v1h-1zM185.4 390.3h1v1h-1zM216.6 333.3h1v1h-1zM185.7 389.3h1v1h-1zM189.8 359.6h1v1h-1zM199.5 341.0h1v1h-1zM184.8 392.4h1v1h-1zM197.9 342.0h1v1h-1zM183.9 394.3h1v1h-1zM210.8 334.4h1v1h-1zM183.1 386.2h1v1h-1zM203.4 351.7h1v1h-1zM189.8 359.8h1v1h-1zM194.2 351.3h1v1h-1zM184.3 396.3h1v1h-1zM184.1 394.8h1v1h-1zM187.9 384.2h1v1h-1zM216.0 330.9h1v1h-1zM187.3 381.8h1v1h-1zM194.8 345.0h1v1h-1zM209.1 344.0h1v1h-1zM204.2 342.2h1v1h-1zM197.6 339.7h1v1h-1zM182.6 390.0h1v1h-1zM214.1 336.3h1v1h-1zM184.0 397.0h1v1h-1zM197.4 344.4h1v1h-1zM186.8 375.6h1v1h-1zM213.5 342.4h1v1h-1zM193.1 351.9h1v1h-1zM188.9 384.7h1v1h-1zM183.3 366.2h1v1h-1zM183.6 370.2h1v1h-1zM192.1 351.7h1v1h-1zM192.1 355.9h1v1h-1zM208.8 337.5h1v1h-1zM184.3 374.9h1v1h-1zM187.4 391.8h1v1h-1zM183.3 378.6h1v1h-1zM203.5 359.7h1v1h-1zM203.5 346.2h1v1h-1zM190.6 359.5h1v1h-1zM184.9 393.6h1v1h-1zM210.4 334.4h1v1h-1zM195.9 346.6h1v1h-1zM182.7 393.4h1v1h-1zM182.1 368.9h1v1h-1zM198.5 345.0h1v1h-1zM187.8 360.8h1v1h-1zM184.8 372.3h1v1h-1zM198.2 347.0h1v1h-1zM186.8 364.5h1v1h-1zM194.6 358.4h1v1h-1zM183.3 369.7h1v1h-1zM215.6 334.0h1v1h-1zM186.5 361.1h1v1h-1zM191.8 365.8h1v1h-1zM183.6 396.1h1v1h-1zM181.6 391.2h1v1h-1zM188.5 352.1h1v1h-1zM185.8 388.4h1v1h-1zM190.7 363.4h1v1h-1zM192.4 356.8h1v1h-1zM198.4 356.0h1v1h-1zM184.7 359.1h1v1h-1zM179.9 386.7h1v1h-1zM215.6 329.2h1v1h-1zM183.6 396.7h1v1h-1zM204.4 338.6h1v1h-1zM184.2 378.5h1v1h-1zM199.7 339.4h1v1h-1zM187.5 376.7h1v1h-1zM198.6 344.1h1v1h-1zM197.0 344.3h1v1h-1zM182.9 382.4h1v1h-1zM191.5 358.7h1v1h-1zM178.8 384.7h1v1h-1zM199.0 346.4h1v1h-1zM184.9 391.2h1v1h-1zM201.3 343.0h1v1h-1zM192.3 374.7h1v1h-1zM184.0 370.6h1v1h-1zM212.4 337.3h1v1h-1zM214.7 334.8h1v1h-1z" fill="#3a1070"/>
<path d="M218.3 331.1h1v1h-1zM192.7 349.9h1v1h-1zM183.9 364.2h1v1h-1zM211.8 337.3h1v1h-1zM207.7 339.5h1v1h-1zM216.0 329.5h1v1h-1zM198.0 343.5h1v1h-1zM204.5 353.3h1v1h-1zM203.5 343.1h1v1h-1zM196.3 350.3h1v1h-1zM182.5 375.5h1v1h-1zM183.5 377.7h1v1h-1zM184.8 384.9h1v1h-1zM182.9 357.5h1v1h-1zM184.5 393.5h1v1h-1zM186.2 365.8h1v1h-1zM186.1 361.6h1v1h-1zM216.3 329.5h1v1h-1zM193.6 374.8h1v1h-1zM177.4 383.2h1v1h-1zM220.2 327.7h1v1h-1zM174.6 385.9h1v1h-1zM193.8 361.6h1v1h-1zM215.8 331.1h1v1h-1zM181.3 378.0h1v1h-1zM194.4 354.8h1v1h-1zM215.6 331.9h1v1h-1zM214.1 330.5h1v1h-1zM215.0 336.0h1v1h-1zM190.0 346.4h1v1h-1zM217.5 330.6h1v1h-1zM183.4 382.0h1v1h-1zM207.1 345.3h1v1h-1zM184.7 385.0h1v1h-1zM185.0 386.8h1v1h-1zM220.4 331.1h1v1h-1zM202.5 345.8h1v1h-1zM215.4 332.5h1v1h-1zM208.7 335.7h1v1h-1zM208.0 346.9h1v1h-1zM188.3 373.1h1v1h-1zM179.0 380.3h1v1h-1zM191.6 354.9h1v1h-1zM187.2 394.3h1v1h-1zM187.4 354.4h1v1h-1zM183.4 381.0h1v1h-1zM219.5 331.5h1v1h-1zM182.9 367.8h1v1h-1zM181.8 380.7h1v1h-1zM210.1 339.3h1v1h-1zM188.7 380.1h1v1h-1zM219.0 333.2h1v1h-1zM194.3 354.6h1v1h-1zM197.3 353.7h1v1h-1zM219.3 330.2h1v1h-1zM198.1 350.7h1v1h-1zM219.8 329.1h1v1h-1zM189.5 363.1h1v1h-1zM187.3 368.1h1v1h-1zM206.5 342.0h1v1h-1zM179.9 393.7h1v1h-1zM185.6 383.5h1v1h-1zM195.5 351.0h1v1h-1zM190.1 359.1h1v1h-1zM217.8 328.5h1v1h-1zM183.9 370.5h1v1h-1zM186.9 366.1h1v1h-1zM189.3 357.9h1v1h-1zM212.1 334.4h1v1h-1zM212.3 329.7h1v1h-1zM203.4 345.1h1v1h-1zM188.0 374.6h1v1h-1zM201.2 343.7h1v1h-1zM206.2 339.1h1v1h-1zM205.2 338.6h1v1h-1zM180.0 388.1h1v1h-1zM186.0 381.9h1v1h-1zM185.5 391.5h1v1h-1zM202.5 346.5h1v1h-1zM188.3 369.2h1v1h-1zM185.9 354.9h1v1h-1zM183.4 378.7h1v1h-1zM211.0 334.0h1v1h-1zM194.0 345.8h1v1h-1zM184.0 387.4h1v1h-1zM185.1 356.0h1v1h-1zM183.3 385.9h1v1h-1zM219.7 328.2h1v1h-1zM181.8 388.5h1v1h-1zM212.9 365.7h1v1h-1zM189.9 360.1h1v1h-1zM189.9 365.2h1v1h-1zM189.9 355.8h1v1h-1zM188.2 384.9h1v1h-1zM187.0 369.4h1v1h-1zM219.0 331.4h1v1h-1zM204.1 340.0h1v1h-1zM204.9 340.8h1v1h-1zM206.5 340.6h1v1h-1zM202.5 348.6h1v1h-1zM188.8 371.0h1v1h-1zM210.0 336.6h1v1h-1zM184.4 374.0h1v1h-1zM198.6 346.3h1v1h-1zM207.3 344.8h1v1h-1zM183.2 391.0h1v1h-1zM211.2 335.5h1v1h-1zM184.4 389.5h1v1h-1zM181.0 378.0h1v1h-1zM216.3 331.5h1v1h-1zM183.3 386.5h1v1h-1zM197.8 346.6h1v1h-1zM182.5 384.3h1v1h-1zM191.3 362.4h1v1h-1zM184.9 366.7h1v1h-1zM179.5 381.0h1v1h-1zM205.9 343.2h1v1h-1zM182.6 382.9h1v1h-1zM181.5 360.8h1v1h-1zM189.1 356.4h1v1h-1z" fill="#4a1b86"/>
<path d="M210.0 333.8h1v1h-1zM219.2 332.0h1v1h-1zM191.9 364.4h1v1h-1zM185.9 395.5h1v1h-1zM185.6 396.9h1v1h-1zM195.0 345.1h1v1h-1zM194.5 344.6h1v1h-1zM198.4 342.0h1v1h-1zM193.5 371.0h1v1h-1zM184.0 378.5h1v1h-1zM191.4 356.7h1v1h-1zM185.8 352.7h1v1h-1zM186.5 382.7h1v1h-1zM190.1 368.5h1v1h-1zM192.3 353.6h1v1h-1zM188.0 356.7h1v1h-1zM207.1 339.8h1v1h-1zM184.0 362.8h1v1h-1zM184.9 369.3h1v1h-1zM201.3 343.2h1v1h-1zM190.9 360.1h1v1h-1zM199.0 337.4h1v1h-1zM188.6 356.6h1v1h-1zM213.2 334.9h1v1h-1zM184.9 366.7h1v1h-1zM178.2 379.1h1v1h-1zM206.6 336.0h1v1h-1zM197.7 340.5h1v1h-1zM197.5 351.0h1v1h-1zM207.3 330.7h1v1h-1zM184.9 363.2h1v1h-1zM185.2 389.1h1v1h-1zM197.2 346.5h1v1h-1zM194.4 349.9h1v1h-1zM208.9 340.3h1v1h-1zM212.7 332.3h1v1h-1zM190.2 377.6h1v1h-1zM185.0 356.8h1v1h-1zM202.7 335.6h1v1h-1zM212.1 336.3h1v1h-1zM183.8 395.6h1v1h-1zM185.2 389.1h1v1h-1zM182.8 378.5h1v1h-1zM198.3 349.7h1v1h-1zM213.9 335.0h1v1h-1zM185.5 390.1h1v1h-1zM188.7 359.0h1v1h-1zM189.0 375.3h1v1h-1zM182.6 371.1h1v1h-1zM182.5 367.5h1v1h-1zM187.5 389.0h1v1h-1zM194.4 349.6h1v1h-1zM182.8 378.4h1v1h-1zM219.3 327.5h1v1h-1zM185.2 357.8h1v1h-1zM205.1 345.1h1v1h-1zM189.7 363.9h1v1h-1zM204.2 341.9h1v1h-1zM183.0 366.2h1v1h-1zM183.6 360.7h1v1h-1zM203.7 352.7h1v1h-1zM188.8 381.2h1v1h-1zM218.6 333.0h1v1h-1zM206.9 334.2h1v1h-1zM218.1 330.0h1v1h-1zM184.5 395.1h1v1h-1zM184.6 389.5h1v1h-1zM182.6 365.5h1v1h-1zM181.7 354.7h1v1h-1zM204.5 358.9h1v1h-1zM183.6 395.8h1v1h-1zM192.5 369.3h1v1h-1zM188.7 357.8h1v1h-1zM189.7 358.7h1v1h-1zM186.6 392.2h1v1h-1zM177.3 371.6h1v1h-1zM208.7 342.8h1v1h-1zM185.7 384.5h1v1h-1zM183.6 374.0h1v1h-1zM188.5 366.8h1v1h-1zM187.3 338.7h1v1h-1zM187.0 378.1h1v1h-1zM186.6 368.4h1v1h-1zM189.0 359.6h1v1h-1zM220.3 328.8h1v1h-1zM218.2 328.4h1v1h-1zM216.0 334.6h1v1h-1zM190.2 361.2h1v1h-1zM217.4 332.7h1v1h-1zM188.9 354.9h1v1h-1zM182.5 396.0h1v1h-1zM198.0 355.2h1v1h-1zM186.0 394.3h1v1h-1zM186.1 392.3h1v1h-1zM189.4 347.0h1v1h-1zM186.9 391.1h1v1h-1zM189.7 358.2h1v1h-1zM188.1 396.7h1v1h-1zM183.4 376.6h1v1h-1zM189.0 366.9h1v1h-1zM183.0 382.3h1v1h-1zM187.5 356.9h1v1h-1zM183.2 390.9h1v1h-1zM199.4 343.5h1v1h-1zM200.6 349.7h1v1h-1zM182.9 370.1h1v1h-1zM188.0 372.0h1v1h-1zM181.0 388.0h1v1h-1zM186.1 377.8h1v1h-1zM206.2 333.3h1v1h-1zM189.6 362.0h1v1h-1zM192.7 342.1h1v1h-1zM218.0 337.3h1v1h-1zM190.3 364.3h1v1h-1zM198.3 347.0h1v1h-1zM187.6 376.1h1v1h-1zM214.7 336.8h1v1h-1zM216.6 329.1h1v1h-1zM188.3 369.3h1v1h-1zM217.4 333.5h1v1h-1zM205.5 337.6h1v1h-1zM186.3 369.5h1v1h-1zM184.8 371.3h1v1h-1zM210.7 340.9h1v1h-1zM176.5 377.1h1v1h-1zM186.3 393.4h1v1h-1zM184.5 378.3h1v1h-1zM193.2 356.1h1v1h-1zM215.5 335.6h1v1h-1zM183.1 375.2h1v1h-1zM190.6 356.9h1v1h-1zM189.4 372.0h1v1h-1zM221.4 330.3h1v1h-1zM188.6 371.8h1v1h-1zM204.5 339.7h1v1h-1zM193.8 350.7h1v1h-1z" fill="#2a0852"/>
<path d="M187.0 393.9h1v1h-1zM186.2 380.9h1v1h-1zM198.5 345.3h1v1h-1zM197.8 344.7h1v1h-1zM182.6 367.4h1v1h-1zM194.2 348.4h1v1h-1zM181.7 381.3h1v1h-1zM193.1 357.4h1v1h-1zM185.9 384.0h1v1h-1zM208.3 334.3h1v1h-1zM187.4 390.9h1v1h-1zM208.7 346.0h1v1h-1zM183.1 391.7h1v1h-1zM185.6 376.6h1v1h-1zM182.7 391.2h1v1h-1zM192.4 362.8h1v1h-1zM206.2 338.9h1v1h-1zM192.8 343.5h1v1h-1zM212.7 332.6h1v1h-1zM209.7 336.5h1v1h-1zM181.2 386.5h1v1h-1zM190.0 350.1h1v1h-1zM221.9 329.9h1v1h-1zM188.7 349.7h1v1h-1zM216.5 335.5h1v1h-1zM190.9 361.6h1v1h-1zM216.9 338.9h1v1h-1zM190.1 356.1h1v1h-1zM170.5 378.8h1v1h-1zM200.0 376.2h1v1h-1zM184.9 366.5h1v1h-1zM187.5 392.3h1v1h-1zM193.5 355.7h1v1h-1zM200.9 338.0h1v1h-1zM183.7 391.5h1v1h-1zM196.1 350.4h1v1h-1zM205.6 342.7h1v1h-1zM197.6 352.0h1v1h-1zM176.6 360.7h1v1h-1zM203.5 341.9h1v1h-1zM192.2 350.3h1v1h-1zM176.8 381.3h1v1h-1zM209.8 339.3h1v1h-1zM194.9 348.3h1v1h-1zM202.3 352.9h1v1h-1zM216.3 322.9h1v1h-1zM196.8 344.7h1v1h-1zM183.8 381.4h1v1h-1zM181.3 383.8h1v1h-1zM219.5 332.4h1v1h-1zM188.1 359.6h1v1h-1zM181.4 384.4h1v1h-1zM216.2 329.6h1v1h-1zM182.7 373.9h1v1h-1zM213.1 334.3h1v1h-1zM192.9 378.9h1v1h-1zM189.1 362.8h1v1h-1zM189.0 379.8h1v1h-1zM207.5 336.3h1v1h-1zM188.0 360.6h1v1h-1zM188.1 385.6h1v1h-1zM207.6 337.3h1v1h-1zM190.4 364.9h1v1h-1zM183.2 392.2h1v1h-1zM205.6 338.6h1v1h-1zM186.8 391.9h1v1h-1zM195.5 349.7h1v1h-1zM207.0 337.0h1v1h-1zM220.0 332.3h1v1h-1zM207.8 339.3h1v1h-1zM217.9 334.9h1v1h-1zM192.2 348.1h1v1h-1zM181.3 360.0h1v1h-1zM182.7 369.6h1v1h-1zM208.9 336.2h1v1h-1zM212.5 336.6h1v1h-1zM182.7 389.3h1v1h-1zM188.2 380.9h1v1h-1zM180.8 361.7h1v1h-1zM186.1 381.0h1v1h-1zM183.4 387.6h1v1h-1zM200.7 352.7h1v1h-1zM185.4 385.6h1v1h-1zM204.2 336.9h1v1h-1zM191.9 360.2h1v1h-1zM211.1 342.9h1v1h-1zM181.9 379.9h1v1h-1zM213.4 334.2h1v1h-1zM185.5 390.1h1v1h-1zM203.1 344.5h1v1h-1zM216.6 332.6h1v1h-1zM189.6 361.4h1v1h-1zM197.9 344.9h1v1h-1zM193.9 357.1h1v1h-1zM186.6 380.1h1v1h-1zM180.9 378.5h1v1h-1zM207.0 340.7h1v1h-1zM182.7 382.7h1v1h-1zM200.7 352.6h1v1h-1zM188.3 367.7h1v1h-1zM191.5 368.6h1v1h-1zM184.7 396.6h1v1h-1zM194.7 351.2h1v1h-1zM186.9 379.0h1v1h-1zM187.4 360.8h1v1h-1zM194.4 344.6h1v1h-1zM213.9 331.5h1v1h-1zM184.0 367.0h1v1h-1zM186.1 389.5h1v1h-1zM209.7 351.4h1v1h-1zM183.7 378.7h1v1h-1zM189.2 380.6h1v1h-1z" fill="#2e0a5e"/>
<path d="M184.8 382.8h1v1h-1zM186.8 370.5h1v1h-1zM195.6 351.1h1v1h-1zM186.5 377.4h1v1h-1zM190.7 355.6h1v1h-1zM199.4 346.4h1v1h-1zM182.5 380.1h1v1h-1zM213.9 331.6h1v1h-1zM210.0 343.6h1v1h-1zM187.4 376.3h1v1h-1zM213.0 334.5h1v1h-1zM194.0 359.8h1v1h-1zM185.3 397.3h1v1h-1zM196.3 348.5h1v1h-1zM214.5 330.9h1v1h-1zM185.2 365.8h1v1h-1zM197.8 348.8h1v1h-1zM181.7 385.2h1v1h-1zM219.0 332.8h1v1h-1zM197.9 350.6h1v1h-1zM191.1 350.7h1v1h-1zM177.8 388.1h1v1h-1zM203.9 343.5h1v1h-1zM206.0 336.8h1v1h-1zM189.8 371.6h1v1h-1zM184.9 395.4h1v1h-1zM207.0 339.7h1v1h-1zM184.2 358.5h1v1h-1zM189.1 381.3h1v1h-1zM185.2 389.1h1v1h-1zM194.4 355.8h1v1h-1zM197.3 351.1h1v1h-1zM207.4 333.3h1v1h-1zM207.3 340.1h1v1h-1zM193.1 347.2h1v1h-1zM185.3 389.7h1v1h-1zM189.3 366.9h1v1h-1zM218.8 330.7h1v1h-1zM204.5 334.7h1v1h-1zM179.5 378.0h1v1h-1zM187.3 361.7h1v1h-1zM210.3 332.5h1v1h-1zM198.7 350.1h1v1h-1zM177.8 375.5h1v1h-1zM183.2 390.8h1v1h-1zM219.9 328.8h1v1h-1zM194.8 352.4h1v1h-1zM200.6 350.9h1v1h-1zM216.3 331.8h1v1h-1zM191.4 356.3h1v1h-1zM217.2 330.2h1v1h-1zM187.4 386.5h1v1h-1zM216.8 331.9h1v1h-1zM193.2 354.8h1v1h-1zM197.6 350.0h1v1h-1zM193.7 350.3h1v1h-1zM191.1 385.1h1v1h-1zM186.1 391.3h1v1h-1zM185.1 367.7h1v1h-1zM198.6 342.3h1v1h-1zM214.2 332.9h1v1h-1zM186.2 381.8h1v1h-1zM184.5 395.7h1v1h-1zM181.9 379.9h1v1h-1zM183.4 382.2h1v1h-1zM209.0 340.0h1v1h-1zM183.7 393.0h1v1h-1zM202.1 344.8h1v1h-1zM190.2 358.2h1v1h-1zM190.4 362.0h1v1h-1zM184.0 384.1h1v1h-1zM182.7 374.6h1v1h-1zM202.1 348.5h1v1h-1zM206.1 337.6h1v1h-1zM198.8 349.3h1v1h-1zM187.5 357.3h1v1h-1zM216.3 333.6h1v1h-1zM188.8 355.0h1v1h-1zM201.7 342.9h1v1h-1zM190.4 354.2h1v1h-1zM184.0 372.2h1v1h-1zM209.7 359.5h1v1h-1zM181.4 364.9h1v1h-1zM192.2 368.4h1v1h-1zM201.8 345.1h1v1h-1zM187.6 360.8h1v1h-1zM186.3 364.1h1v1h-1zM184.0 375.3h1v1h-1zM219.9 328.7h1v1h-1zM182.9 365.1h1v1h-1zM216.8 332.9h1v1h-1zM184.9 389.6h1v1h-1zM183.3 392.9h1v1h-1zM185.4 393.3h1v1h-1zM207.2 338.6h1v1h-1zM204.4 345.8h1v1h-1zM189.2 389.1h1v1h-1zM216.1 334.9h1v1h-1zM185.0 371.7h1v1h-1zM215.6 331.4h1v1h-1zM188.0 369.2h1v1h-1zM199.7 339.3h1v1h-1zM214.1 336.6h1v1h-1zM182.5 367.5h1v1h-1zM221.6 329.7h1v1h-1zM209.3 334.9h1v1h-1zM183.1 377.2h1v1h-1zM216.1 346.4h1v1h-1zM193.4 361.9h1v1h-1zM184.1 396.3h1v1h-1zM187.7 361.0h1v1h-1zM186.2 357.9h1v1h-1zM189.7 360.4h1v1h-1zM197.0 348.8h1v1h-1zM181.9 390.1h1v1h-1zM215.6 332.9h1v1h-1zM203.1 336.1h1v1h-1zM198.0 351.5h1v1h-1zM187.0 378.0h1v1h-1zM186.0 389.6h1v1h-1zM193.1 355.1h1v1h-1zM191.0 342.1h1v1h-1zM187.4 390.1h1v1h-1zM199.0 342.1h1v1h-1zM202.4 343.1h1v1h-1zM195.1 366.2h1v1h-1zM184.9 390.0h1v1h-1zM193.3 358.7h1v1h-1zM185.3 389.7h1v1h-1zM180.4 376.3h1v1h-1zM184.4 391.9h1v1h-1zM204.5 348.6h1v1h-1zM187.6 373.5h1v1h-1zM186.7 365.0h1v1h-1zM188.3 345.2h1v1h-1zM186.3 358.7h1v1h-1zM195.0 347.1h1v1h-1zM184.5 394.7h1v1h-1zM215.7 333.4h1v1h-1zM184.9 372.2h1v1h-1zM183.1 365.3h1v1h-1zM192.4 349.0h1v1h-1z" fill="#3c1273"/>
<path d="M251.4 356.8h1v1h-1zM264.9 369.2h1v1h-1zM260.9 369.1h1v1h-1zM246.9 345.3h1v1h-1zM243.4 353.0h1v1h-1zM235.0 351.2h1v1h-1zM248.9 355.1h1v1h-1zM236.7 349.6h1v1h-1zM234.2 344.8h1v1h-1zM237.3 342.0h1v1h-1zM255.1 357.1h1v1h-1zM235.0 348.0h1v1h-1zM262.4 368.3h1v1h-1zM264.3 367.9h1v1h-1zM235.8 341.6h1v1h-1zM239.4 350.1h1v1h-1zM245.3 359.8h1v1h-1zM246.7 351.4h1v1h-1zM256.6 361.9h1v1h-1zM257.8 367.5h1v1h-1zM263.9 358.7h1v1h-1zM248.2 351.7h1v1h-1zM257.1 352.4h1v1h-1zM261.6 363.0h1v1h-1zM241.0 355.9h1v1h-1zM252.5 364.6h1v1h-1zM250.1 358.4h1v1h-1z" fill="#5a2c98"/>
<path d="M241.9 359.3h1v1h-1zM242.8 348.4h1v1h-1zM242.4 350.1h1v1h-1zM264.2 357.7h1v1h-1zM255.1 362.6h1v1h-1zM255.2 364.4h1v1h-1zM256.6 349.2h1v1h-1zM251.0 358.6h1v1h-1zM239.4 351.7h1v1h-1zM234.5 347.6h1v1h-1zM236.7 352.4h1v1h-1zM251.6 352.7h1v1h-1zM261.9 368.6h1v1h-1zM230.9 350.0h1v1h-1zM253.9 345.8h1v1h-1zM233.3 348.2h1v1h-1zM240.9 340.9h1v1h-1zM257.0 357.3h1v1h-1zM248.1 357.5h1v1h-1zM247.9 353.6h1v1h-1zM262.2 365.5h1v1h-1zM247.3 357.6h1v1h-1zM252.4 351.0h1v1h-1zM241.9 355.7h1v1h-1zM257.4 358.6h1v1h-1zM230.5 351.0h1v1h-1zM237.5 358.9h1v1h-1zM241.7 353.6h1v1h-1zM245.5 352.4h1v1h-1zM265.3 366.4h1v1h-1z" fill="#2a0852"/>
<path d="M266.5 365.7h1v1h-1zM246.1 348.4h1v1h-1zM250.5 353.3h1v1h-1zM252.3 358.8h1v1h-1zM255.1 360.8h1v1h-1zM264.5 368.2h1v1h-1zM253.1 350.3h1v1h-1zM240.0 343.9h1v1h-1zM237.5 357.6h1v1h-1zM234.0 358.7h1v1h-1zM241.4 352.7h1v1h-1zM238.6 340.0h1v1h-1zM230.2 350.7h1v1h-1zM260.4 364.6h1v1h-1zM255.5 364.5h1v1h-1zM246.3 348.7h1v1h-1zM262.2 368.1h1v1h-1zM245.1 355.0h1v1h-1zM232.9 354.8h1v1h-1zM250.2 361.1h1v1h-1zM239.3 349.7h1v1h-1zM232.8 350.9h1v1h-1zM247.7 356.5h1v1h-1zM256.0 364.0h1v1h-1zM256.8 369.6h1v1h-1zM240.9 346.5h1v1h-1zM247.4 354.1h1v1h-1zM261.6 366.1h1v1h-1zM230.5 356.1h1v1h-1zM257.7 361.4h1v1h-1zM239.3 346.9h1v1h-1zM254.9 349.6h1v1h-1zM262.8 362.5h1v1h-1zM256.7 364.3h1v1h-1z" fill="#2e0a5e"/>
<path d="M259.2 368.4h1v1h-1zM237.1 349.8h1v1h-1zM235.4 340.7h1v1h-1zM262.6 364.0h1v1h-1zM243.3 347.3h1v1h-1zM263.1 363.5h1v1h-1zM242.8 343.5h1v1h-1zM236.2 345.5h1v1h-1zM258.6 363.3h1v1h-1zM235.2 344.4h1v1h-1zM248.1 353.5h1v1h-1zM263.0 367.4h1v1h-1zM263.7 365.8h1v1h-1zM244.1 355.1h1v1h-1zM234.1 352.6h1v1h-1zM239.3 353.9h1v1h-1zM263.2 367.4h1v1h-1zM239.9 344.7h1v1h-1zM252.4 358.3h1v1h-1zM264.3 368.5h1v1h-1zM264.2 365.2h1v1h-1zM252.8 347.7h1v1h-1zM242.1 353.2h1v1h-1zM238.5 348.6h1v1h-1zM245.3 356.5h1v1h-1zM227.3 362.8h1v1h-1zM251.3 354.3h1v1h-1zM255.2 361.6h1v1h-1z" fill="#6a40a8"/>
<path d="M247.6 353.0h1v1h-1zM250.6 355.2h1v1h-1zM253.8 350.5h1v1h-1zM248.7 358.1h1v1h-1zM239.6 344.8h1v1h-1zM254.5 359.5h1v1h-1zM260.9 359.6h1v1h-1zM233.3 351.7h1v1h-1zM245.7 356.1h1v1h-1zM233.5 351.4h1v1h-1zM253.4 365.2h1v1h-1zM250.7 353.8h1v1h-1zM242.5 355.2h1v1h-1zM238.5 351.5h1v1h-1zM239.2 355.5h1v1h-1zM238.1 351.9h1v1h-1zM243.0 346.9h1v1h-1zM261.6 361.8h1v1h-1zM248.9 355.3h1v1h-1zM237.9 352.5h1v1h-1zM268.0 359.2h1v1h-1zM255.3 369.2h1v1h-1zM258.4 362.2h1v1h-1zM258.8 368.7h1v1h-1zM240.8 352.1h1v1h-1zM236.2 342.0h1v1h-1z" fill="#3c1273"/>
<path d="M260.9 366.3h1v1h-1zM244.7 353.0h1v1h-1zM238.1 362.2h1v1h-1zM245.1 340.6h1v1h-1zM247.2 372.1h1v1h-1zM264.7 358.2h1v1h-1zM236.8 343.9h1v1h-1zM241.5 350.1h1v1h-1zM243.9 347.2h1v1h-1zM234.1 347.7h1v1h-1zM237.2 346.4h1v1h-1zM267.5 364.4h1v1h-1zM242.5 358.8h1v1h-1zM259.9 365.6h1v1h-1zM241.5 350.7h1v1h-1zM249.2 363.5h1v1h-1zM253.7 362.0h1v1h-1zM255.3 349.9h1v1h-1zM263.1 365.3h1v1h-1zM249.7 363.3h1v1h-1zM250.6 362.5h1v1h-1zM242.5 354.6h1v1h-1zM252.0 358.4h1v1h-1zM250.2 351.5h1v1h-1zM261.1 367.9h1v1h-1zM251.6 363.8h1v1h-1zM248.3 347.5h1v1h-1zM249.3 336.8h1v1h-1z" fill="#4a1b86"/>
<path d="M230.5 349.2h1v1h-1zM243.8 347.4h1v1h-1zM264.6 364.1h1v1h-1zM228.8 351.6h1v1h-1zM264.7 365.1h1v1h-1zM248.4 356.7h1v1h-1zM258.7 368.1h1v1h-1zM260.6 367.5h1v1h-1zM256.5 369.8h1v1h-1zM239.8 351.0h1v1h-1zM248.0 352.3h1v1h-1zM258.4 360.8h1v1h-1zM237.1 348.1h1v1h-1zM245.8 353.1h1v1h-1zM233.7 352.6h1v1h-1zM239.7 349.9h1v1h-1zM237.3 344.6h1v1h-1zM261.5 365.6h1v1h-1zM264.3 356.6h1v1h-1zM239.4 348.5h1v1h-1zM254.5 358.2h1v1h-1zM241.8 346.4h1v1h-1zM266.5 366.3h1v1h-1zM246.6 349.9h1v1h-1zM263.5 369.1h1v1h-1zM246.8 347.4h1v1h-1zM252.8 362.7h1v1h-1z" fill="#3a1070"/>
<path d="M82.6 283.5h0.9v0.9h-0.9zM99.6 272.4h0.9v0.9h-0.9zM151.7 294.7h0.9v0.9h-0.9zM98.1 333.7h0.9v0.9h-0.9zM175.5 366.1h0.9v0.9h-0.9zM120.2 305.1h0.9v0.9h-0.9zM225.7 376.6h0.9v0.9h-0.9z" fill="#5a2c98" opacity="0.7"/>
<path d="M109.6 275.2h0.9v0.9h-0.9zM255.6 388.7h0.9v0.9h-0.9zM214.6 296.3h0.9v0.9h-0.9zM256.2 376.2h0.9v0.9h-0.9zM106.2 373.8h0.9v0.9h-0.9zM136.6 382.7h0.9v0.9h-0.9zM227.4 295.3h0.9v0.9h-0.9zM142.4 326.9h0.9v0.9h-0.9z" fill="#2e0a5e" opacity="0.7"/>
<path d="M192.4 355.4h0.9v0.9h-0.9zM156.6 384.6h0.9v0.9h-0.9zM117.8 286.2h0.9v0.9h-0.9zM256.0 305.4h0.9v0.9h-0.9zM114.1 388.8h0.9v0.9h-0.9zM244.1 326.4h0.9v0.9h-0.9zM173.6 389.2h0.9v0.9h-0.9zM185.7 297.2h0.9v0.9h-0.9zM220.3 357.9h0.9v0.9h-0.9zM251.7 316.1h0.9v0.9h-0.9zM276.4 303.3h0.9v0.9h-0.9zM167.7 278.2h0.9v0.9h-0.9zM239.1 306.1h0.9v0.9h-0.9z" fill="#3c1273" opacity="0.7"/>
<path d="M111.0 358.9h0.9v0.9h-0.9zM92.7 297.7h0.9v0.9h-0.9zM232.0 320.0h0.9v0.9h-0.9zM146.4 295.6h0.9v0.9h-0.9zM158.7 384.8h0.9v0.9h-0.9zM163.8 379.2h0.9v0.9h-0.9zM164.6 275.8h0.9v0.9h-0.9zM104.8 281.9h0.9v0.9h-0.9zM103.5 286.6h0.9v0.9h-0.9zM230.6 325.4h0.9v0.9h-0.9zM105.9 364.0h0.9v0.9h-0.9z" fill="#3a1070" opacity="0.7"/>
<path d="M174.0 319.5h0.9v0.9h-0.9zM135.3 305.2h0.9v0.9h-0.9zM268.3 337.2h0.9v0.9h-0.9zM120.5 380.5h0.9v0.9h-0.9zM187.5 373.2h0.9v0.9h-0.9zM224.8 336.5h0.9v0.9h-0.9zM125.4 386.3h0.9v0.9h-0.9z" fill="#2a0852" opacity="0.7"/>
<path d="M195.0 384.4h0.9v0.9h-0.9zM216.7 296.2h0.9v0.9h-0.9zM163.2 347.6h0.9v0.9h-0.9zM179.9 329.8h0.9v0.9h-0.9zM183.0 340.9h0.9v0.9h-0.9zM207.3 329.7h0.9v0.9h-0.9zM241.2 300.6h0.9v0.9h-0.9zM273.9 376.4h0.9v0.9h-0.9zM225.9 332.9h0.9v0.9h-0.9zM201.7 289.9h0.9v0.9h-0.9zM193.7 299.1h0.9v0.9h-0.9zM134.4 294.3h0.9v0.9h-0.9zM226.6 314.2h0.9v0.9h-0.9z" fill="#6a40a8" opacity="0.7"/>
<path d="M170.8 314.1h0.9v0.9h-0.9zM288.6 364.8h0.9v0.9h-0.9zM105.1 293.3h0.9v0.9h-0.9zM82.3 315.0h0.9v0.9h-0.9zM120.6 368.5h0.9v0.9h-0.9zM252.0 309.1h0.9v0.9h-0.9zM109.5 315.7h0.9v0.9h-0.9zM123.0 376.8h0.9v0.9h-0.9zM86.9 343.8h0.9v0.9h-0.9zM130.4 308.6h0.9v0.9h-0.9zM286.1 303.3h0.9v0.9h-0.9z" fill="#4a1b86" opacity="0.7"/>
<defs><linearGradient id="inf" x1="0" y1="0" x2="0" y2="1"><stop offset="0.0" stop-color="#fcffa4"/><stop offset="0.1" stop-color="#f6d746"/><stop offset="0.2" stop-color="#fca50a"/><stop offset="0.3" stop-color="#f37819"/><stop offset="0.4" stop-color="#dd513a"/><stop offset="0.5" stop-color="#bc3754"/><stop offset="0.6" stop-color="#932667"/><stop offset="0.7" stop-color="#6a176e"/><stop offset="0.8" stop-color="#420a68"/><stop offset="0.9" stop-color="#160b39"/><stop offset="1.0" stop-color="#000004"/></linearGradient><linearGradient id="vir" x1="0" y1="0" x2="0" y2="1"><stop offset="0.0" stop-color="#fde725"/><stop offset="0.1" stop-color="#bddf26"/><stop offset="0.2" stop-color="#7ad151"/><stop offset="0.3" stop-color="#44bf70"/><stop offset="0.4" stop-color="#22a884"/><stop offset="0.5" stop-color="#21918c"/><stop offset="0.6" stop-color="#2a788e"/><stop offset="0.7" stop-color="#355f8d"/><stop offset="0.8" stop-color="#414487"/><stop offset="0.9" stop-color="#482475"/><stop offset="1.0" stop-color="#440154"/></linearGradient></defs>
<rect x="21.2" y="346.4" width="7.9" height="44.8" fill="url(#inf)"/>
<text x="32.60" y="355.20" font-size="6.5" fill="#333" stroke="#333" stroke-width="0.2" textLength="9.70" lengthAdjust="spacingAndGlyphs">7.0</text>
<text x="32.60" y="374.00" font-size="6.5" fill="#333" stroke="#333" stroke-width="0.2" textLength="9.70" lengthAdjust="spacingAndGlyphs">3.5</text>
<text x="32.60" y="392.20" font-size="6.5" fill="#333" stroke="#333" stroke-width="0.2" textLength="9.70" lengthAdjust="spacingAndGlyphs">0.0</text>
<text x="46.60" y="347.30" font-size="6.5" fill="#333" stroke="#333" stroke-width="0.2" textLength="11.50" lengthAdjust="spacingAndGlyphs">−10</text>
<text x="82.30" y="368.50" font-size="6.5" fill="#333" stroke="#333" stroke-width="0.2" text-anchor="middle">−5</text>
<text x="120.80" y="394.60" font-size="6.5" fill="#333" stroke="#333" stroke-width="0.2" text-anchor="middle">0</text>
<text x="101.00" y="396.40" font-size="7.2" fill="#333" stroke="#333" stroke-width="0.2" text-anchor="middle" textLength="23.00" lengthAdjust="spacingAndGlyphs" transform="rotate(38 101.00 396.40)">UMAP2</text>
<text x="300.50" y="329.30" font-size="6.5" fill="#333" stroke="#333" stroke-width="0.2" text-anchor="middle">−5</text>
<text x="290.90" y="354.60" font-size="6.5" fill="#333" stroke="#333" stroke-width="0.2" text-anchor="middle">0</text>
<text x="277.40" y="389.10" font-size="6.5" fill="#333" stroke="#333" stroke-width="0.2" text-anchor="middle">5</text>
<text x="297.80" y="375.90" font-size="7.2" fill="#333" stroke="#333" stroke-width="0.2" text-anchor="middle" textLength="22.00" lengthAdjust="spacingAndGlyphs" transform="rotate(-67.6 297.80 375.90)">UMAP1</text>
<text x="218.00" y="402.20" font-size="8.7" fill="#333" stroke="#333" stroke-width="0.2" textLength="37.00" lengthAdjust="spacingAndGlyphs">3D uMAP</text>
<text x="320.40" y="227.30" font-size="11" fill="#111" font-weight="bold">D</text>
<text x="428.30" y="227.00" font-size="8.2" fill="#333" stroke="#333" stroke-width="0.2" text-anchor="middle" textLength="41.90" lengthAdjust="spacingAndGlyphs">Kynurenine</text>
<path d="M352.00,276.10 L361.00,276.60 L378.50,275.00 L390.00,274.00 L405.40,272.80 L420.80,269.20 L440.00,262.80 L460.00,256.40 L480.00,250.40 L500.00,245.80 L512.70,242.60 L512.70,245.80 L500.00,249.00 L480.00,253.60 L460.00,259.60 L440.00,266.00 L420.80,272.40 L405.40,276.00 L390.00,277.20 L378.50,278.20 L361.00,279.80 L352.00,279.30 Z" fill="#cfe0ee" opacity="0.9"/>
<path d="M470.00,254.50 L485.00,247.50 L500.00,240.20 L512.70,234.30 L512.70,253.30 L500.00,252.20 L485.00,253.50 L470.00,255.50 Z" fill="#d9d9d9" opacity="0.9"/>
<path d="M352.00,277.70 C353.50,277.78 356.58,278.38 361.00,278.20 C365.42,278.02 373.67,277.03 378.50,276.60 C383.33,276.17 385.52,275.97 390.00,275.60 C394.48,275.23 400.27,275.20 405.40,274.40 C410.53,273.60 415.03,272.47 420.80,270.80 C426.57,269.13 433.47,266.53 440.00,264.40 C446.53,262.27 453.33,260.07 460.00,258.00 C466.67,255.93 473.33,253.77 480.00,252.00 C486.67,250.23 494.55,248.70 500.00,247.40 C505.45,246.10 510.58,244.73 512.70,244.20" fill="none" stroke="#2a3652" stroke-width="1.3" stroke-linecap="round"/>
<path d="M470.00,312.70 L485.00,307.20 L498.00,302.80 L505.20,299.80 L505.20,316.80 L498.00,314.80 L485.00,313.20 L470.00,313.70 Z" fill="#d9d9d9" opacity="0.85"/>
<path d="M470.00,319.50 L490.00,312.80 L505.00,306.00 L513.30,302.80 L513.30,319.80 L505.00,319.00 L490.00,318.80 L470.00,320.50 Z" fill="#dcdcdc" opacity="0.85"/>
<path d="M352.00,329.40 L373.50,330.00 L395.00,328.80 L410.00,327.20 L435.40,324.00 L450.00,319.30 L462.90,314.50 L484.00,309.20 L505.20,307.10 L505.20,309.50 L484.00,311.60 L462.90,316.90 L450.00,321.70 L435.40,326.40 L410.00,329.60 L395.00,331.20 L373.50,332.40 L352.00,331.80 Z" fill="#d8ecf6" opacity="0.9"/>
<path d="M352.00,330.60 C355.58,330.70 366.33,331.30 373.50,331.20 C380.67,331.10 388.92,330.47 395.00,330.00 C401.08,329.53 403.27,329.20 410.00,328.40 C416.73,327.60 428.73,326.52 435.40,325.20 C442.07,323.88 445.42,322.08 450.00,320.50 C454.58,318.92 457.23,317.38 462.90,315.70 C468.57,314.02 476.95,311.63 484.00,310.40 C491.05,309.17 501.67,308.65 505.20,308.30" fill="none" stroke="#56acdc" stroke-width="1.3" stroke-linecap="round"/>
<path d="M352.00,341.20 C355.58,341.35 366.83,342.03 373.50,342.10 C380.17,342.17 387.52,341.82 392.00,341.60 C396.48,341.38 397.40,341.42 400.40,340.80 C403.40,340.18 405.90,339.45 410.00,337.90 C414.10,336.35 420.07,333.43 425.00,331.50 C429.93,329.57 433.28,327.88 439.60,326.30 C445.92,324.72 454.43,323.77 462.90,322.00 C471.37,320.23 482.00,317.57 490.40,315.70 C498.80,313.83 509.48,311.62 513.30,310.80" fill="none" stroke="#b4203c" stroke-width="1.3" stroke-linecap="round"/>
<text x="346.50" y="305.30" font-size="6.6" fill="#333" stroke="#333" stroke-width="0.2" textLength="10.00" lengthAdjust="spacingAndGlyphs">Sex</text>
<rect x="346.5" y="310.8" width="4.3" height="4.3" fill="#b4203c"/>
<text x="353.80" y="315.30" font-size="7.2" fill="#333" stroke="#333" stroke-width="0.2" textLength="20.60" lengthAdjust="spacingAndGlyphs">Female</text>
<rect x="346.5" y="320.4" width="4.3" height="4.3" fill="#56acdc"/>
<text x="353.80" y="324.90" font-size="7.2" fill="#333" stroke="#333" stroke-width="0.2" textLength="13.90" lengthAdjust="spacingAndGlyphs">Male</text>
<path d="M352.00,390.60 L360.00,393.60 L367.70,394.60 L377.00,393.00 L387.00,389.80 L398.00,387.20 L410.00,385.10 L422.00,383.20 L433.30,380.90 L443.80,382.00 L457.00,379.50 L471.30,377.30 L487.20,376.70 L487.20,384.70 L471.30,385.30 L457.00,387.50 L443.80,390.00 L433.30,388.90 L422.00,391.20 L410.00,393.10 L398.00,395.20 L387.00,397.80 L377.00,401.00 L367.70,402.60 L360.00,401.60 L352.00,398.60 Z" fill="#e4dcec" opacity="0.9"/>
<path d="M455.00,381.50 L465.00,374.00 L475.00,367.00 L487.20,359.70 L487.20,399.70 L475.00,393.00 L465.00,389.00 L455.00,385.50 Z" fill="#d6d6d6" opacity="0.85"/>
<path d="M478.00,379.00 L495.00,370.50 L505.20,364.40 L505.20,386.40 L495.00,385.50 L478.00,385.00 Z" fill="#dcdcdc" opacity="0.8"/>
<path d="M480.00,384.00 L495.00,378.50 L505.20,373.30 L505.20,390.30 L495.00,389.50 L480.00,390.00 Z" fill="#dddddd" opacity="0.8"/>
<path d="M480.00,391.00 L500.00,386.50 L513.00,383.10 L513.00,396.10 L500.00,394.50 L480.00,395.00 Z" fill="#e6dadd" opacity="0.7"/>
<path d="M352.00,398.00 L367.70,400.00 L390.00,400.30 L410.00,399.80 L425.00,395.50 L441.70,390.30 L462.90,383.90 L486.20,380.30 L505.20,375.40 L505.20,377.40 L486.20,382.30 L462.90,385.90 L441.70,392.30 L425.00,397.50 L410.00,401.80 L390.00,402.30 L367.70,402.00 L352.00,400.00 Z" fill="#dceef8" opacity="0.9"/>
<path d="M352.00,407.30 C355.00,407.22 364.17,406.98 370.00,406.80 C375.83,406.62 382.00,406.05 387.00,406.20 C392.00,406.35 396.17,407.62 400.00,407.70 C403.83,407.78 405.83,407.25 410.00,406.70 C414.17,406.15 419.72,405.22 425.00,404.40 C430.28,403.58 433.62,403.28 441.70,401.80 C449.78,400.32 464.62,397.20 473.50,395.50 C482.38,393.80 488.42,392.67 495.00,391.60 C501.58,390.53 510.00,389.52 513.00,389.10" fill="none" stroke="#b4203c" stroke-width="1.2" stroke-linecap="round"/>
<path d="M352.00,402.00 C354.62,402.30 361.37,403.57 367.70,403.80 C374.03,404.03 382.95,403.73 390.00,403.40 C397.05,403.07 402.08,403.02 410.00,401.80 C417.92,400.58 427.63,397.68 437.50,396.10 C447.37,394.52 460.95,393.73 469.20,392.30 C477.45,390.87 481.00,389.33 487.00,387.50 C493.00,385.67 502.17,382.33 505.20,381.30" fill="none" stroke="#3ea64a" stroke-width="1.2" stroke-linecap="round"/>
<path d="M352.00,399.00 C354.62,399.33 361.37,400.62 367.70,401.00 C374.03,401.38 382.95,401.33 390.00,401.30 C397.05,401.27 404.17,401.60 410.00,400.80 C415.83,400.00 419.72,398.08 425.00,396.50 C430.28,394.92 435.38,393.23 441.70,391.30 C448.02,389.37 455.48,386.57 462.90,384.90 C470.32,383.23 479.15,382.72 486.20,381.30 C493.25,379.88 502.03,377.22 505.20,376.40" fill="none" stroke="#56acdc" stroke-width="1.2" stroke-linecap="round"/>
<path d="M352.00,394.60 C353.33,395.10 357.38,396.93 360.00,397.60 C362.62,398.27 364.87,398.70 367.70,398.60 C370.53,398.50 373.78,397.80 377.00,397.00 C380.22,396.20 383.50,394.77 387.00,393.80 C390.50,392.83 394.17,391.98 398.00,391.20 C401.83,390.42 406.00,389.77 410.00,389.10 C414.00,388.43 418.12,387.90 422.00,387.20 C425.88,386.50 429.67,385.10 433.30,384.90 C436.93,384.70 439.85,386.23 443.80,386.00 C447.75,385.77 452.42,384.28 457.00,383.50 C461.58,382.72 466.27,381.77 471.30,381.30 C476.33,380.83 484.55,380.80 487.20,380.70" fill="none" stroke="#3c1c5c" stroke-width="1.2" stroke-linecap="round"/>
<text x="346.50" y="366.00" font-size="6.6" fill="#333" stroke="#333" stroke-width="0.2" textLength="11.50" lengthAdjust="spacingAndGlyphs">BMI</text>
<rect x="346.5" y="371.9" width="4.3" height="4.3" fill="#b4203c"/>
<text x="354.00" y="376.40" font-size="7.2" fill="#333" stroke="#333" stroke-width="0.2" textLength="12.00" lengthAdjust="spacingAndGlyphs">&lt;25</text>
<rect x="376.3" y="371.9" width="4.3" height="4.3" fill="#56acdc"/>
<text x="383.80" y="376.40" font-size="7.2" fill="#333" stroke="#333" stroke-width="0.2" textLength="16.00" lengthAdjust="spacingAndGlyphs">30-40</text>
<rect x="346.5" y="382.0" width="4.3" height="4.3" fill="#3ea64a"/>
<text x="354.00" y="386.50" font-size="7.2" fill="#333" stroke="#333" stroke-width="0.2" textLength="16.20" lengthAdjust="spacingAndGlyphs">25-30</text>
<rect x="376.3" y="382.0" width="4.3" height="4.3" fill="#3c1c5c"/>
<text x="383.80" y="386.50" font-size="7.2" fill="#333" stroke="#333" stroke-width="0.2" textLength="10.60" lengthAdjust="spacingAndGlyphs">&gt;40</text>
<rect x="343.5" y="232.5" width="170" height="50.0" fill="none" stroke="#222" stroke-width="1"/>
<line x1="340.80" y1="233.50" x2="343.60" y2="233.50" stroke="#333" stroke-width="0.8"/>
<text x="337.60" y="235.90" font-size="7.0" fill="#333" stroke="#333" stroke-width="0.2" text-anchor="end" textLength="8.56" lengthAdjust="spacingAndGlyphs">1.4</text>
<line x1="340.80" y1="249.50" x2="343.60" y2="249.50" stroke="#333" stroke-width="0.8"/>
<text x="337.60" y="251.90" font-size="7.0" fill="#333" stroke="#333" stroke-width="0.2" text-anchor="end" textLength="8.56" lengthAdjust="spacingAndGlyphs">1.2</text>
<line x1="340.80" y1="265.50" x2="343.60" y2="265.50" stroke="#333" stroke-width="0.8"/>
<text x="337.60" y="267.90" font-size="7.0" fill="#333" stroke="#333" stroke-width="0.2" text-anchor="end" textLength="8.56" lengthAdjust="spacingAndGlyphs">1.0</text>
<line x1="340.80" y1="281.50" x2="343.60" y2="281.50" stroke="#333" stroke-width="0.8"/>
<text x="337.60" y="283.90" font-size="7.0" fill="#333" stroke="#333" stroke-width="0.2" text-anchor="end" textLength="8.56" lengthAdjust="spacingAndGlyphs">0.8</text>
<rect x="343.5" y="296.5" width="170" height="49.0" fill="none" stroke="#222" stroke-width="1"/>
<line x1="340.80" y1="297.50" x2="343.60" y2="297.50" stroke="#333" stroke-width="0.8"/>
<text x="337.60" y="299.90" font-size="7.0" fill="#333" stroke="#333" stroke-width="0.2" text-anchor="end" textLength="8.56" lengthAdjust="spacingAndGlyphs">1.4</text>
<line x1="340.80" y1="313.50" x2="343.60" y2="313.50" stroke="#333" stroke-width="0.8"/>
<text x="337.60" y="315.90" font-size="7.0" fill="#333" stroke="#333" stroke-width="0.2" text-anchor="end" textLength="8.56" lengthAdjust="spacingAndGlyphs">1.2</text>
<line x1="340.80" y1="329.50" x2="343.60" y2="329.50" stroke="#333" stroke-width="0.8"/>
<text x="337.60" y="331.90" font-size="7.0" fill="#333" stroke="#333" stroke-width="0.2" text-anchor="end" textLength="8.56" lengthAdjust="spacingAndGlyphs">1.0</text>
<line x1="340.80" y1="345.50" x2="343.60" y2="345.50" stroke="#333" stroke-width="0.8"/>
<text x="337.60" y="347.90" font-size="7.0" fill="#333" stroke="#333" stroke-width="0.2" text-anchor="end" textLength="8.56" lengthAdjust="spacingAndGlyphs">0.8</text>
<rect x="343.5" y="358.5" width="170" height="53.0" fill="none" stroke="#222" stroke-width="1"/>
<line x1="340.80" y1="363.50" x2="343.60" y2="363.50" stroke="#333" stroke-width="0.8"/>
<text x="337.60" y="365.90" font-size="7.0" fill="#333" stroke="#333" stroke-width="0.2" text-anchor="end" textLength="8.56" lengthAdjust="spacingAndGlyphs">1.4</text>
<line x1="340.80" y1="378.50" x2="343.60" y2="378.50" stroke="#333" stroke-width="0.8"/>
<text x="337.60" y="380.90" font-size="7.0" fill="#333" stroke="#333" stroke-width="0.2" text-anchor="end" textLength="8.56" lengthAdjust="spacingAndGlyphs">1.2</text>
<line x1="340.80" y1="394.50" x2="343.60" y2="394.50" stroke="#333" stroke-width="0.8"/>
<text x="337.60" y="396.90" font-size="7.0" fill="#333" stroke="#333" stroke-width="0.2" text-anchor="end" textLength="8.56" lengthAdjust="spacingAndGlyphs">1.0</text>
<line x1="340.80" y1="410.50" x2="343.60" y2="410.50" stroke="#333" stroke-width="0.8"/>
<text x="337.60" y="412.90" font-size="7.0" fill="#333" stroke="#333" stroke-width="0.2" text-anchor="end" textLength="8.56" lengthAdjust="spacingAndGlyphs">0.8</text>
<line x1="355.20" y1="412.00" x2="355.20" y2="414.70" stroke="#333" stroke-width="0.8"/>
<text x="355.20" y="424.30" font-size="7.0" fill="#333" stroke="#333" stroke-width="0.2" text-anchor="middle" textLength="6.85" lengthAdjust="spacingAndGlyphs">20</text>
<line x1="399.92" y1="412.00" x2="399.92" y2="414.70" stroke="#333" stroke-width="0.8"/>
<text x="399.92" y="424.30" font-size="7.0" fill="#333" stroke="#333" stroke-width="0.2" text-anchor="middle" textLength="6.85" lengthAdjust="spacingAndGlyphs">40</text>
<line x1="444.64" y1="412.00" x2="444.64" y2="414.70" stroke="#333" stroke-width="0.8"/>
<text x="444.64" y="424.30" font-size="7.0" fill="#333" stroke="#333" stroke-width="0.2" text-anchor="middle" textLength="6.85" lengthAdjust="spacingAndGlyphs">60</text>
<line x1="489.36" y1="412.00" x2="489.36" y2="414.70" stroke="#333" stroke-width="0.8"/>
<text x="489.36" y="424.30" font-size="7.0" fill="#333" stroke="#333" stroke-width="0.2" text-anchor="middle" textLength="6.85" lengthAdjust="spacingAndGlyphs">80</text>
<line x1="343.50" y1="432.90" x2="409.40" y2="432.90" stroke="#6b7494" stroke-width="1.5"/>
<text x="412.90" y="435.60" font-size="8.2" fill="#333" stroke="#333" stroke-width="0.2" textLength="30.00" lengthAdjust="spacingAndGlyphs">Donor age</text>
<line x1="446.90" y1="432.90" x2="509.60" y2="432.90" stroke="#2a3368" stroke-width="1.5"/>
<polygon points="512.30,432.90 507.80,435.20 509.37,432.90 507.80,430.60" fill="#2a3368"/>
<text x="7.70" y="462.70" font-size="11" fill="#111" font-weight="bold">E</text>
<text x="23.50" y="462.30" font-size="8.4" fill="#333" stroke="#333" stroke-width="0.2" textLength="83.40" lengthAdjust="spacingAndGlyphs">Correlates to Osmotic</text>
<text x="65.40" y="472.60" font-size="8.4" fill="#333" stroke="#333" stroke-width="0.2" text-anchor="middle" textLength="37.80" lengthAdjust="spacingAndGlyphs">Hemolysis</text>
<text x="65.10" y="480.20" font-size="6.0" fill="#b4b4b4" stroke="#b4b4b4" stroke-width="0.2" text-anchor="middle" textLength="61.00" lengthAdjust="spacingAndGlyphs">in &gt;13K Index donors</text>
<line x1="39.50" y1="484.60" x2="39.50" y2="623.00" stroke="#222" stroke-width="1.1"/>
<line x1="39.00" y1="622.50" x2="83.70" y2="622.50" stroke="#222" stroke-width="1.1"/>
<line x1="36.50" y1="495.20" x2="39.20" y2="495.20" stroke="#222" stroke-width="0.8"/>
<text x="33.40" y="497.60" font-size="7.0" fill="#333" stroke="#333" stroke-width="0.2" text-anchor="end" textLength="6.85" lengthAdjust="spacingAndGlyphs">80</text>
<line x1="36.50" y1="525.35" x2="39.20" y2="525.35" stroke="#222" stroke-width="0.8"/>
<text x="33.40" y="527.75" font-size="7.0" fill="#333" stroke="#333" stroke-width="0.2" text-anchor="end" textLength="6.85" lengthAdjust="spacingAndGlyphs">60</text>
<line x1="36.50" y1="555.50" x2="39.20" y2="555.50" stroke="#222" stroke-width="0.8"/>
<text x="33.40" y="557.90" font-size="7.0" fill="#333" stroke="#333" stroke-width="0.2" text-anchor="end" textLength="6.85" lengthAdjust="spacingAndGlyphs">40</text>
<line x1="36.50" y1="585.65" x2="39.20" y2="585.65" stroke="#222" stroke-width="0.8"/>
<text x="33.40" y="588.05" font-size="7.0" fill="#333" stroke="#333" stroke-width="0.2" text-anchor="end" textLength="6.85" lengthAdjust="spacingAndGlyphs">20</text>
<line x1="36.50" y1="615.80" x2="39.20" y2="615.80" stroke="#222" stroke-width="0.8"/>
<text x="33.40" y="618.20" font-size="7.0" fill="#333" stroke="#333" stroke-width="0.2" text-anchor="end" textLength="3.43" lengthAdjust="spacingAndGlyphs">0</text>
<text x="21.80" y="553.20" font-size="7.6" fill="#333" stroke="#333" stroke-width="0.2" text-anchor="middle" textLength="28.80" lengthAdjust="spacingAndGlyphs" transform="rotate(-90 21.80 553.20)">-log10(<tspan font-style="italic">P</tspan>)</text>
<line x1="47.50" y1="622.40" x2="47.50" y2="625.40" stroke="#222" stroke-width="0.8"/>
<text x="50.50" y="630.00" font-size="7.0" fill="#333" stroke="#333" stroke-width="0.2" text-anchor="end" textLength="10.61" lengthAdjust="spacingAndGlyphs" transform="rotate(-45 50.50 630.00)">-0.1</text>
<line x1="58.50" y1="622.40" x2="58.50" y2="625.40" stroke="#222" stroke-width="0.8"/>
<text x="61.50" y="630.00" font-size="7.0" fill="#333" stroke="#333" stroke-width="0.2" text-anchor="end" textLength="8.56" lengthAdjust="spacingAndGlyphs" transform="rotate(-45 61.50 630.00)">0.0</text>
<line x1="69.40" y1="622.40" x2="69.40" y2="625.40" stroke="#222" stroke-width="0.8"/>
<text x="72.40" y="630.00" font-size="7.0" fill="#333" stroke="#333" stroke-width="0.2" text-anchor="end" textLength="8.56" lengthAdjust="spacingAndGlyphs" transform="rotate(-45 72.40 630.00)">0.1</text>
<line x1="80.70" y1="622.40" x2="80.70" y2="625.40" stroke="#222" stroke-width="0.8"/>
<text x="83.70" y="630.00" font-size="7.0" fill="#333" stroke="#333" stroke-width="0.2" text-anchor="end" textLength="8.56" lengthAdjust="spacingAndGlyphs" transform="rotate(-45 83.70 630.00)">0.2</text>
<text x="61.00" y="649.40" font-size="7.8" fill="#333" stroke="#333" stroke-width="0.2" text-anchor="middle" textLength="61.00" lengthAdjust="spacingAndGlyphs">Spearman to osmotic</text>
<text x="61.00" y="659.40" font-size="7.8" fill="#333" stroke="#333" stroke-width="0.2" text-anchor="middle" textLength="29.00" lengthAdjust="spacingAndGlyphs">hemolysis</text>
<defs><linearGradient id="vg" x1="0" y1="585" x2="0" y2="617" gradientUnits="userSpaceOnUse"><stop offset="0" stop-color="#3b528b"/><stop offset="0.5" stop-color="#472c7a"/><stop offset="1" stop-color="#440154"/></linearGradient></defs>
<path d="M49.3,585.6 C52,597 55.5,616 58.5,616 C61.5,616 65,597 67.9,586.4" fill="none" stroke="url(#vg)" stroke-width="3.4" stroke-linecap="round"/>
<circle cx="68.2" cy="583" r="1.65" fill="#35608d"/><circle cx="68.3" cy="580.5" r="1.65" fill="#33638d"/><circle cx="68.9" cy="577" r="1.65" fill="#306a8e"/><circle cx="68.9" cy="574" r="1.65" fill="#2e6e8e"/><circle cx="69.0" cy="572" r="1.65" fill="#2c728e"/><circle cx="69.2" cy="567.7" r="1.65" fill="#2a788e"/><circle cx="71.6" cy="560" r="1.65" fill="#238a8d"/><circle cx="71.7" cy="557" r="1.65" fill="#228d8d"/><circle cx="71.8" cy="553" r="1.65" fill="#21918c"/><circle cx="71.9" cy="550.5" r="1.65" fill="#20938c"/><circle cx="73.0" cy="543" r="1.65" fill="#1f998a"/><circle cx="73.0" cy="540" r="1.65" fill="#1f9c89"/><circle cx="73.0" cy="536.5" r="1.65" fill="#1fa088"/><circle cx="73.8" cy="532.3" r="1.65" fill="#20a386"/><circle cx="73.8" cy="529.5" r="1.65" fill="#22a785"/><circle cx="73.8" cy="527.5" r="1.65" fill="#24aa83"/><circle cx="75.2" cy="521.2" r="1.65" fill="#2fb47c"/><circle cx="75.8" cy="510.8" r="1.65" fill="#8fd744"/><circle cx="76.2" cy="503.4" r="1.65" fill="#b5de2b"/><circle cx="76.9" cy="495.8" r="1.65" fill="#dde318"/><circle cx="77.4" cy="490.8" r="1.65" fill="#fde725"/><circle cx="45.4" cy="550.5" r="1.65" fill="#20928c"/><circle cx="45.5" cy="555.8" r="1.65" fill="#228c8d"/><circle cx="46.2" cy="561.5" r="1.65" fill="#26828e"/><circle cx="47.5" cy="573.2" r="1.65" fill="#2f6b8e"/><circle cx="48.3" cy="573.8" r="1.65" fill="#2f6b8e"/>
<text x="43.00" y="501.60" font-size="6.2" fill="#222" stroke="#222" stroke-width="0.2" textLength="31.60" lengthAdjust="spacingAndGlyphs">Kynurenine</text>
<rect x="90.2" y="533.8" width="11.7" height="47.1" fill="url(#vir)"/>
<text x="102.60" y="528.20" font-size="6.2" fill="#333" stroke="#333" stroke-width="0.2" text-anchor="middle" textLength="26.80" lengthAdjust="spacingAndGlyphs">−log10(p)</text>
<text x="105.40" y="537.90" font-size="6.6" fill="#333" stroke="#333" stroke-width="0.2" textLength="7.20" lengthAdjust="spacingAndGlyphs">80</text>
<text x="105.40" y="549.60" font-size="6.6" fill="#333" stroke="#333" stroke-width="0.2" textLength="7.20" lengthAdjust="spacingAndGlyphs">60</text>
<text x="105.40" y="560.90" font-size="6.6" fill="#333" stroke="#333" stroke-width="0.2" textLength="7.20" lengthAdjust="spacingAndGlyphs">40</text>
<text x="105.40" y="572.10" font-size="6.6" fill="#333" stroke="#333" stroke-width="0.2" textLength="7.20" lengthAdjust="spacingAndGlyphs">20</text>
<text x="134.80" y="462.30" font-size="11" fill="#111" font-weight="bold">F</text>
<text x="231.15" y="474.60" font-size="7.2" fill="#333" stroke="#333" stroke-width="0.2" text-anchor="middle" textLength="58.50" lengthAdjust="spacingAndGlyphs">Kynurenine quant</text>
<path d="M143.1 530.6h2.7l-0.3 4.2h-2.1zM154.3 531.8h2.7l-0.3 4.2h-2.1z" fill="#9e9e9e" stroke="#fff" stroke-width="0.35"/>
<path d="M145.0 531.2h2.7l-0.3 4.2h-2.1zM148.8 531.5h2.7l-0.3 4.2h-2.1zM158.2 531.3h2.7l-0.3 4.2h-2.1zM170.9 530.6h2.7l-0.3 4.2h-2.1zM176.3 530.5h2.7l-0.3 4.2h-2.1z" fill="#a8a8a8" stroke="#fff" stroke-width="0.35"/>
<path d="M150.7 531.0h2.7l-0.3 4.2h-2.1zM165.0 531.6h2.7l-0.3 4.2h-2.1zM172.7 530.5h2.7l-0.3 4.2h-2.1z" fill="#b4b4b4" stroke="#fff" stroke-width="0.35"/>
<path d="M161.2 530.5h2.7l-0.3 4.2h-2.1zM167.0 530.5h2.7l-0.3 4.2h-2.1z" fill="#b0b0b0" stroke="#fff" stroke-width="0.35"/>
<path d="M144.5 529.5h0M155.6 530.7h0" stroke="#fff" stroke-width="2.75" stroke-linecap="round" opacity="0.6"/><path d="M144.5 529.5h0M155.6 530.7h0" stroke="#dadada" stroke-width="2.40" stroke-linecap="round"/>
<path d="M146.3 530.1h0M150.2 530.4h0M159.5 530.2h0M172.3 529.5h0M177.7 529.4h0" stroke="#fff" stroke-width="2.75" stroke-linecap="round" opacity="0.6"/><path d="M146.3 530.1h0M150.2 530.4h0M159.5 530.2h0M172.3 529.5h0M177.7 529.4h0" stroke="#d0d0d0" stroke-width="2.40" stroke-linecap="round"/>
<path d="M152.0 529.9h0M166.4 530.5h0M174.1 529.4h0" stroke="#fff" stroke-width="2.75" stroke-linecap="round" opacity="0.6"/><path d="M152.0 529.9h0M166.4 530.5h0M174.1 529.4h0" stroke="#c8c8c8" stroke-width="2.40" stroke-linecap="round"/>
<path d="M162.6 529.5h0M168.3 529.4h0" stroke="#fff" stroke-width="2.75" stroke-linecap="round" opacity="0.6"/><path d="M162.6 529.5h0M168.3 529.4h0" stroke="#c4c4c4" stroke-width="2.40" stroke-linecap="round"/>
<path d="M141.4 533.7h2.7l-0.3 4.2h-2.1zM159.8 533.6h2.7l-0.3 4.2h-2.1z" fill="#9e9e9e" stroke="#fff" stroke-width="0.35"/>
<path d="M142.7 533.0h2.7l-0.3 4.2h-2.1zM149.3 533.6h2.7l-0.3 4.2h-2.1zM156.9 533.0h2.7l-0.3 4.2h-2.1zM163.4 532.7h2.7l-0.3 4.2h-2.1zM166.2 533.4h2.7l-0.3 4.2h-2.1z" fill="#a8a8a8" stroke="#fff" stroke-width="0.35"/>
<path d="M147.2 533.0h2.7l-0.3 4.2h-2.1zM153.0 532.6h2.7l-0.3 4.2h-2.1zM169.4 533.8h2.7l-0.3 4.2h-2.1zM172.7 533.3h2.7l-0.3 4.2h-2.1zM178.0 532.7h2.7l-0.3 4.2h-2.1z" fill="#b0b0b0" stroke="#fff" stroke-width="0.35"/>
<path d="M174.2 533.3h2.7l-0.3 4.2h-2.1z" fill="#b4b4b4" stroke="#fff" stroke-width="0.35"/>
<path d="M142.8 532.6h0M161.2 532.6h0" stroke="#fff" stroke-width="2.75" stroke-linecap="round" opacity="0.6"/><path d="M142.8 532.6h0M161.2 532.6h0" stroke="#dadada" stroke-width="2.40" stroke-linecap="round"/>
<path d="M144.0 531.9h0M150.7 532.5h0M158.3 531.9h0M164.7 531.6h0M167.6 532.3h0" stroke="#fff" stroke-width="2.75" stroke-linecap="round" opacity="0.6"/><path d="M144.0 531.9h0M150.7 532.5h0M158.3 531.9h0M164.7 531.6h0M167.6 532.3h0" stroke="#d0d0d0" stroke-width="2.40" stroke-linecap="round"/>
<path d="M148.6 531.9h0M154.4 531.5h0M170.8 532.7h0M174.0 532.3h0M179.4 531.6h0" stroke="#fff" stroke-width="2.75" stroke-linecap="round" opacity="0.6"/><path d="M148.6 531.9h0M154.4 531.5h0M170.8 532.7h0M174.0 532.3h0M179.4 531.6h0" stroke="#c4c4c4" stroke-width="2.40" stroke-linecap="round"/>
<path d="M175.6 532.2h0" stroke="#fff" stroke-width="2.75" stroke-linecap="round" opacity="0.6"/><path d="M175.6 532.2h0" stroke="#c8c8c8" stroke-width="2.40" stroke-linecap="round"/>
<path d="M140.1 535.1h2.7l-0.3 4.2h-2.1zM165.4 535.1h2.7l-0.3 4.2h-2.1z" fill="#9e9e9e" stroke="#fff" stroke-width="0.35"/>
<path d="M141.5 535.8h2.7l-0.3 4.2h-2.1zM146.3 534.9h2.7l-0.3 4.2h-2.1zM176.4 535.3h2.7l-0.3 4.2h-2.1z" fill="#b0b0b0" stroke="#fff" stroke-width="0.35"/>
<path d="M148.3 534.9h2.7l-0.3 4.2h-2.1zM157.6 534.6h2.7l-0.3 4.2h-2.1zM174.8 535.8h2.7l-0.3 4.2h-2.1z" fill="#a8a8a8" stroke="#fff" stroke-width="0.35"/>
<path d="M150.4 534.7h2.7l-0.3 4.2h-2.1zM155.9 534.8h2.7l-0.3 4.2h-2.1zM161.6 535.1h2.7l-0.3 4.2h-2.1zM167.6 534.5h2.7l-0.3 4.2h-2.1zM170.9 535.2h2.7l-0.3 4.2h-2.1z" fill="#b4b4b4" stroke="#fff" stroke-width="0.35"/>
<path d="M141.5 534.0h0M166.7 534.1h0" stroke="#fff" stroke-width="2.75" stroke-linecap="round" opacity="0.6"/><path d="M141.5 534.0h0M166.7 534.1h0" stroke="#dadada" stroke-width="2.40" stroke-linecap="round"/>
<path d="M142.8 534.7h0M147.7 533.8h0M177.8 534.2h0" stroke="#fff" stroke-width="2.75" stroke-linecap="round" opacity="0.6"/><path d="M142.8 534.7h0M147.7 533.8h0M177.8 534.2h0" stroke="#c4c4c4" stroke-width="2.40" stroke-linecap="round"/>
<path d="M149.6 533.8h0M158.9 533.5h0M176.2 534.7h0" stroke="#fff" stroke-width="2.75" stroke-linecap="round" opacity="0.6"/><path d="M149.6 533.8h0M158.9 533.5h0M176.2 534.7h0" stroke="#d0d0d0" stroke-width="2.40" stroke-linecap="round"/>
<path d="M151.7 533.6h0M157.3 533.7h0M163.0 534.0h0M168.9 533.4h0M172.2 534.1h0" stroke="#fff" stroke-width="2.75" stroke-linecap="round" opacity="0.6"/><path d="M151.7 533.6h0M157.3 533.7h0M163.0 534.0h0M168.9 533.4h0M172.2 534.1h0" stroke="#c8c8c8" stroke-width="2.40" stroke-linecap="round"/>
<path d="M148.2 541.6v6.5M149.2 541.6v4.9M163.5 541.7v7.1M164.5 541.7v5.2M169.2 541.2v5.8M170.2 541.2v4.5" stroke="#b4b4b4" stroke-width="0.70"/>
<path d="M151.9 541.2v6.9M152.9 541.2v6.4" stroke="#9e9e9e" stroke-width="0.70"/>
<path d="M176.1 540.8v5.9M177.1 540.8v4.2" stroke="#b0b0b0" stroke-width="0.70"/>
<path d="M141.4 536.7h2.7l-0.3 4.2h-2.1zM147.3 537.6h2.7l-0.3 4.2h-2.1zM162.6 537.7h2.7l-0.3 4.2h-2.1zM168.3 537.2h2.7l-0.3 4.2h-2.1z" fill="#b4b4b4" stroke="#fff" stroke-width="0.35"/>
<path d="M143.1 537.7h2.7l-0.3 4.2h-2.1zM156.1 537.4h2.7l-0.3 4.2h-2.1zM175.2 536.7h2.7l-0.3 4.2h-2.1z" fill="#b0b0b0" stroke="#fff" stroke-width="0.35"/>
<path d="M151.0 537.2h2.7l-0.3 4.2h-2.1zM178.5 537.6h2.7l-0.3 4.2h-2.1z" fill="#9e9e9e" stroke="#fff" stroke-width="0.35"/>
<path d="M152.0 537.6h2.7l-0.3 4.2h-2.1zM158.6 537.0h2.7l-0.3 4.2h-2.1zM166.6 536.8h2.7l-0.3 4.2h-2.1zM171.0 536.7h2.7l-0.3 4.2h-2.1z" fill="#a8a8a8" stroke="#fff" stroke-width="0.35"/>
<path d="M142.8 535.6h0M148.7 536.5h0M164.0 536.6h0M169.6 536.1h0" stroke="#fff" stroke-width="2.75" stroke-linecap="round" opacity="0.6"/><path d="M142.8 535.6h0M148.7 536.5h0M164.0 536.6h0M169.6 536.1h0" stroke="#c8c8c8" stroke-width="2.40" stroke-linecap="round"/>
<path d="M144.5 536.6h0M157.4 536.3h0M176.5 535.7h0" stroke="#fff" stroke-width="2.75" stroke-linecap="round" opacity="0.6"/><path d="M144.5 536.6h0M157.4 536.3h0M176.5 535.7h0" stroke="#c4c4c4" stroke-width="2.40" stroke-linecap="round"/>
<path d="M152.4 536.1h0M179.8 536.5h0" stroke="#fff" stroke-width="2.75" stroke-linecap="round" opacity="0.6"/><path d="M152.4 536.1h0M179.8 536.5h0" stroke="#dadada" stroke-width="2.40" stroke-linecap="round"/>
<path d="M153.4 536.6h0M160.0 535.9h0M168.0 535.7h0M172.3 535.7h0" stroke="#fff" stroke-width="2.75" stroke-linecap="round" opacity="0.6"/><path d="M153.4 536.6h0M160.0 535.9h0M168.0 535.7h0M172.3 535.7h0" stroke="#d0d0d0" stroke-width="2.40" stroke-linecap="round"/>
<path d="M141.7 539.0h2.7l-0.3 4.2h-2.1zM161.7 539.7h2.7l-0.3 4.2h-2.1z" fill="#b0b0b0" stroke="#fff" stroke-width="0.35"/>
<path d="M144.2 538.7h2.7l-0.3 4.2h-2.1zM147.9 539.8h2.7l-0.3 4.2h-2.1zM152.8 539.8h2.7l-0.3 4.2h-2.1zM168.4 538.7h2.7l-0.3 4.2h-2.1z" fill="#a8a8a8" stroke="#fff" stroke-width="0.35"/>
<path d="M155.9 539.8h2.7l-0.3 4.2h-2.1zM164.6 538.9h2.7l-0.3 4.2h-2.1zM169.7 539.3h2.7l-0.3 4.2h-2.1zM174.5 538.9h2.7l-0.3 4.2h-2.1zM176.2 538.6h2.7l-0.3 4.2h-2.1z" fill="#9e9e9e" stroke="#fff" stroke-width="0.35"/>
<path d="M157.3 539.8h2.7l-0.3 4.2h-2.1z" fill="#b4b4b4" stroke="#fff" stroke-width="0.35"/>
<path d="M143.1 538.0h0M163.1 538.7h0" stroke="#fff" stroke-width="2.75" stroke-linecap="round" opacity="0.6"/><path d="M143.1 538.0h0M163.1 538.7h0" stroke="#c4c4c4" stroke-width="2.40" stroke-linecap="round"/>
<path d="M145.6 537.7h0M149.3 538.7h0M154.1 538.7h0M169.8 537.7h0" stroke="#fff" stroke-width="2.75" stroke-linecap="round" opacity="0.6"/><path d="M145.6 537.7h0M149.3 538.7h0M154.1 538.7h0M169.8 537.7h0" stroke="#d0d0d0" stroke-width="2.40" stroke-linecap="round"/>
<path d="M157.2 538.7h0M166.0 537.8h0M171.1 538.2h0M175.9 537.8h0M177.6 537.5h0" stroke="#fff" stroke-width="2.75" stroke-linecap="round" opacity="0.6"/><path d="M157.2 538.7h0M166.0 537.8h0M171.1 538.2h0M175.9 537.8h0M177.6 537.5h0" stroke="#dadada" stroke-width="2.40" stroke-linecap="round"/>
<path d="M158.7 538.8h0" stroke="#fff" stroke-width="2.75" stroke-linecap="round" opacity="0.6"/><path d="M158.7 538.8h0" stroke="#c8c8c8" stroke-width="2.40" stroke-linecap="round"/>
<path d="M141.1 545.6v6.9M142.1 545.6v5.6M144.4 545.5v3.6M145.4 545.5v2.5M172.3 545.6v7.1M173.3 545.6v4.5" stroke="#b4b4b4" stroke-width="0.70"/>
<path d="M153.9 545.5v6.7M154.9 545.5v6.1M156.2 545.8v6.1M157.2 545.8v4.3M160.1 545.9v6.6M161.1 545.9v5.5" stroke="#a8a8a8" stroke-width="0.70"/>
<path d="M164.3 545.9v4.9M165.3 545.9v3.6" stroke="#b0b0b0" stroke-width="0.70"/>
<path d="M140.2 541.6h2.7l-0.3 4.2h-2.1zM143.5 541.5h2.7l-0.3 4.2h-2.1zM166.8 541.9h2.7l-0.3 4.2h-2.1zM171.4 541.6h2.7l-0.3 4.2h-2.1z" fill="#b4b4b4" stroke="#fff" stroke-width="0.35"/>
<path d="M146.0 541.1h2.7l-0.3 4.2h-2.1zM163.4 541.9h2.7l-0.3 4.2h-2.1z" fill="#b0b0b0" stroke="#fff" stroke-width="0.35"/>
<path d="M149.9 541.3h2.7l-0.3 4.2h-2.1zM153.0 541.4h2.7l-0.3 4.2h-2.1zM155.3 541.8h2.7l-0.3 4.2h-2.1zM159.2 541.9h2.7l-0.3 4.2h-2.1z" fill="#a8a8a8" stroke="#fff" stroke-width="0.35"/>
<path d="M170.1 540.8h2.7l-0.3 4.2h-2.1zM174.6 541.7h2.7l-0.3 4.2h-2.1z" fill="#9e9e9e" stroke="#fff" stroke-width="0.35"/>
<path d="M141.6 540.5h0M144.8 540.4h0M168.2 540.8h0M172.8 540.5h0" stroke="#fff" stroke-width="2.75" stroke-linecap="round" opacity="0.6"/><path d="M141.6 540.5h0M144.8 540.4h0M168.2 540.8h0M172.8 540.5h0" stroke="#c8c8c8" stroke-width="2.40" stroke-linecap="round"/>
<path d="M147.4 540.0h0M164.7 540.8h0" stroke="#fff" stroke-width="2.75" stroke-linecap="round" opacity="0.6"/><path d="M147.4 540.0h0M164.7 540.8h0" stroke="#c4c4c4" stroke-width="2.40" stroke-linecap="round"/>
<path d="M151.3 540.3h0M154.4 540.4h0M156.6 540.7h0M160.5 540.8h0" stroke="#fff" stroke-width="2.75" stroke-linecap="round" opacity="0.6"/><path d="M151.3 540.3h0M154.4 540.4h0M156.6 540.7h0M160.5 540.8h0" stroke="#d0d0d0" stroke-width="2.40" stroke-linecap="round"/>
<path d="M171.5 539.7h0M176.0 540.6h0" stroke="#fff" stroke-width="2.75" stroke-linecap="round" opacity="0.6"/><path d="M171.5 539.7h0M176.0 540.6h0" stroke="#dadada" stroke-width="2.40" stroke-linecap="round"/>
<rect x="160.8" y="540.3" width="20.5" height="17.5" fill="#fff"/>
<path d="M166.4 547.9v3.0M167.4 547.9v2.1" stroke="#1f4598" stroke-width="0.70"/>
<path d="M162.7 543.1h2.7l-0.3 4.2h-2.1zM172.4 543.3h2.7l-0.3 4.2h-2.1z" fill="#2f5fb5" stroke="#fff" stroke-width="0.35"/>
<path d="M165.5 543.9h2.7l-0.3 4.2h-2.1z" fill="#1f4598" stroke="#fff" stroke-width="0.35"/>
<path d="M170.0 543.5h2.7l-0.3 4.2h-2.1zM176.0 542.9h2.7l-0.3 4.2h-2.1z" fill="#3a68bd" stroke="#fff" stroke-width="0.35"/>
<path d="M164.0 542.0h0M173.8 542.2h0" stroke="#fff" stroke-width="2.75" stroke-linecap="round" opacity="0.6"/><path d="M164.0 542.0h0M173.8 542.2h0" stroke="#6a92d6" stroke-width="2.40" stroke-linecap="round"/>
<path d="M166.9 542.8h0" stroke="#fff" stroke-width="2.75" stroke-linecap="round" opacity="0.6"/><path d="M166.9 542.8h0" stroke="#5b86cf" stroke-width="2.40" stroke-linecap="round"/>
<path d="M171.3 542.4h0" stroke="#fff" stroke-width="2.75" stroke-linecap="round" opacity="0.6"/><path d="M171.3 542.4h0" stroke="#a9c3ea" stroke-width="2.40" stroke-linecap="round"/>
<path d="M177.4 541.8h0" stroke="#fff" stroke-width="2.75" stroke-linecap="round" opacity="0.6"/><path d="M177.4 541.8h0" stroke="#8fb0e0" stroke-width="2.40" stroke-linecap="round"/>
<path d="M170.3 549.5v3.2M171.3 549.5v2.6" stroke="#1f4598" stroke-width="0.70"/>
<path d="M165.2 545.9h2.7l-0.3 4.2h-2.1z" fill="#2f5fb5" stroke="#fff" stroke-width="0.35"/>
<path d="M169.4 545.5h2.7l-0.3 4.2h-2.1z" fill="#1f4598" stroke="#fff" stroke-width="0.35"/>
<path d="M171.1 546.0h2.7l-0.3 4.2h-2.1z" fill="#2550a5" stroke="#fff" stroke-width="0.35"/>
<path d="M173.9 544.8h2.7l-0.3 4.2h-2.1z" fill="#3a68bd" stroke="#fff" stroke-width="0.35"/>
<path d="M166.6 544.9h0" stroke="#fff" stroke-width="2.75" stroke-linecap="round" opacity="0.6"/><path d="M166.6 544.9h0" stroke="#6a92d6" stroke-width="2.40" stroke-linecap="round"/>
<path d="M170.8 544.4h0" stroke="#fff" stroke-width="2.75" stroke-linecap="round" opacity="0.6"/><path d="M170.8 544.4h0" stroke="#5b86cf" stroke-width="2.40" stroke-linecap="round"/>
<path d="M172.4 544.9h0" stroke="#fff" stroke-width="2.75" stroke-linecap="round" opacity="0.6"/><path d="M172.4 544.9h0" stroke="#4f7cc8" stroke-width="2.40" stroke-linecap="round"/>
<path d="M175.3 543.7h0" stroke="#fff" stroke-width="2.75" stroke-linecap="round" opacity="0.6"/><path d="M175.3 543.7h0" stroke="#8fb0e0" stroke-width="2.40" stroke-linecap="round"/>
<path d="M176.7 550.9v4.4M177.7 550.9v3.5" stroke="#3a68bd" stroke-width="0.70"/>
<path d="M163.8 547.3h2.7l-0.3 4.2h-2.1zM173.7 547.3h2.7l-0.3 4.2h-2.1z" fill="#2f5fb5" stroke="#fff" stroke-width="0.35"/>
<path d="M167.2 547.1h2.7l-0.3 4.2h-2.1z" fill="#2550a5" stroke="#fff" stroke-width="0.35"/>
<path d="M170.9 547.2h2.7l-0.3 4.2h-2.1zM175.8 546.9h2.7l-0.3 4.2h-2.1z" fill="#3a68bd" stroke="#fff" stroke-width="0.35"/>
<path d="M165.2 546.2h0M175.1 546.2h0" stroke="#fff" stroke-width="2.75" stroke-linecap="round" opacity="0.6"/><path d="M165.2 546.2h0M175.1 546.2h0" stroke="#6a92d6" stroke-width="2.40" stroke-linecap="round"/>
<path d="M168.5 546.0h0" stroke="#fff" stroke-width="2.75" stroke-linecap="round" opacity="0.6"/><path d="M168.5 546.0h0" stroke="#4f7cc8" stroke-width="2.40" stroke-linecap="round"/>
<path d="M172.2 546.1h0" stroke="#fff" stroke-width="2.75" stroke-linecap="round" opacity="0.6"/><path d="M172.2 546.1h0" stroke="#a9c3ea" stroke-width="2.40" stroke-linecap="round"/>
<path d="M177.1 545.8h0" stroke="#fff" stroke-width="2.75" stroke-linecap="round" opacity="0.6"/><path d="M177.1 545.8h0" stroke="#8fb0e0" stroke-width="2.40" stroke-linecap="round"/>
<path d="M163.6 553.6v1.2M164.6 553.6v1.1M171.4 553.1v2.0M172.4 553.1v1.7" stroke="#1f4598" stroke-width="0.70"/>
<path d="M170.4 553.2v2.9M171.4 553.2v2.6M174.9 553.6v2.1M175.9 553.6v1.7M178.1 553.7v1.8M179.1 553.7v1.4" stroke="#3a68bd" stroke-width="0.70"/>
<path d="M162.7 549.6h2.7l-0.3 4.2h-2.1zM165.6 549.6h2.7l-0.3 4.2h-2.1zM170.5 549.1h2.7l-0.3 4.2h-2.1z" fill="#1f4598" stroke="#fff" stroke-width="0.35"/>
<path d="M169.5 549.2h2.7l-0.3 4.2h-2.1zM174.0 549.5h2.7l-0.3 4.2h-2.1zM177.2 549.6h2.7l-0.3 4.2h-2.1z" fill="#3a68bd" stroke="#fff" stroke-width="0.35"/>
<path d="M164.1 548.5h0M167.0 548.6h0M171.9 548.0h0" stroke="#fff" stroke-width="2.75" stroke-linecap="round" opacity="0.6"/><path d="M164.1 548.5h0M167.0 548.6h0M171.9 548.0h0" stroke="#5b86cf" stroke-width="2.40" stroke-linecap="round"/>
<path d="M170.8 548.1h0M175.3 548.5h0" stroke="#fff" stroke-width="2.75" stroke-linecap="round" opacity="0.6"/><path d="M170.8 548.1h0M175.3 548.5h0" stroke="#a9c3ea" stroke-width="2.40" stroke-linecap="round"/>
<path d="M178.6 548.6h0" stroke="#fff" stroke-width="2.75" stroke-linecap="round" opacity="0.6"/><path d="M178.6 548.6h0" stroke="#8fb0e0" stroke-width="2.40" stroke-linecap="round"/>
<rect x="160.8" y="540.3" width="20.5" height="17.5" fill="none" stroke="#dc5a6c" stroke-width="0.85"/>
<text x="161.50" y="569.50" font-size="7.6" fill="#333" stroke="#333" stroke-width="0.2" text-anchor="middle" textLength="54.50" lengthAdjust="spacingAndGlyphs">Recalled Donors</text>
<text x="161.30" y="578.00" font-size="6.4" fill="#333" stroke="#333" stroke-width="0.2" text-anchor="middle" textLength="45.50" lengthAdjust="spacingAndGlyphs">Measured twice</text>
<line x1="183.30" y1="542.50" x2="215.88" y2="505.95" stroke="#1d2346" stroke-width="1.1"/>
<polygon points="217.80,503.80 216.47,509.05 215.72,506.13 212.74,505.72" fill="#1d2346"/>
<line x1="183.30" y1="542.50" x2="214.48" y2="580.57" stroke="#1d2346" stroke-width="1.1"/>
<polygon points="216.30,582.80 211.32,580.67 214.32,580.39 215.19,577.50" fill="#1d2346"/>
<rect x="233.80" y="480.98" width="1.10" height="14.15" fill="#b07880"/>
<rect x="227.18" y="488.05" width="1.32" height="7.07" fill="#8c2c3a"/>
<rect x="230.31" y="488.05" width="1.32" height="7.07" fill="#8c2c3a"/>
<rect x="237.30" y="488.05" width="1.32" height="7.07" fill="#8c2c3a"/>
<rect x="223.50" y="494.60" width="18.40" height="26.20" rx="3.68" fill="#bf2228"/>
<rect x="223.50" y="510.32" width="18.40" height="10.48" rx="3.68" fill="#8e1618"/>
<rect x="224.60" y="500.36" width="16.19" height="13.89" fill="#fbf4f4"/>
<text x="225.89" y="511.11" font-size="7.07" font-weight="bold" fill="#a81e26">A+</text>
<rect x="234.91" y="501.67" width="4.78" height="1.31" fill="#777"/>
<rect x="234.91" y="504.03" width="4.78" height="6.55" fill="#e8c8cc"/>
<rect x="225.71" y="512.42" width="9.20" height="0.79" fill="#d8a0a8"/>
<rect x="232.17" y="561.41" width="1.12" height="14.53" fill="#b07880"/>
<rect x="225.44" y="568.67" width="1.35" height="7.26" fill="#8c2c3a"/>
<rect x="228.62" y="568.67" width="1.35" height="7.26" fill="#8c2c3a"/>
<rect x="235.72" y="568.67" width="1.35" height="7.26" fill="#8c2c3a"/>
<rect x="221.70" y="575.40" width="18.70" height="26.90" rx="3.74" fill="#bf2228"/>
<rect x="221.70" y="591.54" width="18.70" height="10.76" rx="3.74" fill="#8e1618"/>
<rect x="222.82" y="581.32" width="16.46" height="14.26" fill="#fbf4f4"/>
<text x="224.13" y="592.35" font-size="7.26" font-weight="bold" fill="#a81e26">A+</text>
<rect x="233.29" y="582.66" width="4.86" height="1.34" fill="#777"/>
<rect x="233.29" y="585.08" width="4.86" height="6.72" fill="#e8c8cc"/>
<rect x="223.94" y="593.69" width="9.35" height="0.81" fill="#d8a0a8"/>
<text x="230.40" y="535.80" font-size="7.6" fill="#333" stroke="#333" stroke-width="0.2" text-anchor="middle" textLength="50.80" lengthAdjust="spacingAndGlyphs">Index Donation</text>
<text x="230.35" y="543.80" font-size="6.4" fill="#333" stroke="#333" stroke-width="0.2" text-anchor="middle" textLength="56.90" lengthAdjust="spacingAndGlyphs">at day 42 of storage</text>
<text x="231.40" y="612.80" font-size="7.6" fill="#333" stroke="#333" stroke-width="0.2" text-anchor="middle" textLength="51.80" lengthAdjust="spacingAndGlyphs">Recall Donation</text>
<text x="231.15" y="621.20" font-size="6.4" fill="#333" stroke="#333" stroke-width="0.2" text-anchor="middle" textLength="56.90" lengthAdjust="spacingAndGlyphs">at day 42 of storage</text>
<polyline points="246.2,507 280.8,507 280.8,529" fill="none" stroke="#2a3368" stroke-width="1.1"/>
<line x1="280.80" y1="526.00" x2="280.80" y2="530.40" stroke="#2a3368" stroke-width="1.1"/>
<polygon points="280.80,533.40 278.20,528.40 280.80,530.15 283.40,528.40" fill="#2a3368"/>
<polyline points="246.2,590.7 280.8,590.7 280.8,570" fill="none" stroke="#2a3368" stroke-width="1.1"/>
<line x1="280.80" y1="572.00" x2="280.80" y2="568.10" stroke="#2a3368" stroke-width="1.1"/>
<polygon points="280.80,565.10 283.40,570.10 280.80,568.35 278.20,570.10" fill="#2a3368"/>
<text x="263.80" y="550.00" font-size="7.6" fill="#333" stroke="#333" stroke-width="0.2" textLength="37.10" lengthAdjust="spacingAndGlyphs">Kynurenine</text>
<text x="263.80" y="559.00" font-size="7.6" fill="#333" stroke="#333" stroke-width="0.2" textLength="37.40" lengthAdjust="spacingAndGlyphs">Correlation</text>
<line x1="343.80" y1="482.20" x2="500.00" y2="482.20" stroke="#ececec" stroke-width="0.7"/>
<line x1="343.80" y1="510.30" x2="500.00" y2="510.30" stroke="#ececec" stroke-width="0.7"/>
<line x1="343.80" y1="538.60" x2="500.00" y2="538.60" stroke="#ececec" stroke-width="0.7"/>
<line x1="343.80" y1="566.70" x2="500.00" y2="566.70" stroke="#ececec" stroke-width="0.7"/>
<line x1="343.80" y1="595.20" x2="500.00" y2="595.20" stroke="#ececec" stroke-width="0.7"/>
<line x1="367.50" y1="475.40" x2="367.50" y2="613.80" stroke="#ececec" stroke-width="0.7"/>
<line x1="396.70" y1="475.40" x2="396.70" y2="613.80" stroke="#ececec" stroke-width="0.7"/>
<line x1="425.20" y1="475.40" x2="425.20" y2="613.80" stroke="#ececec" stroke-width="0.7"/>
<line x1="454.40" y1="475.40" x2="454.40" y2="613.80" stroke="#ececec" stroke-width="0.7"/>
<line x1="483.00" y1="475.40" x2="483.00" y2="613.80" stroke="#ececec" stroke-width="0.7"/>
<text x="421.85" y="467.00" font-size="8.4" fill="#333" stroke="#333" stroke-width="0.2" text-anchor="middle" textLength="162.30" lengthAdjust="spacingAndGlyphs">Kynurenine (normalized day 42 abundance)</text>
<path d="M433.0 543.6h0M403.2 566.7h0M397.4 572.6h0M372.6 583.3h0M391.5 563.1h0M390.4 558.0h0M394.5 574.3h0M386.6 571.9h0M395.1 580.4h0M388.6 554.0h0M378.2 583.4h0M411.9 552.9h0M411.8 569.3h0M430.9 554.1h0M396.6 576.2h0M389.7 545.2h0M387.7 568.5h0M375.7 582.8h0M413.9 571.3h0M380.6 584.1h0M379.7 571.7h0M392.6 543.2h0M425.3 572.9h0M399.7 577.3h0M381.6 579.1h0M385.5 581.5h0M406.7 582.3h0M393.3 569.3h0M384.7 565.2h0M392.2 587.3h0M409.1 557.1h0M438.1 524.6h0M379.0 566.8h0M386.6 578.6h0M384.3 538.9h0M367.7 581.8h0M382.8 584.8h0M381.5 564.5h0M416.9 572.3h0M393.7 556.1h0M374.9 592.8h0M407.1 548.3h0M390.4 578.3h0M373.7 569.5h0M387.0 563.6h0M387.1 567.7h0M383.4 575.2h0M396.3 550.8h0M369.1 599.3h0M391.7 564.7h0M414.6 550.4h0M411.2 549.7h0M416.6 541.3h0M425.3 549.6h0M380.4 568.0h0M411.1 556.9h0M372.6 564.6h0M386.9 593.0h0M372.1 563.3h0M415.3 567.2h0M421.7 583.3h0M392.7 582.3h0M432.6 551.2h0M386.0 571.8h0M398.3 567.2h0M398.3 554.0h0M381.1 577.8h0M403.3 564.6h0M437.0 577.5h0M381.5 571.3h0M412.2 540.6h0M393.4 574.8h0M432.5 575.8h0M404.1 580.0h0M407.7 529.7h0M407.1 570.0h0M399.9 574.3h0M377.3 587.9h0M423.0 540.1h0M377.6 585.7h0M399.8 576.8h0M406.5 580.8h0M383.8 576.8h0M398.2 550.9h0M417.9 558.0h0M395.4 555.0h0M383.2 573.9h0M363.9 588.9h0M382.2 574.6h0M387.1 573.1h0M388.1 558.4h0M382.3 570.7h0M402.2 572.1h0M387.3 571.7h0M394.1 570.1h0M407.8 553.3h0M383.6 573.6h0M391.2 565.3h0M443.3 567.3h0M411.7 552.7h0M378.4 562.5h0M394.5 584.2h0M405.6 533.1h0M419.4 549.6h0M398.2 569.4h0M387.9 591.0h0M385.2 559.8h0M407.1 574.6h0M401.0 571.8h0M388.1 565.6h0M392.9 581.7h0M389.5 583.0h0M408.7 576.0h0M385.8 575.7h0M404.1 553.9h0M411.2 552.6h0M404.1 556.9h0M383.9 579.4h0M421.9 551.0h0M385.9 581.9h0M403.1 526.3h0M384.9 572.5h0M373.7 598.1h0M399.5 579.1h0M400.6 537.3h0M394.6 584.3h0M400.4 571.2h0M386.3 568.8h0M385.1 586.2h0M393.2 553.6h0M436.2 507.1h0M410.5 571.3h0M388.1 556.8h0M405.5 574.4h0M388.6 583.5h0M388.9 569.1h0M411.4 555.3h0M388.0 579.8h0M374.4 572.6h0M383.0 590.4h0M397.2 577.8h0M397.9 579.9h0M419.6 540.7h0M385.4 563.9h0M408.8 549.4h0M403.0 580.0h0M393.5 567.7h0M410.9 551.8h0M404.2 582.8h0M383.5 584.5h0M415.8 545.3h0M379.2 570.3h0M396.8 563.9h0M395.8 560.2h0M403.0 558.9h0M385.3 572.8h0M395.2 569.9h0M393.6 579.8h0M414.2 561.4h0M384.4 579.8h0M397.0 524.6h0M391.8 567.1h0M378.4 579.4h0M459.6 540.1h0M394.7 570.3h0M376.3 583.4h0M423.4 542.6h0M381.0 577.8h0M402.1 551.4h0M411.4 569.2h0M386.3 569.6h0M389.3 559.8h0M387.8 585.4h0M393.8 567.0h0M374.9 579.1h0M379.1 582.3h0M393.6 575.5h0M415.1 581.3h0M406.9 541.6h0M431.4 563.9h0M408.1 577.3h0M388.2 563.9h0M393.9 588.8h0M371.0 574.2h0M382.3 571.3h0M381.6 569.8h0M400.3 567.7h0M407.2 577.4h0M387.5 591.8h0M387.1 552.1h0M375.7 585.7h0M393.8 575.7h0M399.9 538.3h0M403.4 572.2h0M384.5 577.9h0M438.4 549.6h0M418.5 557.5h0M394.3 581.2h0M388.0 579.4h0M390.9 551.8h0M398.3 555.0h0M395.5 596.8h0M404.1 586.1h0M409.5 554.8h0M422.4 555.1h0M417.5 561.7h0M394.1 553.4h0M402.4 585.1h0M389.9 554.0h0M387.1 571.8h0M436.3 535.1h0M388.9 569.1h0M438.5 527.2h0M390.5 574.4h0M400.0 572.8h0M416.2 542.4h0M396.2 565.4h0M402.5 579.8h0M392.1 549.6h0M388.7 554.9h0M393.2 546.9h0M386.3 573.0h0M428.9 543.3h0M393.2 574.5h0M431.2 564.5h0M365.6 588.2h0M396.1 565.4h0M405.5 571.5h0M391.3 541.2h0M416.3 578.3h0M407.0 572.7h0M391.6 578.6h0M403.2 541.6h0M464.3 538.6h0M400.0 570.0h0M400.8 576.5h0M389.2 580.9h0M398.0 582.2h0M378.5 566.7h0M392.7 561.4h0M452.4 515.3h0M415.7 566.7h0M407.0 509.0h0M416.5 570.7h0M435.5 576.9h0M406.1 566.3h0M440.7 541.3h0M415.8 543.2h0M398.5 579.0h0M431.2 537.2h0M368.2 567.7h0M387.3 582.7h0M400.2 575.0h0M382.9 592.3h0M393.4 566.3h0M386.4 562.3h0M386.2 563.8h0M460.8 514.6h0M406.8 536.1h0M394.9 566.9h0M421.3 535.6h0M392.1 581.3h0M411.9 570.2h0M401.7 561.0h0M428.8 563.3h0M377.0 573.7h0M409.5 534.9h0M397.8 561.0h0M380.0 585.6h0M415.7 567.9h0M383.4 557.0h0M428.6 563.1h0M404.6 561.6h0M408.1 564.8h0M397.1 566.6h0M412.3 538.7h0M372.5 588.4h0M397.0 583.7h0M386.6 552.7h0M400.5 562.0h0M395.1 557.9h0M406.6 562.1h0M383.8 565.6h0M434.3 519.6h0M448.0 507.7h0M392.6 573.5h0M395.6 572.8h0M400.6 559.3h0M420.1 550.9h0M435.9 535.0h0M379.4 585.7h0M386.8 595.3h0M381.1 572.1h0M380.5 568.2h0M374.8 574.7h0M401.9 535.0h0M380.0 567.7h0M425.7 558.0h0M412.4 540.9h0M381.5 578.1h0M381.5 560.5h0M386.8 570.7h0M423.2 544.5h0M383.7 572.9h0M376.3 580.2h0M395.0 585.4h0M402.1 563.5h0M386.2 595.1h0M428.6 540.5h0M399.8 549.9h0M403.5 524.5h0M383.6 571.2h0M395.2 577.3h0M393.3 586.9h0M368.9 563.4h0M400.6 582.4h0M373.2 573.0h0M395.3 592.1h0M376.5 581.1h0M439.3 530.4h0M401.3 560.0h0M411.4 559.8h0M412.6 570.3h0M378.1 588.2h0M368.8 575.8h0M390.8 565.3h0M412.1 561.2h0M397.3 564.3h0M409.9 572.8h0M412.9 539.8h0M376.3 565.3h0M400.6 575.3h0M437.8 543.5h0M387.4 558.7h0M371.0 590.2h0M392.2 536.0h0M388.8 549.6h0M402.9 567.8h0M383.2 563.2h0M397.3 539.0h0M369.4 595.7h0M411.2 548.7h0M427.8 553.0h0M420.9 557.6h0M376.0 572.8h0M401.1 571.3h0M363.4 600.0h0M400.5 582.4h0M394.8 568.9h0M381.9 569.1h0M401.6 565.0h0M398.1 568.8h0M413.0 558.7h0M397.9 545.9h0M399.7 557.8h0M371.8 590.5h0M379.9 581.3h0M388.7 555.0h0M400.8 572.8h0M395.7 573.2h0M425.7 552.0h0M383.4 586.8h0M392.1 557.2h0M400.0 589.5h0M392.2 547.6h0M404.3 569.2h0M387.4 586.6h0M423.7 547.5h0M390.9 589.0h0M416.8 546.8h0M395.3 556.9h0M425.4 561.1h0M377.3 584.0h0M404.7 547.0h0M389.3 579.9h0M399.6 565.5h0M418.5 549.3h0M380.2 556.9h0M378.1 584.5h0M381.9 576.5h0M400.0 547.1h0M372.3 602.1h0M397.4 570.7h0M378.5 595.7h0M380.1 594.5h0M390.2 539.7h0M402.2 561.1h0M386.6 552.1h0M388.4 575.5h0M395.1 560.7h0M391.6 575.9h0M365.6 593.0h0M389.3 573.0h0M397.2 565.5h0M416.4 525.9h0M440.0 548.1h0M407.5 555.2h0M397.1 570.7h0M382.3 574.9h0M397.2 582.6h0M409.7 540.6h0M420.1 562.7h0M383.3 575.5h0M399.7 568.7h0M410.5 542.3h0M434.9 536.5h0M400.0 565.4h0M387.8 570.8h0M385.8 570.0h0M390.4 560.8h0M386.3 567.5h0M410.7 535.9h0M415.8 524.4h0M408.7 550.4h0M418.5 574.1h0M389.0 545.0h0M402.2 523.4h0M390.0 576.1h0M396.5 573.0h0M419.2 582.0h0M395.3 556.8h0M372.5 592.2h0M391.9 540.6h0M385.5 596.7h0M376.1 580.1h0M384.4 566.5h0M413.4 564.1h0M430.2 562.4h0M388.5 569.4h0M414.3 565.5h0M418.1 560.9h0M379.9 578.6h0M395.2 575.5h0M395.1 571.5h0M398.6 554.3h0M375.2 585.3h0M390.5 569.2h0M415.5 568.1h0M420.0 537.2h0M434.1 567.8h0M390.6 557.5h0M435.1 586.9h0M407.5 573.7h0M377.7 593.8h0M409.4 542.4h0M390.4 567.8h0M404.7 579.5h0M394.2 576.2h0M418.8 528.7h0M400.1 566.5h0M391.5 563.1h0M413.5 578.3h0M400.1 583.5h0M389.6 564.4h0M420.4 502.5h0M389.6 578.5h0M386.5 566.5h0M387.8 583.6h0M376.6 565.5h0M387.6 578.7h0M434.9 555.0h0M383.0 593.9h0M395.9 573.7h0M380.5 576.0h0M386.8 554.2h0M426.1 569.7h0M412.1 541.8h0M386.8 578.0h0M395.9 572.2h0M384.0 585.7h0M384.5 591.8h0M382.9 588.7h0M383.1 553.6h0M401.3 580.1h0M406.2 568.8h0M404.2 545.3h0M393.2 591.7h0M377.7 575.3h0M394.7 575.7h0M382.8 574.7h0M411.8 544.7h0M405.4 565.4h0M409.1 564.1h0M390.5 562.0h0M373.1 576.8h0M413.4 569.3h0M419.2 558.8h0M376.4 593.0h0M398.1 546.7h0M418.5 573.4h0M380.9 576.0h0M432.4 509.5h0M390.5 560.8h0M380.9 581.2h0M422.6 565.3h0M400.7 574.0h0M386.2 562.3h0M411.8 554.1h0M371.7 584.5h0M433.7 481.2h0M384.1 584.6h0M400.6 572.3h0M389.8 576.7h0M403.2 561.0h0M411.9 554.3h0M384.0 578.9h0M409.9 548.0h0M391.3 563.9h0M385.8 578.2h0M392.3 594.5h0M381.8 567.6h0M384.4 585.6h0M413.2 568.4h0M393.4 572.0h0M417.3 574.2h0M403.1 575.1h0M381.5 577.1h0M372.2 587.5h0M385.8 571.4h0M400.2 577.4h0M395.9 572.1h0M383.9 587.3h0M414.5 563.2h0M373.7 580.6h0M378.8 582.5h0M397.9 584.4h0M444.3 547.7h0M402.8 563.1h0M381.8 563.5h0M406.1 564.0h0M407.9 568.2h0M413.0 575.5h0M389.6 541.3h0M384.3 586.0h0M397.7 581.4h0M402.9 567.2h0M428.1 577.6h0M441.3 522.0h0M385.2 573.5h0M388.0 567.6h0M394.8 581.2h0M391.9 577.5h0M404.1 550.5h0M404.1 549.7h0M400.1 509.7h0M421.9 533.6h0M393.3 590.1h0M381.2 577.1h0M375.6 585.5h0M381.5 563.9h0M381.3 579.0h0M372.4 579.2h0M407.5 566.8h0M398.8 558.1h0M389.4 551.0h0M383.2 583.2h0M375.4 598.2h0M382.8 587.3h0M434.5 513.1h0M369.4 584.2h0M398.1 571.3h0M409.0 574.3h0M398.0 551.1h0M390.9 568.0h0M409.5 562.7h0M380.6 583.9h0M405.4 565.5h0M424.0 558.6h0M381.3 571.0h0M384.1 558.7h0M398.0 588.8h0M414.1 577.9h0M421.8 556.1h0M407.8 560.7h0M386.0 590.1h0M380.5 584.8h0M399.8 571.8h0M402.5 570.9h0M380.6 583.2h0M396.8 569.4h0M401.4 551.6h0M415.2 544.9h0M382.0 570.3h0M405.4 559.0h0M379.8 586.0h0M389.4 578.4h0M394.6 559.6h0M426.1 550.3h0M483.2 505.2h0M400.0 562.5h0M404.3 563.0h0M414.4 550.9h0M377.7 593.8h0M409.5 563.4h0M379.0 585.3h0M428.8 534.2h0M424.3 563.8h0M404.4 560.3h0M384.2 580.7h0M429.8 541.5h0M400.1 555.4h0M397.6 570.6h0M405.9 561.5h0M374.0 581.2h0M403.1 552.4h0M414.2 563.6h0M401.5 565.1h0M398.2 573.1h0M382.4 587.0h0M407.1 559.9h0M399.1 560.9h0M395.9 578.7h0M387.5 550.9h0M411.3 570.9h0M419.7 542.3h0M402.4 559.7h0M412.1 581.6h0M421.5 555.4h0M427.8 574.7h0M475.6 480.5h0M493.0 495.5h0M450.5 493.5h0M450.5 502.7h0M461.0 510.0h0M420.0 500.0h0M429.9 502.0h0M439.7 505.3h0M468.0 598.0h0M400.5 607.3h0M481.2 520.6h0M453.0 520.0h0M446.0 522.0h0" stroke="#262626" stroke-width="2.6" stroke-linecap="round" fill="none" opacity="0.9"/>
<line x1="349.8" y1="592.5" x2="493.75" y2="513.75" stroke="#c8202a" stroke-width="1.4"/>
<line x1="343.50" y1="475.40" x2="343.50" y2="614.00" stroke="#222" stroke-width="1.1"/>
<line x1="343.00" y1="613.50" x2="500.50" y2="613.50" stroke="#222" stroke-width="1.1"/>
<line x1="341.00" y1="482.20" x2="343.80" y2="482.20" stroke="#222" stroke-width="0.8"/>
<text x="338.60" y="484.60" font-size="7.0" fill="#333" stroke="#333" stroke-width="0.2" text-anchor="end" textLength="8.56" lengthAdjust="spacingAndGlyphs">2.5</text>
<line x1="341.00" y1="510.30" x2="343.80" y2="510.30" stroke="#222" stroke-width="0.8"/>
<text x="338.60" y="512.70" font-size="7.0" fill="#333" stroke="#333" stroke-width="0.2" text-anchor="end" textLength="8.56" lengthAdjust="spacingAndGlyphs">2.0</text>
<line x1="341.00" y1="538.60" x2="343.80" y2="538.60" stroke="#222" stroke-width="0.8"/>
<text x="338.60" y="541.00" font-size="7.0" fill="#333" stroke="#333" stroke-width="0.2" text-anchor="end" textLength="8.56" lengthAdjust="spacingAndGlyphs">1.5</text>
<line x1="341.00" y1="566.70" x2="343.80" y2="566.70" stroke="#222" stroke-width="0.8"/>
<text x="338.60" y="569.10" font-size="7.0" fill="#333" stroke="#333" stroke-width="0.2" text-anchor="end" textLength="8.56" lengthAdjust="spacingAndGlyphs">1.0</text>
<line x1="341.00" y1="595.20" x2="343.80" y2="595.20" stroke="#222" stroke-width="0.8"/>
<text x="338.60" y="597.60" font-size="7.0" fill="#333" stroke="#333" stroke-width="0.2" text-anchor="end" textLength="8.56" lengthAdjust="spacingAndGlyphs">0.5</text>
<line x1="367.50" y1="613.80" x2="367.50" y2="616.60" stroke="#222" stroke-width="0.8"/>
<text x="367.50" y="626.50" font-size="7.0" fill="#333" stroke="#333" stroke-width="0.2" text-anchor="middle" textLength="8.56" lengthAdjust="spacingAndGlyphs">0.5</text>
<line x1="396.70" y1="613.80" x2="396.70" y2="616.60" stroke="#222" stroke-width="0.8"/>
<text x="396.70" y="626.50" font-size="7.0" fill="#333" stroke="#333" stroke-width="0.2" text-anchor="middle" textLength="8.56" lengthAdjust="spacingAndGlyphs">1.0</text>
<line x1="425.20" y1="613.80" x2="425.20" y2="616.60" stroke="#222" stroke-width="0.8"/>
<text x="425.20" y="626.50" font-size="7.0" fill="#333" stroke="#333" stroke-width="0.2" text-anchor="middle" textLength="8.56" lengthAdjust="spacingAndGlyphs">1.5</text>
<line x1="454.40" y1="613.80" x2="454.40" y2="616.60" stroke="#222" stroke-width="0.8"/>
<text x="454.40" y="626.50" font-size="7.0" fill="#333" stroke="#333" stroke-width="0.2" text-anchor="middle" textLength="8.56" lengthAdjust="spacingAndGlyphs">2.0</text>
<line x1="483.00" y1="613.80" x2="483.00" y2="616.60" stroke="#222" stroke-width="0.8"/>
<text x="483.00" y="626.50" font-size="7.0" fill="#333" stroke="#333" stroke-width="0.2" text-anchor="middle" textLength="8.56" lengthAdjust="spacingAndGlyphs">2.5</text>
<text x="349.80" y="496.00" font-size="7.0" fill="#333" stroke="#333" stroke-width="0.2" textLength="34.70" lengthAdjust="spacingAndGlyphs">Rho = 0.523</text>
<text x="349.80" y="505.00" font-size="7.0" fill="#333" stroke="#333" stroke-width="0.2" textLength="39.00" lengthAdjust="spacingAndGlyphs"><tspan font-style="italic">P</tspan> = 1.27 E−47</text>
<text x="324.20" y="544.80" font-size="7.8" fill="#333" stroke="#333" stroke-width="0.2" text-anchor="middle" textLength="75.30" lengthAdjust="spacingAndGlyphs" transform="rotate(-90 324.20 544.80)">Recall donation (REDS IV)</text>
<text x="422.10" y="637.80" font-size="7.8" fill="#333" stroke="#333" stroke-width="0.2" text-anchor="middle" textLength="74.00" lengthAdjust="spacingAndGlyphs">Index donation (REDS III)</text>
<rect x="0.5" y="0.5" width="519" height="668" fill="none" stroke="#5c5c5c" stroke-width="1"/>
</svg>
</body></html>
